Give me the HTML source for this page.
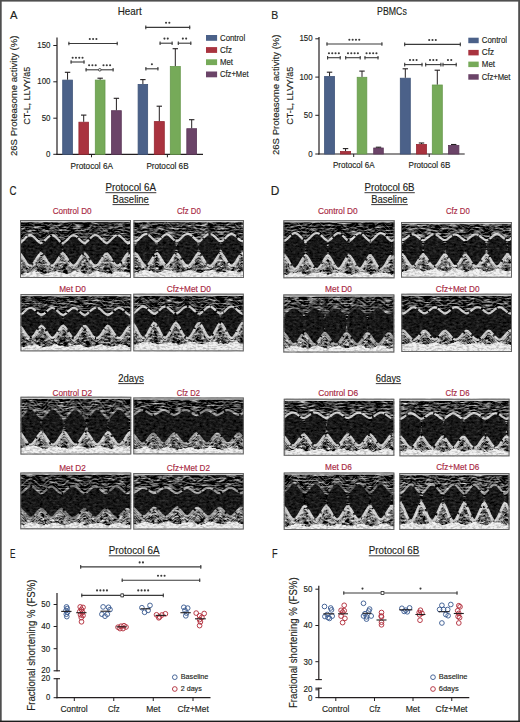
<!DOCTYPE html>
<html><head><meta charset="utf-8"><style>
html,body{margin:0;padding:0;background:#fff;}
body{width:520px;height:722px;overflow:hidden;font-family:"Liberation Sans", sans-serif;}
svg{display:block;}
</style></head><body>
<svg width="520" height="722" viewBox="0 0 520 722" font-family='"Liberation Sans", sans-serif'><rect x="0.00" y="0.00" width="520.00" height="722.00" fill="#ffffff"/><text x="10.00" y="19.00" font-size="11.5" fill="#231f20" stroke="#231f20" stroke-width="0.15" textLength="7.50" lengthAdjust="spacingAndGlyphs" >A</text><text x="117.70" y="14.80" font-size="10.5" fill="#231f20" stroke="#231f20" stroke-width="0.15" textLength="24.10" lengthAdjust="spacingAndGlyphs" >Heart</text><line x1="57.00" y1="37.50" x2="57.00" y2="154.80" stroke="#231f20" stroke-width="1.2"/><line x1="56.40" y1="154.30" x2="203.00" y2="154.30" stroke="#231f20" stroke-width="1.2"/><line x1="53.30" y1="45.50" x2="57.00" y2="45.50" stroke="#231f20" stroke-width="1"/><text x="37.30" y="48.00" font-size="9" fill="#231f20" stroke="#231f20" stroke-width="0.15" textLength="13.20" lengthAdjust="spacingAndGlyphs" >150</text><line x1="53.30" y1="81.80" x2="57.00" y2="81.80" stroke="#231f20" stroke-width="1"/><text x="37.30" y="84.30" font-size="9" fill="#231f20" stroke="#231f20" stroke-width="0.15" textLength="13.20" lengthAdjust="spacingAndGlyphs" >100</text><line x1="53.30" y1="118.20" x2="57.00" y2="118.20" stroke="#231f20" stroke-width="1"/><text x="41.70" y="120.70" font-size="9" fill="#231f20" stroke="#231f20" stroke-width="0.15" textLength="8.80" lengthAdjust="spacingAndGlyphs" >50</text><line x1="53.30" y1="154.30" x2="57.00" y2="154.30" stroke="#231f20" stroke-width="1"/><text x="46.10" y="156.80" font-size="9" fill="#231f20" stroke="#231f20" stroke-width="0.15" textLength="4.40" lengthAdjust="spacingAndGlyphs" >0</text><line x1="91.50" y1="154.30" x2="91.50" y2="157.30" stroke="#231f20" stroke-width="1"/><line x1="167.40" y1="154.30" x2="167.40" y2="157.30" stroke="#231f20" stroke-width="1"/><text x="70.50" y="168.50" font-size="9" fill="#231f20" stroke="#231f20" stroke-width="0.15" textLength="42.50" lengthAdjust="spacingAndGlyphs" >Protocol 6A</text><text x="146.40" y="168.50" font-size="9" fill="#231f20" stroke="#231f20" stroke-width="0.15" textLength="42.20" lengthAdjust="spacingAndGlyphs" >Protocol 6B</text><text transform="translate(17.20,156.00) rotate(-90)" x="0" y="0" font-size="9.5" fill="#231f20" stroke="#231f20" stroke-width="0.15" textLength="120.40" lengthAdjust="spacingAndGlyphs">26S Proteasome activity (%)</text><text transform="translate(30.40,124.80) rotate(-90)" x="0" y="0" font-size="9.5" fill="#231f20" stroke="#231f20" stroke-width="0.15" textLength="58.10" lengthAdjust="spacingAndGlyphs">CT-L, LLVY/&#228;5</text><rect x="62.70" y="80.10" width="9.70" height="74.20" fill="#4b6189" stroke="#3f5479" stroke-width="0.8"/><line x1="67.55" y1="79.70" x2="67.55" y2="72.30" stroke="#231f20" stroke-width="1"/><line x1="64.85" y1="72.30" x2="70.25" y2="72.30" stroke="#231f20" stroke-width="1.1"/><rect x="78.90" y="122.20" width="9.60" height="32.10" fill="#a9333f" stroke="#962833" stroke-width="0.8"/><line x1="83.70" y1="121.80" x2="83.70" y2="115.10" stroke="#231f20" stroke-width="1"/><line x1="81.00" y1="115.10" x2="86.40" y2="115.10" stroke="#231f20" stroke-width="1.1"/><rect x="95.30" y="80.10" width="9.70" height="74.20" fill="#76aa59" stroke="#67994c" stroke-width="0.8"/><line x1="100.15" y1="79.70" x2="100.15" y2="78.20" stroke="#231f20" stroke-width="1"/><line x1="97.45" y1="78.20" x2="102.85" y2="78.20" stroke="#231f20" stroke-width="1.1"/><rect x="111.50" y="110.70" width="9.80" height="43.60" fill="#6b4468" stroke="#5c3859" stroke-width="0.8"/><line x1="116.40" y1="110.30" x2="116.40" y2="98.30" stroke="#231f20" stroke-width="1"/><line x1="113.70" y1="98.30" x2="119.10" y2="98.30" stroke="#231f20" stroke-width="1.1"/><rect x="138.10" y="84.40" width="9.55" height="69.90" fill="#4b6189" stroke="#3f5479" stroke-width="0.8"/><line x1="142.88" y1="84.00" x2="142.88" y2="79.60" stroke="#231f20" stroke-width="1"/><line x1="140.18" y1="79.60" x2="145.57" y2="79.60" stroke="#231f20" stroke-width="1.1"/><rect x="154.30" y="121.60" width="10.00" height="32.70" fill="#a9333f" stroke="#962833" stroke-width="0.8"/><line x1="159.30" y1="121.20" x2="159.30" y2="106.20" stroke="#231f20" stroke-width="1"/><line x1="156.60" y1="106.20" x2="162.00" y2="106.20" stroke="#231f20" stroke-width="1.1"/><rect x="170.30" y="66.50" width="10.00" height="87.80" fill="#76aa59" stroke="#67994c" stroke-width="0.8"/><line x1="175.30" y1="66.10" x2="175.30" y2="48.70" stroke="#231f20" stroke-width="1"/><line x1="172.60" y1="48.70" x2="178.00" y2="48.70" stroke="#231f20" stroke-width="1.1"/><rect x="186.80" y="128.70" width="9.80" height="25.60" fill="#6b4468" stroke="#5c3859" stroke-width="0.8"/><line x1="191.70" y1="128.30" x2="191.70" y2="119.70" stroke="#231f20" stroke-width="1"/><line x1="189.00" y1="119.70" x2="194.40" y2="119.70" stroke="#231f20" stroke-width="1.1"/><line x1="68.40" y1="43.50" x2="117.70" y2="43.50" stroke="#3a3a3a" stroke-width="1.1"/><line x1="68.90" y1="41.70" x2="68.90" y2="45.30" stroke="#3a3a3a" stroke-width="1.1"/><line x1="117.20" y1="41.70" x2="117.20" y2="45.30" stroke="#3a3a3a" stroke-width="1.1"/><circle cx="89.80" cy="39.00" r="1.05" fill="#3a3a3a"/><circle cx="93.10" cy="39.00" r="1.05" fill="#3a3a3a"/><circle cx="96.40" cy="39.00" r="1.05" fill="#3a3a3a"/><line x1="70.60" y1="62.00" x2="84.50" y2="62.00" stroke="#3a3a3a" stroke-width="1.1"/><line x1="71.10" y1="60.20" x2="71.10" y2="63.80" stroke="#3a3a3a" stroke-width="1.1"/><line x1="84.00" y1="60.20" x2="84.00" y2="63.80" stroke="#3a3a3a" stroke-width="1.1"/><circle cx="72.65" cy="57.70" r="1.05" fill="#3a3a3a"/><circle cx="75.95" cy="57.70" r="1.05" fill="#3a3a3a"/><circle cx="79.25" cy="57.70" r="1.05" fill="#3a3a3a"/><circle cx="82.55" cy="57.70" r="1.05" fill="#3a3a3a"/><line x1="85.60" y1="69.80" x2="113.60" y2="69.80" stroke="#3a3a3a" stroke-width="1.1"/><line x1="86.10" y1="68.00" x2="86.10" y2="71.60" stroke="#3a3a3a" stroke-width="1.1"/><line x1="113.10" y1="68.00" x2="113.10" y2="71.60" stroke="#3a3a3a" stroke-width="1.1"/><circle cx="99.80" cy="69.80" r="1.3" fill="white" stroke="#3a3a3a" stroke-width="0.9"/><circle cx="89.10" cy="65.20" r="1.05" fill="#3a3a3a"/><circle cx="92.40" cy="65.20" r="1.05" fill="#3a3a3a"/><circle cx="95.70" cy="65.20" r="1.05" fill="#3a3a3a"/><circle cx="103.50" cy="65.20" r="1.05" fill="#3a3a3a"/><circle cx="106.80" cy="65.20" r="1.05" fill="#3a3a3a"/><circle cx="110.10" cy="65.20" r="1.05" fill="#3a3a3a"/><line x1="145.30" y1="27.40" x2="190.20" y2="27.40" stroke="#3a3a3a" stroke-width="1.1"/><line x1="145.80" y1="25.60" x2="145.80" y2="29.20" stroke="#3a3a3a" stroke-width="1.1"/><line x1="189.70" y1="25.60" x2="189.70" y2="29.20" stroke="#3a3a3a" stroke-width="1.1"/><circle cx="166.05" cy="22.80" r="1.05" fill="#3a3a3a"/><circle cx="169.35" cy="22.80" r="1.05" fill="#3a3a3a"/><line x1="159.60" y1="43.20" x2="172.60" y2="43.20" stroke="#3a3a3a" stroke-width="1.1"/><line x1="160.10" y1="41.40" x2="160.10" y2="45.00" stroke="#3a3a3a" stroke-width="1.1"/><line x1="172.10" y1="41.40" x2="172.10" y2="45.00" stroke="#3a3a3a" stroke-width="1.1"/><circle cx="164.45" cy="38.60" r="1.05" fill="#3a3a3a"/><circle cx="167.75" cy="38.60" r="1.05" fill="#3a3a3a"/><line x1="177.80" y1="43.20" x2="191.30" y2="43.20" stroke="#3a3a3a" stroke-width="1.1"/><line x1="178.30" y1="41.40" x2="178.30" y2="45.00" stroke="#3a3a3a" stroke-width="1.1"/><line x1="190.80" y1="41.40" x2="190.80" y2="45.00" stroke="#3a3a3a" stroke-width="1.1"/><circle cx="182.85" cy="38.60" r="1.05" fill="#3a3a3a"/><circle cx="186.15" cy="38.60" r="1.05" fill="#3a3a3a"/><line x1="145.40" y1="68.80" x2="158.40" y2="68.80" stroke="#3a3a3a" stroke-width="1.1"/><line x1="145.90" y1="67.00" x2="145.90" y2="70.60" stroke="#3a3a3a" stroke-width="1.1"/><line x1="157.90" y1="67.00" x2="157.90" y2="70.60" stroke="#3a3a3a" stroke-width="1.1"/><circle cx="151.90" cy="64.20" r="1.05" fill="#3a3a3a"/><rect x="206.00" y="35.00" width="11.10" height="5.80" fill="#4b6189"/><text x="220.00" y="40.90" font-size="9" fill="#231f20" stroke="#231f20" stroke-width="0.15" textLength="25.20" lengthAdjust="spacingAndGlyphs" >Control</text><rect x="206.00" y="47.10" width="11.10" height="5.80" fill="#a9333f"/><text x="220.00" y="53.00" font-size="9" fill="#231f20" stroke="#231f20" stroke-width="0.15" textLength="12.00" lengthAdjust="spacingAndGlyphs" >Cfz</text><rect x="206.00" y="59.30" width="11.10" height="5.80" fill="#76aa59"/><text x="220.00" y="65.20" font-size="9" fill="#231f20" stroke="#231f20" stroke-width="0.15" textLength="13.00" lengthAdjust="spacingAndGlyphs" >Met</text><rect x="206.00" y="71.50" width="11.10" height="5.80" fill="#6b4468"/><text x="220.00" y="77.40" font-size="9" fill="#231f20" stroke="#231f20" stroke-width="0.15" textLength="28.50" lengthAdjust="spacingAndGlyphs" >Cfz+Met</text><text x="271.20" y="19.00" font-size="11.5" fill="#231f20" stroke="#231f20" stroke-width="0.15" textLength="7.00" lengthAdjust="spacingAndGlyphs" >B</text><text x="377.10" y="14.70" font-size="10.5" fill="#231f20" stroke="#231f20" stroke-width="0.15" textLength="29.70" lengthAdjust="spacingAndGlyphs" >PBMCs</text><line x1="319.00" y1="37.00" x2="319.00" y2="154.60" stroke="#231f20" stroke-width="1.2"/><line x1="318.40" y1="154.00" x2="464.70" y2="154.00" stroke="#231f20" stroke-width="1.2"/><line x1="315.30" y1="38.80" x2="319.00" y2="38.80" stroke="#231f20" stroke-width="1"/><text x="299.40" y="41.30" font-size="9" fill="#231f20" stroke="#231f20" stroke-width="0.15" textLength="13.20" lengthAdjust="spacingAndGlyphs" >150</text><line x1="315.30" y1="77.10" x2="319.00" y2="77.10" stroke="#231f20" stroke-width="1"/><text x="299.40" y="79.60" font-size="9" fill="#231f20" stroke="#231f20" stroke-width="0.15" textLength="13.20" lengthAdjust="spacingAndGlyphs" >100</text><line x1="315.30" y1="115.30" x2="319.00" y2="115.30" stroke="#231f20" stroke-width="1"/><text x="303.80" y="117.80" font-size="9" fill="#231f20" stroke="#231f20" stroke-width="0.15" textLength="8.80" lengthAdjust="spacingAndGlyphs" >50</text><line x1="315.30" y1="154.00" x2="319.00" y2="154.00" stroke="#231f20" stroke-width="1"/><text x="308.20" y="156.50" font-size="9" fill="#231f20" stroke="#231f20" stroke-width="0.15" textLength="4.40" lengthAdjust="spacingAndGlyphs" >0</text><line x1="353.70" y1="154.00" x2="353.70" y2="157.00" stroke="#231f20" stroke-width="1"/><line x1="429.20" y1="154.00" x2="429.20" y2="157.00" stroke="#231f20" stroke-width="1"/><text x="333.00" y="167.80" font-size="9" fill="#231f20" stroke="#231f20" stroke-width="0.15" textLength="41.60" lengthAdjust="spacingAndGlyphs" >Protocol 6A</text><text x="408.50" y="167.80" font-size="9" fill="#231f20" stroke="#231f20" stroke-width="0.15" textLength="41.80" lengthAdjust="spacingAndGlyphs" >Protocol 6B</text><text transform="translate(279.20,155.00) rotate(-90)" x="0" y="0" font-size="9.5" fill="#231f20" stroke="#231f20" stroke-width="0.15" textLength="120.50" lengthAdjust="spacingAndGlyphs">26S Proteasome activity (%)</text><text transform="translate(292.50,124.80) rotate(-90)" x="0" y="0" font-size="9.5" fill="#231f20" stroke="#231f20" stroke-width="0.15" textLength="58.10" lengthAdjust="spacingAndGlyphs">CT-L, LLVY/&#228;5</text><rect x="324.60" y="76.50" width="9.90" height="77.50" fill="#4b6189" stroke="#3f5479" stroke-width="0.8"/><line x1="329.55" y1="76.10" x2="329.55" y2="72.20" stroke="#231f20" stroke-width="1"/><line x1="326.85" y1="72.20" x2="332.25" y2="72.20" stroke="#231f20" stroke-width="1.1"/><rect x="340.50" y="151.50" width="10.10" height="2.50" fill="#a9333f" stroke="#962833" stroke-width="0.8"/><line x1="345.55" y1="151.10" x2="345.55" y2="148.60" stroke="#231f20" stroke-width="1"/><line x1="342.85" y1="148.60" x2="348.25" y2="148.60" stroke="#231f20" stroke-width="1.1"/><rect x="357.20" y="77.30" width="9.60" height="76.70" fill="#76aa59" stroke="#67994c" stroke-width="0.8"/><line x1="362.00" y1="76.90" x2="362.00" y2="71.10" stroke="#231f20" stroke-width="1"/><line x1="359.30" y1="71.10" x2="364.70" y2="71.10" stroke="#231f20" stroke-width="1.1"/><rect x="373.70" y="148.00" width="9.60" height="6.00" fill="#6b4468" stroke="#5c3859" stroke-width="0.8"/><line x1="378.50" y1="147.60" x2="378.50" y2="147.20" stroke="#231f20" stroke-width="1"/><line x1="375.80" y1="147.20" x2="381.20" y2="147.20" stroke="#231f20" stroke-width="1.1"/><rect x="400.30" y="78.20" width="10.00" height="75.80" fill="#4b6189" stroke="#3f5479" stroke-width="0.8"/><line x1="405.30" y1="77.80" x2="405.30" y2="68.80" stroke="#231f20" stroke-width="1"/><line x1="402.60" y1="68.80" x2="408.00" y2="68.80" stroke="#231f20" stroke-width="1.1"/><rect x="416.50" y="144.40" width="10.00" height="9.60" fill="#a9333f" stroke="#962833" stroke-width="0.8"/><line x1="421.50" y1="144.00" x2="421.50" y2="143.00" stroke="#231f20" stroke-width="1"/><line x1="418.80" y1="143.00" x2="424.20" y2="143.00" stroke="#231f20" stroke-width="1.1"/><rect x="432.30" y="85.00" width="10.00" height="69.00" fill="#76aa59" stroke="#67994c" stroke-width="0.8"/><line x1="437.30" y1="84.60" x2="437.30" y2="70.20" stroke="#231f20" stroke-width="1"/><line x1="434.60" y1="70.20" x2="440.00" y2="70.20" stroke="#231f20" stroke-width="1.1"/><rect x="448.50" y="145.40" width="10.40" height="8.60" fill="#6b4468" stroke="#5c3859" stroke-width="0.8"/><line x1="453.70" y1="145.00" x2="453.70" y2="144.50" stroke="#231f20" stroke-width="1"/><line x1="451.00" y1="144.50" x2="456.40" y2="144.50" stroke="#231f20" stroke-width="1.1"/><line x1="326.50" y1="44.00" x2="382.40" y2="44.00" stroke="#3a3a3a" stroke-width="1.1"/><line x1="327.00" y1="42.20" x2="327.00" y2="45.80" stroke="#3a3a3a" stroke-width="1.1"/><line x1="381.90" y1="42.20" x2="381.90" y2="45.80" stroke="#3a3a3a" stroke-width="1.1"/><circle cx="349.35" cy="39.70" r="1.05" fill="#3a3a3a"/><circle cx="352.65" cy="39.70" r="1.05" fill="#3a3a3a"/><circle cx="355.95" cy="39.70" r="1.05" fill="#3a3a3a"/><circle cx="359.25" cy="39.70" r="1.05" fill="#3a3a3a"/><line x1="327.10" y1="57.70" x2="340.70" y2="57.70" stroke="#3a3a3a" stroke-width="1.1"/><line x1="327.60" y1="55.90" x2="327.60" y2="59.50" stroke="#3a3a3a" stroke-width="1.1"/><line x1="340.20" y1="55.90" x2="340.20" y2="59.50" stroke="#3a3a3a" stroke-width="1.1"/><circle cx="328.95" cy="53.20" r="1.05" fill="#3a3a3a"/><circle cx="332.25" cy="53.20" r="1.05" fill="#3a3a3a"/><circle cx="335.55" cy="53.20" r="1.05" fill="#3a3a3a"/><circle cx="338.85" cy="53.20" r="1.05" fill="#3a3a3a"/><line x1="345.20" y1="57.70" x2="360.70" y2="57.70" stroke="#3a3a3a" stroke-width="1.1"/><line x1="345.70" y1="55.90" x2="345.70" y2="59.50" stroke="#3a3a3a" stroke-width="1.1"/><line x1="360.20" y1="55.90" x2="360.20" y2="59.50" stroke="#3a3a3a" stroke-width="1.1"/><circle cx="348.00" cy="53.20" r="1.05" fill="#3a3a3a"/><circle cx="351.30" cy="53.20" r="1.05" fill="#3a3a3a"/><circle cx="354.60" cy="53.20" r="1.05" fill="#3a3a3a"/><circle cx="357.90" cy="53.20" r="1.05" fill="#3a3a3a"/><line x1="364.50" y1="57.70" x2="378.50" y2="57.70" stroke="#3a3a3a" stroke-width="1.1"/><line x1="365.00" y1="55.90" x2="365.00" y2="59.50" stroke="#3a3a3a" stroke-width="1.1"/><line x1="378.00" y1="55.90" x2="378.00" y2="59.50" stroke="#3a3a3a" stroke-width="1.1"/><circle cx="366.55" cy="53.20" r="1.05" fill="#3a3a3a"/><circle cx="369.85" cy="53.20" r="1.05" fill="#3a3a3a"/><circle cx="373.15" cy="53.20" r="1.05" fill="#3a3a3a"/><circle cx="376.45" cy="53.20" r="1.05" fill="#3a3a3a"/><line x1="404.20" y1="44.40" x2="460.80" y2="44.40" stroke="#3a3a3a" stroke-width="1.1"/><line x1="404.70" y1="42.60" x2="404.70" y2="46.20" stroke="#3a3a3a" stroke-width="1.1"/><line x1="460.30" y1="42.60" x2="460.30" y2="46.20" stroke="#3a3a3a" stroke-width="1.1"/><circle cx="429.20" cy="40.00" r="1.05" fill="#3a3a3a"/><circle cx="432.50" cy="40.00" r="1.05" fill="#3a3a3a"/><circle cx="435.80" cy="40.00" r="1.05" fill="#3a3a3a"/><line x1="404.20" y1="64.60" x2="422.50" y2="64.60" stroke="#3a3a3a" stroke-width="1.1"/><line x1="404.70" y1="62.80" x2="404.70" y2="66.40" stroke="#3a3a3a" stroke-width="1.1"/><line x1="422.00" y1="62.80" x2="422.00" y2="66.40" stroke="#3a3a3a" stroke-width="1.1"/><circle cx="410.00" cy="60.00" r="1.05" fill="#3a3a3a"/><circle cx="413.30" cy="60.00" r="1.05" fill="#3a3a3a"/><circle cx="416.60" cy="60.00" r="1.05" fill="#3a3a3a"/><line x1="425.20" y1="64.60" x2="441.40" y2="64.60" stroke="#3a3a3a" stroke-width="1.1"/><line x1="425.70" y1="62.80" x2="425.70" y2="66.40" stroke="#3a3a3a" stroke-width="1.1"/><line x1="440.90" y1="62.80" x2="440.90" y2="66.40" stroke="#3a3a3a" stroke-width="1.1"/><circle cx="430.00" cy="60.00" r="1.05" fill="#3a3a3a"/><circle cx="433.30" cy="60.00" r="1.05" fill="#3a3a3a"/><circle cx="436.60" cy="60.00" r="1.05" fill="#3a3a3a"/><line x1="442.50" y1="64.60" x2="456.70" y2="64.60" stroke="#3a3a3a" stroke-width="1.1"/><line x1="443.00" y1="62.80" x2="443.00" y2="66.40" stroke="#3a3a3a" stroke-width="1.1"/><line x1="456.20" y1="62.80" x2="456.20" y2="66.40" stroke="#3a3a3a" stroke-width="1.1"/><circle cx="447.95" cy="60.00" r="1.05" fill="#3a3a3a"/><circle cx="451.25" cy="60.00" r="1.05" fill="#3a3a3a"/><rect x="468.30" y="37.70" width="10.40" height="5.50" fill="#4b6189"/><text x="481.80" y="43.10" font-size="9" fill="#231f20" stroke="#231f20" stroke-width="0.15" textLength="25.30" lengthAdjust="spacingAndGlyphs" >Control</text><rect x="468.30" y="49.90" width="10.40" height="5.50" fill="#a9333f"/><text x="481.80" y="55.30" font-size="9" fill="#231f20" stroke="#231f20" stroke-width="0.15" textLength="12.20" lengthAdjust="spacingAndGlyphs" >Cfz</text><rect x="468.30" y="61.60" width="10.40" height="5.50" fill="#76aa59"/><text x="481.80" y="67.00" font-size="9" fill="#231f20" stroke="#231f20" stroke-width="0.15" textLength="13.20" lengthAdjust="spacingAndGlyphs" >Met</text><rect x="468.30" y="74.20" width="10.40" height="5.50" fill="#6b4468"/><text x="481.80" y="79.60" font-size="9" fill="#231f20" stroke="#231f20" stroke-width="0.15" textLength="28.70" lengthAdjust="spacingAndGlyphs" >Cfz+Met</text><text x="9.40" y="194.80" font-size="12" fill="#231f20" stroke="#231f20" stroke-width="0.15" textLength="7.00" lengthAdjust="spacingAndGlyphs" >C</text><text x="270.80" y="194.80" font-size="12" fill="#231f20" stroke="#231f20" stroke-width="0.15" textLength="8.60" lengthAdjust="spacingAndGlyphs" >D</text><text x="105.40" y="191.40" font-size="10.5" fill="#231f20" stroke="#231f20" stroke-width="0.15" textLength="50.60" lengthAdjust="spacingAndGlyphs" >Protocol 6A</text><line x1="105.40" y1="192.70" x2="156.30" y2="192.70" stroke="#231f20" stroke-width="0.9"/><text x="112.50" y="203.30" font-size="10.5" fill="#231f20" stroke="#231f20" stroke-width="0.15" textLength="36.40" lengthAdjust="spacingAndGlyphs" >Baseline</text><line x1="112.50" y1="204.60" x2="149.20" y2="204.60" stroke="#231f20" stroke-width="0.9"/><text x="118.25" y="382.30" font-size="10.5" fill="#231f20" stroke="#231f20" stroke-width="0.15" textLength="25.50" lengthAdjust="spacingAndGlyphs" >2days</text><line x1="118.25" y1="383.60" x2="144.05" y2="383.60" stroke="#231f20" stroke-width="0.9"/><text x="364.50" y="191.40" font-size="10.5" fill="#231f20" stroke="#231f20" stroke-width="0.15" textLength="50.00" lengthAdjust="spacingAndGlyphs" >Protocol 6B</text><line x1="364.50" y1="192.70" x2="414.80" y2="192.70" stroke="#231f20" stroke-width="0.9"/><text x="371.20" y="203.30" font-size="10.5" fill="#231f20" stroke="#231f20" stroke-width="0.15" textLength="36.30" lengthAdjust="spacingAndGlyphs" >Baseline</text><line x1="371.20" y1="204.60" x2="407.80" y2="204.60" stroke="#231f20" stroke-width="0.9"/><text x="375.80" y="382.30" font-size="10.5" fill="#231f20" stroke="#231f20" stroke-width="0.15" textLength="25.00" lengthAdjust="spacingAndGlyphs" >6days</text><line x1="375.80" y1="383.60" x2="401.10" y2="383.60" stroke="#231f20" stroke-width="0.9"/><text x="52.70" y="214.20" font-size="8.5" fill="#a8283f" stroke="#a8283f" stroke-width="0.15" textLength="38.90" lengthAdjust="spacingAndGlyphs" >Control D0</text><clipPath id="c0"><rect x="20" y="220" width="111" height="58"/></clipPath><filter id="nu0" x="0" y="0" width="100%" height="100%" color-interpolation-filters="sRGB"><feTurbulence type="fractalNoise" baseFrequency="0.12 0.6" numOctaves="3" seed="3"/><feColorMatrix type="matrix" values="1.833 0 0 0 -0.775  1.833 0 0 0 -0.775  1.833 0 0 0 -0.775  0 0 0 0 1"/><feGaussianBlur stdDeviation="0.3"/></filter><filter id="nc0" x="0" y="0" width="100%" height="100%" color-interpolation-filters="sRGB"><feTurbulence type="fractalNoise" baseFrequency="0.3 0.5" numOctaves="2" seed="23"/><feColorMatrix type="matrix" values="0.333 0 0 0 -0.073  0.333 0 0 0 -0.073  0.333 0 0 0 -0.073  0 0 0 0 1"/></filter><filter id="nb0" x="0" y="0" width="100%" height="100%" color-interpolation-filters="sRGB"><feTurbulence type="fractalNoise" baseFrequency="0.3 0.6" numOctaves="2" seed="43"/><feColorMatrix type="matrix" values="3.000 0 0 0 -0.716  3.000 0 0 0 -0.716  3.000 0 0 0 -0.716  0 0 0 0 1"/><feGaussianBlur stdDeviation="0.3"/></filter><filter id="bl0" x="0" y="0" width="100%" height="100%"><feGaussianBlur stdDeviation="0.35"/></filter><g clip-path="url(#c0)"><g filter="url(#bl0)"><rect x="20" y="220" width="111" height="58" fill="#000" filter="url(#nu0)"/><filter id="nl0" x="0" y="0" width="100%" height="100%" color-interpolation-filters="sRGB"><feTurbulence type="fractalNoise" baseFrequency="0.22 0.5" numOctaves="3" seed="63"/><feColorMatrix type="matrix" values="2.000 0 0 0 -0.769  2.000 0 0 0 -0.769  2.000 0 0 0 -0.769  0 0 0 0 1"/><feGaussianBlur stdDeviation="0.35"/></filter><clipPath id="cl0"><polygon points="20.0,254.6 21.6,256.3 23.2,258.6 24.8,261.2 26.3,263.6 27.9,265.6 29.5,266.7 31.1,266.6 32.7,265.3 34.3,263.2 35.9,260.7 37.4,258.2 39.0,256.0 40.6,254.4 42.2,254.9 43.8,256.8 45.4,259.2 47.0,261.8 48.5,264.1 50.1,265.9 51.7,266.8 53.3,266.2 54.9,264.6 56.5,262.4 58.1,259.8 59.6,257.4 61.2,255.3 62.8,254.1 64.4,255.5 66.0,257.6 67.6,260.1 69.2,262.6 70.7,264.8 72.3,266.3 73.9,266.7 75.5,265.8 77.1,263.9 78.7,261.5 80.3,258.9 81.8,256.6 83.4,254.8 85.0,254.5 86.6,256.2 88.2,258.4 89.8,261.0 91.4,263.5 92.9,265.5 94.5,266.6 96.1,266.7 97.7,265.8 99.3,263.9 100.9,261.5 102.5,258.9 104.0,256.6 105.6,254.8 107.2,254.5 108.8,256.2 110.4,258.4 112.0,261.0 113.6,263.5 115.1,265.5 116.7,266.6 118.3,266.6 119.9,265.4 121.5,263.4 123.1,260.9 124.7,258.3 126.2,256.1 127.8,254.5 129.4,254.8 131.0,256.7 131.0,278.0 20.0,278.0"/></clipPath><rect x="20" y="220" width="111" height="58" fill="#000" filter="url(#nl0)" clip-path="url(#cl0)"/><polyline points="20.0,239.4 21.6,238.3 23.2,236.8 24.8,235.2 26.3,233.6 27.9,232.4 29.5,231.7 31.1,231.7 32.7,232.6 34.3,233.9 35.9,235.5 37.4,237.1 39.0,238.5 40.6,239.5 42.2,239.1 43.8,238.0 45.4,236.4 47.0,234.8 48.5,233.3 50.1,232.2 51.7,231.6 53.3,232.0 54.9,233.0 56.5,234.4 58.1,236.0 59.6,237.6 61.2,238.9 62.8,239.7 64.4,238.8 66.0,237.5 67.6,235.9 69.2,234.2 70.7,232.8 72.3,231.9 73.9,231.6 75.5,232.2 77.1,233.4 78.7,235.0 80.3,236.6 81.8,238.1 83.4,239.2 85.0,239.4 86.6,238.4 88.2,236.9 89.8,235.3 91.4,233.7 92.9,232.4 94.5,231.7 96.1,231.6 97.7,232.2 99.3,233.4 100.9,235.0 102.5,236.6 104.0,238.1 105.6,239.2 107.2,239.4 108.8,238.4 110.4,236.9 112.0,235.3 113.6,233.7 115.1,232.4 116.7,231.7 118.3,231.7 119.9,232.5 121.5,233.8 123.1,235.3 124.7,237.0 126.2,238.4 127.8,239.4 129.4,239.2 131.0,238.1" fill="none" stroke="#cfcfcf" stroke-width="0.9" stroke-opacity="0.40" stroke-dasharray="6.1,3.8,8.2,4.5,8.5,1.3,4.9,1.2,9.8,1.7,6.9,3.9,6.0,4.5,7.0,1.1,4.8,2.7,4.3,1.4,6.7,3.9,9.9,4.8,3.4,2.3,5.3,1.7,5.8,4.6,9.1,4.8,6.6,2.1,4.9,3.8,6.0,2.4,9.3,2.7"/><polyline points="20.0,235.4 21.6,234.3 23.2,232.8 24.8,231.2 26.3,229.6 27.9,228.4 29.5,227.7 31.1,227.7 32.7,228.6 34.3,229.9 35.9,231.5 37.4,233.1 39.0,234.5 40.6,235.5 42.2,235.1 43.8,234.0 45.4,232.4 47.0,230.8 48.5,229.3 50.1,228.2 51.7,227.6 53.3,228.0 54.9,229.0 56.5,230.4 58.1,232.0 59.6,233.6 61.2,234.9 62.8,235.7 64.4,234.8 66.0,233.5 67.6,231.9 69.2,230.2 70.7,228.8 72.3,227.9 73.9,227.6 75.5,228.2 77.1,229.4 78.7,231.0 80.3,232.6 81.8,234.1 83.4,235.2 85.0,235.4 86.6,234.4 88.2,232.9 89.8,231.3 91.4,229.7 92.9,228.4 94.5,227.7 96.1,227.6 97.7,228.2 99.3,229.4 100.9,231.0 102.5,232.6 104.0,234.1 105.6,235.2 107.2,235.4 108.8,234.4 110.4,232.9 112.0,231.3 113.6,229.7 115.1,228.4 116.7,227.7 118.3,227.7 119.9,228.5 121.5,229.8 123.1,231.3 124.7,233.0 126.2,234.4 127.8,235.4 129.4,235.2 131.0,234.1" fill="none" stroke="#b0b0b0" stroke-width="1.1" stroke-opacity="0.38" stroke-dasharray="5.9,3.6,9.4,2.2,5.6,3.3,5.1,3.4,6.8,2.7,7.7,3.1,3.6,5.0,5.5,2.7,5.8,4.7,9.7,3.0,5.8,1.4,9.3,1.7,6.8,2.4,5.3,2.4,4.3,1.1,6.7,4.2,7.5,1.8,7.9,1.2,5.9,4.3,9.4,2.8"/><polyline points="20.0,231.4 21.6,230.3 23.2,228.8 24.8,227.2 26.3,225.6 27.9,224.4 29.5,223.7 31.1,223.7 32.7,224.6 34.3,225.9 35.9,227.5 37.4,229.1 39.0,230.5 40.6,231.5 42.2,231.1 43.8,230.0 45.4,228.4 47.0,226.8 48.5,225.3 50.1,224.2 51.7,223.6 53.3,224.0 54.9,225.0 56.5,226.4 58.1,228.0 59.6,229.6 61.2,230.9 62.8,231.7 64.4,230.8 66.0,229.5 67.6,227.9 69.2,226.2 70.7,224.8 72.3,223.9 73.9,223.6 75.5,224.2 77.1,225.4 78.7,227.0 80.3,228.6 81.8,230.1 83.4,231.2 85.0,231.4 86.6,230.4 88.2,228.9 89.8,227.3 91.4,225.7 92.9,224.4 94.5,223.7 96.1,223.6 97.7,224.2 99.3,225.4 100.9,227.0 102.5,228.6 104.0,230.1 105.6,231.2 107.2,231.4 108.8,230.4 110.4,228.9 112.0,227.3 113.6,225.7 115.1,224.4 116.7,223.7 118.3,223.7 119.9,224.5 121.5,225.8 123.1,227.3 124.7,229.0 126.2,230.4 127.8,231.4 129.4,231.2 131.0,230.1" fill="none" stroke="#cfcfcf" stroke-width="1.1" stroke-opacity="0.38" stroke-dasharray="7.1,5.0,8.2,2.9,8.1,3.6,5.5,4.1,8.7,3.4,9.6,1.1,6.5,3.5,5.4,1.7,7.8,2.7,4.9,1.2,9.8,2.4,3.8,1.9,4.8,4.5,4.3,2.1,3.7,2.9,4.5,2.4,8.1,4.7,8.8,1.2,5.6,4.4,3.2,1.8"/><polyline points="20.0,256.6 21.6,258.3 23.2,260.6 24.8,263.2 26.3,265.6 27.9,267.6 29.5,268.7 31.1,268.6 32.7,267.3 34.3,265.2 35.9,262.7 37.4,260.2 39.0,258.0 40.6,256.4 42.2,256.9 43.8,258.8 45.4,261.2 47.0,263.8 48.5,266.1 50.1,267.9 51.7,268.8 53.3,268.2 54.9,266.6 56.5,264.4 58.1,261.8 59.6,259.4 61.2,257.3 62.8,256.1 64.4,257.5 66.0,259.6 67.6,262.1 69.2,264.6 70.7,266.8 72.3,268.3 73.9,268.7 75.5,267.8 77.1,265.9 78.7,263.5 80.3,260.9 81.8,258.6 83.4,256.8 85.0,256.5 86.6,258.2 88.2,260.4 89.8,263.0 91.4,265.5 92.9,267.5 94.5,268.6 96.1,268.7 97.7,267.8 99.3,265.9 100.9,263.5 102.5,260.9 104.0,258.6 105.6,256.8 107.2,256.5 108.8,258.2 110.4,260.4 112.0,263.0 113.6,265.5 115.1,267.5 116.7,268.6 118.3,268.6 119.9,267.4 121.5,265.4 123.1,262.9 124.7,260.3 126.2,258.1 127.8,256.5 129.4,256.8 131.0,258.7" fill="none" stroke="#c0c0c0" stroke-width="1.3" stroke-opacity="0.36" stroke-dasharray="9.2,2.3,5.3,3.7,4.0,3.8,11.4,2.7,4.6,3.9,5.9,1.1,4.4,1.8,10.6,3.1,5.5,3.3,4.9,3.4,7.1,3.0,7.0,2.3,6.2,1.8,11.7,3.1,9.3,2.8,4.0,3.5,11.6,2.9,8.8,1.8,10.6,1.8,5.3,2.6"/><polyline points="20.0,259.2 21.6,260.9 23.2,263.2 24.8,265.8 26.3,268.2 27.9,270.2 29.5,271.3 31.1,271.2 32.7,269.9 34.3,267.8 35.9,265.3 37.4,262.8 39.0,260.6 40.6,259.0 42.2,259.5 43.8,261.4 45.4,263.8 47.0,266.4 48.5,268.7 50.1,270.5 51.7,271.4 53.3,270.8 54.9,269.2 56.5,267.0 58.1,264.4 59.6,262.0 61.2,259.9 62.8,258.7 64.4,260.1 66.0,262.2 67.6,264.7 69.2,267.2 70.7,269.4 72.3,270.9 73.9,271.3 75.5,270.4 77.1,268.5 78.7,266.1 80.3,263.5 81.8,261.2 83.4,259.4 85.0,259.1 86.6,260.8 88.2,263.0 89.8,265.6 91.4,268.1 92.9,270.1 94.5,271.2 96.1,271.3 97.7,270.4 99.3,268.5 100.9,266.1 102.5,263.5 104.0,261.2 105.6,259.4 107.2,259.1 108.8,260.8 110.4,263.0 112.0,265.6 113.6,268.1 115.1,270.1 116.7,271.2 118.3,271.2 119.9,270.0 121.5,268.0 123.1,265.5 124.7,262.9 126.2,260.7 127.8,259.1 129.4,259.4 131.0,261.3" fill="none" stroke="#c0c0c0" stroke-width="1.4" stroke-opacity="0.48" stroke-dasharray="9.3,3.5,11.8,1.6,6.7,3.6,9.9,2.2,8.9,1.6,4.5,1.2,6.4,1.7,7.7,3.9,4.4,2.7,10.8,2.8,7.7,3.3,3.2,3.8,9.2,3.4,10.4,1.3,3.6,1.5,7.5,3.8,11.2,2.2,8.6,3.2,6.0,3.9,11.5,3.2"/><polyline points="20.0,261.8 21.6,263.5 23.2,265.8 24.8,268.4 26.3,270.8 27.9,272.8 29.5,273.9 31.1,273.8 32.7,272.5 34.3,270.4 35.9,267.9 37.4,265.4 39.0,263.2 40.6,261.6 42.2,262.1 43.8,264.0 45.4,266.4 47.0,269.0 48.5,271.3 50.1,273.1 51.7,274.0 53.3,273.4 54.9,271.8 56.5,269.6 58.1,267.0 59.6,264.6 61.2,262.5 62.8,261.3 64.4,262.7 66.0,264.8 67.6,267.3 69.2,269.8 70.7,272.0 72.3,273.5 73.9,273.9 75.5,273.0 77.1,271.1 78.7,268.7 80.3,266.1 81.8,263.8 83.4,262.0 85.0,261.7 86.6,263.4 88.2,265.6 89.8,268.2 91.4,270.7 92.9,272.7 94.5,273.8 96.1,273.9 97.7,273.0 99.3,271.1 100.9,268.7 102.5,266.1 104.0,263.8 105.6,262.0 107.2,261.7 108.8,263.4 110.4,265.6 112.0,268.2 113.6,270.7 115.1,272.7 116.7,273.8 118.3,273.8 119.9,272.6 121.5,270.6 123.1,268.1 124.7,265.5 126.2,263.3 127.8,261.7 129.4,262.0 131.0,263.9" fill="none" stroke="#d8d8d8" stroke-width="1.4" stroke-opacity="0.51" stroke-dasharray="5.9,1.8,5.1,1.2,11.3,1.9,3.2,1.9,3.9,2.3,6.0,1.5,7.3,2.2,6.2,3.4,5.8,2.6,10.9,3.9,6.4,1.1,11.6,2.5,5.0,1.4,5.2,1.9,4.2,1.1,11.9,3.5,4.0,2.4,10.2,2.5,3.6,2.0,6.4,3.7"/><polyline points="20.0,264.4 21.6,266.1 23.2,268.4 24.8,271.0 26.3,273.4 27.9,275.4 29.5,276.5 31.1,276.4 32.7,275.1 34.3,273.0 35.9,270.5 37.4,268.0 39.0,265.8 40.6,264.2 42.2,264.7 43.8,266.6 45.4,269.0 47.0,271.6 48.5,273.9 50.1,275.7 51.7,276.6 53.3,276.0 54.9,274.4 56.5,272.2 58.1,269.6 59.6,267.2 61.2,265.1 62.8,263.9 64.4,265.3 66.0,267.4 67.6,269.9 69.2,272.4 70.7,274.6 72.3,276.1 73.9,276.5 75.5,275.6 77.1,273.7 78.7,271.3 80.3,268.7 81.8,266.4 83.4,264.6 85.0,264.3 86.6,266.0 88.2,268.2 89.8,270.8 91.4,273.3 92.9,275.3 94.5,276.4 96.1,276.5 97.7,275.6 99.3,273.7 100.9,271.3 102.5,268.7 104.0,266.4 105.6,264.6 107.2,264.3 108.8,266.0 110.4,268.2 112.0,270.8 113.6,273.3 115.1,275.3 116.7,276.4 118.3,276.4 119.9,275.2 121.5,273.2 123.1,270.7 124.7,268.1 126.2,265.9 127.8,264.3 129.4,264.6 131.0,266.5" fill="none" stroke="#eeeeee" stroke-width="1.4" stroke-opacity="0.46" stroke-dasharray="7.8,2.2,7.1,3.6,7.0,1.6,9.2,3.8,4.0,3.5,9.8,1.2,8.1,3.4,5.4,1.4,9.9,1.5,10.1,2.6,8.3,1.6,10.1,3.2,7.0,3.1,10.0,3.0,7.1,3.4,6.8,3.3,4.9,1.7,8.8,1.8,5.6,1.1,11.3,2.8"/><clipPath id="cv0"><polygon points="20.0,245.6 21.6,243.0 23.2,241.5 24.8,239.9 26.3,238.3 27.9,237.1 29.5,236.4 31.1,236.4 32.7,237.3 34.3,238.6 35.9,240.2 37.4,241.8 39.0,243.2 40.6,247.0 42.2,243.8 43.8,242.7 45.4,241.1 47.0,239.5 48.5,238.0 50.1,236.9 51.7,236.3 53.3,236.7 54.9,237.7 56.5,239.1 58.1,240.7 59.6,242.3 61.2,243.6 62.8,249.0 64.4,243.5 66.0,242.2 67.6,240.6 69.2,238.9 70.7,237.5 72.3,236.6 73.9,236.3 75.5,236.9 77.1,238.1 78.7,239.7 80.3,241.3 81.8,242.8 83.4,244.4 85.0,246.2 86.6,243.1 88.2,241.6 89.8,240.0 91.4,238.4 92.9,237.1 94.5,236.4 96.1,236.3 97.7,236.9 99.3,238.1 100.9,239.7 102.5,241.3 104.0,242.8 105.6,244.4 107.2,246.2 108.8,243.1 110.4,241.6 112.0,240.0 113.6,238.4 115.1,237.1 116.7,236.4 118.3,236.4 119.9,237.2 121.5,238.5 123.1,240.0 124.7,241.7 126.2,243.1 127.8,246.5 129.4,244.1 131.0,242.8 131.0,254.5 129.4,252.4 127.8,249.9 126.2,253.9 124.7,256.1 123.1,258.7 121.5,261.2 119.9,263.2 118.3,264.4 116.7,264.4 115.1,263.3 113.6,261.3 112.0,258.8 110.4,256.2 108.8,254.0 107.2,250.2 105.6,252.1 104.0,254.4 102.5,256.7 100.9,259.3 99.3,261.7 97.7,263.6 96.1,264.5 94.5,264.4 92.9,263.3 91.4,261.3 89.8,258.8 88.2,256.2 86.6,254.0 85.0,250.2 83.4,252.1 81.8,254.4 80.3,256.7 78.7,259.3 77.1,261.7 75.5,263.6 73.9,264.5 72.3,264.1 70.7,262.6 69.2,260.4 67.6,257.9 66.0,255.4 64.4,253.3 62.8,247.3 61.2,253.1 59.6,255.2 58.1,257.6 56.5,260.2 54.9,262.4 53.3,264.0 51.7,264.6 50.1,263.7 48.5,261.9 47.0,259.6 45.4,257.0 43.8,254.6 42.2,252.7 40.6,249.3 39.0,253.8 37.4,256.0 35.9,258.5 34.3,261.0 32.7,263.1 31.1,264.4 29.5,264.5 27.9,263.4 26.3,261.4 24.8,259.0 23.2,256.4 21.6,254.1 20.0,250.8"/></clipPath><rect x="20" y="220" width="111" height="58" fill="#000" filter="url(#nc0)" clip-path="url(#cv0)" opacity="0.92"/><polyline points="20.0,242.9 21.6,241.8 23.2,240.3 24.8,238.7 26.3,237.1 27.9,235.9 29.5,235.2 31.1,235.2 32.7,236.1 34.3,237.4 35.9,239.0 37.4,240.6 39.0,242.0 40.6,243.0 42.2,242.6 43.8,241.5 45.4,239.9 47.0,238.3 48.5,236.8 50.1,235.7 51.7,235.1 53.3,235.5 54.9,236.5 56.5,237.9 58.1,239.5 59.6,241.1 61.2,242.4 62.8,243.2 64.4,242.3 66.0,241.0 67.6,239.4 69.2,237.7 70.7,236.3 72.3,235.4 73.9,235.1 75.5,235.7 77.1,236.9 78.7,238.5 80.3,240.1 81.8,241.6 83.4,242.7 85.0,242.9 86.6,241.9 88.2,240.4 89.8,238.8 91.4,237.2 92.9,235.9 94.5,235.2 96.1,235.1 97.7,235.7 99.3,236.9 100.9,238.5 102.5,240.1 104.0,241.6 105.6,242.7 107.2,242.9 108.8,241.9 110.4,240.4 112.0,238.8 113.6,237.2 115.1,235.9 116.7,235.2 118.3,235.2 119.9,236.0 121.5,237.3 123.1,238.8 124.7,240.5 126.2,241.9 127.8,242.9 129.4,242.7 131.0,241.6" fill="none" stroke="#f4f4f4" stroke-width="2.2" stroke-opacity="0.8" stroke-dasharray="9.4,1.6,17.3,2.5,7.7,2.1,10.9,1.4,19.5,1.0,13.7,1.7,15.1,1.0,17.3,1.7,18.9,1.5,7.4,1.7,16.4,0.8,8.3,2.5,10.7,1.6,8.3,1.8,15.9,1.2,7.7,1.1,16.0,2.0,15.4,2.0,13.5,1.4,17.0,1.3"/><polyline points="20.0,253.6 21.6,255.3 23.2,257.6 24.8,260.2 26.3,262.6 27.9,264.6 29.5,265.7 31.1,265.6 32.7,264.3 34.3,262.2 35.9,259.7 37.4,257.2 39.0,255.0 40.6,253.4 42.2,253.9 43.8,255.8 45.4,258.2 47.0,260.8 48.5,263.1 50.1,264.9 51.7,265.8 53.3,265.2 54.9,263.6 56.5,261.4 58.1,258.8 59.6,256.4 61.2,254.3 62.8,253.1 64.4,254.5 66.0,256.6 67.6,259.1 69.2,261.6 70.7,263.8 72.3,265.3 73.9,265.7 75.5,264.8 77.1,262.9 78.7,260.5 80.3,257.9 81.8,255.6 83.4,253.8 85.0,253.5 86.6,255.2 88.2,257.4 89.8,260.0 91.4,262.5 92.9,264.5 94.5,265.6 96.1,265.7 97.7,264.8 99.3,262.9 100.9,260.5 102.5,257.9 104.0,255.6 105.6,253.8 107.2,253.5 108.8,255.2 110.4,257.4 112.0,260.0 113.6,262.5 115.1,264.5 116.7,265.6 118.3,265.6 119.9,264.4 121.5,262.4 123.1,259.9 124.7,257.3 126.2,255.1 127.8,253.5 129.4,253.8 131.0,255.7" fill="none" stroke="#f4f4f4" stroke-width="2.3" stroke-opacity="0.8" stroke-dasharray="17.9,2.1,14.9,1.8,11.1,0.8,13.4,2.4,11.8,2.4,19.3,2.1,7.3,2.3,19.6,1.2,14.0,1.8,9.8,2.0,10.6,1.5,7.4,0.9,10.9,0.9,12.2,2.2,6.2,1.9,11.9,1.4,6.4,1.6,9.0,1.0,13.9,2.3,19.1,2.5"/><polyline points="20.0,256.4 21.6,258.1 23.2,260.4 24.8,263.0 26.3,265.4 27.9,267.4 29.5,268.5 31.1,268.4 32.7,267.1 34.3,265.0 35.9,262.5 37.4,260.0 39.0,257.8 40.6,256.2 42.2,256.7 43.8,258.6 45.4,261.0 47.0,263.6 48.5,265.9 50.1,267.7 51.7,268.6 53.3,268.0 54.9,266.4 56.5,264.2 58.1,261.6 59.6,259.2 61.2,257.1 62.8,255.9 64.4,257.3 66.0,259.4 67.6,261.9 69.2,264.4 70.7,266.6 72.3,268.1 73.9,268.5 75.5,267.6 77.1,265.7 78.7,263.3 80.3,260.7 81.8,258.4 83.4,256.6 85.0,256.3 86.6,258.0 88.2,260.2 89.8,262.8 91.4,265.3 92.9,267.3 94.5,268.4 96.1,268.5 97.7,267.6 99.3,265.7 100.9,263.3 102.5,260.7 104.0,258.4 105.6,256.6 107.2,256.3 108.8,258.0 110.4,260.2 112.0,262.8 113.6,265.3 115.1,267.3 116.7,268.4 118.3,268.4 119.9,267.2 121.5,265.2 123.1,262.7 124.7,260.1 126.2,257.9 127.8,256.3 129.4,256.6 131.0,258.5" fill="none" stroke="#e8e8e8" stroke-width="1.3" stroke-opacity="0.56" stroke-dasharray="6.1,1.9,7.0,1.8,6.8,1.5,5.6,3.0,6.9,1.8,11.5,2.0,7.8,2.2,8.6,1.5,8.1,2.1,14.7,1.3,9.2,1.3,13.1,2.5,12.5,1.7,14.2,2.6,14.2,1.9,11.1,2.0,6.9,1.4,12.3,1.1,5.3,2.0,10.5,1.4"/><polygon points="20.0,273.7 21.6,274.4 23.2,274.4 24.8,272.8 26.3,272.5 27.9,273.0 29.5,272.3 31.1,271.6 32.7,271.6 34.3,270.8 35.9,272.3 37.4,271.6 39.0,272.1 40.6,273.7 42.2,274.3 43.8,274.4 45.4,273.9 47.0,273.0 48.5,273.5 50.1,272.4 51.7,272.0 53.3,271.7 54.9,271.4 56.5,271.0 58.1,272.0 59.6,271.7 61.2,272.6 62.8,272.7 64.4,272.9 66.0,274.0 67.6,274.2 69.2,273.3 70.7,273.1 72.3,271.7 73.9,271.0 75.5,270.7 77.1,272.0 78.7,271.9 80.3,271.1 81.8,272.6 83.4,273.2 85.0,273.8 86.6,273.5 88.2,273.9 89.8,273.8 91.4,273.4 92.9,272.0 94.5,271.6 96.1,271.2 97.7,270.7 99.3,271.7 100.9,271.5 102.5,272.5 104.0,272.6 105.6,272.9 107.2,274.2 108.8,273.3 110.4,273.3 112.0,274.1 113.6,272.2 115.1,271.7 116.7,272.1 118.3,270.7 119.9,272.0 121.5,271.4 123.1,271.5 124.7,271.9 126.2,272.7 127.8,273.2 129.4,273.3 131.0,274.4 131.0,278.0 20.0,278.0" fill="#f6f6f6" fill-opacity="0.95"/><clipPath id="cb0"><polygon points="20.0,273.7 21.6,274.4 23.2,274.4 24.8,272.8 26.3,272.5 27.9,273.0 29.5,272.3 31.1,271.6 32.7,271.6 34.3,270.8 35.9,272.3 37.4,271.6 39.0,272.1 40.6,273.7 42.2,274.3 43.8,274.4 45.4,273.9 47.0,273.0 48.5,273.5 50.1,272.4 51.7,272.0 53.3,271.7 54.9,271.4 56.5,271.0 58.1,272.0 59.6,271.7 61.2,272.6 62.8,272.7 64.4,272.9 66.0,274.0 67.6,274.2 69.2,273.3 70.7,273.1 72.3,271.7 73.9,271.0 75.5,270.7 77.1,272.0 78.7,271.9 80.3,271.1 81.8,272.6 83.4,273.2 85.0,273.8 86.6,273.5 88.2,273.9 89.8,273.8 91.4,273.4 92.9,272.0 94.5,271.6 96.1,271.2 97.7,270.7 99.3,271.7 100.9,271.5 102.5,272.5 104.0,272.6 105.6,272.9 107.2,274.2 108.8,273.3 110.4,273.3 112.0,274.1 113.6,272.2 115.1,271.7 116.7,272.1 118.3,270.7 119.9,272.0 121.5,271.4 123.1,271.5 124.7,271.9 126.2,272.7 127.8,273.2 129.4,273.3 131.0,274.4 131.0,278.0 20.0,278.0"/></clipPath><rect x="20" y="220" width="111" height="58" fill="#000" filter="url(#nb0)" clip-path="url(#cb0)" opacity="0.22"/><rect x="20" y="220" width="111" height="2.2" fill="#e4e4e4" fill-opacity="0.85"/></g></g><rect x="20.5" y="220.5" width="110" height="57" fill="none" stroke="#666666" stroke-width="1"/><text x="177.00" y="214.20" font-size="8.5" fill="#a8283f" stroke="#a8283f" stroke-width="0.15" textLength="23.80" lengthAdjust="spacingAndGlyphs" >Cfz D0</text><clipPath id="c1"><rect x="133.5" y="220" width="110.5" height="58"/></clipPath><filter id="nu1" x="0" y="0" width="100%" height="100%" color-interpolation-filters="sRGB"><feTurbulence type="fractalNoise" baseFrequency="0.12 0.6" numOctaves="3" seed="4"/><feColorMatrix type="matrix" values="1.833 0 0 0 -0.721  1.833 0 0 0 -0.721  1.833 0 0 0 -0.721  0 0 0 0 1"/><feGaussianBlur stdDeviation="0.3"/></filter><filter id="nc1" x="0" y="0" width="100%" height="100%" color-interpolation-filters="sRGB"><feTurbulence type="fractalNoise" baseFrequency="0.3 0.5" numOctaves="2" seed="24"/><feColorMatrix type="matrix" values="0.333 0 0 0 -0.073  0.333 0 0 0 -0.073  0.333 0 0 0 -0.073  0 0 0 0 1"/></filter><filter id="nb1" x="0" y="0" width="100%" height="100%" color-interpolation-filters="sRGB"><feTurbulence type="fractalNoise" baseFrequency="0.3 0.6" numOctaves="2" seed="44"/><feColorMatrix type="matrix" values="3.000 0 0 0 -0.716  3.000 0 0 0 -0.716  3.000 0 0 0 -0.716  0 0 0 0 1"/><feGaussianBlur stdDeviation="0.3"/></filter><filter id="bl1" x="0" y="0" width="100%" height="100%"><feGaussianBlur stdDeviation="0.35"/></filter><g clip-path="url(#c1)"><g filter="url(#bl1)"><rect x="133.5" y="220" width="110.5" height="58" fill="#000" filter="url(#nu1)"/><filter id="nl1" x="0" y="0" width="100%" height="100%" color-interpolation-filters="sRGB"><feTurbulence type="fractalNoise" baseFrequency="0.22 0.5" numOctaves="3" seed="64"/><feColorMatrix type="matrix" values="2.000 0 0 0 -0.749  2.000 0 0 0 -0.749  2.000 0 0 0 -0.749  0 0 0 0 1"/><feGaussianBlur stdDeviation="0.35"/></filter><clipPath id="cl1"><polygon points="133.5,255.8 135.1,254.2 136.7,255.2 138.2,257.2 139.8,259.6 141.4,262.3 143.0,264.6 144.6,266.2 146.1,266.8 147.7,266.0 149.3,264.3 150.9,261.9 152.4,259.3 154.0,256.9 155.6,255.0 157.2,254.4 158.8,256.0 160.3,258.3 161.9,260.9 163.5,263.4 165.1,265.4 166.7,266.6 168.2,265.4 169.8,263.4 171.4,260.9 173.0,258.3 174.5,256.0 176.1,254.4 177.7,255.0 179.3,256.9 180.9,259.3 182.4,261.9 184.0,264.3 185.6,266.0 187.2,266.8 188.8,266.6 190.3,265.4 191.9,263.4 193.5,260.9 195.1,258.3 196.6,256.0 198.2,254.4 199.8,255.0 201.4,256.9 203.0,259.3 204.5,261.9 206.1,264.3 207.7,266.0 209.3,266.8 210.8,266.6 212.4,265.4 214.0,263.4 215.6,260.9 217.2,258.3 218.7,256.0 220.3,254.4 221.9,255.0 223.5,256.9 225.1,259.3 226.6,261.9 228.2,264.3 229.8,266.0 231.4,266.8 232.9,266.2 234.5,264.6 236.1,262.3 237.7,259.6 239.3,257.2 240.8,255.2 242.4,254.2 244.0,255.8 244.0,278.0 133.5,278.0"/></clipPath><rect x="133.5" y="220" width="110.5" height="58" fill="#000" filter="url(#nl1)" clip-path="url(#cl1)"/><polyline points="133.5,237.0 135.1,237.9 136.7,237.3 138.2,236.1 139.8,234.7 141.4,233.1 143.0,231.7 144.6,230.8 146.1,230.4 147.7,230.9 149.3,231.9 150.9,233.3 152.4,234.9 154.0,236.3 155.6,237.4 157.2,237.8 158.8,236.8 160.3,235.5 161.9,233.9 163.5,232.4 165.1,231.2 166.7,230.5 168.2,231.2 169.8,232.4 171.4,233.9 173.0,235.5 174.5,236.8 176.1,237.8 177.7,237.4 179.3,236.3 180.9,234.9 182.4,233.3 184.0,231.9 185.6,230.9 187.2,230.4 188.8,230.5 190.3,231.2 191.9,232.4 193.5,233.9 195.1,235.5 196.6,236.8 198.2,237.8 199.8,237.4 201.4,236.3 203.0,234.9 204.5,233.3 206.1,231.9 207.7,230.9 209.3,230.4 210.8,230.5 212.4,231.2 214.0,232.4 215.6,233.9 217.2,235.5 218.7,236.8 220.3,237.8 221.9,237.4 223.5,236.3 225.1,234.9 226.6,233.3 228.2,231.9 229.8,230.9 231.4,230.4 232.9,230.8 234.5,231.7 236.1,233.1 237.7,234.7 239.3,236.1 240.8,237.3 242.4,237.9 244.0,237.0" fill="none" stroke="#e0e0e0" stroke-width="0.8" stroke-opacity="0.40" stroke-dasharray="7.2,1.3,9.5,2.6,3.1,1.1,8.9,3.6,8.6,1.3,6.5,4.7,6.8,4.3,4.4,4.9,4.5,4.1,7.7,3.7,6.7,3.2,6.0,2.1,8.3,4.3,9.7,2.9,4.0,2.2,5.1,3.8,6.3,4.3,8.9,4.6,8.1,4.6,9.0,2.1"/><polyline points="133.5,233.0 135.1,233.9 136.7,233.3 138.2,232.1 139.8,230.7 141.4,229.1 143.0,227.7 144.6,226.8 146.1,226.4 147.7,226.9 149.3,227.9 150.9,229.3 152.4,230.9 154.0,232.3 155.6,233.4 157.2,233.8 158.8,232.8 160.3,231.5 161.9,229.9 163.5,228.4 165.1,227.2 166.7,226.5 168.2,227.2 169.8,228.4 171.4,229.9 173.0,231.5 174.5,232.8 176.1,233.8 177.7,233.4 179.3,232.3 180.9,230.9 182.4,229.3 184.0,227.9 185.6,226.9 187.2,226.4 188.8,226.5 190.3,227.2 191.9,228.4 193.5,229.9 195.1,231.5 196.6,232.8 198.2,233.8 199.8,233.4 201.4,232.3 203.0,230.9 204.5,229.3 206.1,227.9 207.7,226.9 209.3,226.4 210.8,226.5 212.4,227.2 214.0,228.4 215.6,229.9 217.2,231.5 218.7,232.8 220.3,233.8 221.9,233.4 223.5,232.3 225.1,230.9 226.6,229.3 228.2,227.9 229.8,226.9 231.4,226.4 232.9,226.8 234.5,227.7 236.1,229.1 237.7,230.7 239.3,232.1 240.8,233.3 242.4,233.9 244.0,233.0" fill="none" stroke="#e0e0e0" stroke-width="1.0" stroke-opacity="0.27" stroke-dasharray="5.8,2.7,7.6,2.9,9.5,3.6,5.2,4.5,7.9,4.9,8.1,4.9,4.4,2.1,9.8,1.1,9.5,4.6,4.0,1.6,9.4,4.8,9.1,3.9,8.3,2.2,3.1,3.5,9.2,4.8,6.6,1.0,4.2,2.8,4.6,1.1,4.3,3.0,3.9,1.5"/><polyline points="133.5,229.0 135.1,229.9 136.7,229.3 138.2,228.1 139.8,226.7 141.4,225.1 143.0,223.7 144.6,222.8 146.1,222.4 147.7,222.9 149.3,223.9 150.9,225.3 152.4,226.9 154.0,228.3 155.6,229.4 157.2,229.8 158.8,228.8 160.3,227.5 161.9,225.9 163.5,224.4 165.1,223.2 166.7,222.5 168.2,223.2 169.8,224.4 171.4,225.9 173.0,227.5 174.5,228.8 176.1,229.8 177.7,229.4 179.3,228.3 180.9,226.9 182.4,225.3 184.0,223.9 185.6,222.9 187.2,222.4 188.8,222.5 190.3,223.2 191.9,224.4 193.5,225.9 195.1,227.5 196.6,228.8 198.2,229.8 199.8,229.4 201.4,228.3 203.0,226.9 204.5,225.3 206.1,223.9 207.7,222.9 209.3,222.4 210.8,222.5 212.4,223.2 214.0,224.4 215.6,225.9 217.2,227.5 218.7,228.8 220.3,229.8 221.9,229.4 223.5,228.3 225.1,226.9 226.6,225.3 228.2,223.9 229.8,222.9 231.4,222.4 232.9,222.8 234.5,223.7 236.1,225.1 237.7,226.7 239.3,228.1 240.8,229.3 242.4,229.9 244.0,229.0" fill="none" stroke="#cfcfcf" stroke-width="1.3" stroke-opacity="0.41" stroke-dasharray="5.6,1.9,4.4,4.5,6.7,4.8,4.6,4.3,3.0,1.5,7.9,2.0,4.6,2.7,9.8,4.6,5.9,3.3,4.1,2.6,3.8,1.2,5.9,4.1,3.2,2.3,4.0,1.7,7.3,2.6,6.6,1.3,4.4,2.9,3.3,4.3,7.1,4.3,6.1,4.5"/><polyline points="133.5,257.8 135.1,256.2 136.7,257.2 138.2,259.2 139.8,261.6 141.4,264.3 143.0,266.6 144.6,268.2 146.1,268.8 147.7,268.0 149.3,266.3 150.9,263.9 152.4,261.3 154.0,258.9 155.6,257.0 157.2,256.4 158.8,258.0 160.3,260.3 161.9,262.9 163.5,265.4 165.1,267.4 166.7,268.6 168.2,267.4 169.8,265.4 171.4,262.9 173.0,260.3 174.5,258.0 176.1,256.4 177.7,257.0 179.3,258.9 180.9,261.3 182.4,263.9 184.0,266.3 185.6,268.0 187.2,268.8 188.8,268.6 190.3,267.4 191.9,265.4 193.5,262.9 195.1,260.3 196.6,258.0 198.2,256.4 199.8,257.0 201.4,258.9 203.0,261.3 204.5,263.9 206.1,266.3 207.7,268.0 209.3,268.8 210.8,268.6 212.4,267.4 214.0,265.4 215.6,262.9 217.2,260.3 218.7,258.0 220.3,256.4 221.9,257.0 223.5,258.9 225.1,261.3 226.6,263.9 228.2,266.3 229.8,268.0 231.4,268.8 232.9,268.2 234.5,266.6 236.1,264.3 237.7,261.6 239.3,259.2 240.8,257.2 242.4,256.2 244.0,257.8" fill="none" stroke="#eeeeee" stroke-width="1.3" stroke-opacity="0.39" stroke-dasharray="3.3,2.9,3.5,2.6,11.7,2.4,5.8,1.3,5.7,2.0,4.1,3.1,8.4,3.2,4.0,1.8,11.3,1.0,6.3,3.5,5.1,1.7,8.7,1.8,6.0,2.2,5.7,3.0,9.6,3.3,11.8,1.2,5.3,4.0,10.2,3.3,5.0,1.4,5.5,3.7"/><polyline points="133.5,260.4 135.1,258.8 136.7,259.8 138.2,261.8 139.8,264.2 141.4,266.9 143.0,269.2 144.6,270.8 146.1,271.4 147.7,270.6 149.3,268.9 150.9,266.5 152.4,263.9 154.0,261.5 155.6,259.6 157.2,259.0 158.8,260.6 160.3,262.9 161.9,265.5 163.5,268.0 165.1,270.0 166.7,271.2 168.2,270.0 169.8,268.0 171.4,265.5 173.0,262.9 174.5,260.6 176.1,259.0 177.7,259.6 179.3,261.5 180.9,263.9 182.4,266.5 184.0,268.9 185.6,270.6 187.2,271.4 188.8,271.2 190.3,270.0 191.9,268.0 193.5,265.5 195.1,262.9 196.6,260.6 198.2,259.0 199.8,259.6 201.4,261.5 203.0,263.9 204.5,266.5 206.1,268.9 207.7,270.6 209.3,271.4 210.8,271.2 212.4,270.0 214.0,268.0 215.6,265.5 217.2,262.9 218.7,260.6 220.3,259.0 221.9,259.6 223.5,261.5 225.1,263.9 226.6,266.5 228.2,268.9 229.8,270.6 231.4,271.4 232.9,270.8 234.5,269.2 236.1,266.9 237.7,264.2 239.3,261.8 240.8,259.8 242.4,258.8 244.0,260.4" fill="none" stroke="#c0c0c0" stroke-width="1.4" stroke-opacity="0.43" stroke-dasharray="3.6,2.9,8.7,3.5,6.0,3.2,6.8,1.4,9.2,1.9,10.6,2.9,7.8,1.4,7.7,3.1,7.6,2.3,5.8,1.6,6.9,3.3,11.2,2.2,6.4,2.5,10.5,1.6,11.5,2.4,6.2,2.5,7.8,2.7,5.3,3.2,5.1,1.7,4.9,1.7"/><polyline points="133.5,263.0 135.1,261.4 136.7,262.4 138.2,264.4 139.8,266.8 141.4,269.5 143.0,271.8 144.6,273.4 146.1,274.0 147.7,273.2 149.3,271.5 150.9,269.1 152.4,266.5 154.0,264.1 155.6,262.2 157.2,261.6 158.8,263.2 160.3,265.5 161.9,268.1 163.5,270.6 165.1,272.6 166.7,273.8 168.2,272.6 169.8,270.6 171.4,268.1 173.0,265.5 174.5,263.2 176.1,261.6 177.7,262.2 179.3,264.1 180.9,266.5 182.4,269.1 184.0,271.5 185.6,273.2 187.2,274.0 188.8,273.8 190.3,272.6 191.9,270.6 193.5,268.1 195.1,265.5 196.6,263.2 198.2,261.6 199.8,262.2 201.4,264.1 203.0,266.5 204.5,269.1 206.1,271.5 207.7,273.2 209.3,274.0 210.8,273.8 212.4,272.6 214.0,270.6 215.6,268.1 217.2,265.5 218.7,263.2 220.3,261.6 221.9,262.2 223.5,264.1 225.1,266.5 226.6,269.1 228.2,271.5 229.8,273.2 231.4,274.0 232.9,273.4 234.5,271.8 236.1,269.5 237.7,266.8 239.3,264.4 240.8,262.4 242.4,261.4 244.0,263.0" fill="none" stroke="#d8d8d8" stroke-width="1.2" stroke-opacity="0.43" stroke-dasharray="9.9,3.0,11.0,2.3,4.3,1.8,9.7,3.1,8.8,2.2,8.2,1.2,3.8,3.4,4.0,2.9,5.7,1.5,10.1,3.7,5.9,1.5,7.1,1.3,11.6,1.1,7.6,1.5,3.0,4.0,9.1,3.1,9.9,3.4,8.5,3.0,5.8,1.3,9.5,3.2"/><polyline points="133.5,265.6 135.1,264.0 136.7,265.0 138.2,267.0 139.8,269.4 141.4,272.1 143.0,274.4 144.6,276.0 146.1,276.6 147.7,275.8 149.3,274.1 150.9,271.7 152.4,269.1 154.0,266.7 155.6,264.8 157.2,264.2 158.8,265.8 160.3,268.1 161.9,270.7 163.5,273.2 165.1,275.2 166.7,276.4 168.2,275.2 169.8,273.2 171.4,270.7 173.0,268.1 174.5,265.8 176.1,264.2 177.7,264.8 179.3,266.7 180.9,269.1 182.4,271.7 184.0,274.1 185.6,275.8 187.2,276.6 188.8,276.4 190.3,275.2 191.9,273.2 193.5,270.7 195.1,268.1 196.6,265.8 198.2,264.2 199.8,264.8 201.4,266.7 203.0,269.1 204.5,271.7 206.1,274.1 207.7,275.8 209.3,276.6 210.8,276.4 212.4,275.2 214.0,273.2 215.6,270.7 217.2,268.1 218.7,265.8 220.3,264.2 221.9,264.8 223.5,266.7 225.1,269.1 226.6,271.7 228.2,274.1 229.8,275.8 231.4,276.6 232.9,276.0 234.5,274.4 236.1,272.1 237.7,269.4 239.3,267.0 240.8,265.0 242.4,264.0 244.0,265.6" fill="none" stroke="#eeeeee" stroke-width="0.9" stroke-opacity="0.49" stroke-dasharray="6.0,1.8,9.8,3.1,8.1,2.7,7.9,3.3,10.1,2.4,9.0,3.9,11.7,3.1,5.1,3.3,4.9,2.8,10.3,1.0,11.5,2.1,7.5,1.8,9.7,1.1,10.0,2.5,8.5,1.5,11.2,3.0,6.1,3.9,4.1,2.7,8.4,1.1,11.6,2.5"/><clipPath id="cv1"><polygon points="133.5,241.7 135.1,247.6 136.7,243.4 138.2,240.8 139.8,239.4 141.4,237.8 143.0,236.4 144.6,235.5 146.1,235.1 147.7,235.6 149.3,236.6 150.9,238.0 152.4,239.6 154.0,241.0 155.6,244.3 157.2,246.8 158.8,241.5 160.3,240.2 161.9,238.6 163.5,237.1 165.1,235.9 166.7,235.2 168.2,235.9 169.8,237.1 171.4,238.6 173.0,240.2 174.5,241.5 176.1,246.8 177.7,244.3 179.3,241.0 180.9,239.6 182.4,238.0 184.0,236.6 185.6,235.6 187.2,235.1 188.8,235.2 190.3,235.9 191.9,237.1 193.5,238.6 195.1,240.2 196.6,241.5 198.2,246.8 199.8,244.3 201.4,241.0 203.0,239.6 204.5,238.0 206.1,236.6 207.7,235.6 209.3,235.1 210.8,235.2 212.4,235.9 214.0,237.1 215.6,238.6 217.2,240.2 218.7,241.5 220.3,246.8 221.9,244.3 223.5,241.0 225.1,239.6 226.6,238.0 228.2,236.6 229.8,235.6 231.4,235.1 232.9,235.5 234.5,236.4 236.1,237.8 237.7,239.4 239.3,240.8 240.8,243.4 242.4,247.6 244.0,241.7 244.0,253.6 242.4,247.0 240.8,251.6 239.3,255.0 237.7,257.4 236.1,260.1 234.5,262.4 232.9,264.0 231.4,264.6 229.8,263.8 228.2,262.1 226.6,259.7 225.1,257.1 223.5,254.7 221.9,250.6 220.3,247.9 218.7,253.8 217.2,256.1 215.6,258.7 214.0,261.2 212.4,263.2 210.8,264.4 209.3,264.6 207.7,263.8 206.1,262.1 204.5,259.7 203.0,257.1 201.4,254.7 199.8,250.6 198.2,247.9 196.6,253.8 195.1,256.1 193.5,258.7 191.9,261.2 190.3,263.2 188.8,264.4 187.2,264.6 185.6,263.8 184.0,262.1 182.4,259.7 180.9,257.1 179.3,254.7 177.7,250.6 176.1,247.9 174.5,253.8 173.0,256.1 171.4,258.7 169.8,261.2 168.2,263.2 166.7,264.4 165.1,263.2 163.5,261.2 161.9,258.7 160.3,256.1 158.8,253.8 157.2,247.9 155.6,250.6 154.0,254.7 152.4,257.1 150.9,259.7 149.3,262.1 147.7,263.8 146.1,264.6 144.6,264.0 143.0,262.4 141.4,260.1 139.8,257.4 138.2,255.0 136.7,251.6 135.1,247.0 133.5,253.6"/></clipPath><rect x="133.5" y="220" width="110.5" height="58" fill="#000" filter="url(#nc1)" clip-path="url(#cv1)" opacity="0.92"/><polyline points="133.5,240.5 135.1,241.4 136.7,240.8 138.2,239.6 139.8,238.2 141.4,236.6 143.0,235.2 144.6,234.3 146.1,233.9 147.7,234.4 149.3,235.4 150.9,236.8 152.4,238.4 154.0,239.8 155.6,240.9 157.2,241.3 158.8,240.3 160.3,239.0 161.9,237.4 163.5,235.9 165.1,234.7 166.7,234.0 168.2,234.7 169.8,235.9 171.4,237.4 173.0,239.0 174.5,240.3 176.1,241.3 177.7,240.9 179.3,239.8 180.9,238.4 182.4,236.8 184.0,235.4 185.6,234.4 187.2,233.9 188.8,234.0 190.3,234.7 191.9,235.9 193.5,237.4 195.1,239.0 196.6,240.3 198.2,241.3 199.8,240.9 201.4,239.8 203.0,238.4 204.5,236.8 206.1,235.4 207.7,234.4 209.3,233.9 210.8,234.0 212.4,234.7 214.0,235.9 215.6,237.4 217.2,239.0 218.7,240.3 220.3,241.3 221.9,240.9 223.5,239.8 225.1,238.4 226.6,236.8 228.2,235.4 229.8,234.4 231.4,233.9 232.9,234.3 234.5,235.2 236.1,236.6 237.7,238.2 239.3,239.6 240.8,240.8 242.4,241.4 244.0,240.5" fill="none" stroke="#f4f4f4" stroke-width="2.2" stroke-opacity="0.8" stroke-dasharray="16.2,1.7,16.0,1.0,16.2,1.3,19.6,0.9,12.1,1.9,6.0,2.2,16.4,1.2,13.6,2.4,8.1,0.9,14.9,1.0,18.2,1.2,15.8,1.4,18.2,1.4,8.8,0.9,9.4,2.2,18.5,1.2,8.1,1.1,6.3,1.3,11.1,1.8,15.5,2.4"/><polyline points="133.5,254.8 135.1,253.2 136.7,254.2 138.2,256.2 139.8,258.6 141.4,261.3 143.0,263.6 144.6,265.2 146.1,265.8 147.7,265.0 149.3,263.3 150.9,260.9 152.4,258.3 154.0,255.9 155.6,254.0 157.2,253.4 158.8,255.0 160.3,257.3 161.9,259.9 163.5,262.4 165.1,264.4 166.7,265.6 168.2,264.4 169.8,262.4 171.4,259.9 173.0,257.3 174.5,255.0 176.1,253.4 177.7,254.0 179.3,255.9 180.9,258.3 182.4,260.9 184.0,263.3 185.6,265.0 187.2,265.8 188.8,265.6 190.3,264.4 191.9,262.4 193.5,259.9 195.1,257.3 196.6,255.0 198.2,253.4 199.8,254.0 201.4,255.9 203.0,258.3 204.5,260.9 206.1,263.3 207.7,265.0 209.3,265.8 210.8,265.6 212.4,264.4 214.0,262.4 215.6,259.9 217.2,257.3 218.7,255.0 220.3,253.4 221.9,254.0 223.5,255.9 225.1,258.3 226.6,260.9 228.2,263.3 229.8,265.0 231.4,265.8 232.9,265.2 234.5,263.6 236.1,261.3 237.7,258.6 239.3,256.2 240.8,254.2 242.4,253.2 244.0,254.8" fill="none" stroke="#f4f4f4" stroke-width="2.3" stroke-opacity="0.8" stroke-dasharray="19.5,2.1,9.8,1.9,16.7,0.9,15.4,1.7,6.4,2.0,9.2,1.2,17.2,2.0,8.3,1.9,18.9,0.8,11.8,1.4,18.0,1.9,13.3,2.0,8.2,1.1,11.9,1.5,10.2,1.0,15.0,1.6,15.1,1.3,19.2,1.6,13.6,0.9,7.1,2.1"/><polyline points="133.5,257.6 135.1,256.0 136.7,257.0 138.2,259.0 139.8,261.4 141.4,264.1 143.0,266.4 144.6,268.0 146.1,268.6 147.7,267.8 149.3,266.1 150.9,263.7 152.4,261.1 154.0,258.7 155.6,256.8 157.2,256.2 158.8,257.8 160.3,260.1 161.9,262.7 163.5,265.2 165.1,267.2 166.7,268.4 168.2,267.2 169.8,265.2 171.4,262.7 173.0,260.1 174.5,257.8 176.1,256.2 177.7,256.8 179.3,258.7 180.9,261.1 182.4,263.7 184.0,266.1 185.6,267.8 187.2,268.6 188.8,268.4 190.3,267.2 191.9,265.2 193.5,262.7 195.1,260.1 196.6,257.8 198.2,256.2 199.8,256.8 201.4,258.7 203.0,261.1 204.5,263.7 206.1,266.1 207.7,267.8 209.3,268.6 210.8,268.4 212.4,267.2 214.0,265.2 215.6,262.7 217.2,260.1 218.7,257.8 220.3,256.2 221.9,256.8 223.5,258.7 225.1,261.1 226.6,263.7 228.2,266.1 229.8,267.8 231.4,268.6 232.9,268.0 234.5,266.4 236.1,264.1 237.7,261.4 239.3,259.0 240.8,257.0 242.4,256.0 244.0,257.6" fill="none" stroke="#e8e8e8" stroke-width="1.3" stroke-opacity="0.56" stroke-dasharray="5.6,2.7,10.5,1.9,14.3,2.6,12.4,1.1,5.5,1.7,6.8,2.6,7.4,1.0,8.4,1.6,10.0,2.8,14.2,2.1,7.5,1.7,10.2,2.4,8.1,3.0,6.7,2.3,7.1,2.7,11.7,2.9,11.6,1.1,14.3,1.3,8.6,1.4,7.4,2.8"/><polygon points="133.5,272.6 135.1,272.7 136.7,272.1 138.2,272.9 139.8,270.9 141.4,270.4 143.0,270.6 144.6,269.5 146.1,270.2 147.7,270.0 149.3,271.2 150.9,270.5 152.4,271.3 154.0,272.6 155.6,272.1 157.2,273.3 158.8,272.3 160.3,272.1 161.9,271.9 163.5,270.5 165.1,269.7 166.7,270.0 168.2,270.4 169.8,270.8 171.4,270.3 173.0,271.2 174.5,272.6 176.1,272.8 177.7,273.1 179.3,272.2 180.9,272.6 182.4,272.1 184.0,271.8 185.6,271.1 187.2,270.5 188.8,269.9 190.3,270.6 191.9,270.7 193.5,271.6 195.1,270.8 196.6,271.8 198.2,272.9 199.8,273.1 201.4,272.8 203.0,272.1 204.5,271.0 206.1,270.5 207.7,270.7 209.3,270.6 210.8,270.0 212.4,269.7 214.0,271.5 215.6,272.0 217.2,272.3 218.7,273.0 220.3,271.7 221.9,271.7 223.5,272.3 225.1,272.2 226.6,270.9 228.2,271.2 229.8,270.1 231.4,270.9 232.9,271.0 234.5,270.4 236.1,270.6 237.7,272.4 239.3,272.2 240.8,272.6 242.4,272.3 244.0,271.7 244.0,278.0 133.5,278.0" fill="#f6f6f6" fill-opacity="0.95"/><clipPath id="cb1"><polygon points="133.5,272.6 135.1,272.7 136.7,272.1 138.2,272.9 139.8,270.9 141.4,270.4 143.0,270.6 144.6,269.5 146.1,270.2 147.7,270.0 149.3,271.2 150.9,270.5 152.4,271.3 154.0,272.6 155.6,272.1 157.2,273.3 158.8,272.3 160.3,272.1 161.9,271.9 163.5,270.5 165.1,269.7 166.7,270.0 168.2,270.4 169.8,270.8 171.4,270.3 173.0,271.2 174.5,272.6 176.1,272.8 177.7,273.1 179.3,272.2 180.9,272.6 182.4,272.1 184.0,271.8 185.6,271.1 187.2,270.5 188.8,269.9 190.3,270.6 191.9,270.7 193.5,271.6 195.1,270.8 196.6,271.8 198.2,272.9 199.8,273.1 201.4,272.8 203.0,272.1 204.5,271.0 206.1,270.5 207.7,270.7 209.3,270.6 210.8,270.0 212.4,269.7 214.0,271.5 215.6,272.0 217.2,272.3 218.7,273.0 220.3,271.7 221.9,271.7 223.5,272.3 225.1,272.2 226.6,270.9 228.2,271.2 229.8,270.1 231.4,270.9 232.9,271.0 234.5,270.4 236.1,270.6 237.7,272.4 239.3,272.2 240.8,272.6 242.4,272.3 244.0,271.7 244.0,278.0 133.5,278.0"/></clipPath><rect x="133.5" y="220" width="110.5" height="58" fill="#000" filter="url(#nb1)" clip-path="url(#cb1)" opacity="0.22"/><rect x="133.5" y="220" width="110.5" height="2.2" fill="#e4e4e4" fill-opacity="0.85"/></g></g><rect x="134.0" y="220.5" width="109.5" height="57" fill="none" stroke="#666666" stroke-width="1"/><text x="59.25" y="292.00" font-size="8.5" fill="#a8283f" stroke="#a8283f" stroke-width="0.15" textLength="26.50" lengthAdjust="spacingAndGlyphs" >Met D0</text><clipPath id="c2"><rect x="20.5" y="294" width="110.69999999999999" height="57.30000000000001"/></clipPath><filter id="nu2" x="0" y="0" width="100%" height="100%" color-interpolation-filters="sRGB"><feTurbulence type="fractalNoise" baseFrequency="0.12 0.6" numOctaves="3" seed="5"/><feColorMatrix type="matrix" values="1.833 0 0 0 -0.775  1.833 0 0 0 -0.775  1.833 0 0 0 -0.775  0 0 0 0 1"/><feGaussianBlur stdDeviation="0.3"/></filter><filter id="nc2" x="0" y="0" width="100%" height="100%" color-interpolation-filters="sRGB"><feTurbulence type="fractalNoise" baseFrequency="0.3 0.5" numOctaves="2" seed="25"/><feColorMatrix type="matrix" values="0.333 0 0 0 -0.073  0.333 0 0 0 -0.073  0.333 0 0 0 -0.073  0 0 0 0 1"/></filter><filter id="nb2" x="0" y="0" width="100%" height="100%" color-interpolation-filters="sRGB"><feTurbulence type="fractalNoise" baseFrequency="0.3 0.6" numOctaves="2" seed="45"/><feColorMatrix type="matrix" values="3.000 0 0 0 -0.716  3.000 0 0 0 -0.716  3.000 0 0 0 -0.716  0 0 0 0 1"/><feGaussianBlur stdDeviation="0.3"/></filter><filter id="bl2" x="0" y="0" width="100%" height="100%"><feGaussianBlur stdDeviation="0.35"/></filter><g clip-path="url(#c2)"><g filter="url(#bl2)"><rect x="20.5" y="294" width="110.69999999999999" height="57.30000000000001" fill="#000" filter="url(#nu2)"/><filter id="nl2" x="0" y="0" width="100%" height="100%" color-interpolation-filters="sRGB"><feTurbulence type="fractalNoise" baseFrequency="0.22 0.5" numOctaves="3" seed="65"/><feColorMatrix type="matrix" values="2.000 0 0 0 -0.769  2.000 0 0 0 -0.769  2.000 0 0 0 -0.769  0 0 0 0 1"/><feGaussianBlur stdDeviation="0.35"/></filter><clipPath id="cl2"><polygon points="20.5,327.4 22.1,329.2 23.7,331.5 25.2,334.0 26.8,336.3 28.4,338.1 30.0,339.0 31.6,338.8 33.2,337.5 34.7,335.4 36.3,333.0 37.9,330.5 39.5,328.4 41.1,326.8 42.6,327.4 44.2,329.2 45.8,331.5 47.4,334.0 49.0,336.3 50.5,338.1 52.1,339.0 53.7,338.4 55.3,336.8 56.9,334.6 58.5,332.1 60.0,329.7 61.6,327.7 63.2,326.6 64.8,327.9 66.4,329.9 67.9,332.3 69.5,334.8 71.1,337.0 72.7,338.5 74.3,339.0 75.8,337.9 77.4,336.1 79.0,333.7 80.6,331.2 82.2,328.9 83.8,327.2 85.3,327.0 86.9,328.6 88.5,330.7 90.1,333.2 91.7,335.6 93.2,337.6 94.8,338.9 96.4,339.1 98.0,338.8 99.6,337.5 101.2,335.4 102.7,333.0 104.3,330.5 105.9,328.4 107.5,326.8 109.1,327.4 110.6,329.2 112.2,331.5 113.8,334.0 115.4,336.3 117.0,338.1 118.5,339.0 120.1,338.8 121.7,337.5 123.3,335.4 124.9,333.0 126.5,330.5 128.0,328.4 129.6,326.8 131.2,327.4 131.2,351.3 20.5,351.3"/></clipPath><rect x="20.5" y="294" width="110.69999999999999" height="57.30000000000001" fill="#000" filter="url(#nl2)" clip-path="url(#cl2)"/><polyline points="20.5,311.2 22.1,310.1 23.7,308.8 25.2,307.3 26.8,305.9 28.4,304.9 30.0,304.3 31.6,304.5 33.2,305.2 34.7,306.4 36.3,307.9 37.9,309.3 39.5,310.6 41.1,311.5 42.6,311.2 44.2,310.1 45.8,308.8 47.4,307.3 49.0,305.9 50.5,304.9 52.1,304.3 53.7,304.7 55.3,305.6 56.9,306.9 58.5,308.4 60.0,309.8 61.6,311.0 63.2,311.7 64.8,310.9 66.4,309.7 67.9,308.3 69.5,306.8 71.1,305.5 72.7,304.6 74.3,304.3 75.8,304.9 77.4,306.0 79.0,307.4 80.6,308.9 82.2,310.3 83.8,311.3 85.3,311.4 86.9,310.5 88.5,309.2 90.1,307.7 91.7,306.3 93.2,305.1 94.8,304.4 96.4,304.3 98.0,304.5 99.6,305.2 101.2,306.4 102.7,307.9 104.3,309.3 105.9,310.6 107.5,311.5 109.1,311.2 110.6,310.1 112.2,308.8 113.8,307.3 115.4,305.9 117.0,304.9 118.5,304.3 120.1,304.5 121.7,305.2 123.3,306.4 124.9,307.9 126.5,309.3 128.0,310.6 129.6,311.5 131.2,311.2" fill="none" stroke="#b0b0b0" stroke-width="0.8" stroke-opacity="0.26" stroke-dasharray="8.6,4.6,5.0,1.3,6.5,1.7,4.9,3.6,5.6,2.1,3.5,2.6,6.4,2.6,8.3,2.6,4.7,1.7,6.6,3.8,4.4,2.2,6.4,3.4,8.0,3.2,3.0,5.0,9.3,3.0,8.3,1.9,9.3,4.2,9.1,4.7,8.1,4.0,4.8,1.1"/><polyline points="20.5,307.2 22.1,306.1 23.7,304.8 25.2,303.3 26.8,301.9 28.4,300.9 30.0,300.3 31.6,300.5 33.2,301.2 34.7,302.4 36.3,303.9 37.9,305.3 39.5,306.6 41.1,307.5 42.6,307.2 44.2,306.1 45.8,304.8 47.4,303.3 49.0,301.9 50.5,300.9 52.1,300.3 53.7,300.7 55.3,301.6 56.9,302.9 58.5,304.4 60.0,305.8 61.6,307.0 63.2,307.7 64.8,306.9 66.4,305.7 67.9,304.3 69.5,302.8 71.1,301.5 72.7,300.6 74.3,300.3 75.8,300.9 77.4,302.0 79.0,303.4 80.6,304.9 82.2,306.3 83.8,307.3 85.3,307.4 86.9,306.5 88.5,305.2 90.1,303.7 91.7,302.3 93.2,301.1 94.8,300.4 96.4,300.3 98.0,300.5 99.6,301.2 101.2,302.4 102.7,303.9 104.3,305.3 105.9,306.6 107.5,307.5 109.1,307.2 110.6,306.1 112.2,304.8 113.8,303.3 115.4,301.9 117.0,300.9 118.5,300.3 120.1,300.5 121.7,301.2 123.3,302.4 124.9,303.9 126.5,305.3 128.0,306.6 129.6,307.5 131.2,307.2" fill="none" stroke="#e0e0e0" stroke-width="1.1" stroke-opacity="0.41" stroke-dasharray="5.1,4.9,3.6,1.9,4.4,1.7,3.4,2.0,5.6,4.8,6.8,3.5,5.4,1.7,6.9,3.9,3.6,3.6,4.5,3.8,5.5,1.6,4.0,4.2,6.8,1.3,9.3,2.1,5.0,1.0,5.1,3.2,9.3,2.2,6.5,1.3,7.8,2.2,5.6,2.1"/><polyline points="20.5,303.2 22.1,302.1 23.7,300.8 25.2,299.3 26.8,297.9 28.4,296.9 30.0,296.3 31.6,296.5 33.2,297.2 34.7,298.4 36.3,299.9 37.9,301.3 39.5,302.6 41.1,303.5 42.6,303.2 44.2,302.1 45.8,300.8 47.4,299.3 49.0,297.9 50.5,296.9 52.1,296.3 53.7,296.7 55.3,297.6 56.9,298.9 58.5,300.4 60.0,301.8 61.6,303.0 63.2,303.7 64.8,302.9 66.4,301.7 67.9,300.3 69.5,298.8 71.1,297.5 72.7,296.6 74.3,296.3 75.8,296.9 77.4,298.0 79.0,299.4 80.6,300.9 82.2,302.3 83.8,303.3 85.3,303.4 86.9,302.5 88.5,301.2 90.1,299.7 91.7,298.3 93.2,297.1 94.8,296.4 96.4,296.3 98.0,296.5 99.6,297.2 101.2,298.4 102.7,299.9 104.3,301.3 105.9,302.6 107.5,303.5 109.1,303.2 110.6,302.1 112.2,300.8 113.8,299.3 115.4,297.9 117.0,296.9 118.5,296.3 120.1,296.5 121.7,297.2 123.3,298.4 124.9,299.9 126.5,301.3 128.0,302.6 129.6,303.5 131.2,303.2" fill="none" stroke="#cfcfcf" stroke-width="0.9" stroke-opacity="0.36" stroke-dasharray="3.7,4.0,9.4,1.5,7.8,2.2,6.2,3.3,5.7,3.6,5.3,3.0,5.5,2.7,4.0,2.4,3.8,3.5,5.9,2.7,9.3,1.6,6.7,3.4,7.4,4.0,5.5,4.7,7.7,1.3,7.2,3.1,9.5,3.9,7.7,3.7,8.0,2.8,6.4,3.1"/><polyline points="20.5,329.4 22.1,331.2 23.7,333.5 25.2,336.0 26.8,338.3 28.4,340.1 30.0,341.0 31.6,340.8 33.2,339.5 34.7,337.4 36.3,335.0 37.9,332.5 39.5,330.4 41.1,328.8 42.6,329.4 44.2,331.2 45.8,333.5 47.4,336.0 49.0,338.3 50.5,340.1 52.1,341.0 53.7,340.4 55.3,338.8 56.9,336.6 58.5,334.1 60.0,331.7 61.6,329.7 63.2,328.6 64.8,329.9 66.4,331.9 67.9,334.3 69.5,336.8 71.1,339.0 72.7,340.5 74.3,341.0 75.8,339.9 77.4,338.1 79.0,335.7 80.6,333.2 82.2,330.9 83.8,329.2 85.3,329.0 86.9,330.6 88.5,332.7 90.1,335.2 91.7,337.6 93.2,339.6 94.8,340.9 96.4,341.1 98.0,340.8 99.6,339.5 101.2,337.4 102.7,335.0 104.3,332.5 105.9,330.4 107.5,328.8 109.1,329.4 110.6,331.2 112.2,333.5 113.8,336.0 115.4,338.3 117.0,340.1 118.5,341.0 120.1,340.8 121.7,339.5 123.3,337.4 124.9,335.0 126.5,332.5 128.0,330.4 129.6,328.8 131.2,329.4" fill="none" stroke="#d8d8d8" stroke-width="0.9" stroke-opacity="0.51" stroke-dasharray="3.6,2.2,8.9,1.5,4.0,2.5,9.6,3.5,6.7,1.0,5.1,3.2,4.6,3.2,11.3,1.8,4.3,1.2,11.1,2.5,6.4,3.1,11.7,3.8,6.8,2.8,7.6,3.5,3.0,2.0,4.2,3.2,9.2,3.9,11.2,3.3,7.5,1.3,5.1,3.2"/><polyline points="20.5,332.0 22.1,333.8 23.7,336.1 25.2,338.6 26.8,340.9 28.4,342.7 30.0,343.6 31.6,343.4 33.2,342.1 34.7,340.0 36.3,337.6 37.9,335.1 39.5,333.0 41.1,331.4 42.6,332.0 44.2,333.8 45.8,336.1 47.4,338.6 49.0,340.9 50.5,342.7 52.1,343.6 53.7,343.0 55.3,341.4 56.9,339.2 58.5,336.7 60.0,334.3 61.6,332.3 63.2,331.2 64.8,332.5 66.4,334.5 67.9,336.9 69.5,339.4 71.1,341.6 72.7,343.1 74.3,343.6 75.8,342.5 77.4,340.7 79.0,338.3 80.6,335.8 82.2,333.5 83.8,331.8 85.3,331.6 86.9,333.2 88.5,335.3 90.1,337.8 91.7,340.2 93.2,342.2 94.8,343.5 96.4,343.7 98.0,343.4 99.6,342.1 101.2,340.0 102.7,337.6 104.3,335.1 105.9,333.0 107.5,331.4 109.1,332.0 110.6,333.8 112.2,336.1 113.8,338.6 115.4,340.9 117.0,342.7 118.5,343.6 120.1,343.4 121.7,342.1 123.3,340.0 124.9,337.6 126.5,335.1 128.0,333.0 129.6,331.4 131.2,332.0" fill="none" stroke="#d8d8d8" stroke-width="1.4" stroke-opacity="0.40" stroke-dasharray="9.7,1.9,11.5,2.0,11.5,2.5,3.1,2.2,6.8,1.5,3.8,2.7,9.5,3.2,5.9,1.5,7.1,3.2,4.9,3.7,11.8,2.0,4.3,2.7,4.4,3.7,8.3,2.2,10.7,3.3,9.7,1.3,6.4,2.0,10.7,1.8,4.0,2.3,5.8,3.0"/><polyline points="20.5,334.6 22.1,336.4 23.7,338.7 25.2,341.2 26.8,343.5 28.4,345.3 30.0,346.2 31.6,346.0 33.2,344.7 34.7,342.6 36.3,340.2 37.9,337.7 39.5,335.6 41.1,334.0 42.6,334.6 44.2,336.4 45.8,338.7 47.4,341.2 49.0,343.5 50.5,345.3 52.1,346.2 53.7,345.6 55.3,344.0 56.9,341.8 58.5,339.3 60.0,336.9 61.6,334.9 63.2,333.8 64.8,335.1 66.4,337.1 67.9,339.5 69.5,342.0 71.1,344.2 72.7,345.7 74.3,346.2 75.8,345.1 77.4,343.3 79.0,340.9 80.6,338.4 82.2,336.1 83.8,334.4 85.3,334.2 86.9,335.8 88.5,337.9 90.1,340.4 91.7,342.8 93.2,344.8 94.8,346.1 96.4,346.3 98.0,346.0 99.6,344.7 101.2,342.6 102.7,340.2 104.3,337.7 105.9,335.6 107.5,334.0 109.1,334.6 110.6,336.4 112.2,338.7 113.8,341.2 115.4,343.5 117.0,345.3 118.5,346.2 120.1,346.0 121.7,344.7 123.3,342.6 124.9,340.2 126.5,337.7 128.0,335.6 129.6,334.0 131.2,334.6" fill="none" stroke="#c0c0c0" stroke-width="1.3" stroke-opacity="0.44" stroke-dasharray="3.4,3.5,10.3,2.7,3.7,3.2,8.1,2.5,6.1,2.1,7.5,3.3,9.9,2.1,12.0,1.7,7.0,1.2,7.5,3.2,4.1,1.7,4.1,3.0,7.4,3.2,7.5,4.0,11.6,3.0,3.4,1.7,11.3,1.8,10.1,1.6,10.1,2.1,9.9,1.9"/><polyline points="20.5,337.2 22.1,339.0 23.7,341.3 25.2,343.8 26.8,346.1 28.4,347.9 30.0,348.8 31.6,348.6 33.2,347.3 34.7,345.2 36.3,342.8 37.9,340.3 39.5,338.2 41.1,336.6 42.6,337.2 44.2,339.0 45.8,341.3 47.4,343.8 49.0,346.1 50.5,347.9 52.1,348.8 53.7,348.2 55.3,346.6 56.9,344.4 58.5,341.9 60.0,339.5 61.6,337.5 63.2,336.4 64.8,337.7 66.4,339.7 67.9,342.1 69.5,344.6 71.1,346.8 72.7,348.3 74.3,348.8 75.8,347.7 77.4,345.9 79.0,343.5 80.6,341.0 82.2,338.7 83.8,337.0 85.3,336.8 86.9,338.4 88.5,340.5 90.1,343.0 91.7,345.4 93.2,347.4 94.8,348.7 96.4,348.9 98.0,348.6 99.6,347.3 101.2,345.2 102.7,342.8 104.3,340.3 105.9,338.2 107.5,336.6 109.1,337.2 110.6,339.0 112.2,341.3 113.8,343.8 115.4,346.1 117.0,347.9 118.5,348.8 120.1,348.6 121.7,347.3 123.3,345.2 124.9,342.8 126.5,340.3 128.0,338.2 129.6,336.6 131.2,337.2" fill="none" stroke="#d8d8d8" stroke-width="0.9" stroke-opacity="0.37" stroke-dasharray="6.5,1.8,7.4,3.4,8.6,1.4,5.2,2.8,4.0,1.5,7.3,3.0,8.6,2.0,11.6,2.1,6.2,3.9,3.2,3.3,7.7,1.7,3.3,1.4,3.1,1.1,8.8,1.6,10.6,1.4,8.9,2.5,11.0,3.1,4.7,1.0,7.8,1.2,11.8,2.1"/><clipPath id="cv2"><polygon points="20.5,315.9 22.1,314.8 23.7,313.5 25.2,312.0 26.8,310.6 28.4,309.6 30.0,309.0 31.6,309.2 33.2,309.9 34.7,311.1 36.3,312.6 37.9,314.0 39.5,315.3 41.1,318.9 42.6,315.9 44.2,314.8 45.8,313.5 47.4,312.0 49.0,310.6 50.5,309.6 52.1,309.0 53.7,309.4 55.3,310.3 56.9,311.6 58.5,313.1 60.0,314.5 61.6,315.7 63.2,321.1 64.8,315.6 66.4,314.4 67.9,313.0 69.5,311.5 71.1,310.2 72.7,309.3 74.3,309.0 75.8,309.6 77.4,310.7 79.0,312.1 80.6,313.6 82.2,315.0 83.8,316.0 85.3,317.9 86.9,315.2 88.5,313.9 90.1,312.4 91.7,311.0 93.2,309.8 94.8,309.1 96.4,309.0 98.0,309.2 99.6,309.9 101.2,311.1 102.7,312.6 104.3,314.0 105.9,315.3 107.5,318.9 109.1,315.9 110.6,314.8 112.2,313.5 113.8,312.0 115.4,310.6 117.0,309.6 118.5,309.0 120.1,309.2 121.7,309.9 123.3,311.1 124.9,312.6 126.5,314.0 128.0,315.3 129.6,318.9 131.2,315.9 131.2,325.2 129.6,322.0 128.0,326.2 126.5,328.3 124.9,330.8 123.3,333.2 121.7,335.3 120.1,336.6 118.5,336.8 117.0,335.9 115.4,334.1 113.8,331.8 112.2,329.3 110.6,327.0 109.1,325.2 107.5,322.0 105.9,326.2 104.3,328.3 102.7,330.8 101.2,333.2 99.6,335.3 98.0,336.6 96.4,336.9 94.8,336.7 93.2,335.4 91.7,333.4 90.1,331.0 88.5,328.5 86.9,326.4 85.3,323.0 83.8,325.0 82.2,326.7 80.6,329.0 79.0,331.5 77.4,333.9 75.8,335.7 74.3,336.8 72.7,336.3 71.1,334.8 69.5,332.6 67.9,330.1 66.4,327.7 64.8,325.7 63.2,319.6 61.6,325.5 60.0,327.5 58.5,329.9 56.9,332.4 55.3,334.6 53.7,336.2 52.1,336.8 50.5,335.9 49.0,334.1 47.4,331.8 45.8,329.3 44.2,327.0 42.6,325.2 41.1,322.0 39.5,326.2 37.9,328.3 36.3,330.8 34.7,333.2 33.2,335.3 31.6,336.6 30.0,336.8 28.4,335.9 26.8,334.1 25.2,331.8 23.7,329.3 22.1,327.0 20.5,325.2"/></clipPath><rect x="20.5" y="294" width="110.69999999999999" height="57.30000000000001" fill="#000" filter="url(#nc2)" clip-path="url(#cv2)" opacity="0.92"/><polyline points="20.5,314.7 22.1,313.6 23.7,312.3 25.2,310.8 26.8,309.4 28.4,308.4 30.0,307.8 31.6,308.0 33.2,308.7 34.7,309.9 36.3,311.4 37.9,312.8 39.5,314.1 41.1,315.0 42.6,314.7 44.2,313.6 45.8,312.3 47.4,310.8 49.0,309.4 50.5,308.4 52.1,307.8 53.7,308.2 55.3,309.1 56.9,310.4 58.5,311.9 60.0,313.3 61.6,314.5 63.2,315.2 64.8,314.4 66.4,313.2 67.9,311.8 69.5,310.3 71.1,309.0 72.7,308.1 74.3,307.8 75.8,308.4 77.4,309.5 79.0,310.9 80.6,312.4 82.2,313.8 83.8,314.8 85.3,314.9 86.9,314.0 88.5,312.7 90.1,311.2 91.7,309.8 93.2,308.6 94.8,307.9 96.4,307.8 98.0,308.0 99.6,308.7 101.2,309.9 102.7,311.4 104.3,312.8 105.9,314.1 107.5,315.0 109.1,314.7 110.6,313.6 112.2,312.3 113.8,310.8 115.4,309.4 117.0,308.4 118.5,307.8 120.1,308.0 121.7,308.7 123.3,309.9 124.9,311.4 126.5,312.8 128.0,314.1 129.6,315.0 131.2,314.7" fill="none" stroke="#f4f4f4" stroke-width="2.2" stroke-opacity="0.8" stroke-dasharray="18.4,2.0,9.9,1.9,9.6,1.8,12.7,1.4,12.5,2.2,11.1,1.4,7.2,2.3,18.2,2.0,10.9,1.8,17.1,1.7,14.3,2.3,8.7,2.1,18.7,2.2,9.7,1.5,19.3,1.8,11.1,1.4,12.1,2.2,7.1,1.7,9.1,1.3,17.9,2.4"/><polyline points="20.5,326.4 22.1,328.2 23.7,330.5 25.2,333.0 26.8,335.3 28.4,337.1 30.0,338.0 31.6,337.8 33.2,336.5 34.7,334.4 36.3,332.0 37.9,329.5 39.5,327.4 41.1,325.8 42.6,326.4 44.2,328.2 45.8,330.5 47.4,333.0 49.0,335.3 50.5,337.1 52.1,338.0 53.7,337.4 55.3,335.8 56.9,333.6 58.5,331.1 60.0,328.7 61.6,326.7 63.2,325.6 64.8,326.9 66.4,328.9 67.9,331.3 69.5,333.8 71.1,336.0 72.7,337.5 74.3,338.0 75.8,336.9 77.4,335.1 79.0,332.7 80.6,330.2 82.2,327.9 83.8,326.2 85.3,326.0 86.9,327.6 88.5,329.7 90.1,332.2 91.7,334.6 93.2,336.6 94.8,337.9 96.4,338.1 98.0,337.8 99.6,336.5 101.2,334.4 102.7,332.0 104.3,329.5 105.9,327.4 107.5,325.8 109.1,326.4 110.6,328.2 112.2,330.5 113.8,333.0 115.4,335.3 117.0,337.1 118.5,338.0 120.1,337.8 121.7,336.5 123.3,334.4 124.9,332.0 126.5,329.5 128.0,327.4 129.6,325.8 131.2,326.4" fill="none" stroke="#f4f4f4" stroke-width="2.3" stroke-opacity="0.8" stroke-dasharray="14.9,2.3,9.5,2.3,8.8,2.3,17.4,1.4,12.9,2.5,6.1,2.1,13.9,1.0,17.9,1.0,12.6,1.4,15.9,2.3,17.6,1.6,7.2,2.0,7.2,1.7,16.3,1.7,10.7,1.3,14.0,2.0,8.0,1.5,15.8,1.6,18.2,2.5,17.0,0.8"/><polyline points="20.5,329.2 22.1,331.0 23.7,333.3 25.2,335.8 26.8,338.1 28.4,339.9 30.0,340.8 31.6,340.6 33.2,339.3 34.7,337.2 36.3,334.8 37.9,332.3 39.5,330.2 41.1,328.6 42.6,329.2 44.2,331.0 45.8,333.3 47.4,335.8 49.0,338.1 50.5,339.9 52.1,340.8 53.7,340.2 55.3,338.6 56.9,336.4 58.5,333.9 60.0,331.5 61.6,329.5 63.2,328.4 64.8,329.7 66.4,331.7 67.9,334.1 69.5,336.6 71.1,338.8 72.7,340.3 74.3,340.8 75.8,339.7 77.4,337.9 79.0,335.5 80.6,333.0 82.2,330.7 83.8,329.0 85.3,328.8 86.9,330.4 88.5,332.5 90.1,335.0 91.7,337.4 93.2,339.4 94.8,340.7 96.4,340.9 98.0,340.6 99.6,339.3 101.2,337.2 102.7,334.8 104.3,332.3 105.9,330.2 107.5,328.6 109.1,329.2 110.6,331.0 112.2,333.3 113.8,335.8 115.4,338.1 117.0,339.9 118.5,340.8 120.1,340.6 121.7,339.3 123.3,337.2 124.9,334.8 126.5,332.3 128.0,330.2 129.6,328.6 131.2,329.2" fill="none" stroke="#e8e8e8" stroke-width="1.3" stroke-opacity="0.56" stroke-dasharray="8.9,1.1,7.1,2.7,13.9,2.0,14.1,1.9,9.0,1.1,14.4,1.7,12.3,1.0,7.1,2.6,5.5,2.9,12.9,2.2,5.7,2.4,13.8,2.8,11.4,2.1,11.5,1.6,8.4,2.0,10.5,1.4,7.6,1.3,10.3,2.7,14.1,1.5,5.9,1.6"/><polygon points="20.5,347.3 22.1,346.4 23.7,347.3 25.2,346.5 26.8,346.1 28.4,345.4 30.0,345.5 31.6,345.5 33.2,344.8 34.7,344.0 36.3,344.7 37.9,345.0 39.5,345.9 41.1,345.7 42.6,347.6 44.2,347.0 45.8,346.4 47.4,346.2 49.0,346.5 50.5,346.1 52.1,345.6 53.7,344.1 55.3,344.5 56.9,343.9 58.5,345.8 60.0,345.9 61.6,345.4 63.2,345.8 64.8,346.7 66.4,346.6 67.9,346.7 69.5,345.9 71.1,346.2 72.7,345.5 74.3,345.1 75.8,345.6 77.4,344.8 79.0,344.9 80.6,344.3 82.2,345.3 83.8,346.2 85.3,346.8 86.9,347.3 88.5,347.7 90.1,346.8 91.7,346.6 93.2,345.8 94.8,346.4 96.4,345.5 98.0,344.8 99.6,345.1 101.2,343.9 102.7,344.6 104.3,345.5 105.9,346.4 107.5,346.2 109.1,346.1 110.6,346.9 112.2,346.6 113.8,346.6 115.4,345.6 117.0,346.2 118.5,344.6 120.1,344.1 121.7,345.4 123.3,345.2 124.9,344.7 126.5,345.7 128.0,346.8 129.6,347.2 131.2,346.7 131.2,351.3 20.5,351.3" fill="#f6f6f6" fill-opacity="0.95"/><clipPath id="cb2"><polygon points="20.5,347.3 22.1,346.4 23.7,347.3 25.2,346.5 26.8,346.1 28.4,345.4 30.0,345.5 31.6,345.5 33.2,344.8 34.7,344.0 36.3,344.7 37.9,345.0 39.5,345.9 41.1,345.7 42.6,347.6 44.2,347.0 45.8,346.4 47.4,346.2 49.0,346.5 50.5,346.1 52.1,345.6 53.7,344.1 55.3,344.5 56.9,343.9 58.5,345.8 60.0,345.9 61.6,345.4 63.2,345.8 64.8,346.7 66.4,346.6 67.9,346.7 69.5,345.9 71.1,346.2 72.7,345.5 74.3,345.1 75.8,345.6 77.4,344.8 79.0,344.9 80.6,344.3 82.2,345.3 83.8,346.2 85.3,346.8 86.9,347.3 88.5,347.7 90.1,346.8 91.7,346.6 93.2,345.8 94.8,346.4 96.4,345.5 98.0,344.8 99.6,345.1 101.2,343.9 102.7,344.6 104.3,345.5 105.9,346.4 107.5,346.2 109.1,346.1 110.6,346.9 112.2,346.6 113.8,346.6 115.4,345.6 117.0,346.2 118.5,344.6 120.1,344.1 121.7,345.4 123.3,345.2 124.9,344.7 126.5,345.7 128.0,346.8 129.6,347.2 131.2,346.7 131.2,351.3 20.5,351.3"/></clipPath><rect x="20.5" y="294" width="110.69999999999999" height="57.30000000000001" fill="#000" filter="url(#nb2)" clip-path="url(#cb2)" opacity="0.22"/><rect x="20.5" y="294" width="110.69999999999999" height="2.2" fill="#e4e4e4" fill-opacity="0.85"/></g></g><rect x="21.0" y="294.5" width="109.69999999999999" height="56.30000000000001" fill="none" stroke="#666666" stroke-width="1"/><text x="166.75" y="292.00" font-size="8.5" fill="#a8283f" stroke="#a8283f" stroke-width="0.15" textLength="44.00" lengthAdjust="spacingAndGlyphs" >Cfz+Met D0</text><clipPath id="c3"><rect x="133.3" y="293.8" width="110.5" height="57.5"/></clipPath><filter id="nu3" x="0" y="0" width="100%" height="100%" color-interpolation-filters="sRGB"><feTurbulence type="fractalNoise" baseFrequency="0.12 0.6" numOctaves="3" seed="6"/><feColorMatrix type="matrix" values="1.833 0 0 0 -0.807  1.833 0 0 0 -0.807  1.833 0 0 0 -0.807  0 0 0 0 1"/><feGaussianBlur stdDeviation="0.3"/></filter><filter id="nc3" x="0" y="0" width="100%" height="100%" color-interpolation-filters="sRGB"><feTurbulence type="fractalNoise" baseFrequency="0.3 0.5" numOctaves="2" seed="26"/><feColorMatrix type="matrix" values="0.333 0 0 0 -0.073  0.333 0 0 0 -0.073  0.333 0 0 0 -0.073  0 0 0 0 1"/></filter><filter id="nb3" x="0" y="0" width="100%" height="100%" color-interpolation-filters="sRGB"><feTurbulence type="fractalNoise" baseFrequency="0.3 0.6" numOctaves="2" seed="46"/><feColorMatrix type="matrix" values="3.000 0 0 0 -0.716  3.000 0 0 0 -0.716  3.000 0 0 0 -0.716  0 0 0 0 1"/><feGaussianBlur stdDeviation="0.3"/></filter><filter id="bl3" x="0" y="0" width="100%" height="100%"><feGaussianBlur stdDeviation="0.35"/></filter><g clip-path="url(#c3)"><g filter="url(#bl3)"><rect x="133.3" y="293.8" width="110.5" height="57.5" fill="#000" filter="url(#nu3)"/><filter id="nl3" x="0" y="0" width="100%" height="100%" color-interpolation-filters="sRGB"><feTurbulence type="fractalNoise" baseFrequency="0.22 0.5" numOctaves="3" seed="66"/><feColorMatrix type="matrix" values="2.000 0 0 0 -0.769  2.000 0 0 0 -0.769  2.000 0 0 0 -0.769  0 0 0 0 1"/><feGaussianBlur stdDeviation="0.35"/></filter><clipPath id="cl3"><polygon points="133.3,324.6 134.9,326.8 136.5,329.6 138.0,332.7 139.6,335.6 141.2,337.8 142.8,339.0 144.4,338.7 145.9,337.0 147.5,334.5 149.1,331.5 150.7,328.5 152.2,325.8 153.8,323.9 155.4,324.6 157.0,326.8 158.6,329.6 160.1,332.7 161.7,335.6 163.3,337.8 164.9,339.0 166.5,338.2 168.0,336.2 169.6,333.5 171.2,330.4 172.8,327.5 174.3,325.1 175.9,323.6 177.5,325.3 179.1,327.7 180.7,330.7 182.2,333.8 183.8,336.5 185.4,338.4 187.0,339.1 188.6,339.0 190.1,337.7 191.7,335.5 193.3,332.6 194.9,329.5 196.4,326.7 198.0,324.5 199.6,324.0 201.2,325.9 202.8,328.6 204.3,331.6 205.9,334.6 207.5,337.1 209.1,338.7 210.7,338.7 212.2,337.0 213.8,334.5 215.4,331.5 217.0,328.5 218.5,325.8 220.1,323.9 221.7,324.6 223.3,326.8 224.9,329.6 226.4,332.7 228.0,335.6 229.6,337.8 231.2,339.0 232.8,338.7 234.3,337.0 235.9,334.5 237.5,331.5 239.1,328.5 240.6,325.8 242.2,323.9 243.8,324.6 243.8,351.3 133.3,351.3"/></clipPath><rect x="133.3" y="293.8" width="110.5" height="57.5" fill="#000" filter="url(#nl3)" clip-path="url(#cl3)"/><polyline points="133.3,309.9 134.9,308.9 136.5,307.5 138.0,306.0 139.6,304.6 141.2,303.6 142.8,303.0 144.4,303.2 145.9,303.9 147.5,305.2 149.1,306.6 150.7,308.1 152.2,309.3 153.8,310.2 155.4,309.9 157.0,308.9 158.6,307.5 160.1,306.0 161.7,304.6 163.3,303.6 164.9,303.0 166.5,303.4 168.0,304.3 169.6,305.6 171.2,307.1 172.8,308.5 174.3,309.7 175.9,310.4 177.5,309.6 179.1,308.4 180.7,307.0 182.2,305.5 183.8,304.2 185.4,303.3 187.0,303.0 188.6,303.0 190.1,303.6 191.7,304.7 193.3,306.1 194.9,307.6 196.4,308.9 198.0,310.0 199.6,310.2 201.2,309.3 202.8,308.0 204.3,306.5 205.9,305.1 207.5,303.9 209.1,303.1 210.7,303.2 212.2,303.9 213.8,305.2 215.4,306.6 217.0,308.1 218.5,309.3 220.1,310.2 221.7,309.9 223.3,308.9 224.9,307.5 226.4,306.0 228.0,304.6 229.6,303.6 231.2,303.0 232.8,303.2 234.3,303.9 235.9,305.2 237.5,306.6 239.1,308.1 240.6,309.3 242.2,310.2 243.8,309.9" fill="none" stroke="#cfcfcf" stroke-width="1.0" stroke-opacity="0.44" stroke-dasharray="9.7,2.5,7.9,1.4,7.2,3.4,6.6,3.3,7.4,4.8,9.2,4.8,5.8,1.2,3.8,1.5,4.1,1.6,8.8,1.5,5.7,4.9,4.9,1.7,3.4,3.3,4.3,1.2,4.2,2.1,3.5,3.5,9.9,4.3,7.6,3.6,3.4,4.4,6.2,3.6"/><polyline points="133.3,305.9 134.9,304.9 136.5,303.5 138.0,302.0 139.6,300.6 141.2,299.6 142.8,299.0 144.4,299.2 145.9,299.9 147.5,301.2 149.1,302.6 150.7,304.1 152.2,305.3 153.8,306.2 155.4,305.9 157.0,304.9 158.6,303.5 160.1,302.0 161.7,300.6 163.3,299.6 164.9,299.0 166.5,299.4 168.0,300.3 169.6,301.6 171.2,303.1 172.8,304.5 174.3,305.7 175.9,306.4 177.5,305.6 179.1,304.4 180.7,303.0 182.2,301.5 183.8,300.2 185.4,299.3 187.0,299.0 188.6,299.0 190.1,299.6 191.7,300.7 193.3,302.1 194.9,303.6 196.4,304.9 198.0,306.0 199.6,306.2 201.2,305.3 202.8,304.0 204.3,302.5 205.9,301.1 207.5,299.9 209.1,299.1 210.7,299.2 212.2,299.9 213.8,301.2 215.4,302.6 217.0,304.1 218.5,305.3 220.1,306.2 221.7,305.9 223.3,304.9 224.9,303.5 226.4,302.0 228.0,300.6 229.6,299.6 231.2,299.0 232.8,299.2 234.3,299.9 235.9,301.2 237.5,302.6 239.1,304.1 240.6,305.3 242.2,306.2 243.8,305.9" fill="none" stroke="#e0e0e0" stroke-width="1.0" stroke-opacity="0.38" stroke-dasharray="7.9,1.7,8.9,4.1,3.4,3.4,5.6,1.7,7.2,4.9,6.9,1.5,6.5,4.1,9.7,3.9,3.3,4.9,7.2,1.3,3.9,1.3,7.7,1.6,8.7,1.4,6.7,2.8,3.3,1.0,9.3,4.9,3.9,3.9,9.9,4.6,9.2,2.4,8.0,3.0"/><polyline points="133.3,301.9 134.9,300.9 136.5,299.5 138.0,298.0 139.6,296.6 141.2,295.6 142.8,295.0 144.4,295.2 145.9,295.9 147.5,297.2 149.1,298.6 150.7,300.1 152.2,301.3 153.8,302.2 155.4,301.9 157.0,300.9 158.6,299.5 160.1,298.0 161.7,296.6 163.3,295.6 164.9,295.0 166.5,295.4 168.0,296.3 169.6,297.6 171.2,299.1 172.8,300.5 174.3,301.7 175.9,302.4 177.5,301.6 179.1,300.4 180.7,299.0 182.2,297.5 183.8,296.2 185.4,295.3 187.0,295.0 188.6,295.0 190.1,295.6 191.7,296.7 193.3,298.1 194.9,299.6 196.4,300.9 198.0,302.0 199.6,302.2 201.2,301.3 202.8,300.0 204.3,298.5 205.9,297.1 207.5,295.9 209.1,295.1 210.7,295.2 212.2,295.9 213.8,297.2 215.4,298.6 217.0,300.1 218.5,301.3 220.1,302.2 221.7,301.9 223.3,300.9 224.9,299.5 226.4,298.0 228.0,296.6 229.6,295.6 231.2,295.0 232.8,295.2 234.3,295.9 235.9,297.2 237.5,298.6 239.1,300.1 240.6,301.3 242.2,302.2 243.8,301.9" fill="none" stroke="#e0e0e0" stroke-width="1.1" stroke-opacity="0.34" stroke-dasharray="9.7,1.3,3.2,3.9,8.9,3.7,4.4,4.7,5.8,3.4,5.9,4.2,5.8,1.2,6.8,4.1,4.3,4.0,3.4,1.9,5.1,2.4,8.4,4.9,8.8,2.6,3.4,3.0,3.7,1.1,9.0,4.4,9.2,3.0,6.5,1.4,5.4,1.9,6.1,2.6"/><polyline points="133.3,326.6 134.9,328.8 136.5,331.6 138.0,334.7 139.6,337.6 141.2,339.8 142.8,341.0 144.4,340.7 145.9,339.0 147.5,336.5 149.1,333.5 150.7,330.5 152.2,327.8 153.8,325.9 155.4,326.6 157.0,328.8 158.6,331.6 160.1,334.7 161.7,337.6 163.3,339.8 164.9,341.0 166.5,340.2 168.0,338.2 169.6,335.5 171.2,332.4 172.8,329.5 174.3,327.1 175.9,325.6 177.5,327.3 179.1,329.7 180.7,332.7 182.2,335.8 183.8,338.5 185.4,340.4 187.0,341.1 188.6,341.0 190.1,339.7 191.7,337.5 193.3,334.6 194.9,331.5 196.4,328.7 198.0,326.5 199.6,326.0 201.2,327.9 202.8,330.6 204.3,333.6 205.9,336.6 207.5,339.1 209.1,340.7 210.7,340.7 212.2,339.0 213.8,336.5 215.4,333.5 217.0,330.5 218.5,327.8 220.1,325.9 221.7,326.6 223.3,328.8 224.9,331.6 226.4,334.7 228.0,337.6 229.6,339.8 231.2,341.0 232.8,340.7 234.3,339.0 235.9,336.5 237.5,333.5 239.1,330.5 240.6,327.8 242.2,325.9 243.8,326.6" fill="none" stroke="#d8d8d8" stroke-width="0.9" stroke-opacity="0.52" stroke-dasharray="4.1,2.9,4.8,2.3,3.1,2.1,6.0,1.8,4.2,2.7,9.2,1.6,3.4,1.8,9.3,1.8,8.8,1.2,9.3,1.4,5.0,3.2,7.3,2.9,5.6,3.0,5.7,2.4,7.0,3.7,9.8,2.6,10.6,2.8,9.5,2.6,8.2,1.6,11.4,2.9"/><polyline points="133.3,329.2 134.9,331.4 136.5,334.2 138.0,337.3 139.6,340.2 141.2,342.4 142.8,343.6 144.4,343.3 145.9,341.6 147.5,339.1 149.1,336.1 150.7,333.1 152.2,330.4 153.8,328.5 155.4,329.2 157.0,331.4 158.6,334.2 160.1,337.3 161.7,340.2 163.3,342.4 164.9,343.6 166.5,342.8 168.0,340.8 169.6,338.1 171.2,335.0 172.8,332.1 174.3,329.7 175.9,328.2 177.5,329.9 179.1,332.3 180.7,335.3 182.2,338.4 183.8,341.1 185.4,343.0 187.0,343.7 188.6,343.6 190.1,342.3 191.7,340.1 193.3,337.2 194.9,334.1 196.4,331.3 198.0,329.1 199.6,328.6 201.2,330.5 202.8,333.2 204.3,336.2 205.9,339.2 207.5,341.7 209.1,343.3 210.7,343.3 212.2,341.6 213.8,339.1 215.4,336.1 217.0,333.1 218.5,330.4 220.1,328.5 221.7,329.2 223.3,331.4 224.9,334.2 226.4,337.3 228.0,340.2 229.6,342.4 231.2,343.6 232.8,343.3 234.3,341.6 235.9,339.1 237.5,336.1 239.1,333.1 240.6,330.4 242.2,328.5 243.8,329.2" fill="none" stroke="#d8d8d8" stroke-width="1.3" stroke-opacity="0.36" stroke-dasharray="4.0,3.6,9.3,3.7,11.0,1.7,11.9,2.8,9.6,2.5,5.3,2.5,7.2,1.9,6.1,2.3,5.4,1.4,10.2,2.1,6.3,3.4,9.3,2.3,5.8,3.4,5.1,2.4,6.4,4.0,5.2,2.8,7.7,1.1,4.6,3.7,10.1,1.6,4.6,3.8"/><polyline points="133.3,331.8 134.9,334.0 136.5,336.8 138.0,339.9 139.6,342.8 141.2,345.0 142.8,346.2 144.4,345.9 145.9,344.2 147.5,341.7 149.1,338.7 150.7,335.7 152.2,333.0 153.8,331.1 155.4,331.8 157.0,334.0 158.6,336.8 160.1,339.9 161.7,342.8 163.3,345.0 164.9,346.2 166.5,345.4 168.0,343.4 169.6,340.7 171.2,337.6 172.8,334.7 174.3,332.3 175.9,330.8 177.5,332.5 179.1,334.9 180.7,337.9 182.2,341.0 183.8,343.7 185.4,345.6 187.0,346.3 188.6,346.2 190.1,344.9 191.7,342.7 193.3,339.8 194.9,336.7 196.4,333.9 198.0,331.7 199.6,331.2 201.2,333.1 202.8,335.8 204.3,338.8 205.9,341.8 207.5,344.3 209.1,345.9 210.7,345.9 212.2,344.2 213.8,341.7 215.4,338.7 217.0,335.7 218.5,333.0 220.1,331.1 221.7,331.8 223.3,334.0 224.9,336.8 226.4,339.9 228.0,342.8 229.6,345.0 231.2,346.2 232.8,345.9 234.3,344.2 235.9,341.7 237.5,338.7 239.1,335.7 240.6,333.0 242.2,331.1 243.8,331.8" fill="none" stroke="#eeeeee" stroke-width="1.2" stroke-opacity="0.53" stroke-dasharray="4.7,3.7,6.5,2.6,11.9,3.5,4.0,3.2,6.3,1.3,6.9,2.5,11.9,1.3,8.1,2.6,3.5,2.7,8.7,2.7,7.9,3.9,3.1,3.2,7.3,1.2,4.0,3.2,7.0,1.3,9.1,2.3,4.3,1.6,3.1,1.8,11.3,1.3,8.0,2.0"/><polyline points="133.3,334.4 134.9,336.6 136.5,339.4 138.0,342.5 139.6,345.4 141.2,347.6 142.8,348.8 144.4,348.5 145.9,346.8 147.5,344.3 149.1,341.3 150.7,338.3 152.2,335.6 153.8,333.7 155.4,334.4 157.0,336.6 158.6,339.4 160.1,342.5 161.7,345.4 163.3,347.6 164.9,348.8 166.5,348.0 168.0,346.0 169.6,343.3 171.2,340.2 172.8,337.3 174.3,334.9 175.9,333.4 177.5,335.1 179.1,337.5 180.7,340.5 182.2,343.6 183.8,346.3 185.4,348.2 187.0,348.9 188.6,348.8 190.1,347.5 191.7,345.3 193.3,342.4 194.9,339.3 196.4,336.5 198.0,334.3 199.6,333.8 201.2,335.7 202.8,338.4 204.3,341.4 205.9,344.4 207.5,346.9 209.1,348.5 210.7,348.5 212.2,346.8 213.8,344.3 215.4,341.3 217.0,338.3 218.5,335.6 220.1,333.7 221.7,334.4 223.3,336.6 224.9,339.4 226.4,342.5 228.0,345.4 229.6,347.6 231.2,348.8 232.8,348.5 234.3,346.8 235.9,344.3 237.5,341.3 239.1,338.3 240.6,335.6 242.2,333.7 243.8,334.4" fill="none" stroke="#d8d8d8" stroke-width="1.3" stroke-opacity="0.40" stroke-dasharray="10.7,2.2,3.5,2.9,3.8,3.7,11.4,2.8,5.2,3.3,3.4,1.3,5.7,1.2,10.9,3.0,10.3,3.0,5.0,1.8,8.5,3.4,8.6,2.0,10.2,2.2,8.7,3.5,9.0,2.4,8.3,1.6,6.9,3.5,7.4,1.1,10.3,1.5,3.3,2.7"/><clipPath id="cv3"><polygon points="133.3,315.5 134.9,313.6 136.5,312.2 138.0,310.7 139.6,309.3 141.2,308.3 142.8,307.7 144.4,307.9 145.9,308.6 147.5,309.9 149.1,311.3 150.7,312.8 152.2,314.0 153.8,317.9 155.4,315.5 157.0,313.6 158.6,312.2 160.1,310.7 161.7,309.3 163.3,308.3 164.9,307.7 166.5,308.1 168.0,309.0 169.6,310.3 171.2,311.8 172.8,313.2 174.3,314.4 175.9,319.2 177.5,314.3 179.1,313.1 180.7,311.7 182.2,310.2 183.8,308.9 185.4,308.0 187.0,307.7 188.6,307.7 190.1,308.3 191.7,309.4 193.3,310.8 194.9,312.3 196.4,313.6 198.0,315.8 199.6,317.6 201.2,314.0 202.8,312.7 204.3,311.2 205.9,309.8 207.5,308.6 209.1,307.8 210.7,307.9 212.2,308.6 213.8,309.9 215.4,311.3 217.0,312.8 218.5,314.0 220.1,317.9 221.7,315.5 223.3,313.6 224.9,312.2 226.4,310.7 228.0,309.3 229.6,308.3 231.2,307.7 232.8,307.9 234.3,308.6 235.9,309.9 237.5,311.3 239.1,312.8 240.6,314.0 242.2,317.9 243.8,315.5 243.8,321.5 242.2,318.8 240.6,323.6 239.1,326.3 237.5,329.3 235.9,332.3 234.3,334.8 232.8,336.5 231.2,336.8 229.6,335.6 228.0,333.4 226.4,330.5 224.9,327.4 223.3,324.6 221.7,321.5 220.1,318.8 218.5,323.6 217.0,326.3 215.4,329.3 213.8,332.3 212.2,334.8 210.7,336.5 209.1,336.5 207.5,334.9 205.9,332.4 204.3,329.4 202.8,326.4 201.2,323.7 199.6,319.1 198.0,321.2 196.4,324.5 194.9,327.3 193.3,330.4 191.7,333.3 190.1,335.5 188.6,336.8 187.0,336.9 185.4,336.2 183.8,334.3 182.2,331.6 180.7,328.5 179.1,325.5 177.5,323.1 175.9,317.3 174.3,322.9 172.8,325.3 171.2,328.2 169.6,331.3 168.0,334.0 166.5,336.0 164.9,336.8 163.3,335.6 161.7,333.4 160.1,330.5 158.6,327.4 157.0,324.6 155.4,321.5 153.8,318.8 152.2,323.6 150.7,326.3 149.1,329.3 147.5,332.3 145.9,334.8 144.4,336.5 142.8,336.8 141.2,335.6 139.6,333.4 138.0,330.5 136.5,327.4 134.9,324.6 133.3,321.5"/></clipPath><rect x="133.3" y="293.8" width="110.5" height="57.5" fill="#000" filter="url(#nc3)" clip-path="url(#cv3)" opacity="0.92"/><polyline points="133.3,313.4 134.9,312.4 136.5,311.0 138.0,309.5 139.6,308.1 141.2,307.1 142.8,306.5 144.4,306.7 145.9,307.4 147.5,308.7 149.1,310.1 150.7,311.6 152.2,312.8 153.8,313.7 155.4,313.4 157.0,312.4 158.6,311.0 160.1,309.5 161.7,308.1 163.3,307.1 164.9,306.5 166.5,306.9 168.0,307.8 169.6,309.1 171.2,310.6 172.8,312.0 174.3,313.2 175.9,313.9 177.5,313.1 179.1,311.9 180.7,310.5 182.2,309.0 183.8,307.7 185.4,306.8 187.0,306.5 188.6,306.5 190.1,307.1 191.7,308.2 193.3,309.6 194.9,311.1 196.4,312.4 198.0,313.5 199.6,313.7 201.2,312.8 202.8,311.5 204.3,310.0 205.9,308.6 207.5,307.4 209.1,306.6 210.7,306.7 212.2,307.4 213.8,308.7 215.4,310.1 217.0,311.6 218.5,312.8 220.1,313.7 221.7,313.4 223.3,312.4 224.9,311.0 226.4,309.5 228.0,308.1 229.6,307.1 231.2,306.5 232.8,306.7 234.3,307.4 235.9,308.7 237.5,310.1 239.1,311.6 240.6,312.8 242.2,313.7 243.8,313.4" fill="none" stroke="#f4f4f4" stroke-width="2.2" stroke-opacity="0.8" stroke-dasharray="16.8,1.0,12.2,1.6,7.7,1.9,9.5,2.0,13.0,1.7,9.2,2.1,6.2,1.3,7.4,0.9,6.2,1.7,7.0,1.0,12.1,2.0,8.8,1.9,13.8,2.4,17.3,2.5,11.0,2.3,10.5,1.3,12.0,0.8,16.1,1.0,14.6,0.9,12.0,1.2"/><polyline points="133.3,323.6 134.9,325.8 136.5,328.6 138.0,331.7 139.6,334.6 141.2,336.8 142.8,338.0 144.4,337.7 145.9,336.0 147.5,333.5 149.1,330.5 150.7,327.5 152.2,324.8 153.8,322.9 155.4,323.6 157.0,325.8 158.6,328.6 160.1,331.7 161.7,334.6 163.3,336.8 164.9,338.0 166.5,337.2 168.0,335.2 169.6,332.5 171.2,329.4 172.8,326.5 174.3,324.1 175.9,322.6 177.5,324.3 179.1,326.7 180.7,329.7 182.2,332.8 183.8,335.5 185.4,337.4 187.0,338.1 188.6,338.0 190.1,336.7 191.7,334.5 193.3,331.6 194.9,328.5 196.4,325.7 198.0,323.5 199.6,323.0 201.2,324.9 202.8,327.6 204.3,330.6 205.9,333.6 207.5,336.1 209.1,337.7 210.7,337.7 212.2,336.0 213.8,333.5 215.4,330.5 217.0,327.5 218.5,324.8 220.1,322.9 221.7,323.6 223.3,325.8 224.9,328.6 226.4,331.7 228.0,334.6 229.6,336.8 231.2,338.0 232.8,337.7 234.3,336.0 235.9,333.5 237.5,330.5 239.1,327.5 240.6,324.8 242.2,322.9 243.8,323.6" fill="none" stroke="#f4f4f4" stroke-width="2.3" stroke-opacity="0.8" stroke-dasharray="19.2,1.3,11.0,1.3,7.7,1.9,10.2,1.3,10.4,1.4,17.1,1.2,7.7,1.4,14.0,1.3,7.5,1.4,19.5,2.3,12.2,1.5,8.4,1.9,16.1,1.2,14.8,1.0,10.4,1.3,17.2,1.9,13.2,1.5,13.7,1.6,9.6,2.2,17.2,1.5"/><polyline points="133.3,326.4 134.9,328.6 136.5,331.4 138.0,334.5 139.6,337.4 141.2,339.6 142.8,340.8 144.4,340.5 145.9,338.8 147.5,336.3 149.1,333.3 150.7,330.3 152.2,327.6 153.8,325.7 155.4,326.4 157.0,328.6 158.6,331.4 160.1,334.5 161.7,337.4 163.3,339.6 164.9,340.8 166.5,340.0 168.0,338.0 169.6,335.3 171.2,332.2 172.8,329.3 174.3,326.9 175.9,325.4 177.5,327.1 179.1,329.5 180.7,332.5 182.2,335.6 183.8,338.3 185.4,340.2 187.0,340.9 188.6,340.8 190.1,339.5 191.7,337.3 193.3,334.4 194.9,331.3 196.4,328.5 198.0,326.3 199.6,325.8 201.2,327.7 202.8,330.4 204.3,333.4 205.9,336.4 207.5,338.9 209.1,340.5 210.7,340.5 212.2,338.8 213.8,336.3 215.4,333.3 217.0,330.3 218.5,327.6 220.1,325.7 221.7,326.4 223.3,328.6 224.9,331.4 226.4,334.5 228.0,337.4 229.6,339.6 231.2,340.8 232.8,340.5 234.3,338.8 235.9,336.3 237.5,333.3 239.1,330.3 240.6,327.6 242.2,325.7 243.8,326.4" fill="none" stroke="#e8e8e8" stroke-width="1.3" stroke-opacity="0.56" stroke-dasharray="9.0,2.9,5.2,2.5,6.7,1.4,8.5,2.2,8.2,2.0,10.1,2.8,10.8,1.5,11.3,2.1,8.0,2.4,5.1,3.0,13.7,1.1,12.1,1.3,14.9,1.9,12.5,1.5,11.5,1.1,13.0,1.5,6.7,1.9,10.0,1.1,6.7,1.8,10.4,2.4"/><polygon points="133.3,343.4 134.9,344.7 136.5,343.9 138.0,344.6 139.6,343.2 141.2,342.8 142.8,342.1 144.4,341.3 145.9,342.5 147.5,342.0 149.1,342.5 150.7,342.0 152.2,343.1 153.8,343.2 155.4,343.6 157.0,344.0 158.6,344.3 160.1,343.8 161.7,343.7 163.3,343.6 164.9,342.5 166.5,342.4 168.0,342.5 169.6,342.6 171.2,341.9 172.8,343.1 174.3,343.4 175.9,342.8 177.5,344.5 179.1,344.8 180.7,344.7 182.2,343.6 183.8,343.7 185.4,343.4 187.0,342.2 188.6,342.2 190.1,341.6 191.7,342.5 193.3,342.1 194.9,342.1 196.4,343.0 198.0,343.7 199.6,343.8 201.2,343.9 202.8,344.3 204.3,343.5 205.9,343.4 207.5,342.2 209.1,342.0 210.7,341.3 212.2,341.7 213.8,341.6 215.4,341.9 217.0,341.8 218.5,343.9 220.1,343.1 221.7,343.2 223.3,344.3 224.9,343.4 226.4,343.9 228.0,344.0 229.6,342.1 231.2,342.3 232.8,342.5 234.3,341.4 235.9,341.2 237.5,341.4 239.1,342.9 240.6,343.5 242.2,343.5 243.8,343.7 243.8,351.3 133.3,351.3" fill="#f6f6f6" fill-opacity="0.95"/><clipPath id="cb3"><polygon points="133.3,343.4 134.9,344.7 136.5,343.9 138.0,344.6 139.6,343.2 141.2,342.8 142.8,342.1 144.4,341.3 145.9,342.5 147.5,342.0 149.1,342.5 150.7,342.0 152.2,343.1 153.8,343.2 155.4,343.6 157.0,344.0 158.6,344.3 160.1,343.8 161.7,343.7 163.3,343.6 164.9,342.5 166.5,342.4 168.0,342.5 169.6,342.6 171.2,341.9 172.8,343.1 174.3,343.4 175.9,342.8 177.5,344.5 179.1,344.8 180.7,344.7 182.2,343.6 183.8,343.7 185.4,343.4 187.0,342.2 188.6,342.2 190.1,341.6 191.7,342.5 193.3,342.1 194.9,342.1 196.4,343.0 198.0,343.7 199.6,343.8 201.2,343.9 202.8,344.3 204.3,343.5 205.9,343.4 207.5,342.2 209.1,342.0 210.7,341.3 212.2,341.7 213.8,341.6 215.4,341.9 217.0,341.8 218.5,343.9 220.1,343.1 221.7,343.2 223.3,344.3 224.9,343.4 226.4,343.9 228.0,344.0 229.6,342.1 231.2,342.3 232.8,342.5 234.3,341.4 235.9,341.2 237.5,341.4 239.1,342.9 240.6,343.5 242.2,343.5 243.8,343.7 243.8,351.3 133.3,351.3"/></clipPath><rect x="133.3" y="293.8" width="110.5" height="57.5" fill="#000" filter="url(#nb3)" clip-path="url(#cb3)" opacity="0.22"/><rect x="133.3" y="293.8" width="110.5" height="2.2" fill="#e4e4e4" fill-opacity="0.85"/></g></g><rect x="133.8" y="294.3" width="109.5" height="56.5" fill="none" stroke="#666666" stroke-width="1"/><text x="52.50" y="395.50" font-size="8.5" fill="#a8283f" stroke="#a8283f" stroke-width="0.15" textLength="39.50" lengthAdjust="spacingAndGlyphs" >Control D2</text><clipPath id="c4"><rect x="20.5" y="396.8" width="110.69999999999999" height="57.69999999999999"/></clipPath><filter id="nu4" x="0" y="0" width="100%" height="100%" color-interpolation-filters="sRGB"><feTurbulence type="fractalNoise" baseFrequency="0.12 0.6" numOctaves="3" seed="7"/><feColorMatrix type="matrix" values="1.833 0 0 0 -0.768  1.833 0 0 0 -0.768  1.833 0 0 0 -0.768  0 0 0 0 1"/><feGaussianBlur stdDeviation="0.3"/></filter><filter id="nc4" x="0" y="0" width="100%" height="100%" color-interpolation-filters="sRGB"><feTurbulence type="fractalNoise" baseFrequency="0.3 0.5" numOctaves="2" seed="27"/><feColorMatrix type="matrix" values="0.333 0 0 0 -0.073  0.333 0 0 0 -0.073  0.333 0 0 0 -0.073  0 0 0 0 1"/></filter><filter id="nb4" x="0" y="0" width="100%" height="100%" color-interpolation-filters="sRGB"><feTurbulence type="fractalNoise" baseFrequency="0.3 0.6" numOctaves="2" seed="47"/><feColorMatrix type="matrix" values="3.000 0 0 0 -0.716  3.000 0 0 0 -0.716  3.000 0 0 0 -0.716  0 0 0 0 1"/><feGaussianBlur stdDeviation="0.3"/></filter><filter id="bl4" x="0" y="0" width="100%" height="100%"><feGaussianBlur stdDeviation="0.35"/></filter><g clip-path="url(#c4)"><g filter="url(#bl4)"><rect x="20.5" y="396.8" width="110.69999999999999" height="57.69999999999999" fill="#000" filter="url(#nu4)"/><filter id="nl4" x="0" y="0" width="100%" height="100%" color-interpolation-filters="sRGB"><feTurbulence type="fractalNoise" baseFrequency="0.22 0.5" numOctaves="3" seed="67"/><feColorMatrix type="matrix" values="2.000 0 0 0 -0.788  2.000 0 0 0 -0.788  2.000 0 0 0 -0.788  0 0 0 0 1"/><feGaussianBlur stdDeviation="0.35"/></filter><clipPath id="cl4"><polygon points="20.5,433.8 22.1,435.7 23.7,438.0 25.2,440.5 26.8,442.8 28.4,444.7 30.0,445.6 31.6,445.3 33.2,444.0 34.7,442.0 36.3,439.5 37.9,437.0 39.5,434.9 41.1,433.3 42.6,433.8 44.2,435.7 45.8,438.0 47.4,440.5 49.0,442.8 50.5,444.7 52.1,445.6 53.7,445.6 55.3,444.6 56.9,442.7 58.5,440.4 60.0,437.9 61.6,435.6 63.2,433.8 64.8,433.4 66.4,435.0 67.9,437.1 69.5,439.6 71.1,442.1 72.7,444.1 74.3,445.4 75.8,445.6 77.4,444.6 79.0,442.7 80.6,440.4 82.2,437.9 83.8,435.6 85.3,433.8 86.9,433.4 88.5,435.0 90.1,437.1 91.7,439.6 93.2,442.1 94.8,444.1 96.4,445.4 98.0,445.3 99.6,444.0 101.2,442.0 102.7,439.5 104.3,437.0 105.9,434.9 107.5,433.3 109.1,433.8 110.6,435.7 112.2,438.0 113.8,440.5 115.4,442.8 117.0,444.7 118.5,445.6 120.1,445.3 121.7,444.0 123.3,442.0 124.9,439.5 126.5,437.0 128.0,434.9 129.6,433.3 131.2,433.8 131.2,454.5 20.5,454.5"/></clipPath><rect x="20.5" y="396.8" width="110.69999999999999" height="57.69999999999999" fill="#000" filter="url(#nl4)" clip-path="url(#cl4)"/><polyline points="20.5,414.0 22.1,412.6 23.7,410.8 25.2,408.9 26.8,407.0 28.4,405.6 30.0,404.9 31.6,405.1 33.2,406.1 34.7,407.7 36.3,409.6 37.9,411.6 39.5,413.2 41.1,414.4 42.6,414.0 44.2,412.6 45.8,410.8 47.4,408.9 49.0,407.0 50.5,405.6 52.1,404.9 53.7,404.9 55.3,405.7 56.9,407.1 58.5,409.0 60.0,410.9 61.6,412.7 63.2,414.0 64.8,414.4 66.4,413.1 67.9,411.5 69.5,409.5 71.1,407.6 72.7,406.1 74.3,405.1 75.8,404.9 77.4,405.7 79.0,407.1 80.6,409.0 82.2,410.9 83.8,412.7 85.3,414.0 86.9,414.4 88.5,413.1 90.1,411.5 91.7,409.5 93.2,407.6 94.8,406.1 96.4,405.1 98.0,405.1 99.6,406.1 101.2,407.7 102.7,409.6 104.3,411.6 105.9,413.2 107.5,414.4 109.1,414.0 110.6,412.6 112.2,410.8 113.8,408.9 115.4,407.0 117.0,405.6 118.5,404.9 120.1,405.1 121.7,406.1 123.3,407.7 124.9,409.6 126.5,411.6 128.0,413.2 129.6,414.4 131.2,414.0" fill="none" stroke="#b0b0b0" stroke-width="1.3" stroke-opacity="0.34" stroke-dasharray="9.2,3.8,8.4,2.3,6.8,1.9,6.9,4.7,5.4,1.4,5.4,1.9,3.5,4.5,9.9,4.6,6.0,1.4,9.5,1.3,7.2,2.3,7.8,4.3,3.0,2.3,8.6,2.7,9.9,1.8,6.1,4.6,7.1,1.5,7.4,3.1,3.9,3.7,9.2,4.9"/><polyline points="20.5,410.0 22.1,408.6 23.7,406.8 25.2,404.9 26.8,403.0 28.4,401.6 30.0,400.9 31.6,401.1 33.2,402.1 34.7,403.7 36.3,405.6 37.9,407.6 39.5,409.2 41.1,410.4 42.6,410.0 44.2,408.6 45.8,406.8 47.4,404.9 49.0,403.0 50.5,401.6 52.1,400.9 53.7,400.9 55.3,401.7 56.9,403.1 58.5,405.0 60.0,406.9 61.6,408.7 63.2,410.0 64.8,410.4 66.4,409.1 67.9,407.5 69.5,405.5 71.1,403.6 72.7,402.1 74.3,401.1 75.8,400.9 77.4,401.7 79.0,403.1 80.6,405.0 82.2,406.9 83.8,408.7 85.3,410.0 86.9,410.4 88.5,409.1 90.1,407.5 91.7,405.5 93.2,403.6 94.8,402.1 96.4,401.1 98.0,401.1 99.6,402.1 101.2,403.7 102.7,405.6 104.3,407.6 105.9,409.2 107.5,410.4 109.1,410.0 110.6,408.6 112.2,406.8 113.8,404.9 115.4,403.0 117.0,401.6 118.5,400.9 120.1,401.1 121.7,402.1 123.3,403.7 124.9,405.6 126.5,407.6 128.0,409.2 129.6,410.4 131.2,410.0" fill="none" stroke="#cfcfcf" stroke-width="1.3" stroke-opacity="0.41" stroke-dasharray="9.8,3.0,9.2,4.3,8.7,1.5,7.0,3.1,3.7,2.5,6.6,1.0,3.1,3.3,5.9,4.9,9.0,4.3,8.6,1.9,8.1,1.4,4.0,2.5,4.7,1.1,6.6,4.9,3.6,1.9,9.5,3.1,6.3,2.7,8.7,2.9,5.8,2.5,8.4,1.1"/><polyline points="20.5,406.0 22.1,404.6 23.7,402.8 25.2,400.9 26.8,399.0 28.4,397.6 30.0,396.9 31.6,397.1 33.2,398.1 34.7,399.7 36.3,401.6 37.9,403.6 39.5,405.2 41.1,406.4 42.6,406.0 44.2,404.6 45.8,402.8 47.4,400.9 49.0,399.0 50.5,397.6 52.1,396.9 53.7,396.9 55.3,397.7 56.9,399.1 58.5,401.0 60.0,402.9 61.6,404.7 63.2,406.0 64.8,406.4 66.4,405.1 67.9,403.5 69.5,401.5 71.1,399.6 72.7,398.1 74.3,397.1 75.8,396.9 77.4,397.7 79.0,399.1 80.6,401.0 82.2,402.9 83.8,404.7 85.3,406.0 86.9,406.4 88.5,405.1 90.1,403.5 91.7,401.5 93.2,399.6 94.8,398.1 96.4,397.1 98.0,397.1 99.6,398.1 101.2,399.7 102.7,401.6 104.3,403.6 105.9,405.2 107.5,406.4 109.1,406.0 110.6,404.6 112.2,402.8 113.8,400.9 115.4,399.0 117.0,397.6 118.5,396.9 120.1,397.1 121.7,398.1 123.3,399.7 124.9,401.6 126.5,403.6 128.0,405.2 129.6,406.4 131.2,406.0" fill="none" stroke="#b0b0b0" stroke-width="1.2" stroke-opacity="0.39" stroke-dasharray="5.2,4.4,6.8,3.7,9.2,1.4,4.1,1.8,9.9,3.6,3.1,1.5,9.9,1.1,7.8,4.4,5.5,1.7,3.4,3.3,8.0,2.2,7.1,1.6,5.8,2.4,4.1,4.4,6.7,2.1,7.5,4.6,5.3,1.6,8.8,4.9,5.0,4.2,5.2,2.5"/><polyline points="20.5,435.8 22.1,437.7 23.7,440.0 25.2,442.5 26.8,444.8 28.4,446.7 30.0,447.6 31.6,447.3 33.2,446.0 34.7,444.0 36.3,441.5 37.9,439.0 39.5,436.9 41.1,435.3 42.6,435.8 44.2,437.7 45.8,440.0 47.4,442.5 49.0,444.8 50.5,446.7 52.1,447.6 53.7,447.6 55.3,446.6 56.9,444.7 58.5,442.4 60.0,439.9 61.6,437.6 63.2,435.8 64.8,435.4 66.4,437.0 67.9,439.1 69.5,441.6 71.1,444.1 72.7,446.1 74.3,447.4 75.8,447.6 77.4,446.6 79.0,444.7 80.6,442.4 82.2,439.9 83.8,437.6 85.3,435.8 86.9,435.4 88.5,437.0 90.1,439.1 91.7,441.6 93.2,444.1 94.8,446.1 96.4,447.4 98.0,447.3 99.6,446.0 101.2,444.0 102.7,441.5 104.3,439.0 105.9,436.9 107.5,435.3 109.1,435.8 110.6,437.7 112.2,440.0 113.8,442.5 115.4,444.8 117.0,446.7 118.5,447.6 120.1,447.3 121.7,446.0 123.3,444.0 124.9,441.5 126.5,439.0 128.0,436.9 129.6,435.3 131.2,435.8" fill="none" stroke="#c0c0c0" stroke-width="1.5" stroke-opacity="0.49" stroke-dasharray="3.9,1.2,4.0,2.9,10.8,1.8,10.1,2.8,11.9,1.8,5.0,3.0,4.8,1.9,5.2,3.8,7.5,1.7,9.3,3.2,9.9,3.2,8.0,1.3,4.4,2.3,5.1,2.2,7.9,1.1,5.8,1.4,4.5,3.3,7.6,1.1,4.7,2.5,9.4,2.4"/><polyline points="20.5,438.4 22.1,440.3 23.7,442.6 25.2,445.1 26.8,447.4 28.4,449.3 30.0,450.2 31.6,449.9 33.2,448.6 34.7,446.6 36.3,444.1 37.9,441.6 39.5,439.5 41.1,437.9 42.6,438.4 44.2,440.3 45.8,442.6 47.4,445.1 49.0,447.4 50.5,449.3 52.1,450.2 53.7,450.2 55.3,449.2 56.9,447.3 58.5,445.0 60.0,442.5 61.6,440.2 63.2,438.4 64.8,438.0 66.4,439.6 67.9,441.7 69.5,444.2 71.1,446.7 72.7,448.7 74.3,450.0 75.8,450.2 77.4,449.2 79.0,447.3 80.6,445.0 82.2,442.5 83.8,440.2 85.3,438.4 86.9,438.0 88.5,439.6 90.1,441.7 91.7,444.2 93.2,446.7 94.8,448.7 96.4,450.0 98.0,449.9 99.6,448.6 101.2,446.6 102.7,444.1 104.3,441.6 105.9,439.5 107.5,437.9 109.1,438.4 110.6,440.3 112.2,442.6 113.8,445.1 115.4,447.4 117.0,449.3 118.5,450.2 120.1,449.9 121.7,448.6 123.3,446.6 124.9,444.1 126.5,441.6 128.0,439.5 129.6,437.9 131.2,438.4" fill="none" stroke="#eeeeee" stroke-width="1.5" stroke-opacity="0.55" stroke-dasharray="11.6,1.6,3.3,1.1,4.8,1.3,4.3,3.1,7.0,1.8,7.5,1.6,6.2,2.2,3.5,3.8,11.0,2.1,8.6,1.1,6.4,2.8,6.8,1.4,7.3,1.7,8.6,3.1,7.9,3.6,10.1,1.4,11.8,3.0,7.8,2.4,10.3,1.9,9.0,2.2"/><polyline points="20.5,441.0 22.1,442.9 23.7,445.2 25.2,447.7 26.8,450.0 28.4,451.9 30.0,452.8 31.6,452.5 33.2,451.2 34.7,449.2 36.3,446.7 37.9,444.2 39.5,442.1 41.1,440.5 42.6,441.0 44.2,442.9 45.8,445.2 47.4,447.7 49.0,450.0 50.5,451.9 52.1,452.8 53.7,452.8 55.3,451.8 56.9,449.9 58.5,447.6 60.0,445.1 61.6,442.8 63.2,441.0 64.8,440.6 66.4,442.2 67.9,444.3 69.5,446.8 71.1,449.3 72.7,451.3 74.3,452.6 75.8,452.8 77.4,451.8 79.0,449.9 80.6,447.6 82.2,445.1 83.8,442.8 85.3,441.0 86.9,440.6 88.5,442.2 90.1,444.3 91.7,446.8 93.2,449.3 94.8,451.3 96.4,452.6 98.0,452.5 99.6,451.2 101.2,449.2 102.7,446.7 104.3,444.2 105.9,442.1 107.5,440.5 109.1,441.0 110.6,442.9 112.2,445.2 113.8,447.7 115.4,450.0 117.0,451.9 118.5,452.8 120.1,452.5 121.7,451.2 123.3,449.2 124.9,446.7 126.5,444.2 128.0,442.1 129.6,440.5 131.2,441.0" fill="none" stroke="#eeeeee" stroke-width="1.5" stroke-opacity="0.44" stroke-dasharray="4.4,1.4,7.8,2.2,5.5,3.0,6.0,2.0,11.3,3.5,10.8,1.2,9.7,2.6,7.8,2.6,8.7,2.2,7.9,2.3,4.3,2.7,10.1,3.5,7.1,2.0,6.0,1.5,5.2,2.1,10.0,3.5,5.2,3.7,7.5,3.2,6.9,2.6,9.1,4.0"/><polyline points="20.5,443.6 22.1,445.5 23.7,447.8 25.2,450.3 26.8,452.6 28.4,454.5 30.0,455.4 31.6,455.1 33.2,453.8 34.7,451.8 36.3,449.3 37.9,446.8 39.5,444.7 41.1,443.1 42.6,443.6 44.2,445.5 45.8,447.8 47.4,450.3 49.0,452.6 50.5,454.5 52.1,455.4 53.7,455.4 55.3,454.4 56.9,452.5 58.5,450.2 60.0,447.7 61.6,445.4 63.2,443.6 64.8,443.2 66.4,444.8 67.9,446.9 69.5,449.4 71.1,451.9 72.7,453.9 74.3,455.2 75.8,455.4 77.4,454.4 79.0,452.5 80.6,450.2 82.2,447.7 83.8,445.4 85.3,443.6 86.9,443.2 88.5,444.8 90.1,446.9 91.7,449.4 93.2,451.9 94.8,453.9 96.4,455.2 98.0,455.1 99.6,453.8 101.2,451.8 102.7,449.3 104.3,446.8 105.9,444.7 107.5,443.1 109.1,443.6 110.6,445.5 112.2,447.8 113.8,450.3 115.4,452.6 117.0,454.5 118.5,455.4 120.1,455.1 121.7,453.8 123.3,451.8 124.9,449.3 126.5,446.8 128.0,444.7 129.6,443.1 131.2,443.6" fill="none" stroke="#c0c0c0" stroke-width="1.1" stroke-opacity="0.58" stroke-dasharray="8.8,3.9,4.6,2.3,9.2,3.9,9.9,2.4,11.2,3.3,6.0,2.1,8.2,4.0,8.8,2.2,9.1,1.3,7.9,2.9,9.7,3.8,3.5,2.9,7.3,1.8,7.5,1.8,4.8,3.7,8.5,1.3,6.1,1.2,6.3,2.1,3.5,1.2,6.9,4.0"/><clipPath id="cv4"><polygon points="20.5,422.9 22.1,417.3 23.7,415.5 25.2,413.6 26.8,411.7 28.4,410.3 30.0,409.6 31.6,409.8 33.2,410.8 34.7,412.4 36.3,414.3 37.9,416.3 39.5,419.2 41.1,424.9 42.6,422.9 44.2,417.3 45.8,415.5 47.4,413.6 49.0,411.7 50.5,410.3 52.1,409.6 53.7,409.6 55.3,410.4 56.9,411.8 58.5,413.7 60.0,415.6 61.6,417.4 63.2,423.1 64.8,424.7 66.4,418.9 67.9,416.2 69.5,414.2 71.1,412.3 72.7,410.8 74.3,409.8 75.8,409.6 77.4,410.4 79.0,411.8 80.6,413.7 82.2,415.6 83.8,417.4 85.3,423.1 86.9,424.7 88.5,418.9 90.1,416.2 91.7,414.2 93.2,412.3 94.8,410.8 96.4,409.8 98.0,409.8 99.6,410.8 101.2,412.4 102.7,414.3 104.3,416.3 105.9,419.2 107.5,424.9 109.1,422.9 110.6,417.3 112.2,415.5 113.8,413.6 115.4,411.7 117.0,410.3 118.5,409.6 120.1,409.8 121.7,410.8 123.3,412.4 124.9,414.3 126.5,416.3 128.0,419.2 129.6,424.9 131.2,422.9 131.2,427.5 129.6,425.3 128.0,431.3 126.5,434.8 124.9,437.3 123.3,439.8 121.7,441.8 120.1,443.1 118.5,443.4 117.0,442.5 115.4,440.6 113.8,438.3 112.2,435.8 110.6,433.5 109.1,427.5 107.5,425.3 105.9,431.3 104.3,434.8 102.7,437.3 101.2,439.8 99.6,441.8 98.0,443.1 96.4,443.2 94.8,441.9 93.2,439.9 91.7,437.4 90.1,434.9 88.5,431.7 86.9,425.6 85.3,427.2 83.8,433.4 82.2,435.7 80.6,438.2 79.0,440.5 77.4,442.4 75.8,443.4 74.3,443.2 72.7,441.9 71.1,439.9 69.5,437.4 67.9,434.9 66.4,431.7 64.8,425.6 63.2,427.2 61.6,433.4 60.0,435.7 58.5,438.2 56.9,440.5 55.3,442.4 53.7,443.4 52.1,443.4 50.5,442.5 49.0,440.6 47.4,438.3 45.8,435.8 44.2,433.5 42.6,427.5 41.1,425.3 39.5,431.3 37.9,434.8 36.3,437.3 34.7,439.8 33.2,441.8 31.6,443.1 30.0,443.4 28.4,442.5 26.8,440.6 25.2,438.3 23.7,435.8 22.1,433.5 20.5,427.5"/></clipPath><rect x="20.5" y="396.8" width="110.69999999999999" height="57.69999999999999" fill="#000" filter="url(#nc4)" clip-path="url(#cv4)" opacity="0.92"/><polyline points="20.5,417.5 22.1,416.1 23.7,414.3 25.2,412.4 26.8,410.5 28.4,409.1 30.0,408.4 31.6,408.6 33.2,409.6 34.7,411.2 36.3,413.1 37.9,415.1 39.5,416.7 41.1,417.9 42.6,417.5 44.2,416.1 45.8,414.3 47.4,412.4 49.0,410.5 50.5,409.1 52.1,408.4 53.7,408.4 55.3,409.2 56.9,410.6 58.5,412.5 60.0,414.4 61.6,416.2 63.2,417.5 64.8,417.9 66.4,416.6 67.9,415.0 69.5,413.0 71.1,411.1 72.7,409.6 74.3,408.6 75.8,408.4 77.4,409.2 79.0,410.6 80.6,412.5 82.2,414.4 83.8,416.2 85.3,417.5 86.9,417.9 88.5,416.6 90.1,415.0 91.7,413.0 93.2,411.1 94.8,409.6 96.4,408.6 98.0,408.6 99.6,409.6 101.2,411.2 102.7,413.1 104.3,415.1 105.9,416.7 107.5,417.9 109.1,417.5 110.6,416.1 112.2,414.3 113.8,412.4 115.4,410.5 117.0,409.1 118.5,408.4 120.1,408.6 121.7,409.6 123.3,411.2 124.9,413.1 126.5,415.1 128.0,416.7 129.6,417.9 131.2,417.5" fill="none" stroke="#f4f4f4" stroke-width="2.2" stroke-opacity="0.35" stroke-dasharray="10.1,2.4,7.6,2.2,7.8,2.0,8.3,2.3,18.8,1.2,19.9,2.0,6.7,2.3,12.0,1.5,12.3,1.2,18.9,2.0,16.6,2.2,9.6,2.0,16.5,1.4,15.2,1.8,18.3,1.6,11.4,1.9,16.8,2.0,11.5,1.8,19.2,1.9,16.3,1.1"/><polyline points="20.5,432.8 22.1,434.7 23.7,437.0 25.2,439.5 26.8,441.8 28.4,443.7 30.0,444.6 31.6,444.3 33.2,443.0 34.7,441.0 36.3,438.5 37.9,436.0 39.5,433.9 41.1,432.3 42.6,432.8 44.2,434.7 45.8,437.0 47.4,439.5 49.0,441.8 50.5,443.7 52.1,444.6 53.7,444.6 55.3,443.6 56.9,441.7 58.5,439.4 60.0,436.9 61.6,434.6 63.2,432.8 64.8,432.4 66.4,434.0 67.9,436.1 69.5,438.6 71.1,441.1 72.7,443.1 74.3,444.4 75.8,444.6 77.4,443.6 79.0,441.7 80.6,439.4 82.2,436.9 83.8,434.6 85.3,432.8 86.9,432.4 88.5,434.0 90.1,436.1 91.7,438.6 93.2,441.1 94.8,443.1 96.4,444.4 98.0,444.3 99.6,443.0 101.2,441.0 102.7,438.5 104.3,436.0 105.9,433.9 107.5,432.3 109.1,432.8 110.6,434.7 112.2,437.0 113.8,439.5 115.4,441.8 117.0,443.7 118.5,444.6 120.1,444.3 121.7,443.0 123.3,441.0 124.9,438.5 126.5,436.0 128.0,433.9 129.6,432.3 131.2,432.8" fill="none" stroke="#f4f4f4" stroke-width="2.3" stroke-opacity="0.8" stroke-dasharray="12.7,1.7,9.9,1.7,7.3,1.0,11.2,2.2,18.4,1.3,18.6,2.4,11.6,1.5,9.5,1.0,17.0,1.4,8.3,2.1,16.2,1.2,16.3,2.3,13.5,2.2,10.6,2.2,17.1,2.2,13.6,1.4,18.4,2.2,11.1,2.1,13.6,2.0,16.0,2.0"/><polyline points="20.5,435.6 22.1,437.5 23.7,439.8 25.2,442.3 26.8,444.6 28.4,446.5 30.0,447.4 31.6,447.1 33.2,445.8 34.7,443.8 36.3,441.3 37.9,438.8 39.5,436.7 41.1,435.1 42.6,435.6 44.2,437.5 45.8,439.8 47.4,442.3 49.0,444.6 50.5,446.5 52.1,447.4 53.7,447.4 55.3,446.4 56.9,444.5 58.5,442.2 60.0,439.7 61.6,437.4 63.2,435.6 64.8,435.2 66.4,436.8 67.9,438.9 69.5,441.4 71.1,443.9 72.7,445.9 74.3,447.2 75.8,447.4 77.4,446.4 79.0,444.5 80.6,442.2 82.2,439.7 83.8,437.4 85.3,435.6 86.9,435.2 88.5,436.8 90.1,438.9 91.7,441.4 93.2,443.9 94.8,445.9 96.4,447.2 98.0,447.1 99.6,445.8 101.2,443.8 102.7,441.3 104.3,438.8 105.9,436.7 107.5,435.1 109.1,435.6 110.6,437.5 112.2,439.8 113.8,442.3 115.4,444.6 117.0,446.5 118.5,447.4 120.1,447.1 121.7,445.8 123.3,443.8 124.9,441.3 126.5,438.8 128.0,436.7 129.6,435.1 131.2,435.6" fill="none" stroke="#e8e8e8" stroke-width="1.3" stroke-opacity="0.56" stroke-dasharray="9.3,2.9,11.5,2.0,8.0,1.8,14.9,1.8,8.9,1.2,8.4,1.1,7.8,1.9,10.5,1.2,10.0,3.0,12.0,2.8,11.8,1.3,9.6,1.4,11.1,1.1,11.0,2.6,8.7,2.4,6.4,2.1,12.8,2.9,13.1,2.0,9.4,1.9,8.9,1.7"/><polygon points="20.5,448.2 22.1,447.9 23.7,447.7 25.2,447.7 26.8,447.0 28.4,446.5 30.0,447.0 31.6,445.8 33.2,446.2 34.7,446.1 36.3,445.9 37.9,446.9 39.5,447.2 41.1,447.8 42.6,448.7 44.2,448.3 45.8,448.9 47.4,448.8 49.0,447.2 50.5,446.6 52.1,446.5 53.7,446.5 55.3,446.5 56.9,445.8 58.5,446.9 60.0,446.6 61.6,448.1 63.2,447.5 64.8,448.1 66.4,448.4 67.9,448.4 69.5,447.7 71.1,447.7 72.7,447.1 74.3,446.0 75.8,446.8 77.4,445.7 79.0,446.3 80.6,446.2 82.2,446.5 83.8,447.3 85.3,447.6 86.9,448.5 88.5,448.9 90.1,448.5 91.7,448.1 93.2,447.5 94.8,447.4 96.4,445.9 98.0,445.5 99.6,445.5 101.2,445.6 102.7,446.9 104.3,447.4 105.9,447.5 107.5,447.3 109.1,448.2 110.6,448.7 112.2,449.2 113.8,448.7 115.4,447.6 117.0,446.6 118.5,446.9 120.1,446.2 121.7,446.8 123.3,446.9 124.9,447.0 126.5,447.5 128.0,446.8 129.6,447.9 131.2,447.6 131.2,454.5 20.5,454.5" fill="#f6f6f6" fill-opacity="0.95"/><clipPath id="cb4"><polygon points="20.5,448.2 22.1,447.9 23.7,447.7 25.2,447.7 26.8,447.0 28.4,446.5 30.0,447.0 31.6,445.8 33.2,446.2 34.7,446.1 36.3,445.9 37.9,446.9 39.5,447.2 41.1,447.8 42.6,448.7 44.2,448.3 45.8,448.9 47.4,448.8 49.0,447.2 50.5,446.6 52.1,446.5 53.7,446.5 55.3,446.5 56.9,445.8 58.5,446.9 60.0,446.6 61.6,448.1 63.2,447.5 64.8,448.1 66.4,448.4 67.9,448.4 69.5,447.7 71.1,447.7 72.7,447.1 74.3,446.0 75.8,446.8 77.4,445.7 79.0,446.3 80.6,446.2 82.2,446.5 83.8,447.3 85.3,447.6 86.9,448.5 88.5,448.9 90.1,448.5 91.7,448.1 93.2,447.5 94.8,447.4 96.4,445.9 98.0,445.5 99.6,445.5 101.2,445.6 102.7,446.9 104.3,447.4 105.9,447.5 107.5,447.3 109.1,448.2 110.6,448.7 112.2,449.2 113.8,448.7 115.4,447.6 117.0,446.6 118.5,446.9 120.1,446.2 121.7,446.8 123.3,446.9 124.9,447.0 126.5,447.5 128.0,446.8 129.6,447.9 131.2,447.6 131.2,454.5 20.5,454.5"/></clipPath><rect x="20.5" y="396.8" width="110.69999999999999" height="57.69999999999999" fill="#000" filter="url(#nb4)" clip-path="url(#cb4)" opacity="0.22"/><rect x="20.5" y="396.8" width="110.69999999999999" height="2.2" fill="#e4e4e4" fill-opacity="0.85"/></g></g><rect x="21.0" y="397.3" width="109.69999999999999" height="56.69999999999999" fill="none" stroke="#666666" stroke-width="1"/><text x="176.75" y="395.50" font-size="8.5" fill="#a8283f" stroke="#a8283f" stroke-width="0.15" textLength="23.25" lengthAdjust="spacingAndGlyphs" >Cfz D2</text><clipPath id="c5"><rect x="133.3" y="397.5" width="110.5" height="56.80000000000001"/></clipPath><filter id="nu5" x="0" y="0" width="100%" height="100%" color-interpolation-filters="sRGB"><feTurbulence type="fractalNoise" baseFrequency="0.12 0.6" numOctaves="3" seed="8"/><feColorMatrix type="matrix" values="1.833 0 0 0 -0.815  1.833 0 0 0 -0.815  1.833 0 0 0 -0.815  0 0 0 0 1"/><feGaussianBlur stdDeviation="0.3"/></filter><filter id="nc5" x="0" y="0" width="100%" height="100%" color-interpolation-filters="sRGB"><feTurbulence type="fractalNoise" baseFrequency="0.3 0.5" numOctaves="2" seed="28"/><feColorMatrix type="matrix" values="0.333 0 0 0 -0.073  0.333 0 0 0 -0.073  0.333 0 0 0 -0.073  0 0 0 0 1"/></filter><filter id="nb5" x="0" y="0" width="100%" height="100%" color-interpolation-filters="sRGB"><feTurbulence type="fractalNoise" baseFrequency="0.3 0.6" numOctaves="2" seed="48"/><feColorMatrix type="matrix" values="3.000 0 0 0 -0.716  3.000 0 0 0 -0.716  3.000 0 0 0 -0.716  0 0 0 0 1"/><feGaussianBlur stdDeviation="0.3"/></filter><filter id="bl5" x="0" y="0" width="100%" height="100%"><feGaussianBlur stdDeviation="0.35"/></filter><g clip-path="url(#c5)"><g filter="url(#bl5)"><rect x="133.3" y="397.5" width="110.5" height="56.80000000000001" fill="#000" filter="url(#nu5)"/><filter id="nl5" x="0" y="0" width="100%" height="100%" color-interpolation-filters="sRGB"><feTurbulence type="fractalNoise" baseFrequency="0.22 0.5" numOctaves="3" seed="68"/><feColorMatrix type="matrix" values="2.000 0 0 0 -0.769  2.000 0 0 0 -0.769  2.000 0 0 0 -0.769  0 0 0 0 1"/><feGaussianBlur stdDeviation="0.35"/></filter><clipPath id="cl5"><polygon points="133.3,435.3 134.9,437.0 136.5,439.0 138.0,441.1 139.6,442.9 141.2,444.1 142.8,444.5 144.4,443.8 145.9,442.3 147.5,440.4 149.1,438.3 150.7,436.4 152.2,434.9 153.8,434.7 155.4,436.0 157.0,437.9 158.6,440.0 160.1,442.0 161.7,443.5 163.3,444.4 164.9,444.1 166.5,442.8 168.0,441.0 169.6,438.9 171.2,436.9 172.8,435.3 174.3,434.4 175.9,435.5 177.5,437.3 179.1,439.3 180.7,441.4 182.2,443.1 183.8,444.2 185.4,444.5 187.0,444.1 188.6,442.8 190.1,441.0 191.7,438.9 193.3,436.9 194.9,435.3 196.4,434.4 198.0,435.5 199.6,437.3 201.2,439.3 202.8,441.4 204.3,443.1 205.9,444.2 207.5,444.3 209.1,443.3 210.7,441.6 212.2,439.5 213.8,437.5 215.4,435.7 217.0,434.5 218.5,435.1 220.1,436.7 221.7,438.7 223.3,440.8 224.9,442.7 226.4,444.0 228.0,444.5 229.6,443.9 231.2,442.5 232.8,440.6 234.3,438.6 235.9,436.6 237.5,435.0 239.1,434.5 240.6,435.8 242.2,437.6 243.8,439.7 243.8,454.3 133.3,454.3"/></clipPath><rect x="133.3" y="397.5" width="110.5" height="56.80000000000001" fill="#000" filter="url(#nl5)" clip-path="url(#cl5)"/><polyline points="133.3,411.1 134.9,410.3 136.5,409.3 138.0,408.2 139.6,407.3 141.2,406.7 142.8,406.5 144.4,406.9 145.9,407.6 147.5,408.6 149.1,409.6 150.7,410.6 152.2,411.3 153.8,411.4 155.4,410.7 157.0,409.8 158.6,408.8 160.1,407.8 161.7,407.0 163.3,406.5 164.9,406.7 166.5,407.3 168.0,408.3 169.6,409.3 171.2,410.3 172.8,411.1 174.3,411.6 175.9,411.0 177.5,410.1 179.1,409.1 180.7,408.1 182.2,407.2 183.8,406.6 185.4,406.5 187.0,406.7 188.6,407.3 190.1,408.3 191.7,409.3 193.3,410.3 194.9,411.1 196.4,411.6 198.0,411.0 199.6,410.1 201.2,409.1 202.8,408.1 204.3,407.2 205.9,406.6 207.5,406.6 209.1,407.1 210.7,408.0 212.2,409.0 213.8,410.0 215.4,410.9 217.0,411.5 218.5,411.2 220.1,410.4 221.7,409.4 223.3,408.4 224.9,407.4 226.4,406.8 228.0,406.5 229.6,406.8 231.2,407.5 232.8,408.4 234.3,409.5 235.9,410.5 237.5,411.2 239.1,411.5 240.6,410.9 242.2,410.0 243.8,408.9" fill="none" stroke="#cfcfcf" stroke-width="1.0" stroke-opacity="0.40" stroke-dasharray="4.6,2.3,6.3,4.9,6.1,4.3,5.6,4.5,4.2,4.6,5.6,2.6,3.8,4.5,7.1,2.9,4.8,3.6,4.0,1.6,5.7,5.0,8.7,4.7,6.6,1.7,6.0,3.3,6.6,1.9,9.3,2.1,7.7,2.7,3.1,2.8,3.1,2.6,7.3,2.8"/><polyline points="133.3,407.1 134.9,406.3 136.5,405.3 138.0,404.2 139.6,403.3 141.2,402.7 142.8,402.5 144.4,402.9 145.9,403.6 147.5,404.6 149.1,405.6 150.7,406.6 152.2,407.3 153.8,407.4 155.4,406.7 157.0,405.8 158.6,404.8 160.1,403.8 161.7,403.0 163.3,402.5 164.9,402.7 166.5,403.3 168.0,404.3 169.6,405.3 171.2,406.3 172.8,407.1 174.3,407.6 175.9,407.0 177.5,406.1 179.1,405.1 180.7,404.1 182.2,403.2 183.8,402.6 185.4,402.5 187.0,402.7 188.6,403.3 190.1,404.3 191.7,405.3 193.3,406.3 194.9,407.1 196.4,407.6 198.0,407.0 199.6,406.1 201.2,405.1 202.8,404.1 204.3,403.2 205.9,402.6 207.5,402.6 209.1,403.1 210.7,404.0 212.2,405.0 213.8,406.0 215.4,406.9 217.0,407.5 218.5,407.2 220.1,406.4 221.7,405.4 223.3,404.4 224.9,403.4 226.4,402.8 228.0,402.5 229.6,402.8 231.2,403.5 232.8,404.4 234.3,405.5 235.9,406.5 237.5,407.2 239.1,407.5 240.6,406.9 242.2,406.0 243.8,404.9" fill="none" stroke="#cfcfcf" stroke-width="1.2" stroke-opacity="0.39" stroke-dasharray="3.2,1.0,5.1,2.5,7.5,3.8,3.1,3.7,4.0,3.7,6.1,3.8,3.0,3.8,4.7,3.3,3.3,1.5,8.3,2.1,4.4,1.6,7.0,3.7,8.9,3.3,4.3,1.4,8.3,4.9,6.8,1.7,3.6,1.7,6.9,4.4,7.2,3.0,8.9,1.9"/><polyline points="133.3,403.1 134.9,402.3 136.5,401.3 138.0,400.2 139.6,399.3 141.2,398.7 142.8,398.5 144.4,398.9 145.9,399.6 147.5,400.6 149.1,401.6 150.7,402.6 152.2,403.3 153.8,403.4 155.4,402.7 157.0,401.8 158.6,400.8 160.1,399.8 161.7,399.0 163.3,398.5 164.9,398.7 166.5,399.3 168.0,400.3 169.6,401.3 171.2,402.3 172.8,403.1 174.3,403.6 175.9,403.0 177.5,402.1 179.1,401.1 180.7,400.1 182.2,399.2 183.8,398.6 185.4,398.5 187.0,398.7 188.6,399.3 190.1,400.3 191.7,401.3 193.3,402.3 194.9,403.1 196.4,403.6 198.0,403.0 199.6,402.1 201.2,401.1 202.8,400.1 204.3,399.2 205.9,398.6 207.5,398.6 209.1,399.1 210.7,400.0 212.2,401.0 213.8,402.0 215.4,402.9 217.0,403.5 218.5,403.2 220.1,402.4 221.7,401.4 223.3,400.4 224.9,399.4 226.4,398.8 228.0,398.5 229.6,398.8 231.2,399.5 232.8,400.4 234.3,401.5 235.9,402.5 237.5,403.2 239.1,403.5 240.6,402.9 242.2,402.0 243.8,400.9" fill="none" stroke="#b0b0b0" stroke-width="0.9" stroke-opacity="0.28" stroke-dasharray="9.9,1.9,4.0,4.5,8.3,4.5,9.1,1.5,7.0,3.6,4.9,3.4,5.5,2.3,5.8,3.2,4.3,4.0,5.6,2.6,5.9,3.3,9.7,4.5,6.6,1.5,3.5,4.4,3.1,2.1,6.6,1.0,7.5,4.6,7.6,3.8,8.1,3.5,3.1,1.1"/><polyline points="133.3,437.3 134.9,439.0 136.5,441.0 138.0,443.1 139.6,444.9 141.2,446.1 142.8,446.5 144.4,445.8 145.9,444.3 147.5,442.4 149.1,440.3 150.7,438.4 152.2,436.9 153.8,436.7 155.4,438.0 157.0,439.9 158.6,442.0 160.1,444.0 161.7,445.5 163.3,446.4 164.9,446.1 166.5,444.8 168.0,443.0 169.6,440.9 171.2,438.9 172.8,437.3 174.3,436.4 175.9,437.5 177.5,439.3 179.1,441.3 180.7,443.4 182.2,445.1 183.8,446.2 185.4,446.5 187.0,446.1 188.6,444.8 190.1,443.0 191.7,440.9 193.3,438.9 194.9,437.3 196.4,436.4 198.0,437.5 199.6,439.3 201.2,441.3 202.8,443.4 204.3,445.1 205.9,446.2 207.5,446.3 209.1,445.3 210.7,443.6 212.2,441.5 213.8,439.5 215.4,437.7 217.0,436.5 218.5,437.1 220.1,438.7 221.7,440.7 223.3,442.8 224.9,444.7 226.4,446.0 228.0,446.5 229.6,445.9 231.2,444.5 232.8,442.6 234.3,440.6 235.9,438.6 237.5,437.0 239.1,436.5 240.6,437.8 242.2,439.6 243.8,441.7" fill="none" stroke="#c0c0c0" stroke-width="1.4" stroke-opacity="0.56" stroke-dasharray="9.6,1.7,3.2,2.7,3.4,3.0,5.8,3.1,9.7,3.8,7.7,2.4,4.6,1.8,3.4,3.9,4.3,3.3,3.2,2.4,4.7,3.3,4.1,3.3,10.2,2.6,7.8,2.3,9.3,2.3,10.9,1.5,4.1,2.8,4.7,1.6,8.7,3.9,4.2,1.8"/><polyline points="133.3,439.9 134.9,441.6 136.5,443.6 138.0,445.7 139.6,447.5 141.2,448.7 142.8,449.1 144.4,448.4 145.9,446.9 147.5,445.0 149.1,442.9 150.7,441.0 152.2,439.5 153.8,439.3 155.4,440.6 157.0,442.5 158.6,444.6 160.1,446.6 161.7,448.1 163.3,449.0 164.9,448.7 166.5,447.4 168.0,445.6 169.6,443.5 171.2,441.5 172.8,439.9 174.3,439.0 175.9,440.1 177.5,441.9 179.1,443.9 180.7,446.0 182.2,447.7 183.8,448.8 185.4,449.1 187.0,448.7 188.6,447.4 190.1,445.6 191.7,443.5 193.3,441.5 194.9,439.9 196.4,439.0 198.0,440.1 199.6,441.9 201.2,443.9 202.8,446.0 204.3,447.7 205.9,448.8 207.5,448.9 209.1,447.9 210.7,446.2 212.2,444.1 213.8,442.1 215.4,440.3 217.0,439.1 218.5,439.7 220.1,441.3 221.7,443.3 223.3,445.4 224.9,447.3 226.4,448.6 228.0,449.1 229.6,448.5 231.2,447.1 232.8,445.2 234.3,443.2 235.9,441.2 237.5,439.6 239.1,439.1 240.6,440.4 242.2,442.2 243.8,444.3" fill="none" stroke="#d8d8d8" stroke-width="1.1" stroke-opacity="0.49" stroke-dasharray="10.1,1.9,7.6,4.0,10.5,2.4,5.2,3.4,4.5,3.0,10.0,3.5,9.3,2.7,4.5,2.9,6.7,3.9,11.8,4.0,8.8,3.0,6.4,3.0,5.4,3.0,9.2,1.4,7.0,3.0,6.0,2.8,6.0,1.9,9.5,1.2,6.0,3.5,8.0,2.9"/><polyline points="133.3,442.5 134.9,444.2 136.5,446.2 138.0,448.3 139.6,450.1 141.2,451.3 142.8,451.7 144.4,451.0 145.9,449.5 147.5,447.6 149.1,445.5 150.7,443.6 152.2,442.1 153.8,441.9 155.4,443.2 157.0,445.1 158.6,447.2 160.1,449.2 161.7,450.7 163.3,451.6 164.9,451.3 166.5,450.0 168.0,448.2 169.6,446.1 171.2,444.1 172.8,442.5 174.3,441.6 175.9,442.7 177.5,444.5 179.1,446.5 180.7,448.6 182.2,450.3 183.8,451.4 185.4,451.7 187.0,451.3 188.6,450.0 190.1,448.2 191.7,446.1 193.3,444.1 194.9,442.5 196.4,441.6 198.0,442.7 199.6,444.5 201.2,446.5 202.8,448.6 204.3,450.3 205.9,451.4 207.5,451.5 209.1,450.5 210.7,448.8 212.2,446.7 213.8,444.7 215.4,442.9 217.0,441.7 218.5,442.3 220.1,443.9 221.7,445.9 223.3,448.0 224.9,449.9 226.4,451.2 228.0,451.7 229.6,451.1 231.2,449.7 232.8,447.8 234.3,445.8 235.9,443.8 237.5,442.2 239.1,441.7 240.6,443.0 242.2,444.8 243.8,446.9" fill="none" stroke="#eeeeee" stroke-width="1.3" stroke-opacity="0.53" stroke-dasharray="4.2,1.7,9.6,3.5,8.6,1.7,9.6,3.8,3.4,2.8,4.6,3.4,9.7,2.8,10.5,2.7,11.7,2.6,3.7,2.0,5.0,3.1,4.3,2.1,3.1,3.9,8.7,3.2,9.4,3.0,3.4,1.7,5.4,3.2,4.5,1.7,5.4,2.4,4.5,2.1"/><polyline points="133.3,445.1 134.9,446.8 136.5,448.8 138.0,450.9 139.6,452.7 141.2,453.9 142.8,454.3 144.4,453.6 145.9,452.1 147.5,450.2 149.1,448.1 150.7,446.2 152.2,444.7 153.8,444.5 155.4,445.8 157.0,447.7 158.6,449.8 160.1,451.8 161.7,453.3 163.3,454.2 164.9,453.9 166.5,452.6 168.0,450.8 169.6,448.7 171.2,446.7 172.8,445.1 174.3,444.2 175.9,445.3 177.5,447.1 179.1,449.1 180.7,451.2 182.2,452.9 183.8,454.0 185.4,454.3 187.0,453.9 188.6,452.6 190.1,450.8 191.7,448.7 193.3,446.7 194.9,445.1 196.4,444.2 198.0,445.3 199.6,447.1 201.2,449.1 202.8,451.2 204.3,452.9 205.9,454.0 207.5,454.1 209.1,453.1 210.7,451.4 212.2,449.3 213.8,447.3 215.4,445.5 217.0,444.3 218.5,444.9 220.1,446.5 221.7,448.5 223.3,450.6 224.9,452.5 226.4,453.8 228.0,454.3 229.6,453.7 231.2,452.3 232.8,450.4 234.3,448.4 235.9,446.4 237.5,444.8 239.1,444.3 240.6,445.6 242.2,447.4 243.8,449.5" fill="none" stroke="#c0c0c0" stroke-width="1.3" stroke-opacity="0.37" stroke-dasharray="10.2,3.0,10.0,1.9,10.7,3.8,6.3,2.2,6.5,3.7,5.3,1.0,3.8,1.4,3.1,1.3,7.8,1.5,11.0,2.7,5.9,2.5,5.8,3.1,10.6,2.3,10.9,3.4,9.6,3.7,8.9,1.3,10.8,3.5,4.5,2.3,7.5,3.6,4.6,3.1"/><clipPath id="cv5"><polygon points="133.3,415.8 134.9,415.0 136.5,414.0 138.0,412.9 139.6,412.0 141.2,411.4 142.8,411.2 144.4,411.6 145.9,412.3 147.5,413.3 149.1,414.3 150.7,415.3 152.2,416.0 153.8,416.1 155.4,415.4 157.0,414.5 158.6,413.5 160.1,412.5 161.7,411.7 163.3,411.2 164.9,411.4 166.5,412.0 168.0,413.0 169.6,414.0 171.2,415.0 172.8,415.8 174.3,416.3 175.9,415.7 177.5,414.8 179.1,413.8 180.7,412.8 182.2,411.9 183.8,411.3 185.4,411.2 187.0,411.4 188.6,412.0 190.1,413.0 191.7,414.0 193.3,415.0 194.9,415.8 196.4,416.3 198.0,415.7 199.6,414.8 201.2,413.8 202.8,412.8 204.3,411.9 205.9,411.3 207.5,411.3 209.1,411.8 210.7,412.7 212.2,413.7 213.8,414.7 215.4,415.6 217.0,416.2 218.5,415.9 220.1,415.1 221.7,414.1 223.3,413.1 224.9,412.1 226.4,411.5 228.0,411.2 229.6,411.5 231.2,412.2 232.8,413.1 234.3,414.2 235.9,415.2 237.5,415.9 239.1,416.2 240.6,415.6 242.2,414.7 243.8,413.6 243.8,437.5 242.2,435.4 240.6,433.6 239.1,432.3 237.5,432.8 235.9,434.4 234.3,436.4 232.8,438.4 231.2,440.3 229.6,441.7 228.0,442.3 226.4,441.8 224.9,440.5 223.3,438.6 221.7,436.5 220.1,434.5 218.5,432.9 217.0,432.3 215.4,433.5 213.8,435.3 212.2,437.3 210.7,439.4 209.1,441.1 207.5,442.1 205.9,442.0 204.3,440.9 202.8,439.2 201.2,437.1 199.6,435.1 198.0,433.3 196.4,432.2 194.9,433.1 193.3,434.7 191.7,436.7 190.1,438.8 188.6,440.6 187.0,441.9 185.4,442.3 183.8,442.0 182.2,440.9 180.7,439.2 179.1,437.1 177.5,435.1 175.9,433.3 174.3,432.2 172.8,433.1 171.2,434.7 169.6,436.7 168.0,438.8 166.5,440.6 164.9,441.9 163.3,442.2 161.7,441.3 160.1,439.8 158.6,437.8 157.0,435.7 155.4,433.8 153.8,432.5 152.2,432.7 150.7,434.2 149.1,436.1 147.5,438.2 145.9,440.1 144.4,441.6 142.8,442.3 141.2,441.9 139.6,440.7 138.0,438.9 136.5,436.8 134.9,434.8 133.3,433.1"/></clipPath><rect x="133.3" y="397.5" width="110.5" height="56.80000000000001" fill="#000" filter="url(#nc5)" clip-path="url(#cv5)" opacity="0.92"/><polyline points="133.3,414.6 134.9,413.8 136.5,412.8 138.0,411.7 139.6,410.8 141.2,410.2 142.8,410.0 144.4,410.4 145.9,411.1 147.5,412.1 149.1,413.1 150.7,414.1 152.2,414.8 153.8,414.9 155.4,414.2 157.0,413.3 158.6,412.3 160.1,411.3 161.7,410.5 163.3,410.0 164.9,410.2 166.5,410.8 168.0,411.8 169.6,412.8 171.2,413.8 172.8,414.6 174.3,415.1 175.9,414.5 177.5,413.6 179.1,412.6 180.7,411.6 182.2,410.7 183.8,410.1 185.4,410.0 187.0,410.2 188.6,410.8 190.1,411.8 191.7,412.8 193.3,413.8 194.9,414.6 196.4,415.1 198.0,414.5 199.6,413.6 201.2,412.6 202.8,411.6 204.3,410.7 205.9,410.1 207.5,410.1 209.1,410.6 210.7,411.5 212.2,412.5 213.8,413.5 215.4,414.4 217.0,415.0 218.5,414.7 220.1,413.9 221.7,412.9 223.3,411.9 224.9,410.9 226.4,410.3 228.0,410.0 229.6,410.3 231.2,411.0 232.8,411.9 234.3,413.0 235.9,414.0 237.5,414.7 239.1,415.0 240.6,414.4 242.2,413.5 243.8,412.4" fill="none" stroke="#f4f4f4" stroke-width="2.2" stroke-opacity="0.55" stroke-dasharray="11.1,2.4,8.3,1.3,17.7,1.0,10.8,2.4,8.1,2.5,7.0,1.8,13.1,2.5,11.6,1.6,15.0,1.6,10.8,2.1,8.3,1.4,13.1,1.2,11.0,1.3,18.7,0.8,8.0,1.3,7.6,2.4,19.9,2.4,6.9,2.3,19.3,2.1,18.9,1.5"/><polyline points="133.3,434.3 134.9,436.0 136.5,438.0 138.0,440.1 139.6,441.9 141.2,443.1 142.8,443.5 144.4,442.8 145.9,441.3 147.5,439.4 149.1,437.3 150.7,435.4 152.2,433.9 153.8,433.7 155.4,435.0 157.0,436.9 158.6,439.0 160.1,441.0 161.7,442.5 163.3,443.4 164.9,443.1 166.5,441.8 168.0,440.0 169.6,437.9 171.2,435.9 172.8,434.3 174.3,433.4 175.9,434.5 177.5,436.3 179.1,438.3 180.7,440.4 182.2,442.1 183.8,443.2 185.4,443.5 187.0,443.1 188.6,441.8 190.1,440.0 191.7,437.9 193.3,435.9 194.9,434.3 196.4,433.4 198.0,434.5 199.6,436.3 201.2,438.3 202.8,440.4 204.3,442.1 205.9,443.2 207.5,443.3 209.1,442.3 210.7,440.6 212.2,438.5 213.8,436.5 215.4,434.7 217.0,433.5 218.5,434.1 220.1,435.7 221.7,437.7 223.3,439.8 224.9,441.7 226.4,443.0 228.0,443.5 229.6,442.9 231.2,441.5 232.8,439.6 234.3,437.6 235.9,435.6 237.5,434.0 239.1,433.5 240.6,434.8 242.2,436.6 243.8,438.7" fill="none" stroke="#f4f4f4" stroke-width="2.3" stroke-opacity="0.55" stroke-dasharray="15.9,2.3,14.1,0.9,9.5,1.0,14.4,1.3,15.7,2.1,12.5,0.8,15.7,2.5,13.3,2.2,15.6,2.1,10.3,2.2,12.3,1.6,8.2,2.2,13.1,1.9,15.5,0.8,12.9,0.9,12.1,1.6,14.3,1.2,11.9,2.4,17.2,2.1,14.4,1.5"/><polyline points="133.3,437.1 134.9,438.8 136.5,440.8 138.0,442.9 139.6,444.7 141.2,445.9 142.8,446.3 144.4,445.6 145.9,444.1 147.5,442.2 149.1,440.1 150.7,438.2 152.2,436.7 153.8,436.5 155.4,437.8 157.0,439.7 158.6,441.8 160.1,443.8 161.7,445.3 163.3,446.2 164.9,445.9 166.5,444.6 168.0,442.8 169.6,440.7 171.2,438.7 172.8,437.1 174.3,436.2 175.9,437.3 177.5,439.1 179.1,441.1 180.7,443.2 182.2,444.9 183.8,446.0 185.4,446.3 187.0,445.9 188.6,444.6 190.1,442.8 191.7,440.7 193.3,438.7 194.9,437.1 196.4,436.2 198.0,437.3 199.6,439.1 201.2,441.1 202.8,443.2 204.3,444.9 205.9,446.0 207.5,446.1 209.1,445.1 210.7,443.4 212.2,441.3 213.8,439.3 215.4,437.5 217.0,436.3 218.5,436.9 220.1,438.5 221.7,440.5 223.3,442.6 224.9,444.5 226.4,445.8 228.0,446.3 229.6,445.7 231.2,444.3 232.8,442.4 234.3,440.4 235.9,438.4 237.5,436.8 239.1,436.3 240.6,437.6 242.2,439.4 243.8,441.5" fill="none" stroke="#e8e8e8" stroke-width="1.3" stroke-opacity="0.39" stroke-dasharray="7.3,1.1,9.9,2.7,12.9,1.2,6.9,1.5,11.4,2.7,7.3,1.5,8.9,2.8,13.0,1.5,12.2,1.6,14.2,2.7,15.0,1.1,5.0,2.3,7.8,1.1,7.9,2.5,11.7,2.3,9.6,2.7,10.9,2.9,9.5,1.2,9.7,2.9,14.2,2.7"/><polygon points="133.3,448.8 134.9,448.9 136.5,449.3 138.0,449.2 139.6,448.4 141.2,448.2 142.8,447.3 144.4,446.6 145.9,446.7 147.5,446.9 149.1,448.2 150.7,448.1 152.2,449.2 153.8,449.3 155.4,449.2 157.0,448.9 158.6,449.9 160.1,448.9 161.7,448.7 163.3,447.4 164.9,447.7 166.5,446.7 168.0,446.5 169.6,448.1 171.2,448.3 172.8,447.8 174.3,448.8 175.9,449.9 177.5,449.9 179.1,448.7 180.7,448.9 182.2,449.1 183.8,447.5 185.4,448.4 187.0,447.9 188.6,447.3 190.1,447.3 191.7,447.1 193.3,447.8 194.9,448.9 196.4,448.7 198.0,449.5 199.6,449.0 201.2,448.7 202.8,448.5 204.3,448.4 205.9,447.8 207.5,447.9 209.1,446.8 210.7,447.3 212.2,448.0 213.8,447.9 215.4,447.7 217.0,449.5 218.5,449.0 220.1,449.2 221.7,450.0 223.3,449.5 224.9,448.4 226.4,447.9 228.0,447.4 229.6,448.0 231.2,446.6 232.8,447.7 234.3,448.2 235.9,448.6 237.5,447.8 239.1,449.8 240.6,449.2 242.2,449.9 243.8,449.8 243.8,454.3 133.3,454.3" fill="#f6f6f6" fill-opacity="0.95"/><clipPath id="cb5"><polygon points="133.3,448.8 134.9,448.9 136.5,449.3 138.0,449.2 139.6,448.4 141.2,448.2 142.8,447.3 144.4,446.6 145.9,446.7 147.5,446.9 149.1,448.2 150.7,448.1 152.2,449.2 153.8,449.3 155.4,449.2 157.0,448.9 158.6,449.9 160.1,448.9 161.7,448.7 163.3,447.4 164.9,447.7 166.5,446.7 168.0,446.5 169.6,448.1 171.2,448.3 172.8,447.8 174.3,448.8 175.9,449.9 177.5,449.9 179.1,448.7 180.7,448.9 182.2,449.1 183.8,447.5 185.4,448.4 187.0,447.9 188.6,447.3 190.1,447.3 191.7,447.1 193.3,447.8 194.9,448.9 196.4,448.7 198.0,449.5 199.6,449.0 201.2,448.7 202.8,448.5 204.3,448.4 205.9,447.8 207.5,447.9 209.1,446.8 210.7,447.3 212.2,448.0 213.8,447.9 215.4,447.7 217.0,449.5 218.5,449.0 220.1,449.2 221.7,450.0 223.3,449.5 224.9,448.4 226.4,447.9 228.0,447.4 229.6,448.0 231.2,446.6 232.8,447.7 234.3,448.2 235.9,448.6 237.5,447.8 239.1,449.8 240.6,449.2 242.2,449.9 243.8,449.8 243.8,454.3 133.3,454.3"/></clipPath><rect x="133.3" y="397.5" width="110.5" height="56.80000000000001" fill="#000" filter="url(#nb5)" clip-path="url(#cb5)" opacity="0.22"/><rect x="133.3" y="397.5" width="110.5" height="2.2" fill="#e4e4e4" fill-opacity="0.85"/></g></g><rect x="133.8" y="398.0" width="109.5" height="55.80000000000001" fill="none" stroke="#666666" stroke-width="1"/><text x="59.25" y="470.50" font-size="8.5" fill="#a8283f" stroke="#a8283f" stroke-width="0.15" textLength="26.50" lengthAdjust="spacingAndGlyphs" >Met D2</text><clipPath id="c6"><rect x="20.3" y="472.5" width="110.89999999999999" height="56.700000000000045"/></clipPath><filter id="nu6" x="0" y="0" width="100%" height="100%" color-interpolation-filters="sRGB"><feTurbulence type="fractalNoise" baseFrequency="0.12 0.6" numOctaves="3" seed="9"/><feColorMatrix type="matrix" values="1.833 0 0 0 -0.815  1.833 0 0 0 -0.815  1.833 0 0 0 -0.815  0 0 0 0 1"/><feGaussianBlur stdDeviation="0.3"/></filter><filter id="nc6" x="0" y="0" width="100%" height="100%" color-interpolation-filters="sRGB"><feTurbulence type="fractalNoise" baseFrequency="0.3 0.5" numOctaves="2" seed="29"/><feColorMatrix type="matrix" values="0.333 0 0 0 -0.073  0.333 0 0 0 -0.073  0.333 0 0 0 -0.073  0 0 0 0 1"/></filter><filter id="nb6" x="0" y="0" width="100%" height="100%" color-interpolation-filters="sRGB"><feTurbulence type="fractalNoise" baseFrequency="0.3 0.6" numOctaves="2" seed="49"/><feColorMatrix type="matrix" values="3.000 0 0 0 -0.716  3.000 0 0 0 -0.716  3.000 0 0 0 -0.716  0 0 0 0 1"/><feGaussianBlur stdDeviation="0.3"/></filter><filter id="bl6" x="0" y="0" width="100%" height="100%"><feGaussianBlur stdDeviation="0.35"/></filter><g clip-path="url(#c6)"><g filter="url(#bl6)"><rect x="20.3" y="472.5" width="110.89999999999999" height="56.700000000000045" fill="#000" filter="url(#nu6)"/><filter id="nl6" x="0" y="0" width="100%" height="100%" color-interpolation-filters="sRGB"><feTurbulence type="fractalNoise" baseFrequency="0.22 0.5" numOctaves="3" seed="69"/><feColorMatrix type="matrix" values="2.000 0 0 0 -0.690  2.000 0 0 0 -0.690  2.000 0 0 0 -0.690  0 0 0 0 1"/><feGaussianBlur stdDeviation="0.35"/></filter><clipPath id="cl6"><polygon points="20.3,510.0 21.9,511.1 23.5,512.7 25.1,514.5 26.6,516.3 28.2,517.8 29.8,518.7 31.4,518.7 33.0,517.9 34.6,516.4 36.1,514.6 37.7,512.8 39.3,511.2 40.9,510.0 42.5,510.4 44.1,511.8 45.6,513.5 47.2,515.4 48.8,517.1 50.4,518.3 52.0,518.5 53.6,517.4 55.2,515.7 56.7,513.9 58.3,512.1 59.9,510.7 61.5,509.9 63.1,510.9 64.7,512.4 66.2,514.3 67.8,516.1 69.4,517.6 71.0,518.6 72.6,518.8 74.2,518.8 75.8,518.2 77.3,516.9 78.9,515.2 80.5,513.3 82.1,511.6 83.7,510.3 85.3,510.1 86.8,511.3 88.4,513.0 90.0,514.8 91.6,516.6 93.2,518.0 94.8,518.8 96.3,518.5 97.9,517.4 99.5,515.7 101.1,513.9 102.7,512.1 104.3,510.7 105.9,509.9 107.4,510.9 109.0,512.4 110.6,514.3 112.2,516.1 113.8,517.6 115.4,518.6 116.9,518.8 118.5,518.0 120.1,516.6 121.7,514.9 123.3,513.0 124.9,511.4 126.4,510.1 128.0,510.3 129.6,511.6 131.2,513.3 131.2,529.2 20.3,529.2"/></clipPath><rect x="20.3" y="472.5" width="110.89999999999999" height="56.700000000000045" fill="#000" filter="url(#nl6)" clip-path="url(#cl6)"/><polyline points="20.3,489.8 21.9,488.9 23.5,487.6 25.1,486.1 26.6,484.7 28.2,483.5 29.8,482.7 31.4,482.7 33.0,483.4 34.6,484.6 36.1,486.0 37.7,487.5 39.3,488.8 40.9,489.8 42.5,489.5 44.1,488.4 45.6,487.0 47.2,485.4 48.8,484.1 50.4,483.1 52.0,482.9 53.6,483.8 55.2,485.1 56.7,486.7 58.3,488.1 59.9,489.3 61.5,489.9 63.1,489.1 64.7,487.8 66.2,486.3 67.8,484.9 69.4,483.6 71.0,482.8 72.6,482.6 74.2,482.6 75.8,483.1 77.3,484.2 78.9,485.6 80.5,487.1 82.1,488.5 83.7,489.6 85.3,489.7 86.8,488.7 88.4,487.4 90.0,485.9 91.6,484.4 93.2,483.3 94.8,482.7 96.3,482.9 97.9,483.8 99.5,485.1 101.1,486.7 102.7,488.1 104.3,489.3 105.9,489.9 107.4,489.1 109.0,487.8 110.6,486.3 112.2,484.9 113.8,483.6 115.4,482.8 116.9,482.7 118.5,483.3 120.1,484.4 121.7,485.8 123.3,487.3 124.9,488.7 126.4,489.7 128.0,489.6 129.6,488.5 131.2,487.2" fill="none" stroke="#b0b0b0" stroke-width="0.9" stroke-opacity="0.40" stroke-dasharray="6.8,3.7,4.4,2.1,9.4,3.5,8.4,3.8,8.4,4.9,3.6,2.7,4.4,1.1,5.8,4.6,9.5,1.7,7.1,4.8,4.8,3.2,3.6,1.1,6.2,4.6,5.1,1.5,6.0,3.0,8.2,3.8,6.6,1.2,4.6,1.6,4.5,3.6,4.5,2.0"/><polyline points="20.3,485.8 21.9,484.9 23.5,483.6 25.1,482.1 26.6,480.7 28.2,479.5 29.8,478.7 31.4,478.7 33.0,479.4 34.6,480.6 36.1,482.0 37.7,483.5 39.3,484.8 40.9,485.8 42.5,485.5 44.1,484.4 45.6,483.0 47.2,481.4 48.8,480.1 50.4,479.1 52.0,478.9 53.6,479.8 55.2,481.1 56.7,482.7 58.3,484.1 59.9,485.3 61.5,485.9 63.1,485.1 64.7,483.8 66.2,482.3 67.8,480.9 69.4,479.6 71.0,478.8 72.6,478.6 74.2,478.6 75.8,479.1 77.3,480.2 78.9,481.6 80.5,483.1 82.1,484.5 83.7,485.6 85.3,485.7 86.8,484.7 88.4,483.4 90.0,481.9 91.6,480.4 93.2,479.3 94.8,478.7 96.3,478.9 97.9,479.8 99.5,481.1 101.1,482.7 102.7,484.1 104.3,485.3 105.9,485.9 107.4,485.1 109.0,483.8 110.6,482.3 112.2,480.9 113.8,479.6 115.4,478.8 116.9,478.7 118.5,479.3 120.1,480.4 121.7,481.8 123.3,483.3 124.9,484.7 126.4,485.7 128.0,485.6 129.6,484.5 131.2,483.2" fill="none" stroke="#cfcfcf" stroke-width="1.2" stroke-opacity="0.48" stroke-dasharray="9.1,1.4,4.1,1.9,9.1,3.7,9.4,4.5,4.7,4.8,7.3,2.7,6.1,3.8,4.2,1.6,4.3,1.2,3.4,1.5,6.6,4.3,9.2,4.8,4.8,2.7,8.5,1.2,6.4,3.8,7.9,1.2,7.8,2.3,9.0,1.6,9.2,4.0,8.3,3.0"/><polyline points="20.3,481.8 21.9,480.9 23.5,479.6 25.1,478.1 26.6,476.7 28.2,475.5 29.8,474.7 31.4,474.7 33.0,475.4 34.6,476.6 36.1,478.0 37.7,479.5 39.3,480.8 40.9,481.8 42.5,481.5 44.1,480.4 45.6,479.0 47.2,477.4 48.8,476.1 50.4,475.1 52.0,474.9 53.6,475.8 55.2,477.1 56.7,478.7 58.3,480.1 59.9,481.3 61.5,481.9 63.1,481.1 64.7,479.8 66.2,478.3 67.8,476.9 69.4,475.6 71.0,474.8 72.6,474.6 74.2,474.6 75.8,475.1 77.3,476.2 78.9,477.6 80.5,479.1 82.1,480.5 83.7,481.6 85.3,481.7 86.8,480.7 88.4,479.4 90.0,477.9 91.6,476.4 93.2,475.3 94.8,474.7 96.3,474.9 97.9,475.8 99.5,477.1 101.1,478.7 102.7,480.1 104.3,481.3 105.9,481.9 107.4,481.1 109.0,479.8 110.6,478.3 112.2,476.9 113.8,475.6 115.4,474.8 116.9,474.7 118.5,475.3 120.1,476.4 121.7,477.8 123.3,479.3 124.9,480.7 126.4,481.7 128.0,481.6 129.6,480.5 131.2,479.2" fill="none" stroke="#b0b0b0" stroke-width="1.2" stroke-opacity="0.28" stroke-dasharray="5.7,2.5,4.0,2.7,7.8,4.7,7.6,3.5,4.2,4.9,8.4,3.8,6.3,3.3,3.6,2.2,3.2,5.0,5.5,3.6,8.3,2.9,9.9,4.9,6.4,1.2,8.5,3.1,3.2,3.9,7.2,4.9,7.2,2.6,3.8,1.6,8.2,4.3,5.5,3.3"/><polyline points="20.3,512.0 21.9,513.1 23.5,514.7 25.1,516.5 26.6,518.3 28.2,519.8 29.8,520.7 31.4,520.7 33.0,519.9 34.6,518.4 36.1,516.6 37.7,514.8 39.3,513.2 40.9,512.0 42.5,512.4 44.1,513.8 45.6,515.5 47.2,517.4 48.8,519.1 50.4,520.3 52.0,520.5 53.6,519.4 55.2,517.7 56.7,515.9 58.3,514.1 59.9,512.7 61.5,511.9 63.1,512.9 64.7,514.4 66.2,516.3 67.8,518.1 69.4,519.6 71.0,520.6 72.6,520.8 74.2,520.8 75.8,520.2 77.3,518.9 78.9,517.2 80.5,515.3 82.1,513.6 83.7,512.3 85.3,512.1 86.8,513.3 88.4,515.0 90.0,516.8 91.6,518.6 93.2,520.0 94.8,520.8 96.3,520.5 97.9,519.4 99.5,517.7 101.1,515.9 102.7,514.1 104.3,512.7 105.9,511.9 107.4,512.9 109.0,514.4 110.6,516.3 112.2,518.1 113.8,519.6 115.4,520.6 116.9,520.8 118.5,520.0 120.1,518.6 121.7,516.9 123.3,515.0 124.9,513.4 126.4,512.1 128.0,512.3 129.6,513.6 131.2,515.3" fill="none" stroke="#d8d8d8" stroke-width="1.3" stroke-opacity="0.43" stroke-dasharray="12.0,3.4,6.5,3.9,7.8,1.4,3.1,3.9,6.7,1.4,3.2,1.9,11.0,2.3,9.7,3.3,11.9,3.8,4.2,2.6,6.0,3.7,10.7,2.7,7.4,3.9,10.3,2.0,9.1,3.8,8.9,1.6,11.0,3.1,7.9,2.2,11.3,1.9,3.1,2.9"/><polyline points="20.3,514.6 21.9,515.7 23.5,517.3 25.1,519.1 26.6,520.9 28.2,522.4 29.8,523.3 31.4,523.3 33.0,522.5 34.6,521.0 36.1,519.2 37.7,517.4 39.3,515.8 40.9,514.6 42.5,515.0 44.1,516.4 45.6,518.1 47.2,520.0 48.8,521.7 50.4,522.9 52.0,523.1 53.6,522.0 55.2,520.3 56.7,518.5 58.3,516.7 59.9,515.3 61.5,514.5 63.1,515.5 64.7,517.0 66.2,518.9 67.8,520.7 69.4,522.2 71.0,523.2 72.6,523.4 74.2,523.4 75.8,522.8 77.3,521.5 78.9,519.8 80.5,517.9 82.1,516.2 83.7,514.9 85.3,514.7 86.8,515.9 88.4,517.6 90.0,519.4 91.6,521.2 93.2,522.6 94.8,523.4 96.3,523.1 97.9,522.0 99.5,520.3 101.1,518.5 102.7,516.7 104.3,515.3 105.9,514.5 107.4,515.5 109.0,517.0 110.6,518.9 112.2,520.7 113.8,522.2 115.4,523.2 116.9,523.4 118.5,522.6 120.1,521.2 121.7,519.5 123.3,517.6 124.9,516.0 126.4,514.7 128.0,514.9 129.6,516.2 131.2,517.9" fill="none" stroke="#c0c0c0" stroke-width="1.4" stroke-opacity="0.58" stroke-dasharray="6.2,3.3,6.2,1.8,11.0,3.1,9.8,1.2,6.7,1.1,7.6,2.7,6.5,2.4,7.0,1.1,6.5,3.2,7.7,1.0,4.9,1.6,3.2,2.2,5.1,2.3,9.7,3.9,8.0,1.4,11.1,3.8,10.0,1.7,7.7,1.7,8.9,3.7,9.3,2.5"/><polyline points="20.3,517.2 21.9,518.3 23.5,519.9 25.1,521.7 26.6,523.5 28.2,525.0 29.8,525.9 31.4,525.9 33.0,525.1 34.6,523.6 36.1,521.8 37.7,520.0 39.3,518.4 40.9,517.2 42.5,517.6 44.1,519.0 45.6,520.7 47.2,522.6 48.8,524.3 50.4,525.5 52.0,525.7 53.6,524.6 55.2,522.9 56.7,521.1 58.3,519.3 59.9,517.9 61.5,517.1 63.1,518.1 64.7,519.6 66.2,521.5 67.8,523.3 69.4,524.8 71.0,525.8 72.6,526.0 74.2,526.0 75.8,525.4 77.3,524.1 78.9,522.4 80.5,520.5 82.1,518.8 83.7,517.5 85.3,517.3 86.8,518.5 88.4,520.2 90.0,522.0 91.6,523.8 93.2,525.2 94.8,526.0 96.3,525.7 97.9,524.6 99.5,522.9 101.1,521.1 102.7,519.3 104.3,517.9 105.9,517.1 107.4,518.1 109.0,519.6 110.6,521.5 112.2,523.3 113.8,524.8 115.4,525.8 116.9,526.0 118.5,525.2 120.1,523.8 121.7,522.1 123.3,520.2 124.9,518.6 126.4,517.3 128.0,517.5 129.6,518.8 131.2,520.5" fill="none" stroke="#eeeeee" stroke-width="1.2" stroke-opacity="0.58" stroke-dasharray="11.4,1.9,8.1,2.1,7.3,3.9,11.4,2.4,6.9,3.2,6.8,1.3,9.8,2.7,8.2,2.7,6.9,2.1,8.5,2.6,5.4,3.4,8.9,1.3,3.5,2.4,7.7,3.1,9.3,3.1,4.1,3.3,7.1,3.8,3.1,1.5,3.8,1.7,8.8,1.7"/><polyline points="20.3,519.8 21.9,520.9 23.5,522.5 25.1,524.3 26.6,526.1 28.2,527.6 29.8,528.5 31.4,528.5 33.0,527.7 34.6,526.2 36.1,524.4 37.7,522.6 39.3,521.0 40.9,519.8 42.5,520.2 44.1,521.6 45.6,523.3 47.2,525.2 48.8,526.9 50.4,528.1 52.0,528.3 53.6,527.2 55.2,525.5 56.7,523.7 58.3,521.9 59.9,520.5 61.5,519.7 63.1,520.7 64.7,522.2 66.2,524.1 67.8,525.9 69.4,527.4 71.0,528.4 72.6,528.6 74.2,528.6 75.8,528.0 77.3,526.7 78.9,525.0 80.5,523.1 82.1,521.4 83.7,520.1 85.3,519.9 86.8,521.1 88.4,522.8 90.0,524.6 91.6,526.4 93.2,527.8 94.8,528.6 96.3,528.3 97.9,527.2 99.5,525.5 101.1,523.7 102.7,521.9 104.3,520.5 105.9,519.7 107.4,520.7 109.0,522.2 110.6,524.1 112.2,525.9 113.8,527.4 115.4,528.4 116.9,528.6 118.5,527.8 120.1,526.4 121.7,524.7 123.3,522.8 124.9,521.2 126.4,519.9 128.0,520.1 129.6,521.4 131.2,523.1" fill="none" stroke="#d8d8d8" stroke-width="1.4" stroke-opacity="0.46" stroke-dasharray="8.6,2.1,5.0,3.8,6.8,1.5,3.7,3.5,6.4,1.1,7.8,2.2,7.3,2.0,7.3,2.5,6.6,1.5,3.4,2.6,7.2,1.2,3.2,2.0,4.2,1.7,7.3,2.9,3.5,2.9,8.8,1.8,7.4,3.9,11.8,3.1,6.9,2.2,9.1,4.0"/><clipPath id="cv6"><polygon points="20.3,494.5 21.9,493.6 23.5,492.3 25.1,490.8 26.6,489.4 28.2,488.2 29.8,487.4 31.4,487.4 33.0,488.1 34.6,489.3 36.1,490.7 37.7,492.2 39.3,493.5 40.9,494.5 42.5,494.2 44.1,493.1 45.6,491.7 47.2,490.1 48.8,488.8 50.4,487.8 52.0,487.6 53.6,488.5 55.2,489.8 56.7,491.4 58.3,492.8 59.9,494.0 61.5,494.6 63.1,493.8 64.7,492.5 66.2,491.0 67.8,489.6 69.4,488.3 71.0,487.5 72.6,487.3 74.2,487.3 75.8,487.8 77.3,488.9 78.9,490.3 80.5,491.8 82.1,493.2 83.7,494.3 85.3,494.4 86.8,493.4 88.4,492.1 90.0,490.6 91.6,489.1 93.2,488.0 94.8,487.4 96.3,487.6 97.9,488.5 99.5,489.8 101.1,491.4 102.7,492.8 104.3,494.0 105.9,494.6 107.4,493.8 109.0,492.5 110.6,491.0 112.2,489.6 113.8,488.3 115.4,487.5 116.9,487.4 118.5,488.0 120.1,489.1 121.7,490.5 123.3,492.0 124.9,493.4 126.4,494.4 128.0,494.3 129.6,493.2 131.2,491.9 131.2,511.1 129.6,509.4 128.0,508.1 126.4,507.9 124.9,509.2 123.3,510.8 121.7,512.7 120.1,514.4 118.5,515.8 116.9,516.6 115.4,516.4 113.8,515.4 112.2,513.9 110.6,512.1 109.0,510.2 107.4,508.7 105.9,507.7 104.3,508.5 102.7,509.9 101.1,511.7 99.5,513.5 97.9,515.2 96.3,516.3 94.8,516.6 93.2,515.8 91.6,514.4 90.0,512.6 88.4,510.8 86.8,509.1 85.3,507.9 83.7,508.1 82.1,509.4 80.5,511.1 78.9,513.0 77.3,514.7 75.8,516.0 74.2,516.6 72.6,516.6 71.0,516.4 69.4,515.4 67.8,513.9 66.2,512.1 64.7,510.2 63.1,508.7 61.5,507.7 59.9,508.5 58.3,509.9 56.7,511.7 55.2,513.5 53.6,515.2 52.0,516.3 50.4,516.1 48.8,514.9 47.2,513.2 45.6,511.3 44.1,509.6 42.5,508.2 40.9,507.8 39.3,509.0 37.7,510.6 36.1,512.4 34.6,514.2 33.0,515.7 31.4,516.5 29.8,516.5 28.2,515.6 26.6,514.1 25.1,512.3 23.5,510.5 21.9,508.9 20.3,507.8"/></clipPath><rect x="20.3" y="472.5" width="110.89999999999999" height="56.700000000000045" fill="#000" filter="url(#nc6)" clip-path="url(#cv6)" opacity="0.92"/><polyline points="20.3,493.3 21.9,492.4 23.5,491.1 25.1,489.6 26.6,488.2 28.2,487.0 29.8,486.2 31.4,486.2 33.0,486.9 34.6,488.1 36.1,489.5 37.7,491.0 39.3,492.3 40.9,493.3 42.5,493.0 44.1,491.9 45.6,490.5 47.2,488.9 48.8,487.6 50.4,486.6 52.0,486.4 53.6,487.3 55.2,488.6 56.7,490.2 58.3,491.6 59.9,492.8 61.5,493.4 63.1,492.6 64.7,491.3 66.2,489.8 67.8,488.4 69.4,487.1 71.0,486.3 72.6,486.1 74.2,486.1 75.8,486.6 77.3,487.7 78.9,489.1 80.5,490.6 82.1,492.0 83.7,493.1 85.3,493.2 86.8,492.2 88.4,490.9 90.0,489.4 91.6,487.9 93.2,486.8 94.8,486.2 96.3,486.4 97.9,487.3 99.5,488.6 101.1,490.2 102.7,491.6 104.3,492.8 105.9,493.4 107.4,492.6 109.0,491.3 110.6,489.8 112.2,488.4 113.8,487.1 115.4,486.3 116.9,486.2 118.5,486.8 120.1,487.9 121.7,489.3 123.3,490.8 124.9,492.2 126.4,493.2 128.0,493.1 129.6,492.0 131.2,490.7" fill="none" stroke="#f4f4f4" stroke-width="2.2" stroke-opacity="0.45" stroke-dasharray="12.5,1.9,10.0,1.0,8.0,1.2,16.5,1.2,8.1,1.4,16.9,2.4,13.3,2.4,9.9,2.5,19.4,2.1,19.1,2.2,17.5,0.9,12.2,0.9,16.7,1.7,9.5,1.8,16.5,2.2,16.8,1.6,17.2,1.4,14.7,1.1,14.3,1.5,12.2,1.0"/><polyline points="20.3,509.0 21.9,510.1 23.5,511.7 25.1,513.5 26.6,515.3 28.2,516.8 29.8,517.7 31.4,517.7 33.0,516.9 34.6,515.4 36.1,513.6 37.7,511.8 39.3,510.2 40.9,509.0 42.5,509.4 44.1,510.8 45.6,512.5 47.2,514.4 48.8,516.1 50.4,517.3 52.0,517.5 53.6,516.4 55.2,514.7 56.7,512.9 58.3,511.1 59.9,509.7 61.5,508.9 63.1,509.9 64.7,511.4 66.2,513.3 67.8,515.1 69.4,516.6 71.0,517.6 72.6,517.8 74.2,517.8 75.8,517.2 77.3,515.9 78.9,514.2 80.5,512.3 82.1,510.6 83.7,509.3 85.3,509.1 86.8,510.3 88.4,512.0 90.0,513.8 91.6,515.6 93.2,517.0 94.8,517.8 96.3,517.5 97.9,516.4 99.5,514.7 101.1,512.9 102.7,511.1 104.3,509.7 105.9,508.9 107.4,509.9 109.0,511.4 110.6,513.3 112.2,515.1 113.8,516.6 115.4,517.6 116.9,517.8 118.5,517.0 120.1,515.6 121.7,513.9 123.3,512.0 124.9,510.4 126.4,509.1 128.0,509.3 129.6,510.6 131.2,512.3" fill="none" stroke="#f4f4f4" stroke-width="2.3" stroke-opacity="0.45" stroke-dasharray="17.5,1.0,16.3,1.7,20.0,2.4,18.9,2.2,6.9,2.2,6.2,1.0,16.7,1.1,13.8,2.4,8.3,0.9,9.9,1.0,12.8,2.3,16.3,1.9,13.4,2.1,15.6,1.7,11.7,1.4,10.6,2.0,8.4,0.8,20.0,2.5,15.1,1.1,11.3,2.2"/><polyline points="20.3,511.8 21.9,512.9 23.5,514.5 25.1,516.3 26.6,518.1 28.2,519.6 29.8,520.5 31.4,520.5 33.0,519.7 34.6,518.2 36.1,516.4 37.7,514.6 39.3,513.0 40.9,511.8 42.5,512.2 44.1,513.6 45.6,515.3 47.2,517.2 48.8,518.9 50.4,520.1 52.0,520.3 53.6,519.2 55.2,517.5 56.7,515.7 58.3,513.9 59.9,512.5 61.5,511.7 63.1,512.7 64.7,514.2 66.2,516.1 67.8,517.9 69.4,519.4 71.0,520.4 72.6,520.6 74.2,520.6 75.8,520.0 77.3,518.7 78.9,517.0 80.5,515.1 82.1,513.4 83.7,512.1 85.3,511.9 86.8,513.1 88.4,514.8 90.0,516.6 91.6,518.4 93.2,519.8 94.8,520.6 96.3,520.3 97.9,519.2 99.5,517.5 101.1,515.7 102.7,513.9 104.3,512.5 105.9,511.7 107.4,512.7 109.0,514.2 110.6,516.1 112.2,517.9 113.8,519.4 115.4,520.4 116.9,520.6 118.5,519.8 120.1,518.4 121.7,516.7 123.3,514.8 124.9,513.2 126.4,511.9 128.0,512.1 129.6,513.4 131.2,515.1" fill="none" stroke="#e8e8e8" stroke-width="1.3" stroke-opacity="0.32" stroke-dasharray="9.4,2.5,9.5,2.1,10.1,1.8,11.1,1.3,15.0,1.1,8.4,1.9,8.0,1.3,8.7,2.4,11.9,3.0,13.7,2.7,10.5,1.5,8.5,1.1,14.7,1.2,13.5,1.3,9.7,1.3,8.3,2.3,10.4,1.8,7.8,2.7,10.0,2.9,12.1,1.8"/><polygon points="20.3,525.6 21.9,524.3 23.5,525.5 25.1,524.8 26.6,523.6 28.2,523.1 29.8,523.3 31.4,522.0 33.0,522.6 34.6,522.6 36.1,523.0 37.7,523.7 39.3,524.3 40.9,524.1 42.5,524.3 44.1,525.6 45.6,524.1 47.2,524.7 48.8,524.0 50.4,523.7 52.0,522.8 53.6,523.0 55.2,522.5 56.7,522.7 58.3,522.8 59.9,524.5 61.5,524.4 63.1,524.5 64.7,525.6 66.2,525.1 67.8,524.4 69.4,524.6 71.0,523.1 72.6,523.1 74.2,522.0 75.8,522.3 77.3,522.6 78.9,523.6 80.5,523.0 82.1,523.4 83.7,525.3 85.3,525.4 86.8,525.7 88.4,524.7 90.0,523.9 91.6,523.8 93.2,523.8 94.8,523.7 96.3,523.4 97.9,523.0 99.5,523.1 101.1,522.9 102.7,524.5 104.3,524.2 105.9,525.0 107.4,525.7 109.0,525.7 110.6,524.5 112.2,524.6 113.8,523.7 115.4,522.5 116.9,522.5 118.5,522.9 120.1,522.5 121.7,523.8 123.3,524.2 124.9,524.2 126.4,525.0 128.0,524.2 129.6,525.0 131.2,525.2 131.2,529.2 20.3,529.2" fill="#f6f6f6" fill-opacity="0.95"/><clipPath id="cb6"><polygon points="20.3,525.6 21.9,524.3 23.5,525.5 25.1,524.8 26.6,523.6 28.2,523.1 29.8,523.3 31.4,522.0 33.0,522.6 34.6,522.6 36.1,523.0 37.7,523.7 39.3,524.3 40.9,524.1 42.5,524.3 44.1,525.6 45.6,524.1 47.2,524.7 48.8,524.0 50.4,523.7 52.0,522.8 53.6,523.0 55.2,522.5 56.7,522.7 58.3,522.8 59.9,524.5 61.5,524.4 63.1,524.5 64.7,525.6 66.2,525.1 67.8,524.4 69.4,524.6 71.0,523.1 72.6,523.1 74.2,522.0 75.8,522.3 77.3,522.6 78.9,523.6 80.5,523.0 82.1,523.4 83.7,525.3 85.3,525.4 86.8,525.7 88.4,524.7 90.0,523.9 91.6,523.8 93.2,523.8 94.8,523.7 96.3,523.4 97.9,523.0 99.5,523.1 101.1,522.9 102.7,524.5 104.3,524.2 105.9,525.0 107.4,525.7 109.0,525.7 110.6,524.5 112.2,524.6 113.8,523.7 115.4,522.5 116.9,522.5 118.5,522.9 120.1,522.5 121.7,523.8 123.3,524.2 124.9,524.2 126.4,525.0 128.0,524.2 129.6,525.0 131.2,525.2 131.2,529.2 20.3,529.2"/></clipPath><rect x="20.3" y="472.5" width="110.89999999999999" height="56.700000000000045" fill="#000" filter="url(#nb6)" clip-path="url(#cb6)" opacity="0.22"/><rect x="20.3" y="472.5" width="110.89999999999999" height="2.2" fill="#e4e4e4" fill-opacity="0.85"/></g></g><rect x="20.8" y="473.0" width="109.89999999999999" height="55.700000000000045" fill="none" stroke="#666666" stroke-width="1"/><text x="166.75" y="470.50" font-size="8.5" fill="#a8283f" stroke="#a8283f" stroke-width="0.15" textLength="43.25" lengthAdjust="spacingAndGlyphs" >Cfz+Met D2</text><clipPath id="c7"><rect x="133.3" y="473" width="110.5" height="56.5"/></clipPath><filter id="nu7" x="0" y="0" width="100%" height="100%" color-interpolation-filters="sRGB"><feTurbulence type="fractalNoise" baseFrequency="0.12 0.6" numOctaves="3" seed="10"/><feColorMatrix type="matrix" values="1.833 0 0 0 -0.775  1.833 0 0 0 -0.775  1.833 0 0 0 -0.775  0 0 0 0 1"/><feGaussianBlur stdDeviation="0.3"/></filter><filter id="nc7" x="0" y="0" width="100%" height="100%" color-interpolation-filters="sRGB"><feTurbulence type="fractalNoise" baseFrequency="0.3 0.5" numOctaves="2" seed="30"/><feColorMatrix type="matrix" values="0.333 0 0 0 -0.073  0.333 0 0 0 -0.073  0.333 0 0 0 -0.073  0 0 0 0 1"/></filter><filter id="nb7" x="0" y="0" width="100%" height="100%" color-interpolation-filters="sRGB"><feTurbulence type="fractalNoise" baseFrequency="0.3 0.6" numOctaves="2" seed="50"/><feColorMatrix type="matrix" values="3.000 0 0 0 -0.716  3.000 0 0 0 -0.716  3.000 0 0 0 -0.716  0 0 0 0 1"/><feGaussianBlur stdDeviation="0.3"/></filter><filter id="bl7" x="0" y="0" width="100%" height="100%"><feGaussianBlur stdDeviation="0.35"/></filter><g clip-path="url(#c7)"><g filter="url(#bl7)"><rect x="133.3" y="473" width="110.5" height="56.5" fill="#000" filter="url(#nu7)"/><filter id="nl7" x="0" y="0" width="100%" height="100%" color-interpolation-filters="sRGB"><feTurbulence type="fractalNoise" baseFrequency="0.22 0.5" numOctaves="3" seed="70"/><feColorMatrix type="matrix" values="2.000 0 0 0 -0.769  2.000 0 0 0 -0.769  2.000 0 0 0 -0.769  0 0 0 0 1"/><feGaussianBlur stdDeviation="0.35"/></filter><clipPath id="cl7"><polygon points="133.3,508.8 134.9,510.1 136.5,511.7 138.0,513.5 139.6,515.2 141.2,516.6 142.8,517.4 144.4,517.3 145.9,516.4 147.5,515.0 149.1,513.2 150.7,511.4 152.2,509.8 153.8,508.7 155.4,509.1 157.0,510.4 158.6,512.1 160.1,513.9 161.7,515.6 163.3,516.9 164.9,517.5 166.5,517.5 168.0,516.8 169.6,515.5 171.2,513.8 172.8,512.0 174.3,510.3 175.9,509.0 177.5,508.7 179.1,509.9 180.7,511.5 182.2,513.3 183.8,515.0 185.4,516.5 187.0,517.4 188.6,516.8 190.1,515.4 191.7,513.7 193.3,511.9 194.9,510.3 196.4,509.0 198.0,508.8 199.6,510.0 201.2,511.6 202.8,513.4 204.3,515.1 205.9,516.5 207.5,517.4 209.1,517.5 210.7,516.8 212.2,515.4 213.8,513.7 215.4,511.9 217.0,510.3 218.5,509.0 220.1,508.8 221.7,510.0 223.3,511.6 224.9,513.4 226.4,515.1 228.0,516.5 229.6,517.4 231.2,517.4 232.8,516.5 234.3,515.1 235.9,513.3 237.5,511.5 239.1,509.9 240.6,508.8 242.2,509.0 243.8,510.3 243.8,529.5 133.3,529.5"/></clipPath><rect x="133.3" y="473" width="110.5" height="56.5" fill="#000" filter="url(#nl7)" clip-path="url(#cl7)"/><polyline points="133.3,489.6 134.9,488.8 136.5,487.8 138.0,486.7 139.6,485.6 141.2,484.7 142.8,484.3 144.4,484.3 145.9,484.9 147.5,485.8 149.1,486.9 150.7,488.0 152.2,489.0 153.8,489.7 155.4,489.5 157.0,488.6 158.6,487.6 160.1,486.4 161.7,485.4 163.3,484.6 164.9,484.2 166.5,484.2 168.0,484.6 169.6,485.4 171.2,486.5 172.8,487.6 174.3,488.7 175.9,489.5 177.5,489.7 179.1,489.0 180.7,488.0 182.2,486.8 183.8,485.7 185.4,484.8 187.0,484.3 188.6,484.7 190.1,485.5 191.7,486.5 193.3,487.7 194.9,488.7 196.4,489.5 198.0,489.6 199.6,488.9 201.2,487.9 202.8,486.8 204.3,485.7 205.9,484.8 207.5,484.3 209.1,484.2 210.7,484.7 212.2,485.5 213.8,486.5 215.4,487.7 217.0,488.7 218.5,489.5 220.1,489.6 221.7,488.9 223.3,487.9 224.9,486.8 226.4,485.7 228.0,484.8 229.6,484.3 231.2,484.3 232.8,484.8 234.3,485.7 235.9,486.8 237.5,487.9 239.1,488.9 240.6,489.7 242.2,489.5 243.8,488.7" fill="none" stroke="#b0b0b0" stroke-width="1.1" stroke-opacity="0.45" stroke-dasharray="4.9,1.6,8.3,1.8,3.6,3.0,7.2,3.0,8.7,3.1,9.5,2.8,3.9,3.6,3.3,3.4,5.7,3.3,9.8,2.3,8.8,2.8,3.7,4.7,3.1,3.4,4.1,4.2,9.1,2.4,7.0,2.0,4.5,1.1,3.7,1.4,4.0,2.9,8.4,3.4"/><polyline points="133.3,485.6 134.9,484.8 136.5,483.8 138.0,482.7 139.6,481.6 141.2,480.7 142.8,480.3 144.4,480.3 145.9,480.9 147.5,481.8 149.1,482.9 150.7,484.0 152.2,485.0 153.8,485.7 155.4,485.5 157.0,484.6 158.6,483.6 160.1,482.4 161.7,481.4 163.3,480.6 164.9,480.2 166.5,480.2 168.0,480.6 169.6,481.4 171.2,482.5 172.8,483.6 174.3,484.7 175.9,485.5 177.5,485.7 179.1,485.0 180.7,484.0 182.2,482.8 183.8,481.7 185.4,480.8 187.0,480.3 188.6,480.7 190.1,481.5 191.7,482.5 193.3,483.7 194.9,484.7 196.4,485.5 198.0,485.6 199.6,484.9 201.2,483.9 202.8,482.8 204.3,481.7 205.9,480.8 207.5,480.3 209.1,480.2 210.7,480.7 212.2,481.5 213.8,482.5 215.4,483.7 217.0,484.7 218.5,485.5 220.1,485.6 221.7,484.9 223.3,483.9 224.9,482.8 226.4,481.7 228.0,480.8 229.6,480.3 231.2,480.3 232.8,480.8 234.3,481.7 235.9,482.8 237.5,483.9 239.1,484.9 240.6,485.7 242.2,485.5 243.8,484.7" fill="none" stroke="#b0b0b0" stroke-width="1.0" stroke-opacity="0.27" stroke-dasharray="5.1,1.9,7.0,2.9,5.2,1.4,8.3,3.5,7.4,3.8,9.0,1.1,4.3,2.9,7.9,3.0,6.5,2.2,4.7,4.5,9.9,3.0,6.3,1.5,7.2,1.8,7.4,2.1,6.3,4.5,5.2,3.1,5.2,2.9,9.1,3.0,9.8,2.6,6.2,3.6"/><polyline points="133.3,481.6 134.9,480.8 136.5,479.8 138.0,478.7 139.6,477.6 141.2,476.7 142.8,476.3 144.4,476.3 145.9,476.9 147.5,477.8 149.1,478.9 150.7,480.0 152.2,481.0 153.8,481.7 155.4,481.5 157.0,480.6 158.6,479.6 160.1,478.4 161.7,477.4 163.3,476.6 164.9,476.2 166.5,476.2 168.0,476.6 169.6,477.4 171.2,478.5 172.8,479.6 174.3,480.7 175.9,481.5 177.5,481.7 179.1,481.0 180.7,480.0 182.2,478.8 183.8,477.7 185.4,476.8 187.0,476.3 188.6,476.7 190.1,477.5 191.7,478.5 193.3,479.7 194.9,480.7 196.4,481.5 198.0,481.6 199.6,480.9 201.2,479.9 202.8,478.8 204.3,477.7 205.9,476.8 207.5,476.3 209.1,476.2 210.7,476.7 212.2,477.5 213.8,478.5 215.4,479.7 217.0,480.7 218.5,481.5 220.1,481.6 221.7,480.9 223.3,479.9 224.9,478.8 226.4,477.7 228.0,476.8 229.6,476.3 231.2,476.3 232.8,476.8 234.3,477.7 235.9,478.8 237.5,479.9 239.1,480.9 240.6,481.7 242.2,481.5 243.8,480.7" fill="none" stroke="#e0e0e0" stroke-width="1.4" stroke-opacity="0.49" stroke-dasharray="7.8,1.2,6.0,2.3,5.4,4.4,4.1,2.8,7.0,4.3,7.2,1.2,5.7,3.3,8.1,2.1,9.1,3.2,8.4,3.9,7.5,4.3,5.6,2.6,9.1,2.5,7.0,3.3,7.2,1.3,9.2,3.0,6.4,4.6,7.8,4.2,6.1,1.7,7.6,2.8"/><polyline points="133.3,510.8 134.9,512.1 136.5,513.7 138.0,515.5 139.6,517.2 141.2,518.6 142.8,519.4 144.4,519.3 145.9,518.4 147.5,517.0 149.1,515.2 150.7,513.4 152.2,511.8 153.8,510.7 155.4,511.1 157.0,512.4 158.6,514.1 160.1,515.9 161.7,517.6 163.3,518.9 164.9,519.5 166.5,519.5 168.0,518.8 169.6,517.5 171.2,515.8 172.8,514.0 174.3,512.3 175.9,511.0 177.5,510.7 179.1,511.9 180.7,513.5 182.2,515.3 183.8,517.0 185.4,518.5 187.0,519.4 188.6,518.8 190.1,517.4 191.7,515.7 193.3,513.9 194.9,512.3 196.4,511.0 198.0,510.8 199.6,512.0 201.2,513.6 202.8,515.4 204.3,517.1 205.9,518.5 207.5,519.4 209.1,519.5 210.7,518.8 212.2,517.4 213.8,515.7 215.4,513.9 217.0,512.3 218.5,511.0 220.1,510.8 221.7,512.0 223.3,513.6 224.9,515.4 226.4,517.1 228.0,518.5 229.6,519.4 231.2,519.4 232.8,518.5 234.3,517.1 235.9,515.3 237.5,513.5 239.1,511.9 240.6,510.8 242.2,511.0 243.8,512.3" fill="none" stroke="#eeeeee" stroke-width="1.4" stroke-opacity="0.37" stroke-dasharray="3.7,3.7,7.1,1.4,11.0,1.6,7.1,1.0,4.3,2.4,9.3,1.4,9.9,2.9,9.1,3.9,7.3,1.0,3.5,3.6,4.0,1.8,8.9,3.2,9.8,2.7,5.9,3.7,3.2,1.8,11.9,1.6,10.6,2.8,8.7,2.9,7.0,3.5,3.5,1.9"/><polyline points="133.3,513.4 134.9,514.7 136.5,516.3 138.0,518.1 139.6,519.8 141.2,521.2 142.8,522.0 144.4,521.9 145.9,521.0 147.5,519.6 149.1,517.8 150.7,516.0 152.2,514.4 153.8,513.3 155.4,513.7 157.0,515.0 158.6,516.7 160.1,518.5 161.7,520.2 163.3,521.5 164.9,522.1 166.5,522.1 168.0,521.4 169.6,520.1 171.2,518.4 172.8,516.6 174.3,514.9 175.9,513.6 177.5,513.3 179.1,514.5 180.7,516.1 182.2,517.9 183.8,519.6 185.4,521.1 187.0,522.0 188.6,521.4 190.1,520.0 191.7,518.3 193.3,516.5 194.9,514.9 196.4,513.6 198.0,513.4 199.6,514.6 201.2,516.2 202.8,518.0 204.3,519.7 205.9,521.1 207.5,522.0 209.1,522.1 210.7,521.4 212.2,520.0 213.8,518.3 215.4,516.5 217.0,514.9 218.5,513.6 220.1,513.4 221.7,514.6 223.3,516.2 224.9,518.0 226.4,519.7 228.0,521.1 229.6,522.0 231.2,522.0 232.8,521.1 234.3,519.7 235.9,517.9 237.5,516.1 239.1,514.5 240.6,513.4 242.2,513.6 243.8,514.9" fill="none" stroke="#eeeeee" stroke-width="1.3" stroke-opacity="0.51" stroke-dasharray="9.2,1.9,8.4,2.7,10.3,1.7,5.6,2.0,4.9,3.2,7.4,1.2,11.0,2.6,10.4,3.2,6.6,2.0,7.9,3.8,10.2,3.9,8.1,2.6,5.7,2.6,8.0,3.3,10.5,3.7,5.3,2.9,3.6,1.8,8.4,1.0,10.8,2.6,5.2,2.3"/><polyline points="133.3,516.0 134.9,517.3 136.5,518.9 138.0,520.7 139.6,522.4 141.2,523.8 142.8,524.6 144.4,524.5 145.9,523.6 147.5,522.2 149.1,520.4 150.7,518.6 152.2,517.0 153.8,515.9 155.4,516.3 157.0,517.6 158.6,519.3 160.1,521.1 161.7,522.8 163.3,524.1 164.9,524.7 166.5,524.7 168.0,524.0 169.6,522.7 171.2,521.0 172.8,519.2 174.3,517.5 175.9,516.2 177.5,515.9 179.1,517.1 180.7,518.7 182.2,520.5 183.8,522.2 185.4,523.7 187.0,524.6 188.6,524.0 190.1,522.6 191.7,520.9 193.3,519.1 194.9,517.5 196.4,516.2 198.0,516.0 199.6,517.2 201.2,518.8 202.8,520.6 204.3,522.3 205.9,523.7 207.5,524.6 209.1,524.7 210.7,524.0 212.2,522.6 213.8,520.9 215.4,519.1 217.0,517.5 218.5,516.2 220.1,516.0 221.7,517.2 223.3,518.8 224.9,520.6 226.4,522.3 228.0,523.7 229.6,524.6 231.2,524.6 232.8,523.7 234.3,522.3 235.9,520.5 237.5,518.7 239.1,517.1 240.6,516.0 242.2,516.2 243.8,517.5" fill="none" stroke="#eeeeee" stroke-width="1.0" stroke-opacity="0.58" stroke-dasharray="8.9,2.6,4.7,2.9,5.0,1.2,10.7,2.1,9.9,2.5,8.1,2.2,10.4,3.3,6.5,2.7,5.5,3.7,7.1,2.8,8.2,1.3,6.0,3.3,8.3,1.7,4.5,3.6,10.3,3.7,4.6,2.6,6.9,2.3,6.2,2.9,8.2,1.2,3.4,1.5"/><polyline points="133.3,518.6 134.9,519.9 136.5,521.5 138.0,523.3 139.6,525.0 141.2,526.4 142.8,527.2 144.4,527.1 145.9,526.2 147.5,524.8 149.1,523.0 150.7,521.2 152.2,519.6 153.8,518.5 155.4,518.9 157.0,520.2 158.6,521.9 160.1,523.7 161.7,525.4 163.3,526.7 164.9,527.3 166.5,527.3 168.0,526.6 169.6,525.3 171.2,523.6 172.8,521.8 174.3,520.1 175.9,518.8 177.5,518.5 179.1,519.7 180.7,521.3 182.2,523.1 183.8,524.8 185.4,526.3 187.0,527.2 188.6,526.6 190.1,525.2 191.7,523.5 193.3,521.7 194.9,520.1 196.4,518.8 198.0,518.6 199.6,519.8 201.2,521.4 202.8,523.2 204.3,524.9 205.9,526.3 207.5,527.2 209.1,527.3 210.7,526.6 212.2,525.2 213.8,523.5 215.4,521.7 217.0,520.1 218.5,518.8 220.1,518.6 221.7,519.8 223.3,521.4 224.9,523.2 226.4,524.9 228.0,526.3 229.6,527.2 231.2,527.2 232.8,526.3 234.3,524.9 235.9,523.1 237.5,521.3 239.1,519.7 240.6,518.6 242.2,518.8 243.8,520.1" fill="none" stroke="#c0c0c0" stroke-width="1.4" stroke-opacity="0.52" stroke-dasharray="6.3,2.6,8.8,1.5,11.6,3.8,3.3,1.8,5.5,3.6,11.2,3.8,6.9,2.6,4.8,1.1,8.7,2.6,10.9,3.8,7.8,1.2,8.1,3.8,7.3,2.9,7.6,2.3,6.8,1.7,7.0,3.4,9.7,1.1,5.0,1.2,3.8,1.0,9.5,1.6"/><clipPath id="cv7"><polygon points="133.3,494.3 134.9,493.5 136.5,492.5 138.0,491.4 139.6,490.3 141.2,489.4 142.8,489.0 144.4,489.0 145.9,489.6 147.5,490.5 149.1,491.6 150.7,492.7 152.2,493.7 153.8,494.4 155.4,494.2 157.0,493.3 158.6,492.3 160.1,491.1 161.7,490.1 163.3,489.3 164.9,488.9 166.5,488.9 168.0,489.3 169.6,490.1 171.2,491.2 172.8,492.3 174.3,493.4 175.9,494.2 177.5,494.4 179.1,493.7 180.7,492.7 182.2,491.5 183.8,490.4 185.4,489.5 187.0,489.0 188.6,489.4 190.1,490.2 191.7,491.2 193.3,492.4 194.9,493.4 196.4,494.2 198.0,494.3 199.6,493.6 201.2,492.6 202.8,491.5 204.3,490.4 205.9,489.5 207.5,489.0 209.1,488.9 210.7,489.4 212.2,490.2 213.8,491.2 215.4,492.4 217.0,493.4 218.5,494.2 220.1,494.3 221.7,493.6 223.3,492.6 224.9,491.5 226.4,490.4 228.0,489.5 229.6,489.0 231.2,489.0 232.8,489.5 234.3,490.4 235.9,491.5 237.5,492.6 239.1,493.6 240.6,494.4 242.2,494.2 243.8,493.4 243.8,508.1 242.2,506.8 240.6,506.6 239.1,507.7 237.5,509.3 235.9,511.1 234.3,512.9 232.8,514.3 231.2,515.2 229.6,515.2 228.0,514.3 226.4,512.9 224.9,511.2 223.3,509.4 221.7,507.8 220.1,506.6 218.5,506.8 217.0,508.1 215.4,509.7 213.8,511.5 212.2,513.2 210.7,514.6 209.1,515.3 207.5,515.2 205.9,514.3 204.3,512.9 202.8,511.2 201.2,509.4 199.6,507.8 198.0,506.6 196.4,506.8 194.9,508.1 193.3,509.7 191.7,511.5 190.1,513.2 188.6,514.6 187.0,515.2 185.4,514.3 183.8,512.8 182.2,511.1 180.7,509.3 179.1,507.7 177.5,506.5 175.9,506.8 174.3,508.1 172.8,509.8 171.2,511.6 169.6,513.3 168.0,514.6 166.5,515.3 164.9,515.3 163.3,514.7 161.7,513.4 160.1,511.7 158.6,509.9 157.0,508.2 155.4,506.9 153.8,506.5 152.2,507.6 150.7,509.2 149.1,511.0 147.5,512.8 145.9,514.2 144.4,515.1 142.8,515.2 141.2,514.4 139.6,513.0 138.0,511.3 136.5,509.5 134.9,507.9 133.3,506.6"/></clipPath><rect x="133.3" y="473" width="110.5" height="56.5" fill="#000" filter="url(#nc7)" clip-path="url(#cv7)" opacity="0.92"/><polyline points="133.3,493.1 134.9,492.3 136.5,491.3 138.0,490.2 139.6,489.1 141.2,488.2 142.8,487.8 144.4,487.8 145.9,488.4 147.5,489.3 149.1,490.4 150.7,491.5 152.2,492.5 153.8,493.2 155.4,493.0 157.0,492.1 158.6,491.1 160.1,489.9 161.7,488.9 163.3,488.1 164.9,487.7 166.5,487.7 168.0,488.1 169.6,488.9 171.2,490.0 172.8,491.1 174.3,492.2 175.9,493.0 177.5,493.2 179.1,492.5 180.7,491.5 182.2,490.3 183.8,489.2 185.4,488.3 187.0,487.8 188.6,488.2 190.1,489.0 191.7,490.0 193.3,491.2 194.9,492.2 196.4,493.0 198.0,493.1 199.6,492.4 201.2,491.4 202.8,490.3 204.3,489.2 205.9,488.3 207.5,487.8 209.1,487.7 210.7,488.2 212.2,489.0 213.8,490.0 215.4,491.2 217.0,492.2 218.5,493.0 220.1,493.1 221.7,492.4 223.3,491.4 224.9,490.3 226.4,489.2 228.0,488.3 229.6,487.8 231.2,487.8 232.8,488.3 234.3,489.2 235.9,490.3 237.5,491.4 239.1,492.4 240.6,493.2 242.2,493.0 243.8,492.2" fill="none" stroke="#f4f4f4" stroke-width="2.2" stroke-opacity="0.6" stroke-dasharray="15.3,2.2,8.2,1.2,7.6,1.0,19.7,2.3,19.6,1.1,12.0,1.7,6.9,1.9,18.2,2.4,18.1,1.3,17.2,1.1,12.5,0.9,7.3,0.9,11.0,2.1,13.8,1.1,10.1,1.4,7.6,1.1,19.3,2.1,15.5,1.0,13.1,2.1,17.5,1.2"/><polyline points="133.3,507.8 134.9,509.1 136.5,510.7 138.0,512.5 139.6,514.2 141.2,515.6 142.8,516.4 144.4,516.3 145.9,515.4 147.5,514.0 149.1,512.2 150.7,510.4 152.2,508.8 153.8,507.7 155.4,508.1 157.0,509.4 158.6,511.1 160.1,512.9 161.7,514.6 163.3,515.9 164.9,516.5 166.5,516.5 168.0,515.8 169.6,514.5 171.2,512.8 172.8,511.0 174.3,509.3 175.9,508.0 177.5,507.7 179.1,508.9 180.7,510.5 182.2,512.3 183.8,514.0 185.4,515.5 187.0,516.4 188.6,515.8 190.1,514.4 191.7,512.7 193.3,510.9 194.9,509.3 196.4,508.0 198.0,507.8 199.6,509.0 201.2,510.6 202.8,512.4 204.3,514.1 205.9,515.5 207.5,516.4 209.1,516.5 210.7,515.8 212.2,514.4 213.8,512.7 215.4,510.9 217.0,509.3 218.5,508.0 220.1,507.8 221.7,509.0 223.3,510.6 224.9,512.4 226.4,514.1 228.0,515.5 229.6,516.4 231.2,516.4 232.8,515.5 234.3,514.1 235.9,512.3 237.5,510.5 239.1,508.9 240.6,507.8 242.2,508.0 243.8,509.3" fill="none" stroke="#f4f4f4" stroke-width="2.3" stroke-opacity="0.6" stroke-dasharray="11.3,1.8,8.1,1.8,7.1,2.2,9.1,1.4,15.8,1.8,19.8,1.9,9.7,1.0,16.9,2.0,8.7,2.2,11.3,1.1,8.1,1.6,17.0,1.7,10.2,1.9,6.3,2.0,15.6,1.6,6.9,1.5,18.6,2.4,16.6,2.0,19.8,1.3,18.3,2.4"/><polyline points="133.3,510.6 134.9,511.9 136.5,513.5 138.0,515.3 139.6,517.0 141.2,518.4 142.8,519.2 144.4,519.1 145.9,518.2 147.5,516.8 149.1,515.0 150.7,513.2 152.2,511.6 153.8,510.5 155.4,510.9 157.0,512.2 158.6,513.9 160.1,515.7 161.7,517.4 163.3,518.7 164.9,519.3 166.5,519.3 168.0,518.6 169.6,517.3 171.2,515.6 172.8,513.8 174.3,512.1 175.9,510.8 177.5,510.5 179.1,511.7 180.7,513.3 182.2,515.1 183.8,516.8 185.4,518.3 187.0,519.2 188.6,518.6 190.1,517.2 191.7,515.5 193.3,513.7 194.9,512.1 196.4,510.8 198.0,510.6 199.6,511.8 201.2,513.4 202.8,515.2 204.3,516.9 205.9,518.3 207.5,519.2 209.1,519.3 210.7,518.6 212.2,517.2 213.8,515.5 215.4,513.7 217.0,512.1 218.5,510.8 220.1,510.6 221.7,511.8 223.3,513.4 224.9,515.2 226.4,516.9 228.0,518.3 229.6,519.2 231.2,519.2 232.8,518.3 234.3,516.9 235.9,515.1 237.5,513.3 239.1,511.7 240.6,510.6 242.2,510.8 243.8,512.1" fill="none" stroke="#e8e8e8" stroke-width="1.3" stroke-opacity="0.42" stroke-dasharray="13.4,1.5,11.5,1.1,7.4,2.7,6.4,2.3,7.0,2.9,14.3,2.9,10.9,3.0,6.5,2.2,6.0,2.2,14.9,2.5,12.9,2.8,13.7,2.2,12.7,1.3,7.5,2.4,12.2,1.8,9.7,1.7,13.0,1.9,8.3,1.4,9.6,2.8,7.4,1.1"/><polygon points="133.3,523.8 134.9,524.0 136.5,524.8 138.0,523.9 139.6,523.5 141.2,522.5 142.8,522.2 144.4,522.0 145.9,521.8 147.5,521.8 149.1,523.0 150.7,522.8 152.2,523.0 153.8,524.1 155.4,523.5 157.0,523.6 158.6,523.9 160.1,523.8 161.7,523.5 163.3,522.1 164.9,522.5 166.5,522.6 168.0,521.4 169.6,521.8 171.2,522.3 172.8,523.3 174.3,523.9 175.9,524.1 177.5,524.2 179.1,523.7 180.7,524.1 182.2,523.0 183.8,522.4 185.4,522.0 187.0,522.7 188.6,521.5 190.1,521.3 191.7,522.4 193.3,522.3 194.9,522.3 196.4,523.7 198.0,524.7 199.6,523.4 201.2,524.9 202.8,524.0 204.3,523.9 205.9,523.2 207.5,522.3 209.1,521.8 210.7,522.2 212.2,521.8 213.8,522.5 215.4,522.7 217.0,523.6 218.5,523.5 220.1,523.7 221.7,524.0 223.3,524.2 224.9,524.2 226.4,523.6 228.0,522.2 229.6,523.1 231.2,521.9 232.8,521.2 234.3,522.3 235.9,521.6 237.5,521.9 239.1,523.8 240.6,523.8 242.2,524.2 243.8,524.0 243.8,529.5 133.3,529.5" fill="#f6f6f6" fill-opacity="0.95"/><clipPath id="cb7"><polygon points="133.3,523.8 134.9,524.0 136.5,524.8 138.0,523.9 139.6,523.5 141.2,522.5 142.8,522.2 144.4,522.0 145.9,521.8 147.5,521.8 149.1,523.0 150.7,522.8 152.2,523.0 153.8,524.1 155.4,523.5 157.0,523.6 158.6,523.9 160.1,523.8 161.7,523.5 163.3,522.1 164.9,522.5 166.5,522.6 168.0,521.4 169.6,521.8 171.2,522.3 172.8,523.3 174.3,523.9 175.9,524.1 177.5,524.2 179.1,523.7 180.7,524.1 182.2,523.0 183.8,522.4 185.4,522.0 187.0,522.7 188.6,521.5 190.1,521.3 191.7,522.4 193.3,522.3 194.9,522.3 196.4,523.7 198.0,524.7 199.6,523.4 201.2,524.9 202.8,524.0 204.3,523.9 205.9,523.2 207.5,522.3 209.1,521.8 210.7,522.2 212.2,521.8 213.8,522.5 215.4,522.7 217.0,523.6 218.5,523.5 220.1,523.7 221.7,524.0 223.3,524.2 224.9,524.2 226.4,523.6 228.0,522.2 229.6,523.1 231.2,521.9 232.8,521.2 234.3,522.3 235.9,521.6 237.5,521.9 239.1,523.8 240.6,523.8 242.2,524.2 243.8,524.0 243.8,529.5 133.3,529.5"/></clipPath><rect x="133.3" y="473" width="110.5" height="56.5" fill="#000" filter="url(#nb7)" clip-path="url(#cb7)" opacity="0.22"/><rect x="133.3" y="473" width="110.5" height="2.2" fill="#e4e4e4" fill-opacity="0.85"/></g></g><rect x="133.8" y="473.5" width="109.5" height="55.5" fill="none" stroke="#666666" stroke-width="1"/><text x="317.90" y="214.20" font-size="8.5" fill="#a8283f" stroke="#a8283f" stroke-width="0.15" textLength="39.80" lengthAdjust="spacingAndGlyphs" >Control D0</text><clipPath id="c8"><rect x="283.4" y="220.2" width="111.20000000000005" height="58.0"/></clipPath><filter id="nu8" x="0" y="0" width="100%" height="100%" color-interpolation-filters="sRGB"><feTurbulence type="fractalNoise" baseFrequency="0.12 0.6" numOctaves="3" seed="11"/><feColorMatrix type="matrix" values="1.833 0 0 0 -0.819  1.833 0 0 0 -0.819  1.833 0 0 0 -0.819  0 0 0 0 1"/><feGaussianBlur stdDeviation="0.3"/></filter><filter id="nc8" x="0" y="0" width="100%" height="100%" color-interpolation-filters="sRGB"><feTurbulence type="fractalNoise" baseFrequency="0.3 0.5" numOctaves="2" seed="31"/><feColorMatrix type="matrix" values="0.333 0 0 0 -0.073  0.333 0 0 0 -0.073  0.333 0 0 0 -0.073  0 0 0 0 1"/></filter><filter id="nb8" x="0" y="0" width="100%" height="100%" color-interpolation-filters="sRGB"><feTurbulence type="fractalNoise" baseFrequency="0.3 0.6" numOctaves="2" seed="51"/><feColorMatrix type="matrix" values="3.000 0 0 0 -0.716  3.000 0 0 0 -0.716  3.000 0 0 0 -0.716  0 0 0 0 1"/><feGaussianBlur stdDeviation="0.3"/></filter><filter id="bl8" x="0" y="0" width="100%" height="100%"><feGaussianBlur stdDeviation="0.35"/></filter><g clip-path="url(#c8)"><g filter="url(#bl8)"><rect x="283.4" y="220.2" width="111.20000000000005" height="58.0" fill="#000" filter="url(#nu8)"/><filter id="nl8" x="0" y="0" width="100%" height="100%" color-interpolation-filters="sRGB"><feTurbulence type="fractalNoise" baseFrequency="0.22 0.5" numOctaves="3" seed="71"/><feColorMatrix type="matrix" values="2.000 0 0 0 -0.749  2.000 0 0 0 -0.749  2.000 0 0 0 -0.749  0 0 0 0 1"/><feGaussianBlur stdDeviation="0.35"/></filter><clipPath id="cl8"><polygon points="283.4,256.6 285.0,256.7 286.6,258.7 288.2,261.2 289.8,264.1 291.3,266.8 292.9,268.8 294.5,269.9 296.1,269.5 297.7,267.8 299.3,265.4 300.9,262.6 302.5,259.8 304.1,257.5 305.6,256.0 307.2,257.5 308.8,259.8 310.4,262.6 312.0,265.4 313.6,267.8 315.2,269.5 316.8,269.9 318.3,269.5 319.9,267.8 321.5,265.4 323.1,262.6 324.7,259.8 326.3,257.5 327.9,256.0 329.5,257.5 331.1,259.8 332.6,262.6 334.2,265.4 335.8,267.8 337.4,269.5 339.0,269.7 340.6,268.4 342.2,266.2 343.8,263.4 345.4,260.6 346.9,258.1 348.5,256.4 350.1,257.0 351.7,259.1 353.3,261.7 354.9,264.6 356.5,267.2 358.1,269.1 359.7,269.9 361.2,268.9 362.8,266.9 364.4,264.3 366.0,261.4 367.6,258.8 369.2,256.8 370.8,256.5 372.4,258.4 373.9,260.9 375.5,263.7 377.1,266.4 378.7,268.6 380.3,269.8 381.9,269.6 383.5,268.1 385.1,265.8 386.7,263.0 388.2,260.2 389.8,257.8 391.4,256.2 393.0,257.3 394.6,259.5 394.6,278.2 283.4,278.2"/></clipPath><rect x="283.4" y="220.2" width="111.20000000000005" height="58.0" fill="#000" filter="url(#nl8)" clip-path="url(#cl8)"/><polyline points="283.4,237.2 285.0,237.2 286.6,236.0 288.2,234.5 289.8,232.9 291.3,231.3 292.9,230.1 294.5,229.5 296.1,229.7 297.7,230.7 299.3,232.1 300.9,233.7 302.5,235.4 304.1,236.7 305.6,237.6 307.2,236.7 308.8,235.4 310.4,233.7 312.0,232.1 313.6,230.7 315.2,229.7 316.8,229.5 318.3,229.7 319.9,230.7 321.5,232.1 323.1,233.7 324.7,235.4 326.3,236.7 327.9,237.6 329.5,236.7 331.1,235.4 332.6,233.7 334.2,232.1 335.8,230.7 337.4,229.7 339.0,229.6 340.6,230.3 342.2,231.6 343.8,233.2 345.4,234.9 346.9,236.3 348.5,237.4 350.1,237.0 351.7,235.8 353.3,234.2 354.9,232.6 356.5,231.1 358.1,230.0 359.7,229.5 361.2,230.0 362.8,231.2 364.4,232.7 366.0,234.4 367.6,235.9 369.2,237.1 370.8,237.3 372.4,236.2 373.9,234.7 375.5,233.1 377.1,231.5 378.7,230.2 380.3,229.5 381.9,229.7 383.5,230.5 385.1,231.9 386.7,233.5 388.2,235.2 389.8,236.5 391.4,237.5 393.0,236.8 394.6,235.6" fill="none" stroke="#cfcfcf" stroke-width="0.9" stroke-opacity="0.48" stroke-dasharray="8.1,2.0,6.0,1.1,4.0,3.6,8.4,1.8,7.9,2.5,6.8,4.3,4.6,1.7,6.0,4.9,5.8,4.4,4.2,4.0,9.0,2.5,4.4,1.4,4.0,2.2,7.2,4.5,4.8,4.7,4.2,3.0,8.2,4.6,9.4,4.8,3.6,4.5,3.0,2.8"/><polyline points="283.4,233.2 285.0,233.2 286.6,232.0 288.2,230.5 289.8,228.9 291.3,227.3 292.9,226.1 294.5,225.5 296.1,225.7 297.7,226.7 299.3,228.1 300.9,229.7 302.5,231.4 304.1,232.7 305.6,233.6 307.2,232.7 308.8,231.4 310.4,229.7 312.0,228.1 313.6,226.7 315.2,225.7 316.8,225.5 318.3,225.7 319.9,226.7 321.5,228.1 323.1,229.7 324.7,231.4 326.3,232.7 327.9,233.6 329.5,232.7 331.1,231.4 332.6,229.7 334.2,228.1 335.8,226.7 337.4,225.7 339.0,225.6 340.6,226.3 342.2,227.6 343.8,229.2 345.4,230.9 346.9,232.3 348.5,233.4 350.1,233.0 351.7,231.8 353.3,230.2 354.9,228.6 356.5,227.1 358.1,226.0 359.7,225.5 361.2,226.0 362.8,227.2 364.4,228.7 366.0,230.4 367.6,231.9 369.2,233.1 370.8,233.3 372.4,232.2 373.9,230.7 375.5,229.1 377.1,227.5 378.7,226.2 380.3,225.5 381.9,225.7 383.5,226.5 385.1,227.9 386.7,229.5 388.2,231.2 389.8,232.5 391.4,233.5 393.0,232.8 394.6,231.6" fill="none" stroke="#b0b0b0" stroke-width="0.9" stroke-opacity="0.45" stroke-dasharray="5.9,1.8,9.2,1.5,7.0,2.5,8.6,3.2,3.9,3.2,8.6,3.6,4.4,1.6,3.0,4.6,6.1,2.6,3.9,2.2,6.2,2.9,5.8,2.7,3.5,4.2,8.8,2.9,9.1,1.4,4.5,1.1,5.3,4.4,9.2,4.5,9.6,4.5,4.6,1.4"/><polyline points="283.4,229.2 285.0,229.2 286.6,228.0 288.2,226.5 289.8,224.9 291.3,223.3 292.9,222.1 294.5,221.5 296.1,221.7 297.7,222.7 299.3,224.1 300.9,225.7 302.5,227.4 304.1,228.7 305.6,229.6 307.2,228.7 308.8,227.4 310.4,225.7 312.0,224.1 313.6,222.7 315.2,221.7 316.8,221.5 318.3,221.7 319.9,222.7 321.5,224.1 323.1,225.7 324.7,227.4 326.3,228.7 327.9,229.6 329.5,228.7 331.1,227.4 332.6,225.7 334.2,224.1 335.8,222.7 337.4,221.7 339.0,221.6 340.6,222.3 342.2,223.6 343.8,225.2 345.4,226.9 346.9,228.3 348.5,229.4 350.1,229.0 351.7,227.8 353.3,226.2 354.9,224.6 356.5,223.1 358.1,222.0 359.7,221.5 361.2,222.0 362.8,223.2 364.4,224.7 366.0,226.4 367.6,227.9 369.2,229.1 370.8,229.3 372.4,228.2 373.9,226.7 375.5,225.1 377.1,223.5 378.7,222.2 380.3,221.5 381.9,221.7 383.5,222.5 385.1,223.9 386.7,225.5 388.2,227.2 389.8,228.5 391.4,229.5 393.0,228.8 394.6,227.6" fill="none" stroke="#cfcfcf" stroke-width="0.9" stroke-opacity="0.41" stroke-dasharray="8.2,4.9,3.0,1.1,8.5,1.9,3.1,1.3,8.7,3.2,9.4,4.1,6.4,2.4,5.4,1.7,9.5,2.6,6.3,2.6,6.8,4.4,7.5,3.0,7.7,4.1,7.3,3.1,4.3,1.6,7.7,3.9,8.8,2.1,6.0,1.0,7.1,3.2,4.8,3.7"/><polyline points="283.4,258.6 285.0,258.7 286.6,260.7 288.2,263.2 289.8,266.1 291.3,268.8 292.9,270.8 294.5,271.9 296.1,271.5 297.7,269.8 299.3,267.4 300.9,264.6 302.5,261.8 304.1,259.5 305.6,258.0 307.2,259.5 308.8,261.8 310.4,264.6 312.0,267.4 313.6,269.8 315.2,271.5 316.8,271.9 318.3,271.5 319.9,269.8 321.5,267.4 323.1,264.6 324.7,261.8 326.3,259.5 327.9,258.0 329.5,259.5 331.1,261.8 332.6,264.6 334.2,267.4 335.8,269.8 337.4,271.5 339.0,271.7 340.6,270.4 342.2,268.2 343.8,265.4 345.4,262.6 346.9,260.1 348.5,258.4 350.1,259.0 351.7,261.1 353.3,263.7 354.9,266.6 356.5,269.2 358.1,271.1 359.7,271.9 361.2,270.9 362.8,268.9 364.4,266.3 366.0,263.4 367.6,260.8 369.2,258.8 370.8,258.5 372.4,260.4 373.9,262.9 375.5,265.7 377.1,268.4 378.7,270.6 380.3,271.8 381.9,271.6 383.5,270.1 385.1,267.8 386.7,265.0 388.2,262.2 389.8,259.8 391.4,258.2 393.0,259.3 394.6,261.5" fill="none" stroke="#c0c0c0" stroke-width="1.2" stroke-opacity="0.50" stroke-dasharray="6.7,3.2,5.6,1.8,7.2,3.6,5.8,3.6,7.5,2.0,8.7,2.3,5.6,3.1,8.6,3.0,7.0,3.2,7.7,1.5,11.0,1.8,10.8,2.9,5.7,3.7,3.2,3.6,11.6,1.9,7.0,3.6,3.3,3.9,7.9,2.7,11.1,3.9,5.4,3.2"/><polyline points="283.4,261.2 285.0,261.3 286.6,263.3 288.2,265.8 289.8,268.7 291.3,271.4 292.9,273.4 294.5,274.5 296.1,274.1 297.7,272.4 299.3,270.0 300.9,267.2 302.5,264.4 304.1,262.1 305.6,260.6 307.2,262.1 308.8,264.4 310.4,267.2 312.0,270.0 313.6,272.4 315.2,274.1 316.8,274.5 318.3,274.1 319.9,272.4 321.5,270.0 323.1,267.2 324.7,264.4 326.3,262.1 327.9,260.6 329.5,262.1 331.1,264.4 332.6,267.2 334.2,270.0 335.8,272.4 337.4,274.1 339.0,274.3 340.6,273.0 342.2,270.8 343.8,268.0 345.4,265.2 346.9,262.7 348.5,261.0 350.1,261.6 351.7,263.7 353.3,266.3 354.9,269.2 356.5,271.8 358.1,273.7 359.7,274.5 361.2,273.5 362.8,271.5 364.4,268.9 366.0,266.0 367.6,263.4 369.2,261.4 370.8,261.1 372.4,263.0 373.9,265.5 375.5,268.3 377.1,271.0 378.7,273.2 380.3,274.4 381.9,274.2 383.5,272.7 385.1,270.4 386.7,267.6 388.2,264.8 389.8,262.4 391.4,260.8 393.0,261.9 394.6,264.1" fill="none" stroke="#eeeeee" stroke-width="1.5" stroke-opacity="0.46" stroke-dasharray="7.3,2.6,9.9,2.7,5.2,2.0,4.6,2.1,6.1,3.6,4.9,1.6,6.0,2.6,10.6,2.4,6.6,3.4,3.7,2.3,8.3,1.4,5.5,3.6,9.4,2.0,11.6,2.5,8.0,3.0,11.0,1.9,4.2,2.2,10.3,3.7,8.0,2.4,11.5,2.0"/><polyline points="283.4,263.8 285.0,263.9 286.6,265.9 288.2,268.4 289.8,271.3 291.3,274.0 292.9,276.0 294.5,277.1 296.1,276.7 297.7,275.0 299.3,272.6 300.9,269.8 302.5,267.0 304.1,264.7 305.6,263.2 307.2,264.7 308.8,267.0 310.4,269.8 312.0,272.6 313.6,275.0 315.2,276.7 316.8,277.1 318.3,276.7 319.9,275.0 321.5,272.6 323.1,269.8 324.7,267.0 326.3,264.7 327.9,263.2 329.5,264.7 331.1,267.0 332.6,269.8 334.2,272.6 335.8,275.0 337.4,276.7 339.0,276.9 340.6,275.6 342.2,273.4 343.8,270.6 345.4,267.8 346.9,265.3 348.5,263.6 350.1,264.2 351.7,266.3 353.3,268.9 354.9,271.8 356.5,274.4 358.1,276.3 359.7,277.1 361.2,276.1 362.8,274.1 364.4,271.5 366.0,268.6 367.6,266.0 369.2,264.0 370.8,263.7 372.4,265.6 373.9,268.1 375.5,270.9 377.1,273.6 378.7,275.8 380.3,277.0 381.9,276.8 383.5,275.3 385.1,273.0 386.7,270.2 388.2,267.4 389.8,265.0 391.4,263.4 393.0,264.5 394.6,266.7" fill="none" stroke="#eeeeee" stroke-width="1.3" stroke-opacity="0.57" stroke-dasharray="3.7,1.2,10.6,3.3,5.1,3.3,5.6,2.5,5.9,1.6,9.9,2.6,8.6,2.1,7.9,2.3,9.4,2.0,3.3,3.2,9.5,3.1,11.5,2.8,3.5,3.5,10.0,3.7,8.3,3.2,8.9,2.1,6.8,2.0,4.9,1.8,8.2,2.6,9.8,1.7"/><polyline points="283.4,266.4 285.0,266.5 286.6,268.5 288.2,271.0 289.8,273.9 291.3,276.6 292.9,278.6 294.5,279.7 296.1,279.3 297.7,277.6 299.3,275.2 300.9,272.4 302.5,269.6 304.1,267.3 305.6,265.8 307.2,267.3 308.8,269.6 310.4,272.4 312.0,275.2 313.6,277.6 315.2,279.3 316.8,279.7 318.3,279.3 319.9,277.6 321.5,275.2 323.1,272.4 324.7,269.6 326.3,267.3 327.9,265.8 329.5,267.3 331.1,269.6 332.6,272.4 334.2,275.2 335.8,277.6 337.4,279.3 339.0,279.5 340.6,278.2 342.2,276.0 343.8,273.2 345.4,270.4 346.9,267.9 348.5,266.2 350.1,266.8 351.7,268.9 353.3,271.5 354.9,274.4 356.5,277.0 358.1,278.9 359.7,279.7 361.2,278.7 362.8,276.7 364.4,274.1 366.0,271.2 367.6,268.6 369.2,266.6 370.8,266.3 372.4,268.2 373.9,270.7 375.5,273.5 377.1,276.2 378.7,278.4 380.3,279.6 381.9,279.4 383.5,277.9 385.1,275.6 386.7,272.8 388.2,270.0 389.8,267.6 391.4,266.0 393.0,267.1 394.6,269.3" fill="none" stroke="#c0c0c0" stroke-width="1.4" stroke-opacity="0.47" stroke-dasharray="3.1,2.5,5.2,1.5,11.8,2.7,11.8,1.6,9.7,2.0,8.4,1.1,4.1,1.5,7.9,3.2,3.6,2.0,11.6,2.6,6.8,3.9,9.6,2.3,6.2,3.2,7.8,1.5,6.4,3.5,4.6,3.1,11.1,2.1,4.4,3.6,3.0,3.2,8.9,1.6"/><clipPath id="cv8"><polygon points="283.4,244.6 285.0,243.9 286.6,240.7 288.2,239.2 289.8,237.6 291.3,236.0 292.9,234.8 294.5,234.2 296.1,234.4 297.7,235.4 299.3,236.8 300.9,238.4 302.5,240.1 304.1,241.4 305.6,249.2 307.2,241.4 308.8,240.1 310.4,238.4 312.0,236.8 313.6,235.4 315.2,234.4 316.8,234.2 318.3,234.4 319.9,235.4 321.5,236.8 323.1,238.4 324.7,240.1 326.3,241.4 327.9,249.2 329.5,241.4 331.1,240.1 332.6,238.4 334.2,236.8 335.8,235.4 337.4,234.4 339.0,234.3 340.6,235.0 342.2,236.3 343.8,237.9 345.4,239.6 346.9,241.0 348.5,246.3 350.1,242.0 351.7,240.5 353.3,238.9 354.9,237.3 356.5,235.8 358.1,234.7 359.7,234.2 361.2,234.7 362.8,235.9 364.4,237.4 366.0,239.1 367.6,240.6 369.2,243.2 370.8,245.3 372.4,240.9 373.9,239.4 375.5,237.8 377.1,236.2 378.7,234.9 380.3,234.2 381.9,234.4 383.5,235.2 385.1,236.6 386.7,238.2 388.2,239.9 389.8,241.2 391.4,248.0 393.0,241.5 394.6,240.3 394.6,257.3 393.0,255.1 391.4,248.2 389.8,255.6 388.2,258.0 386.7,260.8 385.1,263.6 383.5,265.9 381.9,267.4 380.3,267.6 378.7,266.4 377.1,264.2 375.5,261.5 373.9,258.7 372.4,256.2 370.8,251.0 369.2,253.2 367.6,256.6 366.0,259.2 364.4,262.1 362.8,264.7 361.2,266.7 359.7,267.7 358.1,266.9 356.5,265.0 354.9,262.4 353.3,259.5 351.7,256.9 350.1,254.4 348.5,249.9 346.9,255.9 345.4,258.4 343.8,261.2 342.2,264.0 340.6,266.2 339.0,267.5 337.4,267.3 335.8,265.6 334.2,263.2 332.6,260.4 331.1,257.6 329.5,255.3 327.9,246.8 326.3,255.3 324.7,257.6 323.1,260.4 321.5,263.2 319.9,265.6 318.3,267.3 316.8,267.7 315.2,267.3 313.6,265.6 312.0,263.2 310.4,260.4 308.8,257.6 307.2,255.3 305.6,246.8 304.1,255.3 302.5,257.6 300.9,260.4 299.3,263.2 297.7,265.6 296.1,267.3 294.5,267.7 292.9,266.6 291.3,264.6 289.8,261.9 288.2,259.0 286.6,256.5 285.0,252.5 283.4,251.7"/></clipPath><rect x="283.4" y="220.2" width="111.20000000000005" height="58.0" fill="#000" filter="url(#nc8)" clip-path="url(#cv8)" opacity="0.92"/><polyline points="283.4,240.7 285.0,240.7 286.6,239.5 288.2,238.0 289.8,236.4 291.3,234.8 292.9,233.6 294.5,233.0 296.1,233.2 297.7,234.2 299.3,235.6 300.9,237.2 302.5,238.9 304.1,240.2 305.6,241.1 307.2,240.2 308.8,238.9 310.4,237.2 312.0,235.6 313.6,234.2 315.2,233.2 316.8,233.0 318.3,233.2 319.9,234.2 321.5,235.6 323.1,237.2 324.7,238.9 326.3,240.2 327.9,241.1 329.5,240.2 331.1,238.9 332.6,237.2 334.2,235.6 335.8,234.2 337.4,233.2 339.0,233.1 340.6,233.8 342.2,235.1 343.8,236.7 345.4,238.4 346.9,239.8 348.5,240.9 350.1,240.5 351.7,239.3 353.3,237.7 354.9,236.1 356.5,234.6 358.1,233.5 359.7,233.0 361.2,233.5 362.8,234.7 364.4,236.2 366.0,237.9 367.6,239.4 369.2,240.6 370.8,240.8 372.4,239.7 373.9,238.2 375.5,236.6 377.1,235.0 378.7,233.7 380.3,233.0 381.9,233.2 383.5,234.0 385.1,235.4 386.7,237.0 388.2,238.7 389.8,240.0 391.4,241.0 393.0,240.3 394.6,239.1" fill="none" stroke="#f4f4f4" stroke-width="2.2" stroke-opacity="0.8" stroke-dasharray="9.6,1.3,13.6,1.6,19.1,1.7,14.9,2.1,8.3,2.1,7.2,2.2,7.1,1.2,6.3,1.1,10.2,0.9,18.1,1.9,10.4,2.3,8.7,1.0,15.0,0.9,18.1,1.6,11.6,1.9,8.5,2.3,6.9,1.6,15.8,0.8,19.8,1.7,17.8,1.5"/><polyline points="283.4,255.6 285.0,255.7 286.6,257.7 288.2,260.2 289.8,263.1 291.3,265.8 292.9,267.8 294.5,268.9 296.1,268.5 297.7,266.8 299.3,264.4 300.9,261.6 302.5,258.8 304.1,256.5 305.6,255.0 307.2,256.5 308.8,258.8 310.4,261.6 312.0,264.4 313.6,266.8 315.2,268.5 316.8,268.9 318.3,268.5 319.9,266.8 321.5,264.4 323.1,261.6 324.7,258.8 326.3,256.5 327.9,255.0 329.5,256.5 331.1,258.8 332.6,261.6 334.2,264.4 335.8,266.8 337.4,268.5 339.0,268.7 340.6,267.4 342.2,265.2 343.8,262.4 345.4,259.6 346.9,257.1 348.5,255.4 350.1,256.0 351.7,258.1 353.3,260.7 354.9,263.6 356.5,266.2 358.1,268.1 359.7,268.9 361.2,267.9 362.8,265.9 364.4,263.3 366.0,260.4 367.6,257.8 369.2,255.8 370.8,255.5 372.4,257.4 373.9,259.9 375.5,262.7 377.1,265.4 378.7,267.6 380.3,268.8 381.9,268.6 383.5,267.1 385.1,264.8 386.7,262.0 388.2,259.2 389.8,256.8 391.4,255.2 393.0,256.3 394.6,258.5" fill="none" stroke="#f4f4f4" stroke-width="2.3" stroke-opacity="0.8" stroke-dasharray="12.0,1.7,19.5,1.6,15.9,1.5,9.8,2.3,19.6,0.8,19.9,2.5,12.7,1.3,15.1,2.3,18.9,2.2,18.1,1.7,7.7,2.4,11.2,1.5,12.1,1.2,18.7,0.8,12.5,0.9,16.0,0.8,17.7,1.8,12.4,2.2,12.3,1.4,16.5,1.1"/><polyline points="283.4,258.4 285.0,258.5 286.6,260.5 288.2,263.0 289.8,265.9 291.3,268.6 292.9,270.6 294.5,271.7 296.1,271.3 297.7,269.6 299.3,267.2 300.9,264.4 302.5,261.6 304.1,259.3 305.6,257.8 307.2,259.3 308.8,261.6 310.4,264.4 312.0,267.2 313.6,269.6 315.2,271.3 316.8,271.7 318.3,271.3 319.9,269.6 321.5,267.2 323.1,264.4 324.7,261.6 326.3,259.3 327.9,257.8 329.5,259.3 331.1,261.6 332.6,264.4 334.2,267.2 335.8,269.6 337.4,271.3 339.0,271.5 340.6,270.2 342.2,268.0 343.8,265.2 345.4,262.4 346.9,259.9 348.5,258.2 350.1,258.8 351.7,260.9 353.3,263.5 354.9,266.4 356.5,269.0 358.1,270.9 359.7,271.7 361.2,270.7 362.8,268.7 364.4,266.1 366.0,263.2 367.6,260.6 369.2,258.6 370.8,258.3 372.4,260.2 373.9,262.7 375.5,265.5 377.1,268.2 378.7,270.4 380.3,271.6 381.9,271.4 383.5,269.9 385.1,267.6 386.7,264.8 388.2,262.0 389.8,259.6 391.4,258.0 393.0,259.1 394.6,261.3" fill="none" stroke="#e8e8e8" stroke-width="1.3" stroke-opacity="0.56" stroke-dasharray="7.6,1.4,6.7,2.2,7.3,2.0,10.5,2.0,10.6,1.5,9.5,2.6,13.8,2.7,5.3,2.5,13.6,1.3,9.7,2.2,9.8,1.6,6.8,1.2,11.2,1.7,8.5,2.4,6.9,1.6,5.9,2.3,7.1,2.5,12.5,2.8,7.8,2.5,12.4,1.3"/><polygon points="283.4,274.8 285.0,274.2 286.6,275.0 288.2,274.1 289.8,272.9 291.3,273.2 292.9,273.3 294.5,272.4 296.1,272.7 297.7,272.0 299.3,272.8 300.9,272.6 302.5,273.9 304.1,274.7 305.6,273.9 307.2,275.2 308.8,274.6 310.4,273.3 312.0,273.2 313.6,272.5 315.2,272.3 316.8,272.7 318.3,272.6 319.9,272.5 321.5,272.7 323.1,273.0 324.7,273.9 326.3,273.6 327.9,275.2 329.5,274.4 331.1,274.4 332.6,273.0 334.2,272.5 335.8,272.8 337.4,272.9 339.0,272.0 340.6,271.7 342.2,273.0 343.8,273.5 345.4,272.9 346.9,274.3 348.5,274.3 350.1,273.9 351.7,275.0 353.3,274.1 354.9,273.6 356.5,273.3 358.1,272.8 359.7,272.2 361.2,271.8 362.8,272.3 364.4,272.8 366.0,272.9 367.6,273.3 369.2,273.5 370.8,274.8 372.4,274.0 373.9,273.6 375.5,273.3 377.1,273.8 378.7,272.0 380.3,272.6 381.9,271.9 383.5,272.9 385.1,272.9 386.7,272.9 388.2,273.7 389.8,273.5 391.4,274.9 393.0,273.9 394.6,274.3 394.6,278.2 283.4,278.2" fill="#f6f6f6" fill-opacity="0.95"/><clipPath id="cb8"><polygon points="283.4,274.8 285.0,274.2 286.6,275.0 288.2,274.1 289.8,272.9 291.3,273.2 292.9,273.3 294.5,272.4 296.1,272.7 297.7,272.0 299.3,272.8 300.9,272.6 302.5,273.9 304.1,274.7 305.6,273.9 307.2,275.2 308.8,274.6 310.4,273.3 312.0,273.2 313.6,272.5 315.2,272.3 316.8,272.7 318.3,272.6 319.9,272.5 321.5,272.7 323.1,273.0 324.7,273.9 326.3,273.6 327.9,275.2 329.5,274.4 331.1,274.4 332.6,273.0 334.2,272.5 335.8,272.8 337.4,272.9 339.0,272.0 340.6,271.7 342.2,273.0 343.8,273.5 345.4,272.9 346.9,274.3 348.5,274.3 350.1,273.9 351.7,275.0 353.3,274.1 354.9,273.6 356.5,273.3 358.1,272.8 359.7,272.2 361.2,271.8 362.8,272.3 364.4,272.8 366.0,272.9 367.6,273.3 369.2,273.5 370.8,274.8 372.4,274.0 373.9,273.6 375.5,273.3 377.1,273.8 378.7,272.0 380.3,272.6 381.9,271.9 383.5,272.9 385.1,272.9 386.7,272.9 388.2,273.7 389.8,273.5 391.4,274.9 393.0,273.9 394.6,274.3 394.6,278.2 283.4,278.2"/></clipPath><rect x="283.4" y="220.2" width="111.20000000000005" height="58.0" fill="#000" filter="url(#nb8)" clip-path="url(#cb8)" opacity="0.22"/><rect x="283.4" y="220.2" width="111.20000000000005" height="2.2" fill="#e4e4e4" fill-opacity="0.85"/></g></g><rect x="283.9" y="220.7" width="110.20000000000005" height="57.0" fill="none" stroke="#666666" stroke-width="1"/><text x="446.00" y="214.20" font-size="8.5" fill="#a8283f" stroke="#a8283f" stroke-width="0.15" textLength="23.70" lengthAdjust="spacingAndGlyphs" >Cfz D0</text><clipPath id="c9"><rect x="401" y="222" width="111" height="55.69999999999999"/></clipPath><filter id="nu9" x="0" y="0" width="100%" height="100%" color-interpolation-filters="sRGB"><feTurbulence type="fractalNoise" baseFrequency="0.12 0.6" numOctaves="3" seed="12"/><feColorMatrix type="matrix" values="1.833 0 0 0 -0.728  1.833 0 0 0 -0.728  1.833 0 0 0 -0.728  0 0 0 0 1"/><feGaussianBlur stdDeviation="0.3"/></filter><filter id="nc9" x="0" y="0" width="100%" height="100%" color-interpolation-filters="sRGB"><feTurbulence type="fractalNoise" baseFrequency="0.3 0.5" numOctaves="2" seed="32"/><feColorMatrix type="matrix" values="0.333 0 0 0 -0.073  0.333 0 0 0 -0.073  0.333 0 0 0 -0.073  0 0 0 0 1"/></filter><filter id="nb9" x="0" y="0" width="100%" height="100%" color-interpolation-filters="sRGB"><feTurbulence type="fractalNoise" baseFrequency="0.3 0.6" numOctaves="2" seed="52"/><feColorMatrix type="matrix" values="3.000 0 0 0 -0.716  3.000 0 0 0 -0.716  3.000 0 0 0 -0.716  0 0 0 0 1"/><feGaussianBlur stdDeviation="0.3"/></filter><filter id="bl9" x="0" y="0" width="100%" height="100%"><feGaussianBlur stdDeviation="0.35"/></filter><g clip-path="url(#c9)"><g filter="url(#bl9)"><rect x="401" y="222" width="111" height="55.69999999999999" fill="#000" filter="url(#nu9)"/><filter id="nl9" x="0" y="0" width="100%" height="100%" color-interpolation-filters="sRGB"><feTurbulence type="fractalNoise" baseFrequency="0.22 0.5" numOctaves="3" seed="72"/><feColorMatrix type="matrix" values="2.000 0 0 0 -0.690  2.000 0 0 0 -0.690  2.000 0 0 0 -0.690  0 0 0 0 1"/><feGaussianBlur stdDeviation="0.35"/></filter><clipPath id="cl9"><polygon points="401.0,256.2 402.6,255.6 404.2,257.2 405.8,259.5 407.3,262.0 408.9,264.4 410.5,266.4 412.1,267.5 413.7,267.2 415.3,265.9 416.9,263.7 418.4,261.2 420.0,258.7 421.6,256.7 423.2,255.3 424.8,256.7 426.4,258.7 428.0,261.2 429.5,263.7 431.1,265.9 432.7,267.2 434.3,267.6 435.9,266.9 437.5,265.2 439.1,262.9 440.6,260.3 442.2,257.9 443.8,256.1 445.4,255.7 447.0,257.3 448.6,259.6 450.2,262.1 451.7,264.6 453.3,266.5 454.9,267.5 456.5,266.8 458.1,265.1 459.7,262.8 461.3,260.2 462.8,257.8 464.4,256.0 466.0,255.8 467.6,257.4 469.2,259.7 470.8,262.3 472.4,264.7 473.9,266.5 475.5,267.5 477.1,267.2 478.7,265.7 480.3,263.5 481.9,261.0 483.5,258.5 485.0,256.5 486.6,255.4 488.2,256.9 489.8,259.0 491.4,261.5 493.0,264.0 494.6,266.1 496.1,267.3 497.7,267.4 499.3,266.2 500.9,264.2 502.5,261.7 504.1,259.2 505.7,257.0 507.2,255.5 508.8,256.3 510.4,258.3 512.0,260.7 512.0,277.7 401.0,277.7"/></clipPath><rect x="401" y="222" width="111" height="55.69999999999999" fill="#000" filter="url(#nl9)" clip-path="url(#cl9)"/><polyline points="401.0,236.4 402.6,236.7 404.2,235.9 405.8,234.8 407.3,233.5 408.9,232.3 410.5,231.3 412.1,230.8 413.7,230.9 415.3,231.6 416.9,232.7 418.4,233.9 420.0,235.2 421.6,236.2 423.2,236.9 424.8,236.2 426.4,235.2 428.0,233.9 429.5,232.7 431.1,231.6 432.7,230.9 434.3,230.8 435.9,231.1 437.5,231.9 439.1,233.1 440.6,234.4 442.2,235.6 443.8,236.5 445.4,236.7 447.0,235.9 448.6,234.7 450.2,233.5 451.7,232.3 453.3,231.3 454.9,230.8 456.5,231.1 458.1,232.0 459.7,233.2 461.3,234.4 462.8,235.6 464.4,236.5 466.0,236.7 467.6,235.8 469.2,234.7 470.8,233.4 472.4,232.2 473.9,231.3 475.5,230.8 477.1,231.0 478.7,231.7 480.3,232.8 481.9,234.1 483.5,235.3 485.0,236.3 486.6,236.8 488.2,236.1 489.8,235.0 491.4,233.8 493.0,232.5 494.6,231.5 496.1,230.9 497.7,230.8 499.3,231.4 500.9,232.4 502.5,233.7 504.1,234.9 505.7,236.0 507.2,236.8 508.8,236.4 510.4,235.4 512.0,234.2" fill="none" stroke="#cfcfcf" stroke-width="1.2" stroke-opacity="0.46" stroke-dasharray="5.2,4.8,4.6,4.1,8.9,2.4,4.6,2.5,8.9,3.1,8.4,3.3,7.0,3.4,3.8,3.7,3.5,2.9,7.8,4.1,6.4,1.9,9.1,1.5,7.8,1.4,9.6,1.0,7.0,3.0,9.5,3.2,3.3,4.4,8.0,4.8,8.4,1.2,3.7,1.6"/><polyline points="401.0,232.4 402.6,232.7 404.2,231.9 405.8,230.8 407.3,229.5 408.9,228.3 410.5,227.3 412.1,226.8 413.7,226.9 415.3,227.6 416.9,228.7 418.4,229.9 420.0,231.2 421.6,232.2 423.2,232.9 424.8,232.2 426.4,231.2 428.0,229.9 429.5,228.7 431.1,227.6 432.7,226.9 434.3,226.8 435.9,227.1 437.5,227.9 439.1,229.1 440.6,230.4 442.2,231.6 443.8,232.5 445.4,232.7 447.0,231.9 448.6,230.7 450.2,229.5 451.7,228.3 453.3,227.3 454.9,226.8 456.5,227.1 458.1,228.0 459.7,229.2 461.3,230.4 462.8,231.6 464.4,232.5 466.0,232.7 467.6,231.8 469.2,230.7 470.8,229.4 472.4,228.2 473.9,227.3 475.5,226.8 477.1,227.0 478.7,227.7 480.3,228.8 481.9,230.1 483.5,231.3 485.0,232.3 486.6,232.8 488.2,232.1 489.8,231.0 491.4,229.8 493.0,228.5 494.6,227.5 496.1,226.9 497.7,226.8 499.3,227.4 500.9,228.4 502.5,229.7 504.1,230.9 505.7,232.0 507.2,232.8 508.8,232.4 510.4,231.4 512.0,230.2" fill="none" stroke="#cfcfcf" stroke-width="1.0" stroke-opacity="0.39" stroke-dasharray="4.2,2.0,5.5,3.9,8.7,4.1,4.0,2.8,4.1,4.0,5.2,4.9,8.8,4.5,5.4,4.8,8.4,1.5,9.8,1.5,9.9,2.2,4.8,3.1,3.3,4.0,8.2,1.3,8.3,3.0,6.5,3.1,8.1,4.9,7.2,1.9,8.1,2.7,6.1,2.4"/><polyline points="401.0,228.4 402.6,228.7 404.2,227.9 405.8,226.8 407.3,225.5 408.9,224.3 410.5,223.3 412.1,222.8 413.7,222.9 415.3,223.6 416.9,224.7 418.4,225.9 420.0,227.2 421.6,228.2 423.2,228.9 424.8,228.2 426.4,227.2 428.0,225.9 429.5,224.7 431.1,223.6 432.7,222.9 434.3,222.8 435.9,223.1 437.5,223.9 439.1,225.1 440.6,226.4 442.2,227.6 443.8,228.5 445.4,228.7 447.0,227.9 448.6,226.7 450.2,225.5 451.7,224.3 453.3,223.3 454.9,222.8 456.5,223.1 458.1,224.0 459.7,225.2 461.3,226.4 462.8,227.6 464.4,228.5 466.0,228.7 467.6,227.8 469.2,226.7 470.8,225.4 472.4,224.2 473.9,223.3 475.5,222.8 477.1,223.0 478.7,223.7 480.3,224.8 481.9,226.1 483.5,227.3 485.0,228.3 486.6,228.8 488.2,228.1 489.8,227.0 491.4,225.8 493.0,224.5 494.6,223.5 496.1,222.9 497.7,222.8 499.3,223.4 500.9,224.4 502.5,225.7 504.1,226.9 505.7,228.0 507.2,228.8 508.8,228.4 510.4,227.4 512.0,226.2" fill="none" stroke="#e0e0e0" stroke-width="1.2" stroke-opacity="0.30" stroke-dasharray="7.9,3.5,6.4,2.0,6.3,4.4,9.3,3.0,6.3,2.0,4.5,1.8,5.3,2.4,9.1,3.4,7.1,1.5,7.2,4.7,3.1,1.5,7.0,4.8,3.4,1.7,4.8,3.2,3.5,1.1,3.0,3.3,3.6,4.5,4.0,1.1,4.5,2.5,4.0,4.8"/><polyline points="401.0,258.2 402.6,257.6 404.2,259.2 405.8,261.5 407.3,264.0 408.9,266.4 410.5,268.4 412.1,269.5 413.7,269.2 415.3,267.9 416.9,265.7 418.4,263.2 420.0,260.7 421.6,258.7 423.2,257.3 424.8,258.7 426.4,260.7 428.0,263.2 429.5,265.7 431.1,267.9 432.7,269.2 434.3,269.6 435.9,268.9 437.5,267.2 439.1,264.9 440.6,262.3 442.2,259.9 443.8,258.1 445.4,257.7 447.0,259.3 448.6,261.6 450.2,264.1 451.7,266.6 453.3,268.5 454.9,269.5 456.5,268.8 458.1,267.1 459.7,264.8 461.3,262.2 462.8,259.8 464.4,258.0 466.0,257.8 467.6,259.4 469.2,261.7 470.8,264.3 472.4,266.7 473.9,268.5 475.5,269.5 477.1,269.2 478.7,267.7 480.3,265.5 481.9,263.0 483.5,260.5 485.0,258.5 486.6,257.4 488.2,258.9 489.8,261.0 491.4,263.5 493.0,266.0 494.6,268.1 496.1,269.3 497.7,269.4 499.3,268.2 500.9,266.2 502.5,263.7 504.1,261.2 505.7,259.0 507.2,257.5 508.8,258.3 510.4,260.3 512.0,262.7" fill="none" stroke="#c0c0c0" stroke-width="1.0" stroke-opacity="0.52" stroke-dasharray="3.7,3.3,5.0,4.0,10.8,3.6,4.5,2.6,3.3,2.4,4.0,3.3,11.3,1.7,10.2,3.3,10.1,3.2,7.2,1.5,3.6,2.4,4.9,1.1,3.7,2.8,7.4,2.1,9.0,2.3,7.5,3.7,7.8,3.1,9.1,2.3,12.0,2.0,6.0,1.8"/><polyline points="401.0,260.8 402.6,260.2 404.2,261.8 405.8,264.1 407.3,266.6 408.9,269.0 410.5,271.0 412.1,272.1 413.7,271.8 415.3,270.5 416.9,268.3 418.4,265.8 420.0,263.3 421.6,261.3 423.2,259.9 424.8,261.3 426.4,263.3 428.0,265.8 429.5,268.3 431.1,270.5 432.7,271.8 434.3,272.2 435.9,271.5 437.5,269.8 439.1,267.5 440.6,264.9 442.2,262.5 443.8,260.7 445.4,260.3 447.0,261.9 448.6,264.2 450.2,266.7 451.7,269.2 453.3,271.1 454.9,272.1 456.5,271.4 458.1,269.7 459.7,267.4 461.3,264.8 462.8,262.4 464.4,260.6 466.0,260.4 467.6,262.0 469.2,264.3 470.8,266.9 472.4,269.3 473.9,271.1 475.5,272.1 477.1,271.8 478.7,270.3 480.3,268.1 481.9,265.6 483.5,263.1 485.0,261.1 486.6,260.0 488.2,261.5 489.8,263.6 491.4,266.1 493.0,268.6 494.6,270.7 496.1,271.9 497.7,272.0 499.3,270.8 500.9,268.8 502.5,266.3 504.1,263.8 505.7,261.6 507.2,260.1 508.8,260.9 510.4,262.9 512.0,265.3" fill="none" stroke="#c0c0c0" stroke-width="1.4" stroke-opacity="0.44" stroke-dasharray="7.4,2.9,9.7,2.3,10.8,1.8,4.4,2.8,10.8,3.4,11.6,1.4,3.1,3.1,7.5,2.5,4.1,1.3,4.7,3.8,5.1,1.4,5.3,3.4,11.2,1.1,7.6,1.9,12.0,2.9,3.2,1.8,9.8,3.0,10.8,3.2,4.0,3.9,5.0,2.6"/><polyline points="401.0,263.4 402.6,262.8 404.2,264.4 405.8,266.7 407.3,269.2 408.9,271.6 410.5,273.6 412.1,274.7 413.7,274.4 415.3,273.1 416.9,270.9 418.4,268.4 420.0,265.9 421.6,263.9 423.2,262.5 424.8,263.9 426.4,265.9 428.0,268.4 429.5,270.9 431.1,273.1 432.7,274.4 434.3,274.8 435.9,274.1 437.5,272.4 439.1,270.1 440.6,267.5 442.2,265.1 443.8,263.3 445.4,262.9 447.0,264.5 448.6,266.8 450.2,269.3 451.7,271.8 453.3,273.7 454.9,274.7 456.5,274.0 458.1,272.3 459.7,270.0 461.3,267.4 462.8,265.0 464.4,263.2 466.0,263.0 467.6,264.6 469.2,266.9 470.8,269.5 472.4,271.9 473.9,273.7 475.5,274.7 477.1,274.4 478.7,272.9 480.3,270.7 481.9,268.2 483.5,265.7 485.0,263.7 486.6,262.6 488.2,264.1 489.8,266.2 491.4,268.7 493.0,271.2 494.6,273.3 496.1,274.5 497.7,274.6 499.3,273.4 500.9,271.4 502.5,268.9 504.1,266.4 505.7,264.2 507.2,262.7 508.8,263.5 510.4,265.5 512.0,267.9" fill="none" stroke="#c0c0c0" stroke-width="1.3" stroke-opacity="0.43" stroke-dasharray="9.5,1.4,3.6,2.7,10.7,1.5,8.3,3.2,10.9,1.1,7.1,2.7,8.6,1.5,10.3,2.0,7.9,3.6,9.8,2.2,10.3,2.2,7.3,2.7,10.2,2.6,4.7,3.1,9.3,1.4,10.8,2.4,3.9,1.4,5.1,2.6,9.1,1.8,9.3,2.6"/><polyline points="401.0,266.0 402.6,265.4 404.2,267.0 405.8,269.3 407.3,271.8 408.9,274.2 410.5,276.2 412.1,277.3 413.7,277.0 415.3,275.7 416.9,273.5 418.4,271.0 420.0,268.5 421.6,266.5 423.2,265.1 424.8,266.5 426.4,268.5 428.0,271.0 429.5,273.5 431.1,275.7 432.7,277.0 434.3,277.4 435.9,276.7 437.5,275.0 439.1,272.7 440.6,270.1 442.2,267.7 443.8,265.9 445.4,265.5 447.0,267.1 448.6,269.4 450.2,271.9 451.7,274.4 453.3,276.3 454.9,277.3 456.5,276.6 458.1,274.9 459.7,272.6 461.3,270.0 462.8,267.6 464.4,265.8 466.0,265.6 467.6,267.2 469.2,269.5 470.8,272.1 472.4,274.5 473.9,276.3 475.5,277.3 477.1,277.0 478.7,275.5 480.3,273.3 481.9,270.8 483.5,268.3 485.0,266.3 486.6,265.2 488.2,266.7 489.8,268.8 491.4,271.3 493.0,273.8 494.6,275.9 496.1,277.1 497.7,277.2 499.3,276.0 500.9,274.0 502.5,271.5 504.1,269.0 505.7,266.8 507.2,265.3 508.8,266.1 510.4,268.1 512.0,270.5" fill="none" stroke="#c0c0c0" stroke-width="1.1" stroke-opacity="0.40" stroke-dasharray="5.1,3.7,4.4,3.7,4.1,3.8,7.2,3.6,3.4,3.6,10.0,3.0,5.8,1.6,10.3,1.7,10.9,2.2,7.8,2.0,4.8,1.8,3.9,1.9,11.6,1.6,7.2,3.9,8.8,2.2,8.1,1.7,9.9,2.6,6.5,2.3,6.6,2.8,8.9,1.6"/><clipPath id="cv9"><polygon points="401.0,243.2 402.6,246.4 404.2,240.6 405.8,239.5 407.3,238.2 408.9,237.0 410.5,236.0 412.1,235.5 413.7,235.6 415.3,236.3 416.9,237.4 418.4,238.6 420.0,239.9 421.6,240.9 423.2,248.5 424.8,240.9 426.4,239.9 428.0,238.6 429.5,237.4 431.1,236.3 432.7,235.6 434.3,235.5 435.9,235.8 437.5,236.6 439.1,237.8 440.6,239.1 442.2,240.3 443.8,243.6 445.4,246.0 447.0,240.6 448.6,239.4 450.2,238.2 451.7,237.0 453.3,236.0 454.9,235.5 456.5,235.8 458.1,236.7 459.7,237.9 461.3,239.1 462.8,240.3 464.4,244.0 466.0,245.6 467.6,240.5 469.2,239.4 470.8,238.1 472.4,236.9 473.9,236.0 475.5,235.5 477.1,235.7 478.7,236.4 480.3,237.5 481.9,238.8 483.5,240.0 485.0,241.5 486.6,247.8 488.2,240.8 489.8,239.7 491.4,238.5 493.0,237.2 494.6,236.2 496.1,235.6 497.7,235.5 499.3,236.1 500.9,237.1 502.5,238.4 504.1,239.6 505.7,240.7 507.2,247.1 508.8,242.3 510.4,240.1 512.0,238.9 512.0,258.5 510.4,256.1 508.8,252.9 507.2,247.7 505.7,254.8 504.1,257.0 502.5,259.5 500.9,262.0 499.3,264.0 497.7,265.2 496.1,265.1 494.6,263.9 493.0,261.8 491.4,259.3 489.8,256.8 488.2,254.7 486.6,246.9 485.0,253.8 483.5,256.3 481.9,258.8 480.3,261.3 478.7,263.5 477.1,265.0 475.5,265.3 473.9,264.3 472.4,262.5 470.8,260.1 469.2,257.5 467.6,255.2 466.0,249.3 464.4,251.0 462.8,255.6 461.3,258.0 459.7,260.6 458.1,262.9 456.5,264.6 454.9,265.3 453.3,264.3 451.7,262.4 450.2,259.9 448.6,257.4 447.0,255.1 445.4,248.9 443.8,251.5 442.2,255.7 440.6,258.1 439.1,260.7 437.5,263.0 435.9,264.7 434.3,265.4 432.7,265.0 431.1,263.7 429.5,261.5 428.0,259.0 426.4,256.5 424.8,254.5 423.2,246.1 421.6,254.5 420.0,256.5 418.4,259.0 416.9,261.5 415.3,263.7 413.7,265.0 412.1,265.3 410.5,264.2 408.9,262.2 407.3,259.8 405.8,257.3 404.2,255.0 402.6,248.5 401.0,251.9"/></clipPath><rect x="401" y="222" width="111" height="55.69999999999999" fill="#000" filter="url(#nc9)" clip-path="url(#cv9)" opacity="0.92"/><polyline points="401.0,239.9 402.6,240.2 404.2,239.4 405.8,238.3 407.3,237.0 408.9,235.8 410.5,234.8 412.1,234.3 413.7,234.4 415.3,235.1 416.9,236.2 418.4,237.4 420.0,238.7 421.6,239.7 423.2,240.4 424.8,239.7 426.4,238.7 428.0,237.4 429.5,236.2 431.1,235.1 432.7,234.4 434.3,234.3 435.9,234.6 437.5,235.4 439.1,236.6 440.6,237.9 442.2,239.1 443.8,240.0 445.4,240.2 447.0,239.4 448.6,238.2 450.2,237.0 451.7,235.8 453.3,234.8 454.9,234.3 456.5,234.6 458.1,235.5 459.7,236.7 461.3,237.9 462.8,239.1 464.4,240.0 466.0,240.2 467.6,239.3 469.2,238.2 470.8,236.9 472.4,235.7 473.9,234.8 475.5,234.3 477.1,234.5 478.7,235.2 480.3,236.3 481.9,237.6 483.5,238.8 485.0,239.8 486.6,240.3 488.2,239.6 489.8,238.5 491.4,237.3 493.0,236.0 494.6,235.0 496.1,234.4 497.7,234.3 499.3,234.9 500.9,235.9 502.5,237.2 504.1,238.4 505.7,239.5 507.2,240.3 508.8,239.9 510.4,238.9 512.0,237.7" fill="none" stroke="#f4f4f4" stroke-width="2.2" stroke-opacity="0.8" stroke-dasharray="10.3,2.2,10.3,1.2,13.9,2.1,19.4,1.3,14.3,1.8,13.3,0.8,10.5,1.9,17.8,1.4,8.1,1.5,19.3,1.7,11.4,1.8,13.2,1.6,6.3,2.2,12.5,1.9,18.9,1.5,12.5,1.1,13.0,2.1,8.1,0.9,19.1,1.5,7.1,1.5"/><polyline points="401.0,255.2 402.6,254.6 404.2,256.2 405.8,258.5 407.3,261.0 408.9,263.4 410.5,265.4 412.1,266.5 413.7,266.2 415.3,264.9 416.9,262.7 418.4,260.2 420.0,257.7 421.6,255.7 423.2,254.3 424.8,255.7 426.4,257.7 428.0,260.2 429.5,262.7 431.1,264.9 432.7,266.2 434.3,266.6 435.9,265.9 437.5,264.2 439.1,261.9 440.6,259.3 442.2,256.9 443.8,255.1 445.4,254.7 447.0,256.3 448.6,258.6 450.2,261.1 451.7,263.6 453.3,265.5 454.9,266.5 456.5,265.8 458.1,264.1 459.7,261.8 461.3,259.2 462.8,256.8 464.4,255.0 466.0,254.8 467.6,256.4 469.2,258.7 470.8,261.3 472.4,263.7 473.9,265.5 475.5,266.5 477.1,266.2 478.7,264.7 480.3,262.5 481.9,260.0 483.5,257.5 485.0,255.5 486.6,254.4 488.2,255.9 489.8,258.0 491.4,260.5 493.0,263.0 494.6,265.1 496.1,266.3 497.7,266.4 499.3,265.2 500.9,263.2 502.5,260.7 504.1,258.2 505.7,256.0 507.2,254.5 508.8,255.3 510.4,257.3 512.0,259.7" fill="none" stroke="#f4f4f4" stroke-width="2.3" stroke-opacity="0.8" stroke-dasharray="19.7,1.0,6.8,1.6,13.0,2.4,6.3,1.4,18.6,1.8,12.7,1.2,8.0,1.8,14.1,1.7,10.8,1.9,10.2,1.2,18.9,1.8,16.6,1.4,6.7,1.3,16.4,1.7,9.0,0.8,11.3,1.3,7.4,2.1,18.3,1.9,11.4,2.0,12.1,1.6"/><polyline points="401.0,258.0 402.6,257.4 404.2,259.0 405.8,261.3 407.3,263.8 408.9,266.2 410.5,268.2 412.1,269.3 413.7,269.0 415.3,267.7 416.9,265.5 418.4,263.0 420.0,260.5 421.6,258.5 423.2,257.1 424.8,258.5 426.4,260.5 428.0,263.0 429.5,265.5 431.1,267.7 432.7,269.0 434.3,269.4 435.9,268.7 437.5,267.0 439.1,264.7 440.6,262.1 442.2,259.7 443.8,257.9 445.4,257.5 447.0,259.1 448.6,261.4 450.2,263.9 451.7,266.4 453.3,268.3 454.9,269.3 456.5,268.6 458.1,266.9 459.7,264.6 461.3,262.0 462.8,259.6 464.4,257.8 466.0,257.6 467.6,259.2 469.2,261.5 470.8,264.1 472.4,266.5 473.9,268.3 475.5,269.3 477.1,269.0 478.7,267.5 480.3,265.3 481.9,262.8 483.5,260.3 485.0,258.3 486.6,257.2 488.2,258.7 489.8,260.8 491.4,263.3 493.0,265.8 494.6,267.9 496.1,269.1 497.7,269.2 499.3,268.0 500.9,266.0 502.5,263.5 504.1,261.0 505.7,258.8 507.2,257.3 508.8,258.1 510.4,260.1 512.0,262.5" fill="none" stroke="#e8e8e8" stroke-width="1.3" stroke-opacity="0.56" stroke-dasharray="14.2,1.7,8.9,2.2,7.1,2.5,13.4,1.2,11.1,2.4,8.5,2.8,8.3,2.4,9.2,1.6,11.6,1.8,6.4,2.4,14.7,1.9,12.7,1.1,8.9,2.0,6.8,1.3,8.8,2.5,7.8,1.6,5.2,2.8,6.0,1.5,11.6,2.9,5.1,1.2"/><polygon points="401.0,271.0 402.6,271.9 404.2,270.6 405.8,271.3 407.3,270.1 408.9,269.3 410.5,269.8 412.1,268.7 413.7,268.4 415.3,269.2 416.9,269.3 418.4,269.3 420.0,270.1 421.6,271.2 423.2,271.5 424.8,270.9 426.4,270.6 428.0,270.2 429.5,270.2 431.1,269.2 432.7,269.9 434.3,268.4 435.9,268.3 437.5,269.5 439.1,270.7 440.6,270.1 442.2,270.7 443.8,271.0 445.4,271.2 447.0,271.8 448.6,271.0 450.2,271.0 451.7,269.1 453.3,269.5 454.9,268.9 456.5,268.6 458.1,269.4 459.7,269.6 461.3,270.1 462.8,270.7 464.4,271.7 466.0,271.7 467.6,271.7 469.2,270.8 470.8,269.6 472.4,270.2 473.9,269.8 475.5,268.7 477.1,268.3 478.7,269.8 480.3,268.8 481.9,269.9 483.5,270.9 485.0,271.2 486.6,272.1 488.2,271.4 489.8,271.8 491.4,270.8 493.0,270.7 494.6,269.2 496.1,268.9 497.7,268.6 499.3,269.2 500.9,269.1 502.5,270.3 504.1,270.9 505.7,271.0 507.2,271.1 508.8,271.3 510.4,270.7 512.0,271.3 512.0,277.7 401.0,277.7" fill="#f6f6f6" fill-opacity="0.95"/><clipPath id="cb9"><polygon points="401.0,271.0 402.6,271.9 404.2,270.6 405.8,271.3 407.3,270.1 408.9,269.3 410.5,269.8 412.1,268.7 413.7,268.4 415.3,269.2 416.9,269.3 418.4,269.3 420.0,270.1 421.6,271.2 423.2,271.5 424.8,270.9 426.4,270.6 428.0,270.2 429.5,270.2 431.1,269.2 432.7,269.9 434.3,268.4 435.9,268.3 437.5,269.5 439.1,270.7 440.6,270.1 442.2,270.7 443.8,271.0 445.4,271.2 447.0,271.8 448.6,271.0 450.2,271.0 451.7,269.1 453.3,269.5 454.9,268.9 456.5,268.6 458.1,269.4 459.7,269.6 461.3,270.1 462.8,270.7 464.4,271.7 466.0,271.7 467.6,271.7 469.2,270.8 470.8,269.6 472.4,270.2 473.9,269.8 475.5,268.7 477.1,268.3 478.7,269.8 480.3,268.8 481.9,269.9 483.5,270.9 485.0,271.2 486.6,272.1 488.2,271.4 489.8,271.8 491.4,270.8 493.0,270.7 494.6,269.2 496.1,268.9 497.7,268.6 499.3,269.2 500.9,269.1 502.5,270.3 504.1,270.9 505.7,271.0 507.2,271.1 508.8,271.3 510.4,270.7 512.0,271.3 512.0,277.7 401.0,277.7"/></clipPath><rect x="401" y="222" width="111" height="55.69999999999999" fill="#000" filter="url(#nb9)" clip-path="url(#cb9)" opacity="0.22"/><rect x="401" y="222" width="111" height="2.2" fill="#e4e4e4" fill-opacity="0.85"/></g></g><rect x="401.5" y="222.5" width="110" height="54.69999999999999" fill="none" stroke="#666666" stroke-width="1"/><text x="325.00" y="292.00" font-size="8.5" fill="#a8283f" stroke="#a8283f" stroke-width="0.15" textLength="27.00" lengthAdjust="spacingAndGlyphs" >Met D0</text><clipPath id="c10"><rect x="283.3" y="294.5" width="111.0" height="58.0"/></clipPath><filter id="nu10" x="0" y="0" width="100%" height="100%" color-interpolation-filters="sRGB"><feTurbulence type="fractalNoise" baseFrequency="0.12 0.6" numOctaves="3" seed="13"/><feColorMatrix type="matrix" values="1.833 0 0 0 -0.783  1.833 0 0 0 -0.783  1.833 0 0 0 -0.783  0 0 0 0 1"/><feGaussianBlur stdDeviation="0.3"/></filter><filter id="nc10" x="0" y="0" width="100%" height="100%" color-interpolation-filters="sRGB"><feTurbulence type="fractalNoise" baseFrequency="0.3 0.5" numOctaves="2" seed="33"/><feColorMatrix type="matrix" values="0.333 0 0 0 -0.073  0.333 0 0 0 -0.073  0.333 0 0 0 -0.073  0 0 0 0 1"/></filter><filter id="nb10" x="0" y="0" width="100%" height="100%" color-interpolation-filters="sRGB"><feTurbulence type="fractalNoise" baseFrequency="0.3 0.6" numOctaves="2" seed="53"/><feColorMatrix type="matrix" values="3.000 0 0 0 -0.716  3.000 0 0 0 -0.716  3.000 0 0 0 -0.716  0 0 0 0 1"/><feGaussianBlur stdDeviation="0.3"/></filter><filter id="bl10" x="0" y="0" width="100%" height="100%"><feGaussianBlur stdDeviation="0.35"/></filter><g clip-path="url(#c10)"><g filter="url(#bl10)"><rect x="283.3" y="294.5" width="111.0" height="58.0" fill="#000" filter="url(#nu10)"/><filter id="nl10" x="0" y="0" width="100%" height="100%" color-interpolation-filters="sRGB"><feTurbulence type="fractalNoise" baseFrequency="0.22 0.5" numOctaves="3" seed="73"/><feColorMatrix type="matrix" values="2.000 0 0 0 -0.749  2.000 0 0 0 -0.749  2.000 0 0 0 -0.749  0 0 0 0 1"/><feGaussianBlur stdDeviation="0.35"/></filter><clipPath id="cl10"><polygon points="283.3,333.8 284.9,335.1 286.5,337.0 288.1,339.4 289.6,341.8 291.2,343.8 292.8,345.1 294.4,345.3 296.0,344.3 297.6,342.4 299.2,340.1 300.7,337.7 302.3,335.6 303.9,334.1 305.5,334.6 307.1,336.4 308.7,338.7 310.3,341.1 311.8,343.2 313.4,344.8 315.0,345.3 316.6,344.2 318.2,342.3 319.8,340.0 321.4,337.6 322.9,335.5 324.5,334.0 326.1,334.7 327.7,336.5 329.3,338.8 330.9,341.2 332.5,343.3 334.0,344.8 335.6,345.4 337.2,345.0 338.8,343.6 340.4,341.5 342.0,339.1 343.6,336.8 345.1,334.9 346.7,333.9 348.3,335.2 349.9,337.3 351.5,339.6 353.1,342.0 354.7,344.0 356.2,345.2 357.8,345.2 359.4,344.1 361.0,342.2 362.6,339.9 364.2,337.5 365.8,335.4 367.3,334.0 368.9,334.8 370.5,336.6 372.1,338.9 373.7,341.3 375.3,343.4 376.9,344.9 378.4,345.4 380.0,344.5 381.6,342.9 383.2,340.6 384.8,338.2 386.4,336.0 388.0,334.3 389.5,334.3 391.1,336.0 392.7,338.2 394.3,340.6 394.3,352.5 283.3,352.5"/></clipPath><rect x="283.3" y="294.5" width="111.0" height="58.0" fill="#000" filter="url(#nl10)" clip-path="url(#cl10)"/><polyline points="283.3,310.1 284.9,309.4 286.5,308.4 288.1,307.1 289.6,305.7 291.2,304.6 292.8,303.9 294.4,303.8 296.0,304.4 297.6,305.4 299.2,306.7 300.7,308.0 302.3,309.1 303.9,310.0 305.5,309.7 307.1,308.7 308.7,307.5 310.3,306.1 311.8,304.9 313.4,304.1 315.0,303.8 316.6,304.4 318.2,305.4 319.8,306.7 321.4,308.0 322.9,309.2 324.5,310.0 326.1,309.6 327.7,308.7 329.3,307.4 330.9,306.1 332.5,304.9 334.0,304.1 335.6,303.8 337.2,304.0 338.8,304.7 340.4,305.9 342.0,307.2 343.6,308.5 345.1,309.5 346.7,310.1 348.3,309.3 349.9,308.2 351.5,306.9 353.1,305.6 354.7,304.5 356.2,303.9 357.8,303.8 359.4,304.5 361.0,305.5 362.6,306.8 364.2,308.1 365.8,309.2 367.3,310.0 368.9,309.6 370.5,308.6 372.1,307.3 373.7,306.0 375.3,304.8 376.9,304.0 378.4,303.8 380.0,304.2 381.6,305.2 383.2,306.4 384.8,307.7 386.4,308.9 388.0,309.8 389.5,309.8 391.1,308.9 392.7,307.7 394.3,306.4" fill="none" stroke="#b0b0b0" stroke-width="1.1" stroke-opacity="0.39" stroke-dasharray="8.5,2.1,8.6,4.5,8.3,1.4,6.7,1.6,8.8,1.3,7.7,2.4,3.3,1.1,9.2,4.2,9.0,1.6,7.3,3.9,6.4,3.7,4.2,1.5,9.1,1.6,6.2,2.7,5.9,2.1,4.1,1.7,7.2,4.9,9.1,1.6,8.5,2.5,9.1,2.2"/><polyline points="283.3,306.1 284.9,305.4 286.5,304.4 288.1,303.1 289.6,301.7 291.2,300.6 292.8,299.9 294.4,299.8 296.0,300.4 297.6,301.4 299.2,302.7 300.7,304.0 302.3,305.1 303.9,306.0 305.5,305.7 307.1,304.7 308.7,303.5 310.3,302.1 311.8,300.9 313.4,300.1 315.0,299.8 316.6,300.4 318.2,301.4 319.8,302.7 321.4,304.0 322.9,305.2 324.5,306.0 326.1,305.6 327.7,304.7 329.3,303.4 330.9,302.1 332.5,300.9 334.0,300.1 335.6,299.8 337.2,300.0 338.8,300.7 340.4,301.9 342.0,303.2 343.6,304.5 345.1,305.5 346.7,306.1 348.3,305.3 349.9,304.2 351.5,302.9 353.1,301.6 354.7,300.5 356.2,299.9 357.8,299.8 359.4,300.5 361.0,301.5 362.6,302.8 364.2,304.1 365.8,305.2 367.3,306.0 368.9,305.6 370.5,304.6 372.1,303.3 373.7,302.0 375.3,300.8 376.9,300.0 378.4,299.8 380.0,300.2 381.6,301.2 383.2,302.4 384.8,303.7 386.4,304.9 388.0,305.8 389.5,305.8 391.1,304.9 392.7,303.7 394.3,302.4" fill="none" stroke="#e0e0e0" stroke-width="1.4" stroke-opacity="0.48" stroke-dasharray="9.1,4.6,7.0,1.2,5.6,3.4,9.5,2.3,3.5,4.8,8.0,4.4,6.4,2.2,5.2,1.6,5.6,3.2,9.7,4.9,6.4,1.9,9.7,1.0,3.5,3.7,7.2,4.9,7.8,4.2,9.2,4.8,9.2,3.0,7.5,4.1,3.2,3.1,5.9,4.2"/><polyline points="283.3,302.1 284.9,301.4 286.5,300.4 288.1,299.1 289.6,297.7 291.2,296.6 292.8,295.9 294.4,295.8 296.0,296.4 297.6,297.4 299.2,298.7 300.7,300.0 302.3,301.1 303.9,302.0 305.5,301.7 307.1,300.7 308.7,299.5 310.3,298.1 311.8,296.9 313.4,296.1 315.0,295.8 316.6,296.4 318.2,297.4 319.8,298.7 321.4,300.0 322.9,301.2 324.5,302.0 326.1,301.6 327.7,300.7 329.3,299.4 330.9,298.1 332.5,296.9 334.0,296.1 335.6,295.8 337.2,296.0 338.8,296.7 340.4,297.9 342.0,299.2 343.6,300.5 345.1,301.5 346.7,302.1 348.3,301.3 349.9,300.2 351.5,298.9 353.1,297.6 354.7,296.5 356.2,295.9 357.8,295.8 359.4,296.5 361.0,297.5 362.6,298.8 364.2,300.1 365.8,301.2 367.3,302.0 368.9,301.6 370.5,300.6 372.1,299.3 373.7,298.0 375.3,296.8 376.9,296.0 378.4,295.8 380.0,296.2 381.6,297.2 383.2,298.4 384.8,299.7 386.4,300.9 388.0,301.8 389.5,301.8 391.1,300.9 392.7,299.7 394.3,298.4" fill="none" stroke="#cfcfcf" stroke-width="1.2" stroke-opacity="0.41" stroke-dasharray="5.5,2.7,9.8,1.7,4.4,3.6,9.6,5.0,7.9,2.6,6.8,3.3,3.5,3.2,5.4,2.3,4.3,3.1,5.8,4.2,7.5,2.6,4.3,3.9,4.4,3.8,3.9,3.6,7.2,4.7,8.7,2.7,8.0,3.8,9.7,2.6,8.7,1.5,6.6,2.2"/><polyline points="283.3,335.8 284.9,337.1 286.5,339.0 288.1,341.4 289.6,343.8 291.2,345.8 292.8,347.1 294.4,347.3 296.0,346.3 297.6,344.4 299.2,342.1 300.7,339.7 302.3,337.6 303.9,336.1 305.5,336.6 307.1,338.4 308.7,340.7 310.3,343.1 311.8,345.2 313.4,346.8 315.0,347.3 316.6,346.2 318.2,344.3 319.8,342.0 321.4,339.6 322.9,337.5 324.5,336.0 326.1,336.7 327.7,338.5 329.3,340.8 330.9,343.2 332.5,345.3 334.0,346.8 335.6,347.4 337.2,347.0 338.8,345.6 340.4,343.5 342.0,341.1 343.6,338.8 345.1,336.9 346.7,335.9 348.3,337.2 349.9,339.3 351.5,341.6 353.1,344.0 354.7,346.0 356.2,347.2 357.8,347.2 359.4,346.1 361.0,344.2 362.6,341.9 364.2,339.5 365.8,337.4 367.3,336.0 368.9,336.8 370.5,338.6 372.1,340.9 373.7,343.3 375.3,345.4 376.9,346.9 378.4,347.4 380.0,346.5 381.6,344.9 383.2,342.6 384.8,340.2 386.4,338.0 388.0,336.3 389.5,336.3 391.1,338.0 392.7,340.2 394.3,342.6" fill="none" stroke="#eeeeee" stroke-width="1.2" stroke-opacity="0.35" stroke-dasharray="10.2,2.1,8.8,1.7,5.3,1.9,5.9,3.6,4.7,1.0,11.7,1.6,11.5,3.0,10.9,2.3,7.2,3.4,7.0,2.4,3.9,2.9,5.4,3.6,5.1,3.6,9.0,3.2,11.0,3.4,4.9,2.5,10.6,2.3,4.0,1.9,10.3,1.1,11.5,1.1"/><polyline points="283.3,338.4 284.9,339.7 286.5,341.6 288.1,344.0 289.6,346.4 291.2,348.4 292.8,349.7 294.4,349.9 296.0,348.9 297.6,347.0 299.2,344.7 300.7,342.3 302.3,340.2 303.9,338.7 305.5,339.2 307.1,341.0 308.7,343.3 310.3,345.7 311.8,347.8 313.4,349.4 315.0,349.9 316.6,348.8 318.2,346.9 319.8,344.6 321.4,342.2 322.9,340.1 324.5,338.6 326.1,339.3 327.7,341.1 329.3,343.4 330.9,345.8 332.5,347.9 334.0,349.4 335.6,350.0 337.2,349.6 338.8,348.2 340.4,346.1 342.0,343.7 343.6,341.4 345.1,339.5 346.7,338.5 348.3,339.8 349.9,341.9 351.5,344.2 353.1,346.6 354.7,348.6 356.2,349.8 357.8,349.8 359.4,348.7 361.0,346.8 362.6,344.5 364.2,342.1 365.8,340.0 367.3,338.6 368.9,339.4 370.5,341.2 372.1,343.5 373.7,345.9 375.3,348.0 376.9,349.5 378.4,350.0 380.0,349.1 381.6,347.5 383.2,345.2 384.8,342.8 386.4,340.6 388.0,338.9 389.5,338.9 391.1,340.6 392.7,342.8 394.3,345.2" fill="none" stroke="#eeeeee" stroke-width="0.9" stroke-opacity="0.41" stroke-dasharray="10.6,2.5,3.8,2.0,10.4,1.6,7.1,2.8,3.2,3.5,5.3,1.1,9.7,3.2,3.3,4.0,6.5,1.0,3.7,1.0,7.6,2.5,4.7,2.3,3.2,3.0,10.6,1.4,8.4,2.2,8.8,2.7,9.3,1.1,6.4,2.4,4.3,3.1,5.0,1.5"/><polyline points="283.3,341.0 284.9,342.3 286.5,344.2 288.1,346.6 289.6,349.0 291.2,351.0 292.8,352.3 294.4,352.5 296.0,351.5 297.6,349.6 299.2,347.3 300.7,344.9 302.3,342.8 303.9,341.3 305.5,341.8 307.1,343.6 308.7,345.9 310.3,348.3 311.8,350.4 313.4,352.0 315.0,352.5 316.6,351.4 318.2,349.5 319.8,347.2 321.4,344.8 322.9,342.7 324.5,341.2 326.1,341.9 327.7,343.7 329.3,346.0 330.9,348.4 332.5,350.5 334.0,352.0 335.6,352.6 337.2,352.2 338.8,350.8 340.4,348.7 342.0,346.3 343.6,344.0 345.1,342.1 346.7,341.1 348.3,342.4 349.9,344.5 351.5,346.8 353.1,349.2 354.7,351.2 356.2,352.4 357.8,352.4 359.4,351.3 361.0,349.4 362.6,347.1 364.2,344.7 365.8,342.6 367.3,341.2 368.9,342.0 370.5,343.8 372.1,346.1 373.7,348.5 375.3,350.6 376.9,352.1 378.4,352.6 380.0,351.7 381.6,350.1 383.2,347.8 384.8,345.4 386.4,343.2 388.0,341.5 389.5,341.5 391.1,343.2 392.7,345.4 394.3,347.8" fill="none" stroke="#eeeeee" stroke-width="1.3" stroke-opacity="0.56" stroke-dasharray="10.5,1.1,8.9,1.8,4.4,3.1,7.6,3.0,8.6,4.0,11.2,2.0,3.3,2.2,5.7,3.6,4.7,2.2,10.8,2.2,4.6,1.6,5.8,2.6,11.7,3.6,11.8,2.1,7.8,3.7,4.3,2.4,10.7,2.8,11.9,1.4,5.3,2.6,11.1,3.7"/><polyline points="283.3,343.6 284.9,344.9 286.5,346.8 288.1,349.2 289.6,351.6 291.2,353.6 292.8,354.9 294.4,355.1 296.0,354.1 297.6,352.2 299.2,349.9 300.7,347.5 302.3,345.4 303.9,343.9 305.5,344.4 307.1,346.2 308.7,348.5 310.3,350.9 311.8,353.0 313.4,354.6 315.0,355.1 316.6,354.0 318.2,352.1 319.8,349.8 321.4,347.4 322.9,345.3 324.5,343.8 326.1,344.5 327.7,346.3 329.3,348.6 330.9,351.0 332.5,353.1 334.0,354.6 335.6,355.2 337.2,354.8 338.8,353.4 340.4,351.3 342.0,348.9 343.6,346.6 345.1,344.7 346.7,343.7 348.3,345.0 349.9,347.1 351.5,349.4 353.1,351.8 354.7,353.8 356.2,355.0 357.8,355.0 359.4,353.9 361.0,352.0 362.6,349.7 364.2,347.3 365.8,345.2 367.3,343.8 368.9,344.6 370.5,346.4 372.1,348.7 373.7,351.1 375.3,353.2 376.9,354.7 378.4,355.2 380.0,354.3 381.6,352.7 383.2,350.4 384.8,348.0 386.4,345.8 388.0,344.1 389.5,344.1 391.1,345.8 392.7,348.0 394.3,350.4" fill="none" stroke="#eeeeee" stroke-width="1.2" stroke-opacity="0.40" stroke-dasharray="4.9,2.7,11.2,2.9,6.4,2.4,10.7,1.7,9.3,2.5,7.4,3.0,8.3,2.1,3.1,3.5,9.7,1.3,8.5,2.9,11.0,1.1,6.7,1.4,8.7,2.5,11.3,2.4,5.8,3.5,9.0,3.7,6.1,1.9,8.3,2.3,11.1,3.4,3.7,1.1"/><clipPath id="cv10"><polygon points="283.3,324.4 284.9,314.1 286.5,313.1 288.1,311.8 289.6,310.4 291.2,309.3 292.8,308.6 294.4,308.5 296.0,309.1 297.6,310.1 299.2,311.4 300.7,312.7 302.3,313.8 303.9,318.3 305.5,314.4 307.1,313.4 308.7,312.2 310.3,310.8 311.8,309.6 313.4,308.8 315.0,308.5 316.6,309.1 318.2,310.1 319.8,311.4 321.4,312.7 322.9,313.9 324.5,319.4 326.1,314.3 327.7,313.4 329.3,312.1 330.9,310.8 332.5,309.6 334.0,308.8 335.6,308.5 337.2,308.7 338.8,309.4 340.4,310.6 342.0,311.9 343.6,313.2 345.1,314.2 346.7,322.4 348.3,314.0 349.9,312.9 351.5,311.6 353.1,310.3 354.7,309.2 356.2,308.6 357.8,308.5 359.4,309.2 361.0,310.2 362.6,311.5 364.2,312.8 365.8,313.9 367.3,320.4 368.9,314.3 370.5,313.3 372.1,312.0 373.7,310.7 375.3,309.5 376.9,308.7 378.4,308.5 380.0,308.9 381.6,309.9 383.2,311.1 384.8,312.4 386.4,313.6 388.0,314.5 389.5,314.5 391.1,313.6 392.7,312.4 394.3,311.1 394.3,338.4 392.7,336.0 391.1,333.8 389.5,332.1 388.0,332.1 386.4,333.8 384.8,336.0 383.2,338.4 381.6,340.7 380.0,342.3 378.4,343.2 376.9,342.7 375.3,341.2 373.7,339.1 372.1,336.7 370.5,334.4 368.9,332.6 367.3,326.1 365.8,333.2 364.2,335.3 362.6,337.7 361.0,340.0 359.4,341.9 357.8,343.0 356.2,343.0 354.7,341.8 353.1,339.8 351.5,337.4 349.9,335.1 348.3,333.0 346.7,324.0 345.1,332.7 343.6,334.6 342.0,336.9 340.4,339.3 338.8,341.4 337.2,342.8 335.6,343.2 334.0,342.6 332.5,341.1 330.9,339.0 329.3,336.6 327.7,334.3 326.1,332.5 324.5,327.2 322.9,333.3 321.4,335.4 319.8,337.8 318.2,340.1 316.6,342.0 315.0,343.1 313.4,342.6 311.8,341.0 310.3,338.9 308.7,336.5 307.1,334.2 305.5,332.4 303.9,328.2 302.3,333.4 300.7,335.5 299.2,337.9 297.6,340.2 296.0,342.1 294.4,343.1 292.8,342.9 291.2,341.6 289.6,339.6 288.1,337.2 286.5,334.8 284.9,332.9 283.3,322.0"/></clipPath><rect x="283.3" y="294.5" width="111.0" height="58.0" fill="#000" filter="url(#nc10)" clip-path="url(#cv10)" opacity="0.92"/><polyline points="283.3,313.6 284.9,312.9 286.5,311.9 288.1,310.6 289.6,309.2 291.2,308.1 292.8,307.4 294.4,307.3 296.0,307.9 297.6,308.9 299.2,310.2 300.7,311.5 302.3,312.6 303.9,313.5 305.5,313.2 307.1,312.2 308.7,311.0 310.3,309.6 311.8,308.4 313.4,307.6 315.0,307.3 316.6,307.9 318.2,308.9 319.8,310.2 321.4,311.5 322.9,312.7 324.5,313.5 326.1,313.1 327.7,312.2 329.3,310.9 330.9,309.6 332.5,308.4 334.0,307.6 335.6,307.3 337.2,307.5 338.8,308.2 340.4,309.4 342.0,310.7 343.6,312.0 345.1,313.0 346.7,313.6 348.3,312.8 349.9,311.7 351.5,310.4 353.1,309.1 354.7,308.0 356.2,307.4 357.8,307.3 359.4,308.0 361.0,309.0 362.6,310.3 364.2,311.6 365.8,312.7 367.3,313.5 368.9,313.1 370.5,312.1 372.1,310.8 373.7,309.5 375.3,308.3 376.9,307.5 378.4,307.3 380.0,307.7 381.6,308.7 383.2,309.9 384.8,311.2 386.4,312.4 388.0,313.3 389.5,313.3 391.1,312.4 392.7,311.2 394.3,309.9" fill="none" stroke="#f4f4f4" stroke-width="2.2" stroke-opacity="0.2" stroke-dasharray="12.8,2.3,9.8,2.2,17.3,0.9,9.3,0.9,11.4,0.8,19.8,0.9,15.6,1.4,9.6,2.0,17.3,2.2,15.6,1.8,15.0,2.4,15.7,2.3,13.0,0.9,18.2,1.5,8.0,2.0,19.5,1.5,12.9,1.2,16.7,2.3,15.8,2.3,16.8,2.2"/><polyline points="283.3,332.8 284.9,334.1 286.5,336.0 288.1,338.4 289.6,340.8 291.2,342.8 292.8,344.1 294.4,344.3 296.0,343.3 297.6,341.4 299.2,339.1 300.7,336.7 302.3,334.6 303.9,333.1 305.5,333.6 307.1,335.4 308.7,337.7 310.3,340.1 311.8,342.2 313.4,343.8 315.0,344.3 316.6,343.2 318.2,341.3 319.8,339.0 321.4,336.6 322.9,334.5 324.5,333.0 326.1,333.7 327.7,335.5 329.3,337.8 330.9,340.2 332.5,342.3 334.0,343.8 335.6,344.4 337.2,344.0 338.8,342.6 340.4,340.5 342.0,338.1 343.6,335.8 345.1,333.9 346.7,332.9 348.3,334.2 349.9,336.3 351.5,338.6 353.1,341.0 354.7,343.0 356.2,344.2 357.8,344.2 359.4,343.1 361.0,341.2 362.6,338.9 364.2,336.5 365.8,334.4 367.3,333.0 368.9,333.8 370.5,335.6 372.1,337.9 373.7,340.3 375.3,342.4 376.9,343.9 378.4,344.4 380.0,343.5 381.6,341.9 383.2,339.6 384.8,337.2 386.4,335.0 388.0,333.3 389.5,333.3 391.1,335.0 392.7,337.2 394.3,339.6" fill="none" stroke="#f4f4f4" stroke-width="2.3" stroke-opacity="0.6" stroke-dasharray="8.7,1.4,8.5,2.2,8.8,2.0,16.7,2.2,6.3,1.5,14.4,2.2,6.2,1.3,7.1,1.3,10.5,2.1,15.7,1.2,9.1,1.5,7.9,1.0,13.1,1.7,12.2,2.4,9.4,0.9,19.1,2.0,17.0,2.3,18.4,2.2,9.7,1.0,16.9,2.3"/><polyline points="283.3,335.6 284.9,336.9 286.5,338.8 288.1,341.2 289.6,343.6 291.2,345.6 292.8,346.9 294.4,347.1 296.0,346.1 297.6,344.2 299.2,341.9 300.7,339.5 302.3,337.4 303.9,335.9 305.5,336.4 307.1,338.2 308.7,340.5 310.3,342.9 311.8,345.0 313.4,346.6 315.0,347.1 316.6,346.0 318.2,344.1 319.8,341.8 321.4,339.4 322.9,337.3 324.5,335.8 326.1,336.5 327.7,338.3 329.3,340.6 330.9,343.0 332.5,345.1 334.0,346.6 335.6,347.2 337.2,346.8 338.8,345.4 340.4,343.3 342.0,340.9 343.6,338.6 345.1,336.7 346.7,335.7 348.3,337.0 349.9,339.1 351.5,341.4 353.1,343.8 354.7,345.8 356.2,347.0 357.8,347.0 359.4,345.9 361.0,344.0 362.6,341.7 364.2,339.3 365.8,337.2 367.3,335.8 368.9,336.6 370.5,338.4 372.1,340.7 373.7,343.1 375.3,345.2 376.9,346.7 378.4,347.2 380.0,346.3 381.6,344.7 383.2,342.4 384.8,340.0 386.4,337.8 388.0,336.1 389.5,336.1 391.1,337.8 392.7,340.0 394.3,342.4" fill="none" stroke="#e8e8e8" stroke-width="1.3" stroke-opacity="0.42" stroke-dasharray="12.6,1.7,14.1,1.7,7.3,1.7,12.1,2.9,6.0,1.9,8.1,2.2,5.8,2.1,14.8,2.1,9.7,2.4,6.3,2.6,9.7,1.4,10.5,2.8,14.3,2.5,6.3,2.7,7.6,2.1,13.5,1.3,9.8,2.0,13.2,1.5,14.6,1.3,11.3,2.6"/><polygon points="283.3,348.5 284.9,348.5 286.5,348.0 288.1,347.4 289.6,347.3 291.2,346.1 292.8,345.8 294.4,345.8 296.0,345.7 297.6,346.3 299.2,347.0 300.7,346.5 302.3,348.2 303.9,347.7 305.5,347.9 307.1,348.5 308.7,348.7 310.3,348.1 311.8,346.4 313.4,346.6 315.0,346.2 316.6,346.6 318.2,345.5 319.8,346.5 321.4,347.0 322.9,347.2 324.5,348.1 326.1,348.6 327.7,348.9 329.3,348.4 330.9,347.7 332.5,346.4 334.0,346.7 335.6,346.6 337.2,346.0 338.8,345.5 340.4,346.3 342.0,346.7 343.6,347.7 345.1,348.0 346.7,347.8 348.3,348.1 349.9,347.5 351.5,347.3 353.1,347.0 354.7,346.6 356.2,346.6 357.8,345.2 359.4,345.5 361.0,346.7 362.6,345.8 364.2,346.2 365.8,347.9 367.3,347.6 368.9,348.2 370.5,348.7 372.1,348.1 373.7,347.5 375.3,347.2 376.9,345.5 378.4,345.8 380.0,345.3 381.6,346.0 383.2,345.9 384.8,346.6 386.4,347.4 388.0,348.2 389.5,348.7 391.1,347.9 392.7,348.2 394.3,347.9 394.3,352.5 283.3,352.5" fill="#f6f6f6" fill-opacity="0.95"/><clipPath id="cb10"><polygon points="283.3,348.5 284.9,348.5 286.5,348.0 288.1,347.4 289.6,347.3 291.2,346.1 292.8,345.8 294.4,345.8 296.0,345.7 297.6,346.3 299.2,347.0 300.7,346.5 302.3,348.2 303.9,347.7 305.5,347.9 307.1,348.5 308.7,348.7 310.3,348.1 311.8,346.4 313.4,346.6 315.0,346.2 316.6,346.6 318.2,345.5 319.8,346.5 321.4,347.0 322.9,347.2 324.5,348.1 326.1,348.6 327.7,348.9 329.3,348.4 330.9,347.7 332.5,346.4 334.0,346.7 335.6,346.6 337.2,346.0 338.8,345.5 340.4,346.3 342.0,346.7 343.6,347.7 345.1,348.0 346.7,347.8 348.3,348.1 349.9,347.5 351.5,347.3 353.1,347.0 354.7,346.6 356.2,346.6 357.8,345.2 359.4,345.5 361.0,346.7 362.6,345.8 364.2,346.2 365.8,347.9 367.3,347.6 368.9,348.2 370.5,348.7 372.1,348.1 373.7,347.5 375.3,347.2 376.9,345.5 378.4,345.8 380.0,345.3 381.6,346.0 383.2,345.9 384.8,346.6 386.4,347.4 388.0,348.2 389.5,348.7 391.1,347.9 392.7,348.2 394.3,347.9 394.3,352.5 283.3,352.5"/></clipPath><rect x="283.3" y="294.5" width="111.0" height="58.0" fill="#000" filter="url(#nb10)" clip-path="url(#cb10)" opacity="0.22"/><rect x="283.3" y="294.5" width="111.0" height="2.2" fill="#e4e4e4" fill-opacity="0.85"/></g></g><rect x="283.8" y="295.0" width="110.0" height="57.0" fill="none" stroke="#666666" stroke-width="1"/><text x="435.75" y="292.00" font-size="8.5" fill="#a8283f" stroke="#a8283f" stroke-width="0.15" textLength="43.75" lengthAdjust="spacingAndGlyphs" >Cfz+Met D0</text><clipPath id="c11"><rect x="401.3" y="293.8" width="110.69999999999999" height="58.19999999999999"/></clipPath><filter id="nu11" x="0" y="0" width="100%" height="100%" color-interpolation-filters="sRGB"><feTurbulence type="fractalNoise" baseFrequency="0.12 0.6" numOctaves="3" seed="14"/><feColorMatrix type="matrix" values="1.833 0 0 0 -0.815  1.833 0 0 0 -0.815  1.833 0 0 0 -0.815  0 0 0 0 1"/><feGaussianBlur stdDeviation="0.3"/></filter><filter id="nc11" x="0" y="0" width="100%" height="100%" color-interpolation-filters="sRGB"><feTurbulence type="fractalNoise" baseFrequency="0.3 0.5" numOctaves="2" seed="34"/><feColorMatrix type="matrix" values="0.333 0 0 0 -0.073  0.333 0 0 0 -0.073  0.333 0 0 0 -0.073  0 0 0 0 1"/></filter><filter id="nb11" x="0" y="0" width="100%" height="100%" color-interpolation-filters="sRGB"><feTurbulence type="fractalNoise" baseFrequency="0.3 0.6" numOctaves="2" seed="54"/><feColorMatrix type="matrix" values="3.000 0 0 0 -0.716  3.000 0 0 0 -0.716  3.000 0 0 0 -0.716  0 0 0 0 1"/><feGaussianBlur stdDeviation="0.3"/></filter><filter id="bl11" x="0" y="0" width="100%" height="100%"><feGaussianBlur stdDeviation="0.35"/></filter><g clip-path="url(#c11)"><g filter="url(#bl11)"><rect x="401.3" y="293.8" width="110.69999999999999" height="58.19999999999999" fill="#000" filter="url(#nu11)"/><filter id="nl11" x="0" y="0" width="100%" height="100%" color-interpolation-filters="sRGB"><feTurbulence type="fractalNoise" baseFrequency="0.22 0.5" numOctaves="3" seed="74"/><feColorMatrix type="matrix" values="2.000 0 0 0 -0.808  2.000 0 0 0 -0.808  2.000 0 0 0 -0.808  0 0 0 0 1"/><feGaussianBlur stdDeviation="0.35"/></filter><clipPath id="cl11"><polygon points="401.3,332.7 402.9,331.6 404.5,332.3 406.0,333.7 407.6,335.5 409.2,337.4 410.8,339.1 412.4,340.3 414.0,340.8 415.5,340.2 417.1,338.9 418.7,337.2 420.3,335.3 421.9,333.5 423.4,332.1 425.0,331.7 426.6,332.9 428.2,334.5 429.8,336.4 431.3,338.3 432.9,339.8 434.5,340.6 436.1,340.2 437.7,338.9 439.3,337.1 440.8,335.2 442.4,333.4 444.0,332.1 445.6,331.8 447.2,333.0 448.7,334.6 450.3,336.5 451.9,338.4 453.5,339.8 455.1,340.7 456.6,340.6 458.2,339.8 459.8,338.3 461.4,336.4 463.0,334.5 464.6,332.9 466.1,331.7 467.7,332.1 469.3,333.5 470.9,335.3 472.5,337.2 474.0,338.9 475.6,340.2 477.2,340.8 478.8,340.6 480.4,339.8 482.0,338.3 483.5,336.4 485.1,334.5 486.7,332.9 488.3,331.7 489.9,332.1 491.4,333.5 493.0,335.3 494.6,337.2 496.2,338.9 497.8,340.2 499.3,340.8 500.9,340.3 502.5,339.1 504.1,337.4 505.7,335.5 507.3,333.7 508.8,332.3 510.4,331.6 512.0,332.7 512.0,352.0 401.3,352.0"/></clipPath><rect x="401.3" y="293.8" width="110.69999999999999" height="58.19999999999999" fill="#000" filter="url(#nl11)" clip-path="url(#cl11)"/><polyline points="401.3,309.2 402.9,310.0 404.5,309.5 406.0,308.5 407.6,307.3 409.2,306.0 410.8,304.8 412.4,304.0 414.0,303.7 415.5,304.1 417.1,305.0 418.7,306.1 420.3,307.5 421.9,308.7 423.4,309.6 425.0,309.9 426.6,309.1 428.2,308.0 429.8,306.7 431.3,305.4 432.9,304.4 434.5,303.8 436.1,304.1 437.7,305.0 439.3,306.2 440.8,307.5 442.4,308.7 444.0,309.7 445.6,309.9 447.2,309.1 448.7,307.9 450.3,306.6 451.9,305.3 453.5,304.3 455.1,303.8 456.6,303.8 458.2,304.4 459.8,305.4 461.4,306.7 463.0,308.0 464.6,309.1 466.1,309.9 467.7,309.6 469.3,308.7 470.9,307.5 472.5,306.1 474.0,305.0 475.6,304.1 477.2,303.7 478.8,303.8 480.4,304.4 482.0,305.4 483.5,306.7 485.1,308.0 486.7,309.1 488.3,309.9 489.9,309.6 491.4,308.7 493.0,307.5 494.6,306.1 496.2,305.0 497.8,304.1 499.3,303.7 500.9,304.0 502.5,304.8 504.1,306.0 505.7,307.3 507.3,308.5 508.8,309.5 510.4,310.0 512.0,309.2" fill="none" stroke="#b0b0b0" stroke-width="1.0" stroke-opacity="0.40" stroke-dasharray="4.6,1.5,3.6,3.9,6.7,3.8,3.6,3.5,4.4,3.9,7.1,4.2,8.5,4.3,9.0,1.9,6.2,1.7,7.0,1.3,8.0,3.7,3.6,2.3,3.3,3.2,6.0,2.5,9.5,1.3,6.6,1.8,6.2,1.2,3.9,4.8,8.0,4.0,6.1,4.7"/><polyline points="401.3,305.2 402.9,306.0 404.5,305.5 406.0,304.5 407.6,303.3 409.2,302.0 410.8,300.8 412.4,300.0 414.0,299.7 415.5,300.1 417.1,301.0 418.7,302.1 420.3,303.5 421.9,304.7 423.4,305.6 425.0,305.9 426.6,305.1 428.2,304.0 429.8,302.7 431.3,301.4 432.9,300.4 434.5,299.8 436.1,300.1 437.7,301.0 439.3,302.2 440.8,303.5 442.4,304.7 444.0,305.7 445.6,305.9 447.2,305.1 448.7,303.9 450.3,302.6 451.9,301.3 453.5,300.3 455.1,299.8 456.6,299.8 458.2,300.4 459.8,301.4 461.4,302.7 463.0,304.0 464.6,305.1 466.1,305.9 467.7,305.6 469.3,304.7 470.9,303.5 472.5,302.1 474.0,301.0 475.6,300.1 477.2,299.7 478.8,299.8 480.4,300.4 482.0,301.4 483.5,302.7 485.1,304.0 486.7,305.1 488.3,305.9 489.9,305.6 491.4,304.7 493.0,303.5 494.6,302.1 496.2,301.0 497.8,300.1 499.3,299.7 500.9,300.0 502.5,300.8 504.1,302.0 505.7,303.3 507.3,304.5 508.8,305.5 510.4,306.0 512.0,305.2" fill="none" stroke="#cfcfcf" stroke-width="1.4" stroke-opacity="0.42" stroke-dasharray="3.3,1.1,6.3,4.3,3.6,2.7,3.6,2.2,3.0,2.3,6.7,1.8,8.5,1.2,4.5,2.0,5.8,4.1,5.5,3.8,9.5,1.5,9.0,3.4,8.2,3.4,5.9,1.4,4.0,1.7,4.2,1.6,4.5,3.2,8.4,4.2,8.9,1.5,8.8,1.7"/><polyline points="401.3,301.2 402.9,302.0 404.5,301.5 406.0,300.5 407.6,299.3 409.2,298.0 410.8,296.8 412.4,296.0 414.0,295.7 415.5,296.1 417.1,297.0 418.7,298.1 420.3,299.5 421.9,300.7 423.4,301.6 425.0,301.9 426.6,301.1 428.2,300.0 429.8,298.7 431.3,297.4 432.9,296.4 434.5,295.8 436.1,296.1 437.7,297.0 439.3,298.2 440.8,299.5 442.4,300.7 444.0,301.7 445.6,301.9 447.2,301.1 448.7,299.9 450.3,298.6 451.9,297.3 453.5,296.3 455.1,295.8 456.6,295.8 458.2,296.4 459.8,297.4 461.4,298.7 463.0,300.0 464.6,301.1 466.1,301.9 467.7,301.6 469.3,300.7 470.9,299.5 472.5,298.1 474.0,297.0 475.6,296.1 477.2,295.7 478.8,295.8 480.4,296.4 482.0,297.4 483.5,298.7 485.1,300.0 486.7,301.1 488.3,301.9 489.9,301.6 491.4,300.7 493.0,299.5 494.6,298.1 496.2,297.0 497.8,296.1 499.3,295.7 500.9,296.0 502.5,296.8 504.1,298.0 505.7,299.3 507.3,300.5 508.8,301.5 510.4,302.0 512.0,301.2" fill="none" stroke="#cfcfcf" stroke-width="1.1" stroke-opacity="0.25" stroke-dasharray="8.8,2.3,5.6,2.3,8.7,2.5,8.7,3.1,4.3,1.2,5.6,4.4,8.4,1.9,9.0,1.9,8.0,1.4,7.8,2.3,8.3,3.8,8.0,2.5,6.1,4.8,9.2,2.7,9.4,1.3,5.1,3.7,5.2,2.9,3.9,4.6,6.0,2.2,9.8,4.3"/><polyline points="401.3,334.7 402.9,333.6 404.5,334.3 406.0,335.7 407.6,337.5 409.2,339.4 410.8,341.1 412.4,342.3 414.0,342.8 415.5,342.2 417.1,340.9 418.7,339.2 420.3,337.3 421.9,335.5 423.4,334.1 425.0,333.7 426.6,334.9 428.2,336.5 429.8,338.4 431.3,340.3 432.9,341.8 434.5,342.6 436.1,342.2 437.7,340.9 439.3,339.1 440.8,337.2 442.4,335.4 444.0,334.1 445.6,333.8 447.2,335.0 448.7,336.6 450.3,338.5 451.9,340.4 453.5,341.8 455.1,342.7 456.6,342.6 458.2,341.8 459.8,340.3 461.4,338.4 463.0,336.5 464.6,334.9 466.1,333.7 467.7,334.1 469.3,335.5 470.9,337.3 472.5,339.2 474.0,340.9 475.6,342.2 477.2,342.8 478.8,342.6 480.4,341.8 482.0,340.3 483.5,338.4 485.1,336.5 486.7,334.9 488.3,333.7 489.9,334.1 491.4,335.5 493.0,337.3 494.6,339.2 496.2,340.9 497.8,342.2 499.3,342.8 500.9,342.3 502.5,341.1 504.1,339.4 505.7,337.5 507.3,335.7 508.8,334.3 510.4,333.6 512.0,334.7" fill="none" stroke="#d8d8d8" stroke-width="1.1" stroke-opacity="0.52" stroke-dasharray="8.4,4.0,9.0,2.3,6.4,3.7,6.1,3.0,9.2,3.9,4.7,3.0,4.5,2.9,8.9,3.2,10.8,1.7,10.7,2.0,6.6,1.3,7.8,1.0,5.8,3.0,9.7,1.5,10.1,2.3,4.8,3.2,9.7,2.4,7.8,2.9,8.7,3.3,9.9,1.6"/><polyline points="401.3,337.3 402.9,336.2 404.5,336.9 406.0,338.3 407.6,340.1 409.2,342.0 410.8,343.7 412.4,344.9 414.0,345.4 415.5,344.8 417.1,343.5 418.7,341.8 420.3,339.9 421.9,338.1 423.4,336.7 425.0,336.3 426.6,337.5 428.2,339.1 429.8,341.0 431.3,342.9 432.9,344.4 434.5,345.2 436.1,344.8 437.7,343.5 439.3,341.7 440.8,339.8 442.4,338.0 444.0,336.7 445.6,336.4 447.2,337.6 448.7,339.2 450.3,341.1 451.9,343.0 453.5,344.4 455.1,345.3 456.6,345.2 458.2,344.4 459.8,342.9 461.4,341.0 463.0,339.1 464.6,337.5 466.1,336.3 467.7,336.7 469.3,338.1 470.9,339.9 472.5,341.8 474.0,343.5 475.6,344.8 477.2,345.4 478.8,345.2 480.4,344.4 482.0,342.9 483.5,341.0 485.1,339.1 486.7,337.5 488.3,336.3 489.9,336.7 491.4,338.1 493.0,339.9 494.6,341.8 496.2,343.5 497.8,344.8 499.3,345.4 500.9,344.9 502.5,343.7 504.1,342.0 505.7,340.1 507.3,338.3 508.8,336.9 510.4,336.2 512.0,337.3" fill="none" stroke="#d8d8d8" stroke-width="1.5" stroke-opacity="0.55" stroke-dasharray="3.7,1.1,3.5,1.9,11.7,2.9,9.4,2.7,4.7,1.3,10.8,2.2,10.1,1.8,6.0,3.6,11.1,3.6,9.3,2.2,8.1,3.1,6.2,1.6,7.2,3.5,9.3,1.6,11.2,4.0,8.2,2.9,11.2,3.0,11.8,2.6,12.0,2.6,4.0,3.4"/><polyline points="401.3,339.9 402.9,338.8 404.5,339.5 406.0,340.9 407.6,342.7 409.2,344.6 410.8,346.3 412.4,347.5 414.0,348.0 415.5,347.4 417.1,346.1 418.7,344.4 420.3,342.5 421.9,340.7 423.4,339.3 425.0,338.9 426.6,340.1 428.2,341.7 429.8,343.6 431.3,345.5 432.9,347.0 434.5,347.8 436.1,347.4 437.7,346.1 439.3,344.3 440.8,342.4 442.4,340.6 444.0,339.3 445.6,339.0 447.2,340.2 448.7,341.8 450.3,343.7 451.9,345.6 453.5,347.0 455.1,347.9 456.6,347.8 458.2,347.0 459.8,345.5 461.4,343.6 463.0,341.7 464.6,340.1 466.1,338.9 467.7,339.3 469.3,340.7 470.9,342.5 472.5,344.4 474.0,346.1 475.6,347.4 477.2,348.0 478.8,347.8 480.4,347.0 482.0,345.5 483.5,343.6 485.1,341.7 486.7,340.1 488.3,338.9 489.9,339.3 491.4,340.7 493.0,342.5 494.6,344.4 496.2,346.1 497.8,347.4 499.3,348.0 500.9,347.5 502.5,346.3 504.1,344.6 505.7,342.7 507.3,340.9 508.8,339.5 510.4,338.8 512.0,339.9" fill="none" stroke="#d8d8d8" stroke-width="1.1" stroke-opacity="0.53" stroke-dasharray="8.1,2.6,8.7,2.7,6.7,1.5,8.3,1.1,3.3,2.0,5.1,3.3,4.4,2.3,9.3,2.3,10.2,1.4,4.5,1.8,6.3,2.7,4.8,2.7,9.3,3.0,10.3,1.2,9.1,3.2,10.4,1.5,3.8,3.3,8.8,1.5,10.8,3.2,8.5,3.3"/><polyline points="401.3,342.5 402.9,341.4 404.5,342.1 406.0,343.5 407.6,345.3 409.2,347.2 410.8,348.9 412.4,350.1 414.0,350.6 415.5,350.0 417.1,348.7 418.7,347.0 420.3,345.1 421.9,343.3 423.4,341.9 425.0,341.5 426.6,342.7 428.2,344.3 429.8,346.2 431.3,348.1 432.9,349.6 434.5,350.4 436.1,350.0 437.7,348.7 439.3,346.9 440.8,345.0 442.4,343.2 444.0,341.9 445.6,341.6 447.2,342.8 448.7,344.4 450.3,346.3 451.9,348.2 453.5,349.6 455.1,350.5 456.6,350.4 458.2,349.6 459.8,348.1 461.4,346.2 463.0,344.3 464.6,342.7 466.1,341.5 467.7,341.9 469.3,343.3 470.9,345.1 472.5,347.0 474.0,348.7 475.6,350.0 477.2,350.6 478.8,350.4 480.4,349.6 482.0,348.1 483.5,346.2 485.1,344.3 486.7,342.7 488.3,341.5 489.9,341.9 491.4,343.3 493.0,345.1 494.6,347.0 496.2,348.7 497.8,350.0 499.3,350.6 500.9,350.1 502.5,348.9 504.1,347.2 505.7,345.3 507.3,343.5 508.8,342.1 510.4,341.4 512.0,342.5" fill="none" stroke="#eeeeee" stroke-width="1.0" stroke-opacity="0.54" stroke-dasharray="11.0,3.4,6.9,1.9,9.6,1.4,8.8,2.6,11.4,1.7,11.3,3.4,10.0,4.0,8.1,3.2,8.4,3.7,10.9,1.5,11.0,1.5,7.0,1.8,8.3,2.8,3.2,3.8,4.2,1.0,5.6,2.7,5.6,2.5,10.2,1.1,4.5,3.1,10.6,3.0"/><clipPath id="cv11"><polygon points="401.3,313.9 402.9,314.7 404.5,314.2 406.0,313.2 407.6,312.0 409.2,310.7 410.8,309.5 412.4,308.7 414.0,308.4 415.5,308.8 417.1,309.7 418.7,310.8 420.3,312.2 421.9,313.4 423.4,314.3 425.0,314.6 426.6,313.8 428.2,312.7 429.8,311.4 431.3,310.1 432.9,309.1 434.5,308.5 436.1,308.8 437.7,309.7 439.3,310.9 440.8,312.2 442.4,313.4 444.0,314.4 445.6,314.6 447.2,313.8 448.7,312.6 450.3,311.3 451.9,310.0 453.5,309.0 455.1,308.5 456.6,308.5 458.2,309.1 459.8,310.1 461.4,311.4 463.0,312.7 464.6,313.8 466.1,314.6 467.7,314.3 469.3,313.4 470.9,312.2 472.5,310.8 474.0,309.7 475.6,308.8 477.2,308.4 478.8,308.5 480.4,309.1 482.0,310.1 483.5,311.4 485.1,312.7 486.7,313.8 488.3,314.6 489.9,314.3 491.4,313.4 493.0,312.2 494.6,310.8 496.2,309.7 497.8,308.8 499.3,308.4 500.9,308.7 502.5,309.5 504.1,310.7 505.7,312.0 507.3,313.2 508.8,314.2 510.4,314.7 512.0,313.9 512.0,330.5 510.4,329.4 508.8,330.1 507.3,331.5 505.7,333.3 504.1,335.2 502.5,336.9 500.9,338.1 499.3,338.6 497.8,338.0 496.2,336.7 494.6,335.0 493.0,333.1 491.4,331.3 489.9,329.9 488.3,329.5 486.7,330.7 485.1,332.3 483.5,334.2 482.0,336.1 480.4,337.6 478.8,338.4 477.2,338.6 475.6,338.0 474.0,336.7 472.5,335.0 470.9,333.1 469.3,331.3 467.7,329.9 466.1,329.5 464.6,330.7 463.0,332.3 461.4,334.2 459.8,336.1 458.2,337.6 456.6,338.4 455.1,338.5 453.5,337.6 451.9,336.2 450.3,334.3 448.7,332.4 447.2,330.8 445.6,329.6 444.0,329.9 442.4,331.2 440.8,333.0 439.3,334.9 437.7,336.7 436.1,338.0 434.5,338.4 432.9,337.6 431.3,336.1 429.8,334.2 428.2,332.3 426.6,330.7 425.0,329.5 423.4,329.9 421.9,331.3 420.3,333.1 418.7,335.0 417.1,336.7 415.5,338.0 414.0,338.6 412.4,338.1 410.8,336.9 409.2,335.2 407.6,333.3 406.0,331.5 404.5,330.1 402.9,329.4 401.3,330.5"/></clipPath><rect x="401.3" y="293.8" width="110.69999999999999" height="58.19999999999999" fill="#000" filter="url(#nc11)" clip-path="url(#cv11)" opacity="0.92"/><polyline points="401.3,312.7 402.9,313.5 404.5,313.0 406.0,312.0 407.6,310.8 409.2,309.5 410.8,308.3 412.4,307.5 414.0,307.2 415.5,307.6 417.1,308.5 418.7,309.6 420.3,311.0 421.9,312.2 423.4,313.1 425.0,313.4 426.6,312.6 428.2,311.5 429.8,310.2 431.3,308.9 432.9,307.9 434.5,307.3 436.1,307.6 437.7,308.5 439.3,309.7 440.8,311.0 442.4,312.2 444.0,313.2 445.6,313.4 447.2,312.6 448.7,311.4 450.3,310.1 451.9,308.8 453.5,307.8 455.1,307.3 456.6,307.3 458.2,307.9 459.8,308.9 461.4,310.2 463.0,311.5 464.6,312.6 466.1,313.4 467.7,313.1 469.3,312.2 470.9,311.0 472.5,309.6 474.0,308.5 475.6,307.6 477.2,307.2 478.8,307.3 480.4,307.9 482.0,308.9 483.5,310.2 485.1,311.5 486.7,312.6 488.3,313.4 489.9,313.1 491.4,312.2 493.0,311.0 494.6,309.6 496.2,308.5 497.8,307.6 499.3,307.2 500.9,307.5 502.5,308.3 504.1,309.5 505.7,310.8 507.3,312.0 508.8,313.0 510.4,313.5 512.0,312.7" fill="none" stroke="#f4f4f4" stroke-width="2.2" stroke-opacity="0.8" stroke-dasharray="17.3,2.4,11.3,1.3,9.2,1.1,15.4,2.1,19.1,2.1,11.9,2.0,16.8,1.1,11.7,0.9,9.4,1.2,17.8,1.0,6.1,2.4,17.7,1.0,19.3,1.9,6.9,2.3,8.6,2.1,8.1,2.4,6.5,1.5,19.9,1.6,8.3,1.2,12.1,1.6"/><polyline points="401.3,331.7 402.9,330.6 404.5,331.3 406.0,332.7 407.6,334.5 409.2,336.4 410.8,338.1 412.4,339.3 414.0,339.8 415.5,339.2 417.1,337.9 418.7,336.2 420.3,334.3 421.9,332.5 423.4,331.1 425.0,330.7 426.6,331.9 428.2,333.5 429.8,335.4 431.3,337.3 432.9,338.8 434.5,339.6 436.1,339.2 437.7,337.9 439.3,336.1 440.8,334.2 442.4,332.4 444.0,331.1 445.6,330.8 447.2,332.0 448.7,333.6 450.3,335.5 451.9,337.4 453.5,338.8 455.1,339.7 456.6,339.6 458.2,338.8 459.8,337.3 461.4,335.4 463.0,333.5 464.6,331.9 466.1,330.7 467.7,331.1 469.3,332.5 470.9,334.3 472.5,336.2 474.0,337.9 475.6,339.2 477.2,339.8 478.8,339.6 480.4,338.8 482.0,337.3 483.5,335.4 485.1,333.5 486.7,331.9 488.3,330.7 489.9,331.1 491.4,332.5 493.0,334.3 494.6,336.2 496.2,337.9 497.8,339.2 499.3,339.8 500.9,339.3 502.5,338.1 504.1,336.4 505.7,334.5 507.3,332.7 508.8,331.3 510.4,330.6 512.0,331.7" fill="none" stroke="#f4f4f4" stroke-width="2.3" stroke-opacity="0.8" stroke-dasharray="14.6,1.4,8.2,2.0,12.8,2.0,7.4,1.8,18.7,1.1,12.7,2.3,8.4,2.0,8.3,1.7,17.2,2.4,17.9,0.9,9.4,1.2,15.9,1.5,13.9,1.2,10.5,1.8,12.9,1.0,14.8,2.4,12.1,1.3,19.0,1.9,8.6,2.3,15.4,0.8"/><polyline points="401.3,334.5 402.9,333.4 404.5,334.1 406.0,335.5 407.6,337.3 409.2,339.2 410.8,340.9 412.4,342.1 414.0,342.6 415.5,342.0 417.1,340.7 418.7,339.0 420.3,337.1 421.9,335.3 423.4,333.9 425.0,333.5 426.6,334.7 428.2,336.3 429.8,338.2 431.3,340.1 432.9,341.6 434.5,342.4 436.1,342.0 437.7,340.7 439.3,338.9 440.8,337.0 442.4,335.2 444.0,333.9 445.6,333.6 447.2,334.8 448.7,336.4 450.3,338.3 451.9,340.2 453.5,341.6 455.1,342.5 456.6,342.4 458.2,341.6 459.8,340.1 461.4,338.2 463.0,336.3 464.6,334.7 466.1,333.5 467.7,333.9 469.3,335.3 470.9,337.1 472.5,339.0 474.0,340.7 475.6,342.0 477.2,342.6 478.8,342.4 480.4,341.6 482.0,340.1 483.5,338.2 485.1,336.3 486.7,334.7 488.3,333.5 489.9,333.9 491.4,335.3 493.0,337.1 494.6,339.0 496.2,340.7 497.8,342.0 499.3,342.6 500.9,342.1 502.5,340.9 504.1,339.2 505.7,337.3 507.3,335.5 508.8,334.1 510.4,333.4 512.0,334.5" fill="none" stroke="#e8e8e8" stroke-width="1.3" stroke-opacity="0.56" stroke-dasharray="10.3,1.4,8.6,1.3,8.9,2.4,10.3,1.4,5.6,2.9,8.5,1.3,5.8,2.7,5.2,2.9,13.9,1.5,6.5,1.1,5.3,1.4,8.4,1.5,14.4,2.3,9.3,2.3,5.8,2.7,12.3,2.0,10.6,1.8,10.6,2.3,8.3,1.7,6.2,2.1"/><polygon points="401.3,343.9 402.9,344.0 404.5,344.3 406.0,344.6 407.6,343.5 409.2,343.0 410.8,343.0 412.4,342.0 414.0,342.6 415.5,342.5 417.1,343.0 418.7,343.0 420.3,344.3 421.9,343.8 423.4,343.9 425.0,344.7 426.6,345.3 428.2,344.7 429.8,343.5 431.3,343.6 432.9,343.1 434.5,342.4 436.1,342.0 437.7,342.9 439.3,343.7 440.8,344.2 442.4,344.8 444.0,344.4 445.6,344.3 447.2,344.8 448.7,344.1 450.3,344.3 451.9,343.1 453.5,343.0 455.1,342.8 456.6,341.6 458.2,341.8 459.8,342.2 461.4,343.2 463.0,343.7 464.6,344.6 466.1,344.8 467.7,344.0 469.3,344.0 470.9,343.9 472.5,343.2 474.0,343.4 475.6,342.0 477.2,343.2 478.8,342.9 480.4,343.2 482.0,342.5 483.5,343.0 485.1,344.5 486.7,344.2 488.3,344.2 489.9,344.6 491.4,344.1 493.0,343.5 494.6,343.3 496.2,343.1 497.8,341.8 499.3,343.1 500.9,342.1 502.5,343.3 504.1,343.6 505.7,344.2 507.3,344.7 508.8,343.9 510.4,344.9 512.0,343.9 512.0,352.0 401.3,352.0" fill="#f6f6f6" fill-opacity="0.95"/><clipPath id="cb11"><polygon points="401.3,343.9 402.9,344.0 404.5,344.3 406.0,344.6 407.6,343.5 409.2,343.0 410.8,343.0 412.4,342.0 414.0,342.6 415.5,342.5 417.1,343.0 418.7,343.0 420.3,344.3 421.9,343.8 423.4,343.9 425.0,344.7 426.6,345.3 428.2,344.7 429.8,343.5 431.3,343.6 432.9,343.1 434.5,342.4 436.1,342.0 437.7,342.9 439.3,343.7 440.8,344.2 442.4,344.8 444.0,344.4 445.6,344.3 447.2,344.8 448.7,344.1 450.3,344.3 451.9,343.1 453.5,343.0 455.1,342.8 456.6,341.6 458.2,341.8 459.8,342.2 461.4,343.2 463.0,343.7 464.6,344.6 466.1,344.8 467.7,344.0 469.3,344.0 470.9,343.9 472.5,343.2 474.0,343.4 475.6,342.0 477.2,343.2 478.8,342.9 480.4,343.2 482.0,342.5 483.5,343.0 485.1,344.5 486.7,344.2 488.3,344.2 489.9,344.6 491.4,344.1 493.0,343.5 494.6,343.3 496.2,343.1 497.8,341.8 499.3,343.1 500.9,342.1 502.5,343.3 504.1,343.6 505.7,344.2 507.3,344.7 508.8,343.9 510.4,344.9 512.0,343.9 512.0,352.0 401.3,352.0"/></clipPath><rect x="401.3" y="293.8" width="110.69999999999999" height="58.19999999999999" fill="#000" filter="url(#nb11)" clip-path="url(#cb11)" opacity="0.22"/><rect x="401.3" y="293.8" width="110.69999999999999" height="2.2" fill="#e4e4e4" fill-opacity="0.85"/></g></g><rect x="401.8" y="294.3" width="109.69999999999999" height="57.19999999999999" fill="none" stroke="#666666" stroke-width="1"/><text x="318.25" y="395.50" font-size="8.5" fill="#a8283f" stroke="#a8283f" stroke-width="0.15" textLength="40.00" lengthAdjust="spacingAndGlyphs" >Control D6</text><clipPath id="c12"><rect x="283.8" y="398.8" width="110.5" height="57.0"/></clipPath><filter id="nu12" x="0" y="0" width="100%" height="100%" color-interpolation-filters="sRGB"><feTurbulence type="fractalNoise" baseFrequency="0.12 0.6" numOctaves="3" seed="15"/><feColorMatrix type="matrix" values="1.833 0 0 0 -0.768  1.833 0 0 0 -0.768  1.833 0 0 0 -0.768  0 0 0 0 1"/><feGaussianBlur stdDeviation="0.3"/></filter><filter id="nc12" x="0" y="0" width="100%" height="100%" color-interpolation-filters="sRGB"><feTurbulence type="fractalNoise" baseFrequency="0.3 0.5" numOctaves="2" seed="35"/><feColorMatrix type="matrix" values="0.333 0 0 0 -0.073  0.333 0 0 0 -0.073  0.333 0 0 0 -0.073  0 0 0 0 1"/></filter><filter id="nb12" x="0" y="0" width="100%" height="100%" color-interpolation-filters="sRGB"><feTurbulence type="fractalNoise" baseFrequency="0.3 0.6" numOctaves="2" seed="55"/><feColorMatrix type="matrix" values="3.000 0 0 0 -0.716  3.000 0 0 0 -0.716  3.000 0 0 0 -0.716  0 0 0 0 1"/><feGaussianBlur stdDeviation="0.3"/></filter><filter id="bl12" x="0" y="0" width="100%" height="100%"><feGaussianBlur stdDeviation="0.35"/></filter><g clip-path="url(#c12)"><g filter="url(#bl12)"><rect x="283.8" y="398.8" width="110.5" height="57.0" fill="#000" filter="url(#nu12)"/><filter id="nl12" x="0" y="0" width="100%" height="100%" color-interpolation-filters="sRGB"><feTurbulence type="fractalNoise" baseFrequency="0.22 0.5" numOctaves="3" seed="75"/><feColorMatrix type="matrix" values="2.000 0 0 0 -0.769  2.000 0 0 0 -0.769  2.000 0 0 0 -0.769  0 0 0 0 1"/><feGaussianBlur stdDeviation="0.35"/></filter><clipPath id="cl12"><polygon points="283.8,437.0 285.4,439.0 287.0,441.2 288.5,443.4 290.1,445.2 291.7,446.3 293.3,446.4 294.9,445.5 296.4,443.8 298.0,441.7 299.6,439.4 301.2,437.3 302.7,435.8 304.3,435.5 305.9,437.0 307.5,439.0 309.1,441.2 310.6,443.4 312.2,445.2 313.8,446.3 315.4,446.5 316.9,445.9 318.5,444.4 320.1,442.4 321.7,440.2 323.3,438.0 324.8,436.3 326.4,435.2 328.0,436.4 329.6,438.2 331.2,440.4 332.7,442.6 334.3,444.6 335.9,446.0 337.5,446.4 339.1,445.5 340.6,443.8 342.2,441.7 343.8,439.4 345.4,437.3 346.9,435.8 348.5,435.5 350.1,437.0 351.7,439.0 353.3,441.2 354.8,443.4 356.4,445.2 358.0,446.3 359.6,446.4 361.1,445.5 362.7,443.8 364.3,441.7 365.9,439.4 367.5,437.3 369.0,435.8 370.6,435.5 372.2,437.0 373.8,439.0 375.4,441.2 376.9,443.4 378.5,445.2 380.1,446.3 381.7,446.4 383.2,445.5 384.8,443.8 386.4,441.7 388.0,439.4 389.6,437.3 391.1,435.8 392.7,435.5 394.3,437.0 394.3,455.8 283.8,455.8"/></clipPath><rect x="283.8" y="398.8" width="110.5" height="57.0" fill="#000" filter="url(#nl12)" clip-path="url(#cl12)"/><polyline points="283.8,413.8 285.4,412.8 287.0,411.7 288.5,410.6 290.1,409.7 291.7,409.1 293.3,409.0 294.9,409.5 296.4,410.4 298.0,411.4 299.6,412.6 301.2,413.6 302.7,414.4 304.3,414.5 305.9,413.8 307.5,412.8 309.1,411.7 310.6,410.6 312.2,409.7 313.8,409.1 315.4,409.0 316.9,409.3 318.5,410.0 320.1,411.0 321.7,412.2 323.3,413.2 324.8,414.1 326.4,414.7 328.0,414.0 329.6,413.1 331.2,412.0 332.7,410.9 334.3,409.9 335.9,409.2 337.5,409.0 339.1,409.5 340.6,410.4 342.2,411.4 343.8,412.6 345.4,413.6 346.9,414.4 348.5,414.5 350.1,413.8 351.7,412.8 353.3,411.7 354.8,410.6 356.4,409.7 358.0,409.1 359.6,409.0 361.1,409.5 362.7,410.4 364.3,411.4 365.9,412.6 367.5,413.6 369.0,414.4 370.6,414.5 372.2,413.8 373.8,412.8 375.4,411.7 376.9,410.6 378.5,409.7 380.1,409.1 381.7,409.0 383.2,409.5 384.8,410.4 386.4,411.4 388.0,412.6 389.6,413.6 391.1,414.4 392.7,414.5 394.3,413.8" fill="none" stroke="#e0e0e0" stroke-width="1.4" stroke-opacity="0.37" stroke-dasharray="6.9,3.1,6.3,4.8,4.8,1.3,8.7,3.0,6.1,4.0,5.0,1.9,6.3,3.9,7.5,1.7,5.6,2.4,5.0,2.3,9.1,1.6,3.6,1.4,5.2,3.9,8.5,2.5,7.8,2.2,4.8,2.8,4.7,4.6,6.4,1.6,4.3,3.3,6.9,4.9"/><polyline points="283.8,409.8 285.4,408.8 287.0,407.7 288.5,406.6 290.1,405.7 291.7,405.1 293.3,405.0 294.9,405.5 296.4,406.4 298.0,407.4 299.6,408.6 301.2,409.6 302.7,410.4 304.3,410.5 305.9,409.8 307.5,408.8 309.1,407.7 310.6,406.6 312.2,405.7 313.8,405.1 315.4,405.0 316.9,405.3 318.5,406.0 320.1,407.0 321.7,408.2 323.3,409.2 324.8,410.1 326.4,410.7 328.0,410.0 329.6,409.1 331.2,408.0 332.7,406.9 334.3,405.9 335.9,405.2 337.5,405.0 339.1,405.5 340.6,406.4 342.2,407.4 343.8,408.6 345.4,409.6 346.9,410.4 348.5,410.5 350.1,409.8 351.7,408.8 353.3,407.7 354.8,406.6 356.4,405.7 358.0,405.1 359.6,405.0 361.1,405.5 362.7,406.4 364.3,407.4 365.9,408.6 367.5,409.6 369.0,410.4 370.6,410.5 372.2,409.8 373.8,408.8 375.4,407.7 376.9,406.6 378.5,405.7 380.1,405.1 381.7,405.0 383.2,405.5 384.8,406.4 386.4,407.4 388.0,408.6 389.6,409.6 391.1,410.4 392.7,410.5 394.3,409.8" fill="none" stroke="#b0b0b0" stroke-width="1.0" stroke-opacity="0.28" stroke-dasharray="8.8,4.8,8.4,4.8,6.8,2.8,5.7,3.6,4.7,3.1,5.7,3.7,9.1,3.6,4.0,3.4,8.1,3.2,3.5,1.4,6.8,3.9,6.5,3.9,6.8,4.3,4.5,4.3,8.2,1.5,4.6,2.2,8.5,3.6,3.5,3.9,5.2,4.5,4.9,1.4"/><polyline points="283.8,405.8 285.4,404.8 287.0,403.7 288.5,402.6 290.1,401.7 291.7,401.1 293.3,401.0 294.9,401.5 296.4,402.4 298.0,403.4 299.6,404.6 301.2,405.6 302.7,406.4 304.3,406.5 305.9,405.8 307.5,404.8 309.1,403.7 310.6,402.6 312.2,401.7 313.8,401.1 315.4,401.0 316.9,401.3 318.5,402.0 320.1,403.0 321.7,404.2 323.3,405.2 324.8,406.1 326.4,406.7 328.0,406.0 329.6,405.1 331.2,404.0 332.7,402.9 334.3,401.9 335.9,401.2 337.5,401.0 339.1,401.5 340.6,402.4 342.2,403.4 343.8,404.6 345.4,405.6 346.9,406.4 348.5,406.5 350.1,405.8 351.7,404.8 353.3,403.7 354.8,402.6 356.4,401.7 358.0,401.1 359.6,401.0 361.1,401.5 362.7,402.4 364.3,403.4 365.9,404.6 367.5,405.6 369.0,406.4 370.6,406.5 372.2,405.8 373.8,404.8 375.4,403.7 376.9,402.6 378.5,401.7 380.1,401.1 381.7,401.0 383.2,401.5 384.8,402.4 386.4,403.4 388.0,404.6 389.6,405.6 391.1,406.4 392.7,406.5 394.3,405.8" fill="none" stroke="#b0b0b0" stroke-width="1.3" stroke-opacity="0.25" stroke-dasharray="6.6,1.8,5.1,4.4,5.0,1.0,4.5,3.7,3.2,2.3,6.7,3.6,8.6,2.3,9.1,4.6,3.9,4.9,3.2,2.1,9.7,4.7,3.8,4.3,9.5,2.5,6.7,4.1,5.4,4.9,8.5,2.8,7.2,2.3,5.5,4.6,3.1,2.7,5.8,4.6"/><polyline points="283.8,439.0 285.4,441.0 287.0,443.2 288.5,445.4 290.1,447.2 291.7,448.3 293.3,448.4 294.9,447.5 296.4,445.8 298.0,443.7 299.6,441.4 301.2,439.3 302.7,437.8 304.3,437.5 305.9,439.0 307.5,441.0 309.1,443.2 310.6,445.4 312.2,447.2 313.8,448.3 315.4,448.5 316.9,447.9 318.5,446.4 320.1,444.4 321.7,442.2 323.3,440.0 324.8,438.3 326.4,437.2 328.0,438.4 329.6,440.2 331.2,442.4 332.7,444.6 334.3,446.6 335.9,448.0 337.5,448.4 339.1,447.5 340.6,445.8 342.2,443.7 343.8,441.4 345.4,439.3 346.9,437.8 348.5,437.5 350.1,439.0 351.7,441.0 353.3,443.2 354.8,445.4 356.4,447.2 358.0,448.3 359.6,448.4 361.1,447.5 362.7,445.8 364.3,443.7 365.9,441.4 367.5,439.3 369.0,437.8 370.6,437.5 372.2,439.0 373.8,441.0 375.4,443.2 376.9,445.4 378.5,447.2 380.1,448.3 381.7,448.4 383.2,447.5 384.8,445.8 386.4,443.7 388.0,441.4 389.6,439.3 391.1,437.8 392.7,437.5 394.3,439.0" fill="none" stroke="#eeeeee" stroke-width="1.1" stroke-opacity="0.57" stroke-dasharray="7.3,2.2,10.6,1.3,10.8,1.8,10.0,3.9,10.5,2.0,11.7,2.6,5.7,2.1,3.8,2.9,7.0,2.7,11.0,2.3,3.2,2.8,3.8,2.8,7.9,2.3,8.9,1.3,6.2,1.6,4.9,1.4,5.0,3.6,11.8,2.8,10.0,1.0,6.1,3.2"/><polyline points="283.8,441.6 285.4,443.6 287.0,445.8 288.5,448.0 290.1,449.8 291.7,450.9 293.3,451.0 294.9,450.1 296.4,448.4 298.0,446.3 299.6,444.0 301.2,441.9 302.7,440.4 304.3,440.1 305.9,441.6 307.5,443.6 309.1,445.8 310.6,448.0 312.2,449.8 313.8,450.9 315.4,451.1 316.9,450.5 318.5,449.0 320.1,447.0 321.7,444.8 323.3,442.6 324.8,440.9 326.4,439.8 328.0,441.0 329.6,442.8 331.2,445.0 332.7,447.2 334.3,449.2 335.9,450.6 337.5,451.0 339.1,450.1 340.6,448.4 342.2,446.3 343.8,444.0 345.4,441.9 346.9,440.4 348.5,440.1 350.1,441.6 351.7,443.6 353.3,445.8 354.8,448.0 356.4,449.8 358.0,450.9 359.6,451.0 361.1,450.1 362.7,448.4 364.3,446.3 365.9,444.0 367.5,441.9 369.0,440.4 370.6,440.1 372.2,441.6 373.8,443.6 375.4,445.8 376.9,448.0 378.5,449.8 380.1,450.9 381.7,451.0 383.2,450.1 384.8,448.4 386.4,446.3 388.0,444.0 389.6,441.9 391.1,440.4 392.7,440.1 394.3,441.6" fill="none" stroke="#d8d8d8" stroke-width="0.9" stroke-opacity="0.60" stroke-dasharray="11.7,1.3,6.6,3.7,6.1,1.5,8.2,2.9,9.9,1.7,7.5,1.6,11.4,3.7,11.6,1.4,4.6,3.4,7.2,3.5,8.8,1.1,4.0,3.2,5.5,2.2,8.6,1.2,3.9,2.5,3.2,2.0,6.5,1.3,3.8,3.3,9.2,2.5,7.1,3.7"/><polyline points="283.8,444.2 285.4,446.2 287.0,448.4 288.5,450.6 290.1,452.4 291.7,453.5 293.3,453.6 294.9,452.7 296.4,451.0 298.0,448.9 299.6,446.6 301.2,444.5 302.7,443.0 304.3,442.7 305.9,444.2 307.5,446.2 309.1,448.4 310.6,450.6 312.2,452.4 313.8,453.5 315.4,453.7 316.9,453.1 318.5,451.6 320.1,449.6 321.7,447.4 323.3,445.2 324.8,443.5 326.4,442.4 328.0,443.6 329.6,445.4 331.2,447.6 332.7,449.8 334.3,451.8 335.9,453.2 337.5,453.6 339.1,452.7 340.6,451.0 342.2,448.9 343.8,446.6 345.4,444.5 346.9,443.0 348.5,442.7 350.1,444.2 351.7,446.2 353.3,448.4 354.8,450.6 356.4,452.4 358.0,453.5 359.6,453.6 361.1,452.7 362.7,451.0 364.3,448.9 365.9,446.6 367.5,444.5 369.0,443.0 370.6,442.7 372.2,444.2 373.8,446.2 375.4,448.4 376.9,450.6 378.5,452.4 380.1,453.5 381.7,453.6 383.2,452.7 384.8,451.0 386.4,448.9 388.0,446.6 389.6,444.5 391.1,443.0 392.7,442.7 394.3,444.2" fill="none" stroke="#c0c0c0" stroke-width="1.0" stroke-opacity="0.46" stroke-dasharray="9.8,2.1,10.4,3.3,7.4,3.5,4.1,1.3,8.9,1.7,7.8,1.5,10.3,3.6,11.1,1.4,11.5,3.6,9.1,1.3,8.4,2.2,9.2,1.6,11.1,2.6,5.2,1.0,7.1,1.4,7.0,3.4,5.2,3.8,7.4,3.4,5.8,3.7,8.6,1.1"/><polyline points="283.8,446.8 285.4,448.8 287.0,451.0 288.5,453.2 290.1,455.0 291.7,456.1 293.3,456.2 294.9,455.3 296.4,453.6 298.0,451.5 299.6,449.2 301.2,447.1 302.7,445.6 304.3,445.3 305.9,446.8 307.5,448.8 309.1,451.0 310.6,453.2 312.2,455.0 313.8,456.1 315.4,456.3 316.9,455.7 318.5,454.2 320.1,452.2 321.7,450.0 323.3,447.8 324.8,446.1 326.4,445.0 328.0,446.2 329.6,448.0 331.2,450.2 332.7,452.4 334.3,454.4 335.9,455.8 337.5,456.2 339.1,455.3 340.6,453.6 342.2,451.5 343.8,449.2 345.4,447.1 346.9,445.6 348.5,445.3 350.1,446.8 351.7,448.8 353.3,451.0 354.8,453.2 356.4,455.0 358.0,456.1 359.6,456.2 361.1,455.3 362.7,453.6 364.3,451.5 365.9,449.2 367.5,447.1 369.0,445.6 370.6,445.3 372.2,446.8 373.8,448.8 375.4,451.0 376.9,453.2 378.5,455.0 380.1,456.1 381.7,456.2 383.2,455.3 384.8,453.6 386.4,451.5 388.0,449.2 389.6,447.1 391.1,445.6 392.7,445.3 394.3,446.8" fill="none" stroke="#eeeeee" stroke-width="1.0" stroke-opacity="0.52" stroke-dasharray="8.5,3.5,6.0,1.2,5.0,1.7,6.0,2.9,5.4,4.0,4.5,3.6,5.2,3.8,5.0,2.7,5.2,3.2,8.5,3.2,6.6,1.5,5.9,3.6,7.5,1.5,3.7,2.6,10.5,3.0,10.0,1.2,7.0,1.9,5.1,3.8,10.7,2.1,11.9,1.6"/><clipPath id="cv12"><polygon points="283.8,418.5 285.4,417.5 287.0,416.4 288.5,415.3 290.1,414.4 291.7,413.8 293.3,413.7 294.9,414.2 296.4,415.1 298.0,416.1 299.6,417.3 301.2,418.3 302.7,420.8 304.3,423.1 305.9,418.5 307.5,417.5 309.1,416.4 310.6,415.3 312.2,414.4 313.8,413.8 315.4,413.7 316.9,414.0 318.5,414.7 320.1,415.7 321.7,416.9 323.3,417.9 324.8,418.8 326.4,426.8 328.0,418.7 329.6,417.8 331.2,416.7 332.7,415.6 334.3,414.6 335.9,413.9 337.5,413.7 339.1,414.2 340.6,415.1 342.2,416.1 343.8,417.3 345.4,418.3 346.9,420.8 348.5,423.1 350.1,418.5 351.7,417.5 353.3,416.4 354.8,415.3 356.4,414.4 358.0,413.8 359.6,413.7 361.1,414.2 362.7,415.1 364.3,416.1 365.9,417.3 367.5,418.3 369.0,420.8 370.6,423.1 372.2,418.5 373.8,417.5 375.4,416.4 376.9,415.3 378.5,414.4 380.1,413.8 381.7,413.7 383.2,414.2 384.8,415.1 386.4,416.1 388.0,417.3 389.6,418.3 391.1,420.8 392.7,423.1 394.3,418.5 394.3,434.8 392.7,429.4 391.1,431.8 389.6,435.1 388.0,437.2 386.4,439.5 384.8,441.6 383.2,443.3 381.7,444.2 380.1,444.1 378.5,443.0 376.9,441.2 375.4,439.0 373.8,436.8 372.2,434.8 370.6,429.4 369.0,431.8 367.5,435.1 365.9,437.2 364.3,439.5 362.7,441.6 361.1,443.3 359.6,444.2 358.0,444.1 356.4,443.0 354.8,441.2 353.3,439.0 351.7,436.8 350.1,434.8 348.5,429.4 346.9,431.8 345.4,435.1 343.8,437.2 342.2,439.5 340.6,441.6 339.1,443.3 337.5,444.2 335.9,443.8 334.3,442.4 332.7,440.4 331.2,438.2 329.6,436.0 328.0,434.2 326.4,425.5 324.8,434.1 323.3,435.8 321.7,438.0 320.1,440.2 318.5,442.2 316.9,443.7 315.4,444.3 313.8,444.1 312.2,443.0 310.6,441.2 309.1,439.0 307.5,436.8 305.9,434.8 304.3,429.4 302.7,431.8 301.2,435.1 299.6,437.2 298.0,439.5 296.4,441.6 294.9,443.3 293.3,444.2 291.7,444.1 290.1,443.0 288.5,441.2 287.0,439.0 285.4,436.8 283.8,434.8"/></clipPath><rect x="283.8" y="398.8" width="110.5" height="57.0" fill="#000" filter="url(#nc12)" clip-path="url(#cv12)" opacity="0.92"/><polyline points="283.8,417.3 285.4,416.3 287.0,415.2 288.5,414.1 290.1,413.2 291.7,412.6 293.3,412.5 294.9,413.0 296.4,413.9 298.0,414.9 299.6,416.1 301.2,417.1 302.7,417.9 304.3,418.0 305.9,417.3 307.5,416.3 309.1,415.2 310.6,414.1 312.2,413.2 313.8,412.6 315.4,412.5 316.9,412.8 318.5,413.5 320.1,414.5 321.7,415.7 323.3,416.7 324.8,417.6 326.4,418.2 328.0,417.5 329.6,416.6 331.2,415.5 332.7,414.4 334.3,413.4 335.9,412.7 337.5,412.5 339.1,413.0 340.6,413.9 342.2,414.9 343.8,416.1 345.4,417.1 346.9,417.9 348.5,418.0 350.1,417.3 351.7,416.3 353.3,415.2 354.8,414.1 356.4,413.2 358.0,412.6 359.6,412.5 361.1,413.0 362.7,413.9 364.3,414.9 365.9,416.1 367.5,417.1 369.0,417.9 370.6,418.0 372.2,417.3 373.8,416.3 375.4,415.2 376.9,414.1 378.5,413.2 380.1,412.6 381.7,412.5 383.2,413.0 384.8,413.9 386.4,414.9 388.0,416.1 389.6,417.1 391.1,417.9 392.7,418.0 394.3,417.3" fill="none" stroke="#f4f4f4" stroke-width="2.2" stroke-opacity="0.8" stroke-dasharray="17.6,1.6,12.0,2.5,17.1,2.0,15.2,1.9,17.5,2.0,10.9,1.8,11.9,1.1,7.2,2.4,11.9,1.7,8.2,1.7,18.5,2.0,15.2,1.8,6.2,0.8,7.4,1.8,17.7,2.4,16.2,2.0,8.6,0.9,16.8,1.2,15.1,2.3,6.9,2.1"/><polyline points="283.8,436.0 285.4,438.0 287.0,440.2 288.5,442.4 290.1,444.2 291.7,445.3 293.3,445.4 294.9,444.5 296.4,442.8 298.0,440.7 299.6,438.4 301.2,436.3 302.7,434.8 304.3,434.5 305.9,436.0 307.5,438.0 309.1,440.2 310.6,442.4 312.2,444.2 313.8,445.3 315.4,445.5 316.9,444.9 318.5,443.4 320.1,441.4 321.7,439.2 323.3,437.0 324.8,435.3 326.4,434.2 328.0,435.4 329.6,437.2 331.2,439.4 332.7,441.6 334.3,443.6 335.9,445.0 337.5,445.4 339.1,444.5 340.6,442.8 342.2,440.7 343.8,438.4 345.4,436.3 346.9,434.8 348.5,434.5 350.1,436.0 351.7,438.0 353.3,440.2 354.8,442.4 356.4,444.2 358.0,445.3 359.6,445.4 361.1,444.5 362.7,442.8 364.3,440.7 365.9,438.4 367.5,436.3 369.0,434.8 370.6,434.5 372.2,436.0 373.8,438.0 375.4,440.2 376.9,442.4 378.5,444.2 380.1,445.3 381.7,445.4 383.2,444.5 384.8,442.8 386.4,440.7 388.0,438.4 389.6,436.3 391.1,434.8 392.7,434.5 394.3,436.0" fill="none" stroke="#f4f4f4" stroke-width="2.3" stroke-opacity="0.8" stroke-dasharray="10.6,1.7,11.8,2.2,15.6,2.3,15.9,2.2,17.1,1.6,13.4,1.7,7.5,0.9,10.3,1.5,6.9,2.0,10.2,1.6,18.8,2.2,12.2,1.6,6.5,0.9,13.7,0.9,15.7,1.0,9.1,2.1,8.1,2.1,6.2,1.6,12.1,1.2,10.6,2.2"/><polyline points="283.8,438.8 285.4,440.8 287.0,443.0 288.5,445.2 290.1,447.0 291.7,448.1 293.3,448.2 294.9,447.3 296.4,445.6 298.0,443.5 299.6,441.2 301.2,439.1 302.7,437.6 304.3,437.3 305.9,438.8 307.5,440.8 309.1,443.0 310.6,445.2 312.2,447.0 313.8,448.1 315.4,448.3 316.9,447.7 318.5,446.2 320.1,444.2 321.7,442.0 323.3,439.8 324.8,438.1 326.4,437.0 328.0,438.2 329.6,440.0 331.2,442.2 332.7,444.4 334.3,446.4 335.9,447.8 337.5,448.2 339.1,447.3 340.6,445.6 342.2,443.5 343.8,441.2 345.4,439.1 346.9,437.6 348.5,437.3 350.1,438.8 351.7,440.8 353.3,443.0 354.8,445.2 356.4,447.0 358.0,448.1 359.6,448.2 361.1,447.3 362.7,445.6 364.3,443.5 365.9,441.2 367.5,439.1 369.0,437.6 370.6,437.3 372.2,438.8 373.8,440.8 375.4,443.0 376.9,445.2 378.5,447.0 380.1,448.1 381.7,448.2 383.2,447.3 384.8,445.6 386.4,443.5 388.0,441.2 389.6,439.1 391.1,437.6 392.7,437.3 394.3,438.8" fill="none" stroke="#e8e8e8" stroke-width="1.3" stroke-opacity="0.56" stroke-dasharray="7.2,1.4,9.4,1.8,9.3,2.1,10.8,1.5,10.2,2.1,13.2,1.5,6.3,1.7,13.0,1.9,8.6,2.1,5.8,1.6,14.3,2.0,11.6,1.2,5.9,3.0,5.8,2.5,6.2,2.2,9.7,1.4,9.2,3.0,10.9,2.4,5.0,2.9,9.8,2.2"/><polygon points="283.8,450.7 285.4,450.5 287.0,450.5 288.5,451.1 290.1,451.0 291.7,450.1 293.3,450.0 294.9,448.9 296.4,448.3 298.0,448.8 299.6,448.3 301.2,448.7 302.7,449.2 304.3,450.5 305.9,451.5 307.5,451.0 309.1,451.0 310.6,450.8 312.2,449.5 313.8,450.0 315.4,449.7 316.9,448.0 318.5,449.3 320.1,448.8 321.7,449.0 323.3,448.7 324.8,450.1 326.4,450.7 328.0,451.4 329.6,450.5 331.2,450.6 332.7,451.4 334.3,451.0 335.9,449.6 337.5,449.5 339.1,448.3 340.6,449.1 342.2,449.4 343.8,448.5 345.4,449.2 346.9,450.6 348.5,450.0 350.1,451.3 351.7,451.1 353.3,451.4 354.8,450.6 356.4,451.0 358.0,450.2 359.6,449.4 361.1,448.4 362.7,449.3 364.3,449.5 365.9,449.0 367.5,448.7 369.0,449.7 370.6,450.6 372.2,451.4 373.8,451.7 375.4,451.0 376.9,450.5 378.5,450.5 380.1,450.3 381.7,449.4 383.2,449.0 384.8,448.4 386.4,449.2 388.0,448.6 389.6,449.1 391.1,449.3 392.7,450.7 394.3,450.1 394.3,455.8 283.8,455.8" fill="#f6f6f6" fill-opacity="0.95"/><clipPath id="cb12"><polygon points="283.8,450.7 285.4,450.5 287.0,450.5 288.5,451.1 290.1,451.0 291.7,450.1 293.3,450.0 294.9,448.9 296.4,448.3 298.0,448.8 299.6,448.3 301.2,448.7 302.7,449.2 304.3,450.5 305.9,451.5 307.5,451.0 309.1,451.0 310.6,450.8 312.2,449.5 313.8,450.0 315.4,449.7 316.9,448.0 318.5,449.3 320.1,448.8 321.7,449.0 323.3,448.7 324.8,450.1 326.4,450.7 328.0,451.4 329.6,450.5 331.2,450.6 332.7,451.4 334.3,451.0 335.9,449.6 337.5,449.5 339.1,448.3 340.6,449.1 342.2,449.4 343.8,448.5 345.4,449.2 346.9,450.6 348.5,450.0 350.1,451.3 351.7,451.1 353.3,451.4 354.8,450.6 356.4,451.0 358.0,450.2 359.6,449.4 361.1,448.4 362.7,449.3 364.3,449.5 365.9,449.0 367.5,448.7 369.0,449.7 370.6,450.6 372.2,451.4 373.8,451.7 375.4,451.0 376.9,450.5 378.5,450.5 380.1,450.3 381.7,449.4 383.2,449.0 384.8,448.4 386.4,449.2 388.0,448.6 389.6,449.1 391.1,449.3 392.7,450.7 394.3,450.1 394.3,455.8 283.8,455.8"/></clipPath><rect x="283.8" y="398.8" width="110.5" height="57.0" fill="#000" filter="url(#nb12)" clip-path="url(#cb12)" opacity="0.22"/><rect x="283.8" y="398.8" width="110.5" height="2.2" fill="#e4e4e4" fill-opacity="0.85"/></g></g><rect x="284.3" y="399.3" width="109.5" height="56.0" fill="none" stroke="#666666" stroke-width="1"/><text x="445.50" y="395.50" font-size="8.5" fill="#a8283f" stroke="#a8283f" stroke-width="0.15" textLength="24.00" lengthAdjust="spacingAndGlyphs" >Cfz D6</text><clipPath id="c13"><rect x="399.5" y="398.8" width="110.0" height="57.5"/></clipPath><filter id="nu13" x="0" y="0" width="100%" height="100%" color-interpolation-filters="sRGB"><feTurbulence type="fractalNoise" baseFrequency="0.12 0.6" numOctaves="3" seed="16"/><feColorMatrix type="matrix" values="1.833 0 0 0 -0.748  1.833 0 0 0 -0.748  1.833 0 0 0 -0.748  0 0 0 0 1"/><feGaussianBlur stdDeviation="0.3"/></filter><filter id="nc13" x="0" y="0" width="100%" height="100%" color-interpolation-filters="sRGB"><feTurbulence type="fractalNoise" baseFrequency="0.3 0.5" numOctaves="2" seed="36"/><feColorMatrix type="matrix" values="0.333 0 0 0 -0.073  0.333 0 0 0 -0.073  0.333 0 0 0 -0.073  0 0 0 0 1"/></filter><filter id="nb13" x="0" y="0" width="100%" height="100%" color-interpolation-filters="sRGB"><feTurbulence type="fractalNoise" baseFrequency="0.3 0.6" numOctaves="2" seed="56"/><feColorMatrix type="matrix" values="3.000 0 0 0 -0.716  3.000 0 0 0 -0.716  3.000 0 0 0 -0.716  0 0 0 0 1"/><feGaussianBlur stdDeviation="0.3"/></filter><filter id="bl13" x="0" y="0" width="100%" height="100%"><feGaussianBlur stdDeviation="0.35"/></filter><g clip-path="url(#c13)"><g filter="url(#bl13)"><rect x="399.5" y="398.8" width="110.0" height="57.5" fill="#000" filter="url(#nu13)"/><filter id="nl13" x="0" y="0" width="100%" height="100%" color-interpolation-filters="sRGB"><feTurbulence type="fractalNoise" baseFrequency="0.22 0.5" numOctaves="3" seed="76"/><feColorMatrix type="matrix" values="2.000 0 0 0 -0.769  2.000 0 0 0 -0.769  2.000 0 0 0 -0.769  0 0 0 0 1"/><feGaussianBlur stdDeviation="0.35"/></filter><clipPath id="cl13"><polygon points="399.5,437.7 401.1,437.8 402.6,439.4 404.2,441.5 405.8,443.9 407.4,446.1 408.9,447.8 410.5,448.6 412.1,448.3 413.6,446.9 415.2,444.9 416.8,442.6 418.4,440.3 419.9,438.4 421.5,437.2 423.1,438.4 424.6,440.3 426.2,442.6 427.8,444.9 429.4,446.9 430.9,448.3 432.5,448.7 434.1,447.9 435.6,446.3 437.2,444.1 438.8,441.8 440.4,439.6 441.9,437.9 443.5,437.5 445.1,439.0 446.6,441.1 448.2,443.4 449.8,445.7 451.4,447.5 452.9,448.5 454.5,447.9 456.1,446.2 457.6,444.0 459.2,441.7 460.8,439.5 462.4,437.8 463.9,437.6 465.5,439.1 467.1,441.2 468.6,443.6 470.2,445.8 471.8,447.6 473.4,448.6 474.9,448.6 476.5,447.9 478.1,446.2 479.6,444.0 481.2,441.7 482.8,439.5 484.4,437.8 485.9,437.6 487.5,439.1 489.1,441.2 490.6,443.6 492.2,445.8 493.8,447.6 495.4,448.6 496.9,448.4 498.5,447.2 500.1,445.2 501.6,442.9 503.2,440.6 504.8,438.6 506.4,437.3 507.9,438.2 509.5,440.0 509.5,456.3 399.5,456.3"/></clipPath><rect x="399.5" y="398.8" width="110.0" height="57.5" fill="#000" filter="url(#nl13)" clip-path="url(#cl13)"/><polyline points="399.5,415.2 401.1,415.1 402.6,414.3 404.2,413.3 405.8,412.1 407.4,411.0 408.9,410.1 410.5,409.7 412.1,409.9 413.6,410.5 415.2,411.5 416.8,412.7 418.4,413.9 419.9,414.8 421.5,415.4 423.1,414.8 424.6,413.9 426.2,412.7 427.8,411.5 429.4,410.5 430.9,409.9 432.5,409.7 434.1,410.1 435.6,410.9 437.2,411.9 438.8,413.1 440.4,414.2 441.9,415.1 443.5,415.2 445.1,414.5 446.6,413.5 448.2,412.3 449.8,411.2 451.4,410.3 452.9,409.7 454.5,410.1 456.1,410.9 457.6,412.0 459.2,413.2 460.8,414.3 462.4,415.1 463.9,415.2 465.5,414.5 467.1,413.4 468.6,412.2 470.2,411.1 471.8,410.2 473.4,409.7 474.9,409.7 476.5,410.1 478.1,410.9 479.6,412.0 481.2,413.2 482.8,414.3 484.4,415.1 485.9,415.2 487.5,414.5 489.1,413.4 490.6,412.2 492.2,411.1 493.8,410.2 495.4,409.7 496.9,409.8 498.5,410.4 500.1,411.4 501.6,412.6 503.2,413.7 504.8,414.7 506.4,415.4 507.9,414.9 509.5,414.0" fill="none" stroke="#cfcfcf" stroke-width="1.2" stroke-opacity="0.45" stroke-dasharray="4.9,2.9,5.4,2.7,3.2,1.3,3.9,2.2,9.7,2.2,5.4,1.8,5.7,2.2,9.0,3.1,4.2,3.5,4.5,2.1,6.5,2.9,4.9,3.7,7.8,1.8,3.1,2.8,3.2,3.3,8.2,3.1,7.3,1.5,3.2,4.4,8.3,4.2,6.6,3.1"/><polyline points="399.5,411.2 401.1,411.1 402.6,410.3 404.2,409.3 405.8,408.1 407.4,407.0 408.9,406.1 410.5,405.7 412.1,405.9 413.6,406.5 415.2,407.5 416.8,408.7 418.4,409.9 419.9,410.8 421.5,411.4 423.1,410.8 424.6,409.9 426.2,408.7 427.8,407.5 429.4,406.5 430.9,405.9 432.5,405.7 434.1,406.1 435.6,406.9 437.2,407.9 438.8,409.1 440.4,410.2 441.9,411.1 443.5,411.2 445.1,410.5 446.6,409.5 448.2,408.3 449.8,407.2 451.4,406.3 452.9,405.7 454.5,406.1 456.1,406.9 457.6,408.0 459.2,409.2 460.8,410.3 462.4,411.1 463.9,411.2 465.5,410.5 467.1,409.4 468.6,408.2 470.2,407.1 471.8,406.2 473.4,405.7 474.9,405.7 476.5,406.1 478.1,406.9 479.6,408.0 481.2,409.2 482.8,410.3 484.4,411.1 485.9,411.2 487.5,410.5 489.1,409.4 490.6,408.2 492.2,407.1 493.8,406.2 495.4,405.7 496.9,405.8 498.5,406.4 500.1,407.4 501.6,408.6 503.2,409.7 504.8,410.7 506.4,411.4 507.9,410.9 509.5,410.0" fill="none" stroke="#e0e0e0" stroke-width="1.3" stroke-opacity="0.28" stroke-dasharray="5.3,3.4,7.2,1.6,7.9,1.4,9.5,3.7,7.6,4.7,4.6,1.8,7.4,4.6,9.5,4.2,7.2,2.4,8.5,3.5,9.1,4.0,6.4,3.6,4.4,2.1,8.4,3.8,3.2,1.8,5.9,3.3,5.5,2.5,9.6,2.5,6.1,4.8,5.3,3.1"/><polyline points="399.5,407.2 401.1,407.1 402.6,406.3 404.2,405.3 405.8,404.1 407.4,403.0 408.9,402.1 410.5,401.7 412.1,401.9 413.6,402.5 415.2,403.5 416.8,404.7 418.4,405.9 419.9,406.8 421.5,407.4 423.1,406.8 424.6,405.9 426.2,404.7 427.8,403.5 429.4,402.5 430.9,401.9 432.5,401.7 434.1,402.1 435.6,402.9 437.2,403.9 438.8,405.1 440.4,406.2 441.9,407.1 443.5,407.2 445.1,406.5 446.6,405.5 448.2,404.3 449.8,403.2 451.4,402.3 452.9,401.7 454.5,402.1 456.1,402.9 457.6,404.0 459.2,405.2 460.8,406.3 462.4,407.1 463.9,407.2 465.5,406.5 467.1,405.4 468.6,404.2 470.2,403.1 471.8,402.2 473.4,401.7 474.9,401.7 476.5,402.1 478.1,402.9 479.6,404.0 481.2,405.2 482.8,406.3 484.4,407.1 485.9,407.2 487.5,406.5 489.1,405.4 490.6,404.2 492.2,403.1 493.8,402.2 495.4,401.7 496.9,401.8 498.5,402.4 500.1,403.4 501.6,404.6 503.2,405.7 504.8,406.7 506.4,407.4 507.9,406.9 509.5,406.0" fill="none" stroke="#cfcfcf" stroke-width="1.0" stroke-opacity="0.37" stroke-dasharray="8.4,1.6,4.4,2.9,4.4,1.7,6.4,3.6,6.8,3.6,4.9,4.8,5.7,1.2,9.5,3.4,8.6,3.5,9.2,4.3,8.2,4.8,9.3,2.1,3.4,4.5,3.7,5.0,9.4,1.6,4.5,3.1,4.0,3.6,6.6,3.9,9.1,2.4,8.8,4.6"/><polyline points="399.5,439.7 401.1,439.8 402.6,441.4 404.2,443.5 405.8,445.9 407.4,448.1 408.9,449.8 410.5,450.6 412.1,450.3 413.6,448.9 415.2,446.9 416.8,444.6 418.4,442.3 419.9,440.4 421.5,439.2 423.1,440.4 424.6,442.3 426.2,444.6 427.8,446.9 429.4,448.9 430.9,450.3 432.5,450.7 434.1,449.9 435.6,448.3 437.2,446.1 438.8,443.8 440.4,441.6 441.9,439.9 443.5,439.5 445.1,441.0 446.6,443.1 448.2,445.4 449.8,447.7 451.4,449.5 452.9,450.5 454.5,449.9 456.1,448.2 457.6,446.0 459.2,443.7 460.8,441.5 462.4,439.8 463.9,439.6 465.5,441.1 467.1,443.2 468.6,445.6 470.2,447.8 471.8,449.6 473.4,450.6 474.9,450.6 476.5,449.9 478.1,448.2 479.6,446.0 481.2,443.7 482.8,441.5 484.4,439.8 485.9,439.6 487.5,441.1 489.1,443.2 490.6,445.6 492.2,447.8 493.8,449.6 495.4,450.6 496.9,450.4 498.5,449.2 500.1,447.2 501.6,444.9 503.2,442.6 504.8,440.6 506.4,439.3 507.9,440.2 509.5,442.0" fill="none" stroke="#c0c0c0" stroke-width="1.0" stroke-opacity="0.52" stroke-dasharray="8.4,2.0,5.2,1.0,3.9,3.4,6.7,3.6,11.7,3.2,6.2,1.3,11.2,1.5,4.3,2.3,5.4,1.8,4.6,1.2,3.2,3.8,3.9,2.3,8.8,2.7,10.9,3.9,8.4,2.3,8.7,2.1,4.6,2.4,7.6,1.7,7.1,2.1,3.7,3.9"/><polyline points="399.5,442.3 401.1,442.4 402.6,444.0 404.2,446.1 405.8,448.5 407.4,450.7 408.9,452.4 410.5,453.2 412.1,452.9 413.6,451.5 415.2,449.5 416.8,447.2 418.4,444.9 419.9,443.0 421.5,441.8 423.1,443.0 424.6,444.9 426.2,447.2 427.8,449.5 429.4,451.5 430.9,452.9 432.5,453.3 434.1,452.5 435.6,450.9 437.2,448.7 438.8,446.4 440.4,444.2 441.9,442.5 443.5,442.1 445.1,443.6 446.6,445.7 448.2,448.0 449.8,450.3 451.4,452.1 452.9,453.1 454.5,452.5 456.1,450.8 457.6,448.6 459.2,446.3 460.8,444.1 462.4,442.4 463.9,442.2 465.5,443.7 467.1,445.8 468.6,448.2 470.2,450.4 471.8,452.2 473.4,453.2 474.9,453.2 476.5,452.5 478.1,450.8 479.6,448.6 481.2,446.3 482.8,444.1 484.4,442.4 485.9,442.2 487.5,443.7 489.1,445.8 490.6,448.2 492.2,450.4 493.8,452.2 495.4,453.2 496.9,453.0 498.5,451.8 500.1,449.8 501.6,447.5 503.2,445.2 504.8,443.2 506.4,441.9 507.9,442.8 509.5,444.6" fill="none" stroke="#eeeeee" stroke-width="0.9" stroke-opacity="0.46" stroke-dasharray="4.3,1.4,3.2,3.4,9.0,3.8,5.7,3.0,4.8,3.0,10.0,1.6,6.9,2.6,5.5,3.5,9.2,1.1,5.3,2.2,3.6,3.1,5.1,2.8,9.9,1.8,11.1,3.3,9.9,3.7,8.2,1.0,11.6,1.7,11.9,2.3,8.6,3.3,4.0,2.1"/><polyline points="399.5,444.9 401.1,445.0 402.6,446.6 404.2,448.7 405.8,451.1 407.4,453.3 408.9,455.0 410.5,455.8 412.1,455.5 413.6,454.1 415.2,452.1 416.8,449.8 418.4,447.5 419.9,445.6 421.5,444.4 423.1,445.6 424.6,447.5 426.2,449.8 427.8,452.1 429.4,454.1 430.9,455.5 432.5,455.9 434.1,455.1 435.6,453.5 437.2,451.3 438.8,449.0 440.4,446.8 441.9,445.1 443.5,444.7 445.1,446.2 446.6,448.3 448.2,450.6 449.8,452.9 451.4,454.7 452.9,455.7 454.5,455.1 456.1,453.4 457.6,451.2 459.2,448.9 460.8,446.7 462.4,445.0 463.9,444.8 465.5,446.3 467.1,448.4 468.6,450.8 470.2,453.0 471.8,454.8 473.4,455.8 474.9,455.8 476.5,455.1 478.1,453.4 479.6,451.2 481.2,448.9 482.8,446.7 484.4,445.0 485.9,444.8 487.5,446.3 489.1,448.4 490.6,450.8 492.2,453.0 493.8,454.8 495.4,455.8 496.9,455.6 498.5,454.4 500.1,452.4 501.6,450.1 503.2,447.8 504.8,445.8 506.4,444.5 507.9,445.4 509.5,447.2" fill="none" stroke="#d8d8d8" stroke-width="1.3" stroke-opacity="0.48" stroke-dasharray="7.5,3.0,8.3,2.7,8.1,2.2,7.9,1.0,8.5,1.7,9.0,1.2,7.9,1.9,7.2,3.5,9.5,3.5,8.1,3.6,11.9,3.6,5.0,1.4,6.0,2.7,5.0,4.0,7.7,3.9,4.2,1.0,7.6,3.4,5.6,3.9,4.1,3.8,12.0,3.2"/><polyline points="399.5,447.5 401.1,447.6 402.6,449.2 404.2,451.3 405.8,453.7 407.4,455.9 408.9,457.6 410.5,458.4 412.1,458.1 413.6,456.7 415.2,454.7 416.8,452.4 418.4,450.1 419.9,448.2 421.5,447.0 423.1,448.2 424.6,450.1 426.2,452.4 427.8,454.7 429.4,456.7 430.9,458.1 432.5,458.5 434.1,457.7 435.6,456.1 437.2,453.9 438.8,451.6 440.4,449.4 441.9,447.7 443.5,447.3 445.1,448.8 446.6,450.9 448.2,453.2 449.8,455.5 451.4,457.3 452.9,458.3 454.5,457.7 456.1,456.0 457.6,453.8 459.2,451.5 460.8,449.3 462.4,447.6 463.9,447.4 465.5,448.9 467.1,451.0 468.6,453.4 470.2,455.6 471.8,457.4 473.4,458.4 474.9,458.4 476.5,457.7 478.1,456.0 479.6,453.8 481.2,451.5 482.8,449.3 484.4,447.6 485.9,447.4 487.5,448.9 489.1,451.0 490.6,453.4 492.2,455.6 493.8,457.4 495.4,458.4 496.9,458.2 498.5,457.0 500.1,455.0 501.6,452.7 503.2,450.4 504.8,448.4 506.4,447.1 507.9,448.0 509.5,449.8" fill="none" stroke="#eeeeee" stroke-width="1.4" stroke-opacity="0.38" stroke-dasharray="4.5,2.5,3.6,1.2,9.6,3.6,3.3,1.2,7.3,1.6,3.9,2.2,5.2,3.5,9.6,1.3,10.7,2.3,6.6,3.6,11.8,1.3,5.0,1.8,12.0,3.3,3.2,3.5,5.6,2.3,9.0,1.5,11.6,1.9,10.3,3.3,9.5,1.3,6.4,2.7"/><clipPath id="cv13"><polygon points="399.5,421.5 401.1,420.4 402.6,419.0 404.2,418.0 405.8,416.8 407.4,415.7 408.9,414.8 410.5,414.4 412.1,414.6 413.6,415.2 415.2,416.2 416.8,417.4 418.4,418.6 419.9,419.5 421.5,428.8 423.1,419.5 424.6,418.6 426.2,417.4 427.8,416.2 429.4,415.2 430.9,414.6 432.5,414.4 434.1,414.8 435.6,415.6 437.2,416.6 438.8,417.8 440.4,418.9 441.9,419.8 443.5,423.4 445.1,419.2 446.6,418.2 448.2,417.0 449.8,415.9 451.4,415.0 452.9,414.4 454.5,414.8 456.1,415.6 457.6,416.7 459.2,417.9 460.8,419.0 462.4,419.8 463.9,422.6 465.5,419.2 467.1,418.1 468.6,416.9 470.2,415.8 471.8,414.9 473.4,414.4 474.9,414.4 476.5,414.8 478.1,415.6 479.6,416.7 481.2,417.9 482.8,419.0 484.4,419.8 485.9,422.6 487.5,419.2 489.1,418.1 490.6,416.9 492.2,415.8 493.8,414.9 495.4,414.4 496.9,414.5 498.5,415.1 500.1,416.1 501.6,417.3 503.2,418.4 504.8,419.4 506.4,426.7 507.9,419.6 509.5,418.7 509.5,437.8 507.9,436.0 506.4,428.4 504.8,436.4 503.2,438.4 501.6,440.7 500.1,443.0 498.5,445.0 496.9,446.2 495.4,446.4 493.8,445.4 492.2,443.6 490.6,441.4 489.1,439.0 487.5,436.9 485.9,432.7 484.4,435.6 482.8,437.3 481.2,439.5 479.6,441.8 478.1,444.0 476.5,445.7 474.9,446.4 473.4,446.4 471.8,445.4 470.2,443.6 468.6,441.4 467.1,439.0 465.5,436.9 463.9,432.7 462.4,435.6 460.8,437.3 459.2,439.5 457.6,441.8 456.1,444.0 454.5,445.7 452.9,446.3 451.4,445.3 449.8,443.5 448.2,441.2 446.6,438.9 445.1,436.8 443.5,431.9 441.9,435.7 440.4,437.4 438.8,439.6 437.2,441.9 435.6,444.1 434.1,445.7 432.5,446.5 430.9,446.1 429.4,444.7 427.8,442.7 426.2,440.4 424.6,438.1 423.1,436.2 421.5,426.4 419.9,436.2 418.4,438.1 416.8,440.4 415.2,442.7 413.6,444.7 412.1,446.1 410.5,446.4 408.9,445.6 407.4,443.9 405.8,441.7 404.2,439.3 402.6,437.2 401.1,435.0 399.5,433.9"/></clipPath><rect x="399.5" y="398.8" width="110.0" height="57.5" fill="#000" filter="url(#nc13)" clip-path="url(#cv13)" opacity="0.92"/><polyline points="399.5,418.7 401.1,418.6 402.6,417.8 404.2,416.8 405.8,415.6 407.4,414.5 408.9,413.6 410.5,413.2 412.1,413.4 413.6,414.0 415.2,415.0 416.8,416.2 418.4,417.4 419.9,418.3 421.5,418.9 423.1,418.3 424.6,417.4 426.2,416.2 427.8,415.0 429.4,414.0 430.9,413.4 432.5,413.2 434.1,413.6 435.6,414.4 437.2,415.4 438.8,416.6 440.4,417.7 441.9,418.6 443.5,418.7 445.1,418.0 446.6,417.0 448.2,415.8 449.8,414.7 451.4,413.8 452.9,413.2 454.5,413.6 456.1,414.4 457.6,415.5 459.2,416.7 460.8,417.8 462.4,418.6 463.9,418.7 465.5,418.0 467.1,416.9 468.6,415.7 470.2,414.6 471.8,413.7 473.4,413.2 474.9,413.2 476.5,413.6 478.1,414.4 479.6,415.5 481.2,416.7 482.8,417.8 484.4,418.6 485.9,418.7 487.5,418.0 489.1,416.9 490.6,415.7 492.2,414.6 493.8,413.7 495.4,413.2 496.9,413.3 498.5,413.9 500.1,414.9 501.6,416.1 503.2,417.2 504.8,418.2 506.4,418.9 507.9,418.4 509.5,417.5" fill="none" stroke="#f4f4f4" stroke-width="2.2" stroke-opacity="0.8" stroke-dasharray="7.6,2.3,18.0,1.7,8.8,1.4,9.7,2.1,19.7,2.1,19.3,2.3,16.8,2.0,11.8,1.8,14.9,1.5,12.8,1.3,19.4,1.0,9.7,1.4,14.7,1.8,9.4,1.0,15.8,2.4,9.0,0.9,19.4,1.2,11.2,1.6,6.1,2.3,16.0,2.0"/><polyline points="399.5,436.7 401.1,436.8 402.6,438.4 404.2,440.5 405.8,442.9 407.4,445.1 408.9,446.8 410.5,447.6 412.1,447.3 413.6,445.9 415.2,443.9 416.8,441.6 418.4,439.3 419.9,437.4 421.5,436.2 423.1,437.4 424.6,439.3 426.2,441.6 427.8,443.9 429.4,445.9 430.9,447.3 432.5,447.7 434.1,446.9 435.6,445.3 437.2,443.1 438.8,440.8 440.4,438.6 441.9,436.9 443.5,436.5 445.1,438.0 446.6,440.1 448.2,442.4 449.8,444.7 451.4,446.5 452.9,447.5 454.5,446.9 456.1,445.2 457.6,443.0 459.2,440.7 460.8,438.5 462.4,436.8 463.9,436.6 465.5,438.1 467.1,440.2 468.6,442.6 470.2,444.8 471.8,446.6 473.4,447.6 474.9,447.6 476.5,446.9 478.1,445.2 479.6,443.0 481.2,440.7 482.8,438.5 484.4,436.8 485.9,436.6 487.5,438.1 489.1,440.2 490.6,442.6 492.2,444.8 493.8,446.6 495.4,447.6 496.9,447.4 498.5,446.2 500.1,444.2 501.6,441.9 503.2,439.6 504.8,437.6 506.4,436.3 507.9,437.2 509.5,439.0" fill="none" stroke="#f4f4f4" stroke-width="2.3" stroke-opacity="0.8" stroke-dasharray="17.4,2.2,12.3,0.9,16.9,2.1,13.0,2.2,12.4,1.0,8.2,1.8,19.0,1.5,15.6,1.8,12.6,1.0,9.6,1.9,10.3,1.2,19.6,1.6,10.4,1.3,14.7,1.4,17.0,2.0,18.6,1.2,15.0,1.6,10.9,1.5,10.1,2.0,18.5,2.3"/><polyline points="399.5,439.5 401.1,439.6 402.6,441.2 404.2,443.3 405.8,445.7 407.4,447.9 408.9,449.6 410.5,450.4 412.1,450.1 413.6,448.7 415.2,446.7 416.8,444.4 418.4,442.1 419.9,440.2 421.5,439.0 423.1,440.2 424.6,442.1 426.2,444.4 427.8,446.7 429.4,448.7 430.9,450.1 432.5,450.5 434.1,449.7 435.6,448.1 437.2,445.9 438.8,443.6 440.4,441.4 441.9,439.7 443.5,439.3 445.1,440.8 446.6,442.9 448.2,445.2 449.8,447.5 451.4,449.3 452.9,450.3 454.5,449.7 456.1,448.0 457.6,445.8 459.2,443.5 460.8,441.3 462.4,439.6 463.9,439.4 465.5,440.9 467.1,443.0 468.6,445.4 470.2,447.6 471.8,449.4 473.4,450.4 474.9,450.4 476.5,449.7 478.1,448.0 479.6,445.8 481.2,443.5 482.8,441.3 484.4,439.6 485.9,439.4 487.5,440.9 489.1,443.0 490.6,445.4 492.2,447.6 493.8,449.4 495.4,450.4 496.9,450.2 498.5,449.0 500.1,447.0 501.6,444.7 503.2,442.4 504.8,440.4 506.4,439.1 507.9,440.0 509.5,441.8" fill="none" stroke="#e8e8e8" stroke-width="1.3" stroke-opacity="0.56" stroke-dasharray="9.7,1.8,13.8,1.9,6.9,1.1,12.5,2.6,8.1,1.3,8.6,2.8,9.9,1.4,7.2,1.1,13.3,1.9,7.6,2.7,13.6,1.8,12.9,1.3,11.2,1.3,9.3,2.5,7.3,1.9,12.7,2.9,9.7,2.7,6.7,2.3,13.6,1.8,14.8,1.5"/><polygon points="399.5,451.4 401.1,450.8 402.6,451.5 404.2,450.8 405.8,451.1 407.4,449.3 408.9,449.4 410.5,449.2 412.1,449.7 413.6,448.9 415.2,450.0 416.8,450.0 418.4,449.8 419.9,450.3 421.5,452.1 423.1,451.1 424.6,451.4 426.2,451.2 427.8,450.0 429.4,450.0 430.9,449.9 432.5,449.1 434.1,449.5 435.6,449.3 437.2,450.4 438.8,450.8 440.4,451.6 441.9,451.3 443.5,451.9 445.1,451.6 446.6,451.3 448.2,450.4 449.8,450.7 451.4,449.3 452.9,449.1 454.5,448.9 456.1,448.4 457.6,450.3 459.2,449.4 460.8,451.0 462.4,450.7 463.9,451.9 465.5,450.9 467.1,450.5 468.6,450.3 470.2,449.9 471.8,450.4 473.4,449.6 474.9,449.2 476.5,449.6 478.1,449.5 479.6,450.4 481.2,450.2 482.8,450.4 484.4,452.0 485.9,451.1 487.5,452.1 489.1,450.5 490.6,450.3 492.2,450.2 493.8,448.9 495.4,449.3 496.9,448.9 498.5,449.9 500.1,448.8 501.6,450.0 503.2,450.3 504.8,451.3 506.4,451.4 507.9,451.5 509.5,452.1 509.5,456.3 399.5,456.3" fill="#f6f6f6" fill-opacity="0.95"/><clipPath id="cb13"><polygon points="399.5,451.4 401.1,450.8 402.6,451.5 404.2,450.8 405.8,451.1 407.4,449.3 408.9,449.4 410.5,449.2 412.1,449.7 413.6,448.9 415.2,450.0 416.8,450.0 418.4,449.8 419.9,450.3 421.5,452.1 423.1,451.1 424.6,451.4 426.2,451.2 427.8,450.0 429.4,450.0 430.9,449.9 432.5,449.1 434.1,449.5 435.6,449.3 437.2,450.4 438.8,450.8 440.4,451.6 441.9,451.3 443.5,451.9 445.1,451.6 446.6,451.3 448.2,450.4 449.8,450.7 451.4,449.3 452.9,449.1 454.5,448.9 456.1,448.4 457.6,450.3 459.2,449.4 460.8,451.0 462.4,450.7 463.9,451.9 465.5,450.9 467.1,450.5 468.6,450.3 470.2,449.9 471.8,450.4 473.4,449.6 474.9,449.2 476.5,449.6 478.1,449.5 479.6,450.4 481.2,450.2 482.8,450.4 484.4,452.0 485.9,451.1 487.5,452.1 489.1,450.5 490.6,450.3 492.2,450.2 493.8,448.9 495.4,449.3 496.9,448.9 498.5,449.9 500.1,448.8 501.6,450.0 503.2,450.3 504.8,451.3 506.4,451.4 507.9,451.5 509.5,452.1 509.5,456.3 399.5,456.3"/></clipPath><rect x="399.5" y="398.8" width="110.0" height="57.5" fill="#000" filter="url(#nb13)" clip-path="url(#cb13)" opacity="0.22"/><rect x="399.5" y="398.8" width="110.0" height="2.2" fill="#e4e4e4" fill-opacity="0.85"/></g></g><rect x="400.0" y="399.3" width="109.0" height="56.5" fill="none" stroke="#666666" stroke-width="1"/><text x="325.00" y="470.00" font-size="8.5" fill="#a8283f" stroke="#a8283f" stroke-width="0.15" textLength="26.75" lengthAdjust="spacingAndGlyphs" >Met D6</text><clipPath id="c14"><rect x="283.8" y="472.5" width="110.5" height="57.5"/></clipPath><filter id="nu14" x="0" y="0" width="100%" height="100%" color-interpolation-filters="sRGB"><feTurbulence type="fractalNoise" baseFrequency="0.12 0.6" numOctaves="3" seed="17"/><feColorMatrix type="matrix" values="1.833 0 0 0 -0.768  1.833 0 0 0 -0.768  1.833 0 0 0 -0.768  0 0 0 0 1"/><feGaussianBlur stdDeviation="0.3"/></filter><filter id="nc14" x="0" y="0" width="100%" height="100%" color-interpolation-filters="sRGB"><feTurbulence type="fractalNoise" baseFrequency="0.3 0.5" numOctaves="2" seed="37"/><feColorMatrix type="matrix" values="0.333 0 0 0 -0.073  0.333 0 0 0 -0.073  0.333 0 0 0 -0.073  0 0 0 0 1"/></filter><filter id="nb14" x="0" y="0" width="100%" height="100%" color-interpolation-filters="sRGB"><feTurbulence type="fractalNoise" baseFrequency="0.3 0.6" numOctaves="2" seed="57"/><feColorMatrix type="matrix" values="3.000 0 0 0 -0.716  3.000 0 0 0 -0.716  3.000 0 0 0 -0.716  0 0 0 0 1"/><feGaussianBlur stdDeviation="0.3"/></filter><filter id="bl14" x="0" y="0" width="100%" height="100%"><feGaussianBlur stdDeviation="0.35"/></filter><g clip-path="url(#c14)"><g filter="url(#bl14)"><rect x="283.8" y="472.5" width="110.5" height="57.5" fill="#000" filter="url(#nu14)"/><filter id="nl14" x="0" y="0" width="100%" height="100%" color-interpolation-filters="sRGB"><feTurbulence type="fractalNoise" baseFrequency="0.22 0.5" numOctaves="3" seed="77"/><feColorMatrix type="matrix" values="2.000 0 0 0 -0.710  2.000 0 0 0 -0.710  2.000 0 0 0 -0.710  0 0 0 0 1"/><feGaussianBlur stdDeviation="0.35"/></filter><clipPath id="cl14"><polygon points="283.8,507.4 285.4,509.3 287.0,511.8 288.5,514.5 290.1,517.2 291.7,519.3 293.3,520.5 294.9,520.4 296.4,519.0 298.0,516.8 299.6,514.1 301.2,511.3 302.7,508.9 304.3,507.2 305.9,507.8 307.5,509.8 309.1,512.4 310.6,515.2 312.2,517.7 313.8,519.7 315.4,520.6 316.9,520.0 318.5,518.3 320.1,515.9 321.7,513.1 323.3,510.4 324.8,508.2 326.4,506.9 328.0,508.4 329.6,510.7 331.2,513.4 332.7,516.1 334.3,518.5 335.9,520.1 337.5,520.6 339.1,519.5 340.6,517.5 342.2,514.9 343.8,512.1 345.4,509.6 346.9,507.6 348.5,507.3 350.1,509.1 351.7,511.6 353.3,514.3 354.8,517.0 356.4,519.2 358.0,520.5 359.6,520.6 361.1,519.5 362.7,517.5 364.3,514.9 365.9,512.1 367.5,509.6 369.0,507.6 370.6,507.3 372.2,509.1 373.8,511.6 375.4,514.3 376.9,517.0 378.5,519.2 380.1,520.5 381.7,520.4 383.2,519.1 384.8,516.9 386.4,514.2 388.0,511.5 389.6,509.1 391.1,507.3 392.7,507.7 394.3,509.7 394.3,530.0 283.8,530.0"/></clipPath><rect x="283.8" y="472.5" width="110.5" height="57.5" fill="#000" filter="url(#nl14)" clip-path="url(#cl14)"/><polyline points="283.8,488.7 285.4,487.4 287.0,485.7 288.5,483.7 290.1,481.8 291.7,480.3 293.3,479.5 294.9,479.5 296.4,480.5 298.0,482.1 299.6,484.0 301.2,486.0 302.7,487.7 304.3,488.9 305.9,488.5 307.5,487.0 309.1,485.2 310.6,483.2 312.2,481.4 313.8,480.0 315.4,479.4 316.9,479.8 318.5,481.0 320.1,482.7 321.7,484.7 323.3,486.6 324.8,488.1 326.4,489.1 328.0,488.0 329.6,486.4 331.2,484.5 332.7,482.6 334.3,480.9 335.9,479.7 337.5,479.4 339.1,480.2 340.6,481.6 342.2,483.4 343.8,485.4 345.4,487.2 346.9,488.6 348.5,488.8 350.1,487.5 351.7,485.8 353.3,483.8 354.8,481.9 356.4,480.4 358.0,479.5 359.6,479.4 361.1,480.2 362.7,481.6 364.3,483.4 365.9,485.4 367.5,487.2 369.0,488.6 370.6,488.8 372.2,487.5 373.8,485.8 375.4,483.8 376.9,481.9 378.5,480.4 380.1,479.5 381.7,479.5 383.2,480.4 384.8,482.0 386.4,483.9 388.0,485.8 389.6,487.6 391.1,488.8 392.7,488.5 394.3,487.1" fill="none" stroke="#e0e0e0" stroke-width="0.9" stroke-opacity="0.49" stroke-dasharray="9.3,3.9,7.7,2.8,5.2,1.9,9.0,3.9,5.6,1.6,3.8,3.7,5.1,2.1,5.0,1.8,9.4,4.0,6.0,4.8,4.4,1.1,3.0,4.8,9.1,2.6,9.3,3.4,9.3,4.4,9.7,4.2,5.7,1.0,5.7,3.9,8.1,3.9,4.5,2.5"/><polyline points="283.8,484.7 285.4,483.4 287.0,481.7 288.5,479.7 290.1,477.8 291.7,476.3 293.3,475.5 294.9,475.5 296.4,476.5 298.0,478.1 299.6,480.0 301.2,482.0 302.7,483.7 304.3,484.9 305.9,484.5 307.5,483.0 309.1,481.2 310.6,479.2 312.2,477.4 313.8,476.0 315.4,475.4 316.9,475.8 318.5,477.0 320.1,478.7 321.7,480.7 323.3,482.6 324.8,484.1 326.4,485.1 328.0,484.0 329.6,482.4 331.2,480.5 332.7,478.6 334.3,476.9 335.9,475.7 337.5,475.4 339.1,476.2 340.6,477.6 342.2,479.4 343.8,481.4 345.4,483.2 346.9,484.6 348.5,484.8 350.1,483.5 351.7,481.8 353.3,479.8 354.8,477.9 356.4,476.4 358.0,475.5 359.6,475.4 361.1,476.2 362.7,477.6 364.3,479.4 365.9,481.4 367.5,483.2 369.0,484.6 370.6,484.8 372.2,483.5 373.8,481.8 375.4,479.8 376.9,477.9 378.5,476.4 380.1,475.5 381.7,475.5 383.2,476.4 384.8,478.0 386.4,479.9 388.0,481.8 389.6,483.6 391.1,484.8 392.7,484.5 394.3,483.1" fill="none" stroke="#e0e0e0" stroke-width="1.0" stroke-opacity="0.44" stroke-dasharray="5.4,2.7,5.0,3.7,4.9,4.5,6.6,1.2,5.3,1.9,9.2,2.3,9.9,4.1,5.1,3.2,7.2,4.2,3.0,2.3,7.2,4.2,8.9,1.5,7.5,1.2,4.0,2.9,3.6,1.1,7.2,1.8,6.8,2.3,6.4,4.1,8.4,3.1,6.9,3.4"/><polyline points="283.8,480.7 285.4,479.4 287.0,477.7 288.5,475.7 290.1,473.8 291.7,472.3 293.3,471.5 294.9,471.5 296.4,472.5 298.0,474.1 299.6,476.0 301.2,478.0 302.7,479.7 304.3,480.9 305.9,480.5 307.5,479.0 309.1,477.2 310.6,475.2 312.2,473.4 313.8,472.0 315.4,471.4 316.9,471.8 318.5,473.0 320.1,474.7 321.7,476.7 323.3,478.6 324.8,480.1 326.4,481.1 328.0,480.0 329.6,478.4 331.2,476.5 332.7,474.6 334.3,472.9 335.9,471.7 337.5,471.4 339.1,472.2 340.6,473.6 342.2,475.4 343.8,477.4 345.4,479.2 346.9,480.6 348.5,480.8 350.1,479.5 351.7,477.8 353.3,475.8 354.8,473.9 356.4,472.4 358.0,471.5 359.6,471.4 361.1,472.2 362.7,473.6 364.3,475.4 365.9,477.4 367.5,479.2 369.0,480.6 370.6,480.8 372.2,479.5 373.8,477.8 375.4,475.8 376.9,473.9 378.5,472.4 380.1,471.5 381.7,471.5 383.2,472.4 384.8,474.0 386.4,475.9 388.0,477.8 389.6,479.6 391.1,480.8 392.7,480.5 394.3,479.1" fill="none" stroke="#cfcfcf" stroke-width="1.0" stroke-opacity="0.30" stroke-dasharray="8.2,3.5,5.9,1.7,4.1,2.8,7.7,2.2,3.1,2.8,4.6,4.0,7.9,3.0,3.6,3.7,6.3,4.1,8.6,1.6,5.0,3.2,3.7,1.7,8.0,1.2,4.7,1.5,9.3,3.8,8.3,4.3,4.6,4.3,5.5,2.6,3.6,2.1,5.7,4.3"/><polyline points="283.8,509.4 285.4,511.3 287.0,513.8 288.5,516.5 290.1,519.2 291.7,521.3 293.3,522.5 294.9,522.4 296.4,521.0 298.0,518.8 299.6,516.1 301.2,513.3 302.7,510.9 304.3,509.2 305.9,509.8 307.5,511.8 309.1,514.4 310.6,517.2 312.2,519.7 313.8,521.7 315.4,522.6 316.9,522.0 318.5,520.3 320.1,517.9 321.7,515.1 323.3,512.4 324.8,510.2 326.4,508.9 328.0,510.4 329.6,512.7 331.2,515.4 332.7,518.1 334.3,520.5 335.9,522.1 337.5,522.6 339.1,521.5 340.6,519.5 342.2,516.9 343.8,514.1 345.4,511.6 346.9,509.6 348.5,509.3 350.1,511.1 351.7,513.6 353.3,516.3 354.8,519.0 356.4,521.2 358.0,522.5 359.6,522.6 361.1,521.5 362.7,519.5 364.3,516.9 365.9,514.1 367.5,511.6 369.0,509.6 370.6,509.3 372.2,511.1 373.8,513.6 375.4,516.3 376.9,519.0 378.5,521.2 380.1,522.5 381.7,522.4 383.2,521.1 384.8,518.9 386.4,516.2 388.0,513.5 389.6,511.1 391.1,509.3 392.7,509.7 394.3,511.7" fill="none" stroke="#c0c0c0" stroke-width="1.2" stroke-opacity="0.42" stroke-dasharray="6.6,2.3,8.2,1.7,4.0,2.0,6.0,3.5,4.6,3.8,5.5,3.7,3.8,3.7,10.0,3.5,8.0,2.8,7.9,3.4,10.0,1.6,9.2,1.0,9.4,1.7,11.1,1.8,11.5,2.3,5.2,2.5,6.6,1.8,11.0,3.0,7.0,1.3,11.9,1.1"/><polyline points="283.8,512.0 285.4,513.9 287.0,516.4 288.5,519.1 290.1,521.8 291.7,523.9 293.3,525.1 294.9,525.0 296.4,523.6 298.0,521.4 299.6,518.7 301.2,515.9 302.7,513.5 304.3,511.8 305.9,512.4 307.5,514.4 309.1,517.0 310.6,519.8 312.2,522.3 313.8,524.3 315.4,525.2 316.9,524.6 318.5,522.9 320.1,520.5 321.7,517.7 323.3,515.0 324.8,512.8 326.4,511.5 328.0,513.0 329.6,515.3 331.2,518.0 332.7,520.7 334.3,523.1 335.9,524.7 337.5,525.2 339.1,524.1 340.6,522.1 342.2,519.5 343.8,516.7 345.4,514.2 346.9,512.2 348.5,511.9 350.1,513.7 351.7,516.2 353.3,518.9 354.8,521.6 356.4,523.8 358.0,525.1 359.6,525.2 361.1,524.1 362.7,522.1 364.3,519.5 365.9,516.7 367.5,514.2 369.0,512.2 370.6,511.9 372.2,513.7 373.8,516.2 375.4,518.9 376.9,521.6 378.5,523.8 380.1,525.1 381.7,525.0 383.2,523.7 384.8,521.5 386.4,518.8 388.0,516.1 389.6,513.7 391.1,511.9 392.7,512.3 394.3,514.3" fill="none" stroke="#eeeeee" stroke-width="1.3" stroke-opacity="0.50" stroke-dasharray="3.5,1.8,9.5,1.1,6.8,3.0,5.0,2.6,3.4,1.4,3.7,2.5,6.6,3.3,9.4,3.2,3.1,2.4,11.9,2.6,8.6,3.4,4.5,4.0,6.3,2.5,11.9,1.2,9.7,1.4,10.0,1.9,9.8,2.5,9.2,3.7,9.7,3.3,5.0,3.3"/><polyline points="283.8,514.6 285.4,516.5 287.0,519.0 288.5,521.7 290.1,524.4 291.7,526.5 293.3,527.7 294.9,527.6 296.4,526.2 298.0,524.0 299.6,521.3 301.2,518.5 302.7,516.1 304.3,514.4 305.9,515.0 307.5,517.0 309.1,519.6 310.6,522.4 312.2,524.9 313.8,526.9 315.4,527.8 316.9,527.2 318.5,525.5 320.1,523.1 321.7,520.3 323.3,517.6 324.8,515.4 326.4,514.1 328.0,515.6 329.6,517.9 331.2,520.6 332.7,523.3 334.3,525.7 335.9,527.3 337.5,527.8 339.1,526.7 340.6,524.7 342.2,522.1 343.8,519.3 345.4,516.8 346.9,514.8 348.5,514.5 350.1,516.3 351.7,518.8 353.3,521.5 354.8,524.2 356.4,526.4 358.0,527.7 359.6,527.8 361.1,526.7 362.7,524.7 364.3,522.1 365.9,519.3 367.5,516.8 369.0,514.8 370.6,514.5 372.2,516.3 373.8,518.8 375.4,521.5 376.9,524.2 378.5,526.4 380.1,527.7 381.7,527.6 383.2,526.3 384.8,524.1 386.4,521.4 388.0,518.7 389.6,516.3 391.1,514.5 392.7,514.9 394.3,516.9" fill="none" stroke="#eeeeee" stroke-width="1.4" stroke-opacity="0.51" stroke-dasharray="4.8,2.7,11.6,1.6,7.2,1.1,7.7,1.6,4.5,3.4,4.2,1.4,10.4,1.4,9.6,2.9,4.2,3.4,4.6,2.5,9.5,2.3,7.7,2.1,9.3,2.1,11.4,3.2,6.1,1.7,12.0,1.5,5.3,2.2,10.5,1.5,7.8,3.8,7.4,2.0"/><polyline points="283.8,517.2 285.4,519.1 287.0,521.6 288.5,524.3 290.1,527.0 291.7,529.1 293.3,530.3 294.9,530.2 296.4,528.8 298.0,526.6 299.6,523.9 301.2,521.1 302.7,518.7 304.3,517.0 305.9,517.6 307.5,519.6 309.1,522.2 310.6,525.0 312.2,527.5 313.8,529.5 315.4,530.4 316.9,529.8 318.5,528.1 320.1,525.7 321.7,522.9 323.3,520.2 324.8,518.0 326.4,516.7 328.0,518.2 329.6,520.5 331.2,523.2 332.7,525.9 334.3,528.3 335.9,529.9 337.5,530.4 339.1,529.3 340.6,527.3 342.2,524.7 343.8,521.9 345.4,519.4 346.9,517.4 348.5,517.1 350.1,518.9 351.7,521.4 353.3,524.1 354.8,526.8 356.4,529.0 358.0,530.3 359.6,530.4 361.1,529.3 362.7,527.3 364.3,524.7 365.9,521.9 367.5,519.4 369.0,517.4 370.6,517.1 372.2,518.9 373.8,521.4 375.4,524.1 376.9,526.8 378.5,529.0 380.1,530.3 381.7,530.2 383.2,528.9 384.8,526.7 386.4,524.0 388.0,521.3 389.6,518.9 391.1,517.1 392.7,517.5 394.3,519.5" fill="none" stroke="#d8d8d8" stroke-width="1.4" stroke-opacity="0.53" stroke-dasharray="7.1,2.4,5.8,1.3,5.2,2.6,6.0,3.8,10.9,2.0,9.8,2.9,5.7,2.8,3.2,1.9,8.0,2.9,9.4,3.7,11.4,3.5,8.4,2.4,6.4,2.1,4.2,1.9,7.9,2.0,4.8,3.0,6.1,2.8,4.0,2.8,6.8,3.9,3.9,1.8"/><clipPath id="cv14"><polygon points="283.8,498.5 285.4,493.1 287.0,490.4 288.5,488.4 290.1,486.5 291.7,485.0 293.3,484.2 294.9,484.2 296.4,485.2 298.0,486.8 299.6,488.7 301.2,490.7 302.7,494.1 304.3,499.2 305.9,497.4 307.5,491.7 309.1,489.9 310.6,487.9 312.2,486.1 313.8,484.7 315.4,484.1 316.9,484.5 318.5,485.7 320.1,487.4 321.7,489.4 323.3,491.3 324.8,496.2 326.4,500.2 328.0,495.6 329.6,491.1 331.2,489.2 332.7,487.3 334.3,485.6 335.9,484.4 337.5,484.1 339.1,484.9 340.6,486.3 342.2,488.1 343.8,490.1 345.4,492.2 346.9,497.9 348.5,498.8 350.1,493.5 351.7,490.5 353.3,488.5 354.8,486.6 356.4,485.1 358.0,484.2 359.6,484.1 361.1,484.9 362.7,486.3 364.3,488.1 365.9,490.1 367.5,492.2 369.0,497.9 370.6,498.8 372.2,493.5 373.8,490.5 375.4,488.5 376.9,486.6 378.5,485.1 380.1,484.2 381.7,484.2 383.2,485.1 384.8,486.7 386.4,488.6 388.0,490.5 389.6,493.7 391.1,499.0 392.7,497.8 394.3,491.9 394.3,507.4 392.7,501.0 391.1,499.7 389.6,505.4 388.0,509.3 386.4,512.0 384.8,514.7 383.2,516.9 381.7,518.2 380.1,518.3 378.5,517.0 376.9,514.8 375.4,512.1 373.8,509.4 372.2,505.6 370.6,499.8 369.0,500.8 367.5,507.1 365.9,509.9 364.3,512.7 362.7,515.3 361.1,517.3 359.6,518.4 358.0,518.3 356.4,517.0 354.8,514.8 353.3,512.1 351.7,509.4 350.1,505.6 348.5,499.8 346.9,500.8 345.4,507.1 343.8,509.9 342.2,512.7 340.6,515.3 339.1,517.3 337.5,518.4 335.9,517.9 334.3,516.3 332.7,513.9 331.2,511.2 329.6,508.5 328.0,503.3 326.4,498.2 324.8,502.7 323.3,508.2 321.7,510.9 320.1,513.7 318.5,516.1 316.9,517.8 315.4,518.4 313.8,517.5 312.2,515.5 310.6,513.0 309.1,510.2 307.5,507.6 305.9,501.3 304.3,499.3 302.7,504.9 301.2,509.1 299.6,511.9 298.0,514.6 296.4,516.8 294.9,518.2 293.3,518.3 291.7,517.1 290.1,515.0 288.5,512.3 287.0,509.6 285.4,506.1 283.8,500.1"/></clipPath><rect x="283.8" y="472.5" width="110.5" height="57.5" fill="#000" filter="url(#nc14)" clip-path="url(#cv14)" opacity="0.92"/><polyline points="283.8,492.2 285.4,490.9 287.0,489.2 288.5,487.2 290.1,485.3 291.7,483.8 293.3,483.0 294.9,483.0 296.4,484.0 298.0,485.6 299.6,487.5 301.2,489.5 302.7,491.2 304.3,492.4 305.9,492.0 307.5,490.5 309.1,488.7 310.6,486.7 312.2,484.9 313.8,483.5 315.4,482.9 316.9,483.3 318.5,484.5 320.1,486.2 321.7,488.2 323.3,490.1 324.8,491.6 326.4,492.6 328.0,491.5 329.6,489.9 331.2,488.0 332.7,486.1 334.3,484.4 335.9,483.2 337.5,482.9 339.1,483.7 340.6,485.1 342.2,486.9 343.8,488.9 345.4,490.7 346.9,492.1 348.5,492.3 350.1,491.0 351.7,489.3 353.3,487.3 354.8,485.4 356.4,483.9 358.0,483.0 359.6,482.9 361.1,483.7 362.7,485.1 364.3,486.9 365.9,488.9 367.5,490.7 369.0,492.1 370.6,492.3 372.2,491.0 373.8,489.3 375.4,487.3 376.9,485.4 378.5,483.9 380.1,483.0 381.7,483.0 383.2,483.9 384.8,485.5 386.4,487.4 388.0,489.3 389.6,491.1 391.1,492.3 392.7,492.0 394.3,490.6" fill="none" stroke="#f4f4f4" stroke-width="2.2" stroke-opacity="0.3" stroke-dasharray="16.5,1.6,14.7,2.5,13.8,1.0,8.5,2.1,6.8,2.1,9.1,1.1,18.6,1.7,8.8,2.2,16.4,2.4,18.9,1.6,18.1,0.8,14.4,1.3,11.7,2.4,13.8,1.5,13.6,2.5,7.1,1.3,7.4,1.8,17.1,0.9,13.7,1.7,19.5,1.2"/><polyline points="283.8,506.4 285.4,508.3 287.0,510.8 288.5,513.5 290.1,516.2 291.7,518.3 293.3,519.5 294.9,519.4 296.4,518.0 298.0,515.8 299.6,513.1 301.2,510.3 302.7,507.9 304.3,506.2 305.9,506.8 307.5,508.8 309.1,511.4 310.6,514.2 312.2,516.7 313.8,518.7 315.4,519.6 316.9,519.0 318.5,517.3 320.1,514.9 321.7,512.1 323.3,509.4 324.8,507.2 326.4,505.9 328.0,507.4 329.6,509.7 331.2,512.4 332.7,515.1 334.3,517.5 335.9,519.1 337.5,519.6 339.1,518.5 340.6,516.5 342.2,513.9 343.8,511.1 345.4,508.6 346.9,506.6 348.5,506.3 350.1,508.1 351.7,510.6 353.3,513.3 354.8,516.0 356.4,518.2 358.0,519.5 359.6,519.6 361.1,518.5 362.7,516.5 364.3,513.9 365.9,511.1 367.5,508.6 369.0,506.6 370.6,506.3 372.2,508.1 373.8,510.6 375.4,513.3 376.9,516.0 378.5,518.2 380.1,519.5 381.7,519.4 383.2,518.1 384.8,515.9 386.4,513.2 388.0,510.5 389.6,508.1 391.1,506.3 392.7,506.7 394.3,508.7" fill="none" stroke="#f4f4f4" stroke-width="2.3" stroke-opacity="0.8" stroke-dasharray="17.7,1.5,17.7,2.4,11.3,1.6,8.3,2.1,18.8,1.3,15.6,1.7,14.4,2.3,9.0,1.7,16.5,1.5,18.6,2.4,19.9,1.2,19.2,2.2,7.5,0.9,6.4,2.0,15.4,0.8,15.6,0.9,18.9,1.2,14.4,1.7,16.1,2.0,6.3,2.1"/><polyline points="283.8,509.2 285.4,511.1 287.0,513.6 288.5,516.3 290.1,519.0 291.7,521.1 293.3,522.3 294.9,522.2 296.4,520.8 298.0,518.6 299.6,515.9 301.2,513.1 302.7,510.7 304.3,509.0 305.9,509.6 307.5,511.6 309.1,514.2 310.6,517.0 312.2,519.5 313.8,521.5 315.4,522.4 316.9,521.8 318.5,520.1 320.1,517.7 321.7,514.9 323.3,512.2 324.8,510.0 326.4,508.7 328.0,510.2 329.6,512.5 331.2,515.2 332.7,517.9 334.3,520.3 335.9,521.9 337.5,522.4 339.1,521.3 340.6,519.3 342.2,516.7 343.8,513.9 345.4,511.4 346.9,509.4 348.5,509.1 350.1,510.9 351.7,513.4 353.3,516.1 354.8,518.8 356.4,521.0 358.0,522.3 359.6,522.4 361.1,521.3 362.7,519.3 364.3,516.7 365.9,513.9 367.5,511.4 369.0,509.4 370.6,509.1 372.2,510.9 373.8,513.4 375.4,516.1 376.9,518.8 378.5,521.0 380.1,522.3 381.7,522.2 383.2,520.9 384.8,518.7 386.4,516.0 388.0,513.3 389.6,510.9 391.1,509.1 392.7,509.5 394.3,511.5" fill="none" stroke="#e8e8e8" stroke-width="1.3" stroke-opacity="0.56" stroke-dasharray="8.1,1.9,8.9,1.0,5.8,1.6,6.2,1.6,12.5,1.2,9.5,1.7,5.5,2.5,8.1,2.9,8.1,2.5,11.0,2.6,12.1,1.1,13.2,2.6,14.6,2.8,12.0,2.9,6.0,2.1,9.2,1.0,5.9,2.1,8.1,1.1,5.3,2.1,8.9,2.4"/><polygon points="283.8,526.8 285.4,526.4 287.0,526.8 288.5,525.4 290.1,526.2 291.7,524.7 293.3,524.9 294.9,523.5 296.4,523.3 298.0,523.7 299.6,524.8 301.2,525.2 302.7,526.0 304.3,525.3 305.9,526.4 307.5,526.3 309.1,526.7 310.6,525.7 312.2,525.0 313.8,524.1 315.4,523.9 316.9,524.2 318.5,524.5 320.1,524.1 321.7,524.6 323.3,525.2 324.8,524.8 326.4,525.5 328.0,526.6 329.6,526.7 331.2,525.7 332.7,525.6 334.3,525.5 335.9,524.1 337.5,523.6 339.1,524.2 340.6,523.7 342.2,524.9 343.8,525.1 345.4,524.9 346.9,525.8 348.5,525.3 350.1,525.5 351.7,526.9 353.3,525.9 354.8,524.8 356.4,525.9 358.0,524.0 359.6,523.4 361.1,523.9 362.7,524.0 364.3,523.5 365.9,525.2 367.5,524.9 369.0,525.5 370.6,526.2 372.2,526.8 373.8,525.5 375.4,525.7 376.9,526.2 378.5,525.4 380.1,524.1 381.7,523.5 383.2,523.8 384.8,523.3 386.4,523.6 388.0,524.4 389.6,525.3 391.1,526.1 392.7,525.8 394.3,526.9 394.3,530.0 283.8,530.0" fill="#f6f6f6" fill-opacity="0.95"/><clipPath id="cb14"><polygon points="283.8,526.8 285.4,526.4 287.0,526.8 288.5,525.4 290.1,526.2 291.7,524.7 293.3,524.9 294.9,523.5 296.4,523.3 298.0,523.7 299.6,524.8 301.2,525.2 302.7,526.0 304.3,525.3 305.9,526.4 307.5,526.3 309.1,526.7 310.6,525.7 312.2,525.0 313.8,524.1 315.4,523.9 316.9,524.2 318.5,524.5 320.1,524.1 321.7,524.6 323.3,525.2 324.8,524.8 326.4,525.5 328.0,526.6 329.6,526.7 331.2,525.7 332.7,525.6 334.3,525.5 335.9,524.1 337.5,523.6 339.1,524.2 340.6,523.7 342.2,524.9 343.8,525.1 345.4,524.9 346.9,525.8 348.5,525.3 350.1,525.5 351.7,526.9 353.3,525.9 354.8,524.8 356.4,525.9 358.0,524.0 359.6,523.4 361.1,523.9 362.7,524.0 364.3,523.5 365.9,525.2 367.5,524.9 369.0,525.5 370.6,526.2 372.2,526.8 373.8,525.5 375.4,525.7 376.9,526.2 378.5,525.4 380.1,524.1 381.7,523.5 383.2,523.8 384.8,523.3 386.4,523.6 388.0,524.4 389.6,525.3 391.1,526.1 392.7,525.8 394.3,526.9 394.3,530.0 283.8,530.0"/></clipPath><rect x="283.8" y="472.5" width="110.5" height="57.5" fill="#000" filter="url(#nb14)" clip-path="url(#cb14)" opacity="0.22"/><rect x="283.8" y="472.5" width="110.5" height="2.2" fill="#e4e4e4" fill-opacity="0.85"/></g></g><rect x="284.3" y="473.0" width="109.5" height="56.5" fill="none" stroke="#666666" stroke-width="1"/><text x="436.25" y="470.00" font-size="8.5" fill="#a8283f" stroke="#a8283f" stroke-width="0.15" textLength="43.00" lengthAdjust="spacingAndGlyphs" >Cfz+Met D6</text><clipPath id="c15"><rect x="399.3" y="473" width="110.19999999999999" height="57"/></clipPath><filter id="nu15" x="0" y="0" width="100%" height="100%" color-interpolation-filters="sRGB"><feTurbulence type="fractalNoise" baseFrequency="0.12 0.6" numOctaves="3" seed="18"/><feColorMatrix type="matrix" values="1.833 0 0 0 -0.768  1.833 0 0 0 -0.768  1.833 0 0 0 -0.768  0 0 0 0 1"/><feGaussianBlur stdDeviation="0.3"/></filter><filter id="nc15" x="0" y="0" width="100%" height="100%" color-interpolation-filters="sRGB"><feTurbulence type="fractalNoise" baseFrequency="0.3 0.5" numOctaves="2" seed="38"/><feColorMatrix type="matrix" values="0.333 0 0 0 -0.073  0.333 0 0 0 -0.073  0.333 0 0 0 -0.073  0 0 0 0 1"/></filter><filter id="nb15" x="0" y="0" width="100%" height="100%" color-interpolation-filters="sRGB"><feTurbulence type="fractalNoise" baseFrequency="0.3 0.6" numOctaves="2" seed="58"/><feColorMatrix type="matrix" values="3.000 0 0 0 -0.716  3.000 0 0 0 -0.716  3.000 0 0 0 -0.716  0 0 0 0 1"/><feGaussianBlur stdDeviation="0.3"/></filter><filter id="bl15" x="0" y="0" width="100%" height="100%"><feGaussianBlur stdDeviation="0.35"/></filter><g clip-path="url(#c15)"><g filter="url(#bl15)"><rect x="399.3" y="473" width="110.19999999999999" height="57" fill="#000" filter="url(#nu15)"/><filter id="nl15" x="0" y="0" width="100%" height="100%" color-interpolation-filters="sRGB"><feTurbulence type="fractalNoise" baseFrequency="0.22 0.5" numOctaves="3" seed="78"/><feColorMatrix type="matrix" values="2.000 0 0 0 -0.710  2.000 0 0 0 -0.710  2.000 0 0 0 -0.710  0 0 0 0 1"/><feGaussianBlur stdDeviation="0.35"/></filter><clipPath id="cl15"><polygon points="399.3,504.9 400.9,504.1 402.4,506.5 404.0,509.8 405.6,513.6 407.2,517.2 408.7,520.1 410.3,521.7 411.9,521.4 413.5,519.4 415.0,516.2 416.6,512.4 418.2,508.7 419.8,505.7 421.3,503.6 422.9,505.7 424.5,508.7 426.1,512.4 427.6,516.2 429.2,519.4 430.8,521.4 432.4,521.9 433.9,520.9 435.5,518.4 437.1,514.9 438.7,511.1 440.2,507.6 441.8,504.8 443.4,504.2 445.0,506.6 446.5,510.0 448.1,513.8 449.7,517.4 451.3,520.2 452.8,521.8 454.4,521.7 456.0,520.1 457.5,517.2 459.1,513.6 460.7,509.8 462.3,506.5 463.8,504.1 465.4,504.9 467.0,507.7 468.6,511.3 470.1,515.1 471.7,518.5 473.3,520.9 474.9,521.3 476.4,519.1 478.0,515.8 479.6,512.1 481.2,508.4 482.7,505.4 484.3,503.8 485.9,505.9 487.5,509.1 489.0,512.8 490.6,516.6 492.2,519.6 493.8,521.5 495.3,521.6 496.9,519.9 498.5,516.9 500.1,513.2 501.6,509.5 503.2,506.2 504.8,504.0 506.4,505.2 507.9,508.1 509.5,511.7 509.5,530.0 399.3,530.0"/></clipPath><rect x="399.3" y="473" width="110.19999999999999" height="57" fill="#000" filter="url(#nl15)" clip-path="url(#cl15)"/><polyline points="399.3,489.4 400.9,489.8 402.4,488.6 404.0,486.9 405.6,485.0 407.2,483.2 408.7,481.8 410.3,481.0 411.9,481.1 413.5,482.2 415.0,483.7 416.6,485.6 418.2,487.5 419.8,489.0 421.3,490.0 422.9,489.0 424.5,487.5 426.1,485.6 427.6,483.7 429.2,482.2 430.8,481.1 432.4,480.9 433.9,481.4 435.5,482.7 437.1,484.4 438.7,486.3 440.2,488.1 441.8,489.4 443.4,489.7 445.0,488.5 446.5,486.8 448.1,484.9 449.7,483.1 451.3,481.7 452.8,481.0 454.4,481.0 456.0,481.8 457.5,483.2 459.1,485.0 460.7,486.9 462.3,488.6 463.8,489.8 465.4,489.4 467.0,488.0 468.6,486.2 470.1,484.3 471.7,482.6 473.3,481.4 474.9,481.2 476.4,482.3 478.0,483.9 479.6,485.8 481.2,487.6 482.7,489.1 484.3,489.9 485.9,488.9 487.5,487.3 489.0,485.4 490.6,483.6 492.2,482.0 493.8,481.1 495.3,481.0 496.9,481.9 498.5,483.4 500.1,485.2 501.6,487.1 503.2,488.7 504.8,489.9 506.4,489.3 507.9,487.8 509.5,486.0" fill="none" stroke="#cfcfcf" stroke-width="1.3" stroke-opacity="0.40" stroke-dasharray="8.8,1.1,4.9,1.8,4.6,3.7,9.1,4.7,5.7,1.2,5.1,3.1,8.8,4.8,5.6,4.2,8.1,2.5,5.4,2.9,4.2,3.4,9.9,4.4,7.8,1.5,3.9,3.5,4.8,3.1,4.8,3.9,6.0,4.0,4.4,3.6,3.2,4.4,4.1,4.6"/><polyline points="399.3,485.4 400.9,485.8 402.4,484.6 404.0,482.9 405.6,481.0 407.2,479.2 408.7,477.8 410.3,477.0 411.9,477.1 413.5,478.2 415.0,479.7 416.6,481.6 418.2,483.5 419.8,485.0 421.3,486.0 422.9,485.0 424.5,483.5 426.1,481.6 427.6,479.7 429.2,478.2 430.8,477.1 432.4,476.9 433.9,477.4 435.5,478.7 437.1,480.4 438.7,482.3 440.2,484.1 441.8,485.4 443.4,485.7 445.0,484.5 446.5,482.8 448.1,480.9 449.7,479.1 451.3,477.7 452.8,477.0 454.4,477.0 456.0,477.8 457.5,479.2 459.1,481.0 460.7,482.9 462.3,484.6 463.8,485.8 465.4,485.4 467.0,484.0 468.6,482.2 470.1,480.3 471.7,478.6 473.3,477.4 474.9,477.2 476.4,478.3 478.0,479.9 479.6,481.8 481.2,483.6 482.7,485.1 484.3,485.9 485.9,484.9 487.5,483.3 489.0,481.4 490.6,479.6 492.2,478.0 493.8,477.1 495.3,477.0 496.9,477.9 498.5,479.4 500.1,481.2 501.6,483.1 503.2,484.7 504.8,485.9 506.4,485.3 507.9,483.8 509.5,482.0" fill="none" stroke="#e0e0e0" stroke-width="1.3" stroke-opacity="0.42" stroke-dasharray="7.2,4.6,9.3,2.8,5.8,4.3,8.7,3.8,8.4,2.8,6.8,1.4,7.9,4.2,4.5,3.3,3.8,4.1,9.8,3.9,9.9,2.9,7.4,1.4,6.0,1.8,3.5,2.5,8.5,4.1,7.5,4.7,7.3,4.5,8.6,2.2,9.3,3.3,5.0,4.9"/><polyline points="399.3,481.4 400.9,481.8 402.4,480.6 404.0,478.9 405.6,477.0 407.2,475.2 408.7,473.8 410.3,473.0 411.9,473.1 413.5,474.2 415.0,475.7 416.6,477.6 418.2,479.5 419.8,481.0 421.3,482.0 422.9,481.0 424.5,479.5 426.1,477.6 427.6,475.7 429.2,474.2 430.8,473.1 432.4,472.9 433.9,473.4 435.5,474.7 437.1,476.4 438.7,478.3 440.2,480.1 441.8,481.4 443.4,481.7 445.0,480.5 446.5,478.8 448.1,476.9 449.7,475.1 451.3,473.7 452.8,473.0 454.4,473.0 456.0,473.8 457.5,475.2 459.1,477.0 460.7,478.9 462.3,480.6 463.8,481.8 465.4,481.4 467.0,480.0 468.6,478.2 470.1,476.3 471.7,474.6 473.3,473.4 474.9,473.2 476.4,474.3 478.0,475.9 479.6,477.8 481.2,479.6 482.7,481.1 484.3,481.9 485.9,480.9 487.5,479.3 489.0,477.4 490.6,475.6 492.2,474.0 493.8,473.1 495.3,473.0 496.9,473.9 498.5,475.4 500.1,477.2 501.6,479.1 503.2,480.7 504.8,481.9 506.4,481.3 507.9,479.8 509.5,478.0" fill="none" stroke="#b0b0b0" stroke-width="1.1" stroke-opacity="0.36" stroke-dasharray="4.1,1.2,4.7,2.0,3.3,1.0,5.3,4.5,6.7,3.7,5.3,4.8,7.9,1.1,6.9,1.9,3.5,4.7,9.3,3.3,9.3,1.1,9.0,2.5,4.6,2.0,6.2,4.2,6.3,4.8,5.0,1.0,8.9,2.8,8.1,3.6,5.2,1.8,8.1,2.1"/><polyline points="399.3,506.9 400.9,506.1 402.4,508.5 404.0,511.8 405.6,515.6 407.2,519.2 408.7,522.1 410.3,523.7 411.9,523.4 413.5,521.4 415.0,518.2 416.6,514.4 418.2,510.7 419.8,507.7 421.3,505.6 422.9,507.7 424.5,510.7 426.1,514.4 427.6,518.2 429.2,521.4 430.8,523.4 432.4,523.9 433.9,522.9 435.5,520.4 437.1,516.9 438.7,513.1 440.2,509.6 441.8,506.8 443.4,506.2 445.0,508.6 446.5,512.0 448.1,515.8 449.7,519.4 451.3,522.2 452.8,523.8 454.4,523.7 456.0,522.1 457.5,519.2 459.1,515.6 460.7,511.8 462.3,508.5 463.8,506.1 465.4,506.9 467.0,509.7 468.6,513.3 470.1,517.1 471.7,520.5 473.3,522.9 474.9,523.3 476.4,521.1 478.0,517.8 479.6,514.1 481.2,510.4 482.7,507.4 484.3,505.8 485.9,507.9 487.5,511.1 489.0,514.8 490.6,518.6 492.2,521.6 493.8,523.5 495.3,523.6 496.9,521.9 498.5,518.9 500.1,515.2 501.6,511.5 503.2,508.2 504.8,506.0 506.4,507.2 507.9,510.1 509.5,513.7" fill="none" stroke="#d8d8d8" stroke-width="1.1" stroke-opacity="0.45" stroke-dasharray="11.4,2.3,10.2,3.2,8.8,2.8,9.4,3.2,11.5,2.6,6.8,3.7,10.4,1.8,11.4,3.0,6.0,1.3,8.6,2.3,10.8,3.6,7.7,3.7,7.6,1.1,5.6,1.9,5.4,3.1,7.9,1.6,11.9,2.0,3.7,1.0,7.1,2.6,7.3,2.3"/><polyline points="399.3,509.5 400.9,508.7 402.4,511.1 404.0,514.4 405.6,518.2 407.2,521.8 408.7,524.7 410.3,526.3 411.9,526.0 413.5,524.0 415.0,520.8 416.6,517.0 418.2,513.3 419.8,510.3 421.3,508.2 422.9,510.3 424.5,513.3 426.1,517.0 427.6,520.8 429.2,524.0 430.8,526.0 432.4,526.5 433.9,525.5 435.5,523.0 437.1,519.5 438.7,515.7 440.2,512.2 441.8,509.4 443.4,508.8 445.0,511.2 446.5,514.6 448.1,518.4 449.7,522.0 451.3,524.8 452.8,526.4 454.4,526.3 456.0,524.7 457.5,521.8 459.1,518.2 460.7,514.4 462.3,511.1 463.8,508.7 465.4,509.5 467.0,512.3 468.6,515.9 470.1,519.7 471.7,523.1 473.3,525.5 474.9,525.9 476.4,523.7 478.0,520.4 479.6,516.7 481.2,513.0 482.7,510.0 484.3,508.4 485.9,510.5 487.5,513.7 489.0,517.4 490.6,521.2 492.2,524.2 493.8,526.1 495.3,526.2 496.9,524.5 498.5,521.5 500.1,517.8 501.6,514.1 503.2,510.8 504.8,508.6 506.4,509.8 507.9,512.7 509.5,516.3" fill="none" stroke="#eeeeee" stroke-width="1.1" stroke-opacity="0.39" stroke-dasharray="9.5,1.2,11.5,2.6,7.5,1.6,4.4,2.6,7.3,2.0,9.2,3.5,9.7,1.3,9.1,1.2,6.3,3.1,8.6,2.1,8.4,2.7,5.5,3.0,8.1,3.5,8.4,2.3,10.2,3.7,4.7,1.2,9.0,4.0,3.7,1.3,6.2,1.1,8.1,1.1"/><polyline points="399.3,512.1 400.9,511.3 402.4,513.7 404.0,517.0 405.6,520.8 407.2,524.4 408.7,527.3 410.3,528.9 411.9,528.6 413.5,526.6 415.0,523.4 416.6,519.6 418.2,515.9 419.8,512.9 421.3,510.8 422.9,512.9 424.5,515.9 426.1,519.6 427.6,523.4 429.2,526.6 430.8,528.6 432.4,529.1 433.9,528.1 435.5,525.6 437.1,522.1 438.7,518.3 440.2,514.8 441.8,512.0 443.4,511.4 445.0,513.8 446.5,517.2 448.1,521.0 449.7,524.6 451.3,527.4 452.8,529.0 454.4,528.9 456.0,527.3 457.5,524.4 459.1,520.8 460.7,517.0 462.3,513.7 463.8,511.3 465.4,512.1 467.0,514.9 468.6,518.5 470.1,522.3 471.7,525.7 473.3,528.1 474.9,528.5 476.4,526.3 478.0,523.0 479.6,519.3 481.2,515.6 482.7,512.6 484.3,511.0 485.9,513.1 487.5,516.3 489.0,520.0 490.6,523.8 492.2,526.8 493.8,528.7 495.3,528.8 496.9,527.1 498.5,524.1 500.1,520.4 501.6,516.7 503.2,513.4 504.8,511.2 506.4,512.4 507.9,515.3 509.5,518.9" fill="none" stroke="#c0c0c0" stroke-width="1.1" stroke-opacity="0.39" stroke-dasharray="6.0,1.2,10.8,1.5,7.6,3.1,8.5,2.4,8.5,1.6,4.9,2.0,5.2,2.1,3.7,1.9,5.5,1.7,8.5,2.0,8.8,3.2,8.1,1.4,8.1,3.0,8.2,3.6,3.9,3.2,9.1,3.5,5.3,3.7,10.3,2.2,6.7,3.4,3.1,2.6"/><polyline points="399.3,514.7 400.9,513.9 402.4,516.3 404.0,519.6 405.6,523.4 407.2,527.0 408.7,529.9 410.3,531.5 411.9,531.2 413.5,529.2 415.0,526.0 416.6,522.2 418.2,518.5 419.8,515.5 421.3,513.4 422.9,515.5 424.5,518.5 426.1,522.2 427.6,526.0 429.2,529.2 430.8,531.2 432.4,531.7 433.9,530.7 435.5,528.2 437.1,524.7 438.7,520.9 440.2,517.4 441.8,514.6 443.4,514.0 445.0,516.4 446.5,519.8 448.1,523.6 449.7,527.2 451.3,530.0 452.8,531.6 454.4,531.5 456.0,529.9 457.5,527.0 459.1,523.4 460.7,519.6 462.3,516.3 463.8,513.9 465.4,514.7 467.0,517.5 468.6,521.1 470.1,524.9 471.7,528.3 473.3,530.7 474.9,531.1 476.4,528.9 478.0,525.6 479.6,521.9 481.2,518.2 482.7,515.2 484.3,513.6 485.9,515.7 487.5,518.9 489.0,522.6 490.6,526.4 492.2,529.4 493.8,531.3 495.3,531.4 496.9,529.7 498.5,526.7 500.1,523.0 501.6,519.3 503.2,516.0 504.8,513.8 506.4,515.0 507.9,517.9 509.5,521.5" fill="none" stroke="#d8d8d8" stroke-width="1.0" stroke-opacity="0.53" stroke-dasharray="6.8,3.1,6.5,1.7,5.7,2.9,6.8,1.7,7.9,1.0,3.6,3.6,6.0,2.9,11.7,3.8,11.8,1.5,7.7,1.7,3.4,1.3,9.7,1.6,4.2,3.3,4.3,1.8,8.1,2.7,5.7,2.4,10.8,2.1,7.9,1.3,9.0,2.2,6.7,1.2"/><clipPath id="cv15"><polygon points="399.3,497.2 400.9,498.5 402.4,494.5 404.0,491.6 405.6,489.7 407.2,487.9 408.7,486.5 410.3,485.7 411.9,485.8 413.5,486.9 415.0,488.4 416.6,490.3 418.2,492.2 419.8,496.0 421.3,499.3 422.9,496.0 424.5,492.2 426.1,490.3 427.6,488.4 429.2,486.9 430.8,485.8 432.4,485.6 433.9,486.1 435.5,487.4 437.1,489.1 438.7,491.0 440.2,492.8 441.8,497.4 443.4,498.3 445.0,494.3 446.5,491.5 448.1,489.6 449.7,487.8 451.3,486.4 452.8,485.7 454.4,485.7 456.0,486.5 457.5,487.9 459.1,489.7 460.7,491.6 462.3,494.5 463.8,498.5 465.4,497.2 467.0,492.7 468.6,490.9 470.1,489.0 471.7,487.3 473.3,486.1 474.9,485.9 476.4,487.0 478.0,488.6 479.6,490.5 481.2,492.3 482.7,496.4 484.3,499.0 485.9,495.5 487.5,492.0 489.0,490.1 490.6,488.3 492.2,486.7 493.8,485.8 495.3,485.7 496.9,486.6 498.5,488.1 500.1,489.9 501.6,491.8 503.2,495.0 504.8,498.8 506.4,496.8 507.9,492.5 509.5,490.7 509.5,509.5 507.9,505.9 506.4,500.1 504.8,497.6 503.2,502.4 501.6,507.3 500.1,511.0 498.5,514.7 496.9,517.7 495.3,519.4 493.8,519.3 492.2,517.4 490.6,514.4 489.0,510.6 487.5,506.9 485.9,501.8 484.3,497.2 482.7,500.6 481.2,506.2 479.6,509.9 478.0,513.6 476.4,516.9 474.9,519.1 473.3,518.7 471.7,516.3 470.1,512.9 468.6,509.1 467.0,505.5 465.4,499.6 463.8,497.9 462.3,503.1 460.7,507.6 459.1,511.4 457.5,515.0 456.0,517.9 454.4,519.5 452.8,519.6 451.3,518.0 449.7,515.2 448.1,511.6 446.5,507.8 445.0,503.4 443.4,498.1 441.8,499.4 440.2,505.4 438.7,508.9 437.1,512.7 435.5,516.2 433.9,518.7 432.4,519.7 430.8,519.2 429.2,517.2 427.6,514.0 426.1,510.2 424.5,506.5 422.9,501.2 421.3,496.9 419.8,501.2 418.2,506.5 416.6,510.2 415.0,514.0 413.5,517.2 411.9,519.2 410.3,519.5 408.7,517.9 407.2,515.0 405.6,511.4 404.0,507.6 402.4,503.1 400.9,497.9 399.3,499.6"/></clipPath><rect x="399.3" y="473" width="110.19999999999999" height="57" fill="#000" filter="url(#nc15)" clip-path="url(#cv15)" opacity="0.92"/><polyline points="399.3,492.9 400.9,493.3 402.4,492.1 404.0,490.4 405.6,488.5 407.2,486.7 408.7,485.3 410.3,484.5 411.9,484.6 413.5,485.7 415.0,487.2 416.6,489.1 418.2,491.0 419.8,492.5 421.3,493.5 422.9,492.5 424.5,491.0 426.1,489.1 427.6,487.2 429.2,485.7 430.8,484.6 432.4,484.4 433.9,484.9 435.5,486.2 437.1,487.9 438.7,489.8 440.2,491.6 441.8,492.9 443.4,493.2 445.0,492.0 446.5,490.3 448.1,488.4 449.7,486.6 451.3,485.2 452.8,484.5 454.4,484.5 456.0,485.3 457.5,486.7 459.1,488.5 460.7,490.4 462.3,492.1 463.8,493.3 465.4,492.9 467.0,491.5 468.6,489.7 470.1,487.8 471.7,486.1 473.3,484.9 474.9,484.7 476.4,485.8 478.0,487.4 479.6,489.3 481.2,491.1 482.7,492.6 484.3,493.4 485.9,492.4 487.5,490.8 489.0,488.9 490.6,487.1 492.2,485.5 493.8,484.6 495.3,484.5 496.9,485.4 498.5,486.9 500.1,488.7 501.6,490.6 503.2,492.2 504.8,493.4 506.4,492.8 507.9,491.3 509.5,489.5" fill="none" stroke="#f4f4f4" stroke-width="2.2" stroke-opacity="0.6" stroke-dasharray="18.3,2.2,7.0,2.4,17.1,2.4,15.9,0.8,7.0,0.8,12.8,0.9,10.0,0.8,8.1,2.4,10.6,2.3,8.2,1.4,6.0,1.9,16.9,2.4,13.8,1.2,11.0,1.1,6.8,1.5,17.8,1.1,14.5,2.5,19.1,2.4,15.8,1.7,15.1,2.2"/><polyline points="399.3,503.9 400.9,503.1 402.4,505.5 404.0,508.8 405.6,512.6 407.2,516.2 408.7,519.1 410.3,520.7 411.9,520.4 413.5,518.4 415.0,515.2 416.6,511.4 418.2,507.7 419.8,504.7 421.3,502.6 422.9,504.7 424.5,507.7 426.1,511.4 427.6,515.2 429.2,518.4 430.8,520.4 432.4,520.9 433.9,519.9 435.5,517.4 437.1,513.9 438.7,510.1 440.2,506.6 441.8,503.8 443.4,503.2 445.0,505.6 446.5,509.0 448.1,512.8 449.7,516.4 451.3,519.2 452.8,520.8 454.4,520.7 456.0,519.1 457.5,516.2 459.1,512.6 460.7,508.8 462.3,505.5 463.8,503.1 465.4,503.9 467.0,506.7 468.6,510.3 470.1,514.1 471.7,517.5 473.3,519.9 474.9,520.3 476.4,518.1 478.0,514.8 479.6,511.1 481.2,507.4 482.7,504.4 484.3,502.8 485.9,504.9 487.5,508.1 489.0,511.8 490.6,515.6 492.2,518.6 493.8,520.5 495.3,520.6 496.9,518.9 498.5,515.9 500.1,512.2 501.6,508.5 503.2,505.2 504.8,503.0 506.4,504.2 507.9,507.1 509.5,510.7" fill="none" stroke="#f4f4f4" stroke-width="2.3" stroke-opacity="0.8" stroke-dasharray="19.3,1.4,19.8,1.2,9.8,2.5,18.5,2.2,10.9,2.0,15.0,0.9,13.1,1.7,13.7,2.2,9.3,1.9,18.7,1.3,10.1,1.7,12.9,1.4,9.5,1.4,17.7,1.2,14.3,2.3,12.6,1.2,12.2,0.8,17.1,1.2,6.8,1.4,13.1,1.3"/><polyline points="399.3,506.7 400.9,505.9 402.4,508.3 404.0,511.6 405.6,515.4 407.2,519.0 408.7,521.9 410.3,523.5 411.9,523.2 413.5,521.2 415.0,518.0 416.6,514.2 418.2,510.5 419.8,507.5 421.3,505.4 422.9,507.5 424.5,510.5 426.1,514.2 427.6,518.0 429.2,521.2 430.8,523.2 432.4,523.7 433.9,522.7 435.5,520.2 437.1,516.7 438.7,512.9 440.2,509.4 441.8,506.6 443.4,506.0 445.0,508.4 446.5,511.8 448.1,515.6 449.7,519.2 451.3,522.0 452.8,523.6 454.4,523.5 456.0,521.9 457.5,519.0 459.1,515.4 460.7,511.6 462.3,508.3 463.8,505.9 465.4,506.7 467.0,509.5 468.6,513.1 470.1,516.9 471.7,520.3 473.3,522.7 474.9,523.1 476.4,520.9 478.0,517.6 479.6,513.9 481.2,510.2 482.7,507.2 484.3,505.6 485.9,507.7 487.5,510.9 489.0,514.6 490.6,518.4 492.2,521.4 493.8,523.3 495.3,523.4 496.9,521.7 498.5,518.7 500.1,515.0 501.6,511.3 503.2,508.0 504.8,505.8 506.4,507.0 507.9,509.9 509.5,513.5" fill="none" stroke="#e8e8e8" stroke-width="1.3" stroke-opacity="0.56" stroke-dasharray="6.5,2.9,10.9,2.8,7.5,1.2,6.7,1.8,13.2,2.9,9.4,1.1,11.8,2.3,9.1,2.7,7.6,1.5,10.2,1.8,14.3,1.8,8.2,2.3,11.0,2.9,14.1,1.2,12.9,1.9,8.1,1.2,11.6,1.3,13.4,1.1,7.6,1.9,10.3,2.9"/><polygon points="399.3,524.3 400.9,524.5 402.4,523.9 404.0,523.9 405.6,523.9 407.2,523.1 408.7,523.4 410.3,523.0 411.9,521.8 413.5,522.5 415.0,523.6 416.6,523.2 418.2,524.7 419.8,524.4 421.3,524.7 422.9,524.2 424.5,524.1 426.1,524.2 427.6,523.9 429.2,522.6 430.8,522.6 432.4,522.1 433.9,521.7 435.5,522.5 437.1,523.5 438.7,523.0 440.2,523.8 441.8,525.3 443.4,524.8 445.0,524.4 446.5,523.9 448.1,523.7 449.7,523.2 451.3,521.8 452.8,522.8 454.4,522.7 456.0,522.4 457.5,522.6 459.1,523.0 460.7,524.0 462.3,524.0 463.8,524.5 465.4,524.9 467.0,524.4 468.6,523.5 470.1,522.6 471.7,523.1 473.3,521.9 474.9,522.1 476.4,522.5 478.0,523.2 479.6,523.6 481.2,524.2 482.7,524.3 484.3,524.8 485.9,525.3 487.5,525.0 489.0,523.2 490.6,523.5 492.2,522.1 493.8,521.9 495.3,522.7 496.9,522.2 498.5,522.6 500.1,522.6 501.6,523.8 503.2,523.7 504.8,523.9 506.4,525.1 507.9,523.9 509.5,524.7 509.5,530.0 399.3,530.0" fill="#f6f6f6" fill-opacity="0.95"/><clipPath id="cb15"><polygon points="399.3,524.3 400.9,524.5 402.4,523.9 404.0,523.9 405.6,523.9 407.2,523.1 408.7,523.4 410.3,523.0 411.9,521.8 413.5,522.5 415.0,523.6 416.6,523.2 418.2,524.7 419.8,524.4 421.3,524.7 422.9,524.2 424.5,524.1 426.1,524.2 427.6,523.9 429.2,522.6 430.8,522.6 432.4,522.1 433.9,521.7 435.5,522.5 437.1,523.5 438.7,523.0 440.2,523.8 441.8,525.3 443.4,524.8 445.0,524.4 446.5,523.9 448.1,523.7 449.7,523.2 451.3,521.8 452.8,522.8 454.4,522.7 456.0,522.4 457.5,522.6 459.1,523.0 460.7,524.0 462.3,524.0 463.8,524.5 465.4,524.9 467.0,524.4 468.6,523.5 470.1,522.6 471.7,523.1 473.3,521.9 474.9,522.1 476.4,522.5 478.0,523.2 479.6,523.6 481.2,524.2 482.7,524.3 484.3,524.8 485.9,525.3 487.5,525.0 489.0,523.2 490.6,523.5 492.2,522.1 493.8,521.9 495.3,522.7 496.9,522.2 498.5,522.6 500.1,522.6 501.6,523.8 503.2,523.7 504.8,523.9 506.4,525.1 507.9,523.9 509.5,524.7 509.5,530.0 399.3,530.0"/></clipPath><rect x="399.3" y="473" width="110.19999999999999" height="57" fill="#000" filter="url(#nb15)" clip-path="url(#cb15)" opacity="0.22"/><rect x="399.3" y="473" width="110.19999999999999" height="2.2" fill="#e4e4e4" fill-opacity="0.85"/></g></g><rect x="399.8" y="473.5" width="109.19999999999999" height="56" fill="none" stroke="#666666" stroke-width="1"/><text x="10.00" y="557.50" font-size="12" fill="#231f20" stroke="#231f20" stroke-width="0.15" textLength="5.50" lengthAdjust="spacingAndGlyphs" >E</text><text x="108.75" y="554.40" font-size="10.5" fill="#231f20" stroke="#231f20" stroke-width="0.15" textLength="50.75" lengthAdjust="spacingAndGlyphs" >Protocol 6A</text><line x1="108.75" y1="555.80" x2="159.80" y2="555.80" stroke="#231f20" stroke-width="0.9"/><line x1="57.00" y1="593.00" x2="57.00" y2="671.20" stroke="#231f20" stroke-width="1.2"/><line x1="53.60" y1="670.80" x2="60.00" y2="670.80" stroke="#231f20" stroke-width="1.1"/><line x1="57.00" y1="678.30" x2="57.00" y2="698.20" stroke="#231f20" stroke-width="1.2"/><line x1="53.60" y1="678.70" x2="60.00" y2="678.70" stroke="#231f20" stroke-width="1.1"/><line x1="56.40" y1="697.70" x2="210.50" y2="697.70" stroke="#231f20" stroke-width="1.2"/><line x1="53.60" y1="604.50" x2="57.00" y2="604.50" stroke="#231f20" stroke-width="1"/><line x1="53.60" y1="626.50" x2="57.00" y2="626.50" stroke="#231f20" stroke-width="1"/><line x1="53.60" y1="648.70" x2="57.00" y2="648.70" stroke="#231f20" stroke-width="1"/><line x1="53.60" y1="697.70" x2="57.00" y2="697.70" stroke="#231f20" stroke-width="1"/><text x="41.30" y="607.40" font-size="8.5" fill="#231f20" stroke="#231f20" stroke-width="0.15" textLength="8.90" lengthAdjust="spacingAndGlyphs" >50</text><text x="41.30" y="629.40" font-size="8.5" fill="#231f20" stroke="#231f20" stroke-width="0.15" textLength="8.90" lengthAdjust="spacingAndGlyphs" >40</text><text x="41.30" y="651.60" font-size="8.5" fill="#231f20" stroke="#231f20" stroke-width="0.15" textLength="8.90" lengthAdjust="spacingAndGlyphs" >30</text><text x="41.30" y="673.20" font-size="8.5" fill="#231f20" stroke="#231f20" stroke-width="0.15" textLength="8.90" lengthAdjust="spacingAndGlyphs" >20</text><text x="41.30" y="681.20" font-size="8.5" fill="#231f20" stroke="#231f20" stroke-width="0.15" textLength="8.90" lengthAdjust="spacingAndGlyphs" >20</text><text x="45.90" y="700.40" font-size="8.5" fill="#231f20" stroke="#231f20" stroke-width="0.15" textLength="4.30" lengthAdjust="spacingAndGlyphs" >0</text><line x1="74.30" y1="697.70" x2="74.30" y2="701.00" stroke="#231f20" stroke-width="1"/><line x1="113.75" y1="697.70" x2="113.75" y2="701.00" stroke="#231f20" stroke-width="1"/><line x1="153.25" y1="697.70" x2="153.25" y2="701.00" stroke="#231f20" stroke-width="1"/><line x1="193.00" y1="697.70" x2="193.00" y2="701.00" stroke="#231f20" stroke-width="1"/><text x="60.40" y="712.20" font-size="9" fill="#231f20" stroke="#231f20" stroke-width="0.15" textLength="27.30" lengthAdjust="spacingAndGlyphs" >Control</text><text x="107.90" y="712.20" font-size="9" fill="#231f20" stroke="#231f20" stroke-width="0.15" textLength="11.70" lengthAdjust="spacingAndGlyphs" >Cfz</text><text x="146.25" y="712.20" font-size="9" fill="#231f20" stroke="#231f20" stroke-width="0.15" textLength="14.25" lengthAdjust="spacingAndGlyphs" >Met</text><text x="177.50" y="712.20" font-size="9" fill="#231f20" stroke="#231f20" stroke-width="0.15" textLength="31.25" lengthAdjust="spacingAndGlyphs" >Cfz+Met</text><text transform="translate(34.60,710.70) rotate(-90)" x="0" y="0" font-size="10.5" fill="#231f20" stroke="#231f20" stroke-width="0.15" textLength="131.20" lengthAdjust="spacingAndGlyphs">Fractional shortening % (FS%)</text><circle cx="174.80" cy="677.20" r="2.35" fill="none" stroke="#3f5f93" stroke-width="0.95"/><text x="180.70" y="679.40" font-size="8" fill="#231f20" stroke="#231f20" stroke-width="0.15" textLength="27.70" lengthAdjust="spacingAndGlyphs" >Baseline</text><circle cx="174.80" cy="689.00" r="2.35" fill="none" stroke="#b3313f" stroke-width="0.95"/><text x="180.70" y="690.90" font-size="8" fill="#231f20" stroke="#231f20" stroke-width="0.15" textLength="21.10" lengthAdjust="spacingAndGlyphs" >2 days</text><line x1="80.20" y1="566.90" x2="201.30" y2="566.90" stroke="#3a3a3a" stroke-width="1.1"/><line x1="80.70" y1="565.10" x2="80.70" y2="568.70" stroke="#3a3a3a" stroke-width="1.1"/><line x1="200.80" y1="565.10" x2="200.80" y2="568.70" stroke="#3a3a3a" stroke-width="1.1"/><circle cx="139.65" cy="562.40" r="1.05" fill="#3a3a3a"/><circle cx="142.95" cy="562.40" r="1.05" fill="#3a3a3a"/><line x1="121.70" y1="580.20" x2="200.20" y2="580.20" stroke="#3a3a3a" stroke-width="1.1"/><line x1="122.20" y1="578.40" x2="122.20" y2="582.00" stroke="#3a3a3a" stroke-width="1.1"/><line x1="199.70" y1="578.40" x2="199.70" y2="582.00" stroke="#3a3a3a" stroke-width="1.1"/><circle cx="158.00" cy="575.80" r="1.05" fill="#3a3a3a"/><circle cx="161.30" cy="575.80" r="1.05" fill="#3a3a3a"/><circle cx="164.60" cy="575.80" r="1.05" fill="#3a3a3a"/><line x1="81.30" y1="595.40" x2="122.30" y2="595.40" stroke="#3a3a3a" stroke-width="1.1"/><line x1="81.80" y1="593.60" x2="81.80" y2="597.20" stroke="#3a3a3a" stroke-width="1.1"/><line x1="121.80" y1="593.60" x2="121.80" y2="597.20" stroke="#3a3a3a" stroke-width="1.1"/><circle cx="97.05" cy="590.40" r="1.05" fill="#3a3a3a"/><circle cx="100.35" cy="590.40" r="1.05" fill="#3a3a3a"/><circle cx="103.65" cy="590.40" r="1.05" fill="#3a3a3a"/><circle cx="106.95" cy="590.40" r="1.05" fill="#3a3a3a"/><line x1="122.30" y1="595.40" x2="163.80" y2="595.40" stroke="#3a3a3a" stroke-width="1.1"/><line x1="122.80" y1="593.60" x2="122.80" y2="597.20" stroke="#3a3a3a" stroke-width="1.1"/><line x1="163.30" y1="593.60" x2="163.30" y2="597.20" stroke="#3a3a3a" stroke-width="1.1"/><circle cx="138.25" cy="590.40" r="1.05" fill="#3a3a3a"/><circle cx="141.55" cy="590.40" r="1.05" fill="#3a3a3a"/><circle cx="144.85" cy="590.40" r="1.05" fill="#3a3a3a"/><circle cx="148.15" cy="590.40" r="1.05" fill="#3a3a3a"/><rect x="120.8" y="594" width="2.8" height="2.8" fill="white" stroke="#3a3a3a" stroke-width="0.8"/><circle cx="66.50" cy="606.90" r="2.35" fill="none" stroke="#3f5f93" stroke-width="0.95"/><circle cx="67.20" cy="608.50" r="2.35" fill="none" stroke="#3f5f93" stroke-width="0.95"/><circle cx="66.00" cy="610.50" r="2.35" fill="none" stroke="#3f5f93" stroke-width="0.95"/><circle cx="67.50" cy="612.20" r="2.35" fill="none" stroke="#3f5f93" stroke-width="0.95"/><circle cx="66.30" cy="614.20" r="2.35" fill="none" stroke="#3f5f93" stroke-width="0.95"/><circle cx="66.80" cy="616.60" r="2.35" fill="none" stroke="#3f5f93" stroke-width="0.95"/><circle cx="103.10" cy="606.90" r="2.35" fill="none" stroke="#3f5f93" stroke-width="0.95"/><circle cx="108.50" cy="607.30" r="2.35" fill="none" stroke="#3f5f93" stroke-width="0.95"/><circle cx="110.00" cy="609.60" r="2.35" fill="none" stroke="#3f5f93" stroke-width="0.95"/><circle cx="101.90" cy="614.20" r="2.35" fill="none" stroke="#3f5f93" stroke-width="0.95"/><circle cx="107.30" cy="614.20" r="2.35" fill="none" stroke="#3f5f93" stroke-width="0.95"/><circle cx="105.00" cy="616.20" r="2.35" fill="none" stroke="#3f5f93" stroke-width="0.95"/><circle cx="141.90" cy="607.70" r="2.35" fill="none" stroke="#3f5f93" stroke-width="0.95"/><circle cx="150.00" cy="605.40" r="2.35" fill="none" stroke="#3f5f93" stroke-width="0.95"/><circle cx="144.60" cy="612.30" r="2.35" fill="none" stroke="#3f5f93" stroke-width="0.95"/><circle cx="148.10" cy="610.40" r="2.35" fill="none" stroke="#3f5f93" stroke-width="0.95"/><circle cx="183.80" cy="607.30" r="2.35" fill="none" stroke="#3f5f93" stroke-width="0.95"/><circle cx="187.70" cy="608.10" r="2.35" fill="none" stroke="#3f5f93" stroke-width="0.95"/><circle cx="185.00" cy="610.40" r="2.35" fill="none" stroke="#3f5f93" stroke-width="0.95"/><circle cx="186.50" cy="613.10" r="2.35" fill="none" stroke="#3f5f93" stroke-width="0.95"/><circle cx="185.80" cy="615.80" r="2.35" fill="none" stroke="#3f5f93" stroke-width="0.95"/><circle cx="80.20" cy="606.90" r="2.35" fill="none" stroke="#b3313f" stroke-width="0.95"/><circle cx="83.00" cy="607.40" r="2.35" fill="none" stroke="#b3313f" stroke-width="0.95"/><circle cx="81.50" cy="609.50" r="2.35" fill="none" stroke="#b3313f" stroke-width="0.95"/><circle cx="79.80" cy="611.60" r="2.35" fill="none" stroke="#b3313f" stroke-width="0.95"/><circle cx="82.60" cy="612.30" r="2.35" fill="none" stroke="#b3313f" stroke-width="0.95"/><circle cx="80.50" cy="614.80" r="2.35" fill="none" stroke="#b3313f" stroke-width="0.95"/><circle cx="83.00" cy="615.50" r="2.35" fill="none" stroke="#b3313f" stroke-width="0.95"/><circle cx="81.30" cy="617.60" r="2.35" fill="none" stroke="#b3313f" stroke-width="0.95"/><circle cx="81.50" cy="621.80" r="2.35" fill="none" stroke="#b3313f" stroke-width="0.95"/><circle cx="118.00" cy="627.20" r="2.35" fill="none" stroke="#b3313f" stroke-width="0.95"/><circle cx="121.00" cy="626.20" r="2.35" fill="none" stroke="#b3313f" stroke-width="0.95"/><circle cx="124.00" cy="625.70" r="2.35" fill="none" stroke="#b3313f" stroke-width="0.95"/><circle cx="126.00" cy="627.00" r="2.35" fill="none" stroke="#b3313f" stroke-width="0.95"/><circle cx="120.00" cy="628.60" r="2.35" fill="none" stroke="#b3313f" stroke-width="0.95"/><circle cx="123.00" cy="628.60" r="2.35" fill="none" stroke="#b3313f" stroke-width="0.95"/><circle cx="156.50" cy="614.80" r="2.35" fill="none" stroke="#b3313f" stroke-width="0.95"/><circle cx="159.60" cy="616.90" r="2.35" fill="none" stroke="#b3313f" stroke-width="0.95"/><circle cx="161.90" cy="615.00" r="2.35" fill="none" stroke="#b3313f" stroke-width="0.95"/><circle cx="165.40" cy="613.80" r="2.35" fill="none" stroke="#b3313f" stroke-width="0.95"/><circle cx="158.80" cy="617.80" r="2.35" fill="none" stroke="#b3313f" stroke-width="0.95"/><circle cx="196.20" cy="613.10" r="2.35" fill="none" stroke="#b3313f" stroke-width="0.95"/><circle cx="204.20" cy="613.50" r="2.35" fill="none" stroke="#b3313f" stroke-width="0.95"/><circle cx="199.60" cy="615.80" r="2.35" fill="none" stroke="#b3313f" stroke-width="0.95"/><circle cx="201.90" cy="617.30" r="2.35" fill="none" stroke="#b3313f" stroke-width="0.95"/><circle cx="199.60" cy="619.60" r="2.35" fill="none" stroke="#b3313f" stroke-width="0.95"/><circle cx="200.40" cy="621.90" r="2.35" fill="none" stroke="#b3313f" stroke-width="0.95"/><circle cx="199.60" cy="625.60" r="2.35" fill="none" stroke="#b3313f" stroke-width="0.95"/><line x1="61.20" y1="611.40" x2="71.50" y2="611.40" stroke="#231f20" stroke-width="1.1"/><line x1="76.20" y1="612.70" x2="86.50" y2="612.70" stroke="#231f20" stroke-width="1.1"/><line x1="100.50" y1="611.20" x2="110.50" y2="611.20" stroke="#231f20" stroke-width="1.1"/><line x1="116.50" y1="626.80" x2="126.50" y2="626.80" stroke="#231f20" stroke-width="1.1"/><line x1="140.50" y1="608.80" x2="150.50" y2="608.80" stroke="#231f20" stroke-width="1.1"/><line x1="155.50" y1="615.40" x2="166.00" y2="615.40" stroke="#231f20" stroke-width="1.1"/><line x1="180.40" y1="612.70" x2="190.80" y2="612.70" stroke="#231f20" stroke-width="1.1"/><line x1="195.00" y1="618.80" x2="205.80" y2="618.80" stroke="#231f20" stroke-width="1.1"/><text x="272.00" y="557.50" font-size="12" fill="#231f20" stroke="#231f20" stroke-width="0.15" textLength="5.60" lengthAdjust="spacingAndGlyphs" >F</text><text x="368.75" y="554.40" font-size="10.5" fill="#231f20" stroke="#231f20" stroke-width="0.15" textLength="50.50" lengthAdjust="spacingAndGlyphs" >Protocol 6B</text><line x1="368.75" y1="555.80" x2="419.50" y2="555.80" stroke="#231f20" stroke-width="0.9"/><line x1="318.80" y1="585.80" x2="318.80" y2="680.00" stroke="#231f20" stroke-width="1.2"/><line x1="315.40" y1="679.60" x2="321.90" y2="679.60" stroke="#231f20" stroke-width="1.1"/><line x1="318.80" y1="687.80" x2="318.80" y2="698.10" stroke="#231f20" stroke-width="1.2"/><line x1="315.40" y1="688.20" x2="321.90" y2="688.20" stroke="#231f20" stroke-width="1.1"/><line x1="318.20" y1="697.60" x2="469.30" y2="697.60" stroke="#231f20" stroke-width="1.2"/><line x1="315.40" y1="589.20" x2="318.80" y2="589.20" stroke="#231f20" stroke-width="1"/><line x1="315.40" y1="625.50" x2="318.80" y2="625.50" stroke="#231f20" stroke-width="1"/><line x1="315.40" y1="661.70" x2="318.80" y2="661.70" stroke="#231f20" stroke-width="1"/><line x1="315.40" y1="689.80" x2="318.80" y2="689.80" stroke="#231f20" stroke-width="1"/><line x1="315.40" y1="697.60" x2="318.80" y2="697.60" stroke="#231f20" stroke-width="1"/><text x="303.50" y="592.10" font-size="8.5" fill="#231f20" stroke="#231f20" stroke-width="0.15" textLength="8.90" lengthAdjust="spacingAndGlyphs" >50</text><text x="303.50" y="628.40" font-size="8.5" fill="#231f20" stroke="#231f20" stroke-width="0.15" textLength="8.90" lengthAdjust="spacingAndGlyphs" >40</text><text x="303.50" y="664.60" font-size="8.5" fill="#231f20" stroke="#231f20" stroke-width="0.15" textLength="8.90" lengthAdjust="spacingAndGlyphs" >30</text><text x="303.50" y="692.30" font-size="8.5" fill="#231f20" stroke="#231f20" stroke-width="0.15" textLength="8.90" lengthAdjust="spacingAndGlyphs" >20</text><text x="308.00" y="700.50" font-size="8.5" fill="#231f20" stroke="#231f20" stroke-width="0.15" textLength="4.40" lengthAdjust="spacingAndGlyphs" >0</text><line x1="335.80" y1="697.60" x2="335.80" y2="701.00" stroke="#231f20" stroke-width="1"/><line x1="374.50" y1="697.60" x2="374.50" y2="701.00" stroke="#231f20" stroke-width="1"/><line x1="413.00" y1="697.60" x2="413.00" y2="701.00" stroke="#231f20" stroke-width="1"/><line x1="451.75" y1="697.60" x2="451.75" y2="701.00" stroke="#231f20" stroke-width="1"/><text x="322.00" y="712.20" font-size="9" fill="#231f20" stroke="#231f20" stroke-width="0.15" textLength="27.30" lengthAdjust="spacingAndGlyphs" >Control</text><text x="369.30" y="712.20" font-size="9" fill="#231f20" stroke="#231f20" stroke-width="0.15" textLength="11.20" lengthAdjust="spacingAndGlyphs" >Cfz</text><text x="405.75" y="712.20" font-size="9" fill="#231f20" stroke="#231f20" stroke-width="0.15" textLength="14.25" lengthAdjust="spacingAndGlyphs" >Met</text><text x="435.50" y="712.20" font-size="9" fill="#231f20" stroke="#231f20" stroke-width="0.15" textLength="32.00" lengthAdjust="spacingAndGlyphs" >Cfz+Met</text><text transform="translate(297.00,708.00) rotate(-90)" x="0" y="0" font-size="10.5" fill="#231f20" stroke="#231f20" stroke-width="0.15" textLength="130.60" lengthAdjust="spacingAndGlyphs">Fractional shortening % (FS%)</text><circle cx="433.00" cy="677.20" r="2.35" fill="none" stroke="#3f5f93" stroke-width="0.95"/><text x="438.75" y="679.40" font-size="8" fill="#231f20" stroke="#231f20" stroke-width="0.15" textLength="28.75" lengthAdjust="spacingAndGlyphs" >Baseline</text><circle cx="433.00" cy="689.00" r="2.35" fill="none" stroke="#b3313f" stroke-width="0.95"/><text x="438.75" y="690.90" font-size="8" fill="#231f20" stroke="#231f20" stroke-width="0.15" textLength="20.00" lengthAdjust="spacingAndGlyphs" >6days</text><line x1="343.30" y1="593.00" x2="382.50" y2="593.00" stroke="#3a3a3a" stroke-width="1.1"/><line x1="343.80" y1="591.20" x2="343.80" y2="594.80" stroke="#3a3a3a" stroke-width="1.1"/><line x1="382.00" y1="591.20" x2="382.00" y2="594.80" stroke="#3a3a3a" stroke-width="1.1"/><circle cx="362.50" cy="588.60" r="1.05" fill="#3a3a3a"/><line x1="382.50" y1="593.00" x2="457.50" y2="593.00" stroke="#3a3a3a" stroke-width="1.1"/><line x1="383.00" y1="591.20" x2="383.00" y2="594.80" stroke="#3a3a3a" stroke-width="1.1"/><line x1="457.00" y1="591.20" x2="457.00" y2="594.80" stroke="#3a3a3a" stroke-width="1.1"/><circle cx="420.50" cy="588.60" r="1.05" fill="#3a3a3a"/><rect x="381.1" y="591.6" width="2.8" height="2.8" fill="white" stroke="#3a3a3a" stroke-width="0.8"/><circle cx="324.50" cy="606.50" r="2.35" fill="none" stroke="#3f5f93" stroke-width="0.95"/><circle cx="330.70" cy="608.00" r="2.35" fill="none" stroke="#3f5f93" stroke-width="0.95"/><circle cx="331.50" cy="609.90" r="2.35" fill="none" stroke="#3f5f93" stroke-width="0.95"/><circle cx="324.90" cy="616.50" r="2.35" fill="none" stroke="#3f5f93" stroke-width="0.95"/><circle cx="328.00" cy="617.60" r="2.35" fill="none" stroke="#3f5f93" stroke-width="0.95"/><circle cx="332.20" cy="616.10" r="2.35" fill="none" stroke="#3f5f93" stroke-width="0.95"/><circle cx="329.50" cy="618.40" r="2.35" fill="none" stroke="#3f5f93" stroke-width="0.95"/><circle cx="327.20" cy="614.50" r="2.35" fill="none" stroke="#3f5f93" stroke-width="0.95"/><circle cx="363.50" cy="603.30" r="2.35" fill="none" stroke="#3f5f93" stroke-width="0.95"/><circle cx="369.60" cy="609.10" r="2.35" fill="none" stroke="#3f5f93" stroke-width="0.95"/><circle cx="368.80" cy="611.00" r="2.35" fill="none" stroke="#3f5f93" stroke-width="0.95"/><circle cx="363.50" cy="616.00" r="2.35" fill="none" stroke="#3f5f93" stroke-width="0.95"/><circle cx="366.50" cy="616.80" r="2.35" fill="none" stroke="#3f5f93" stroke-width="0.95"/><circle cx="371.20" cy="616.00" r="2.35" fill="none" stroke="#3f5f93" stroke-width="0.95"/><circle cx="366.50" cy="619.10" r="2.35" fill="none" stroke="#3f5f93" stroke-width="0.95"/><circle cx="365.00" cy="613.70" r="2.35" fill="none" stroke="#3f5f93" stroke-width="0.95"/><circle cx="401.90" cy="608.30" r="2.35" fill="none" stroke="#3f5f93" stroke-width="0.95"/><circle cx="409.60" cy="607.90" r="2.35" fill="none" stroke="#3f5f93" stroke-width="0.95"/><circle cx="404.20" cy="611.40" r="2.35" fill="none" stroke="#3f5f93" stroke-width="0.95"/><circle cx="407.30" cy="611.80" r="2.35" fill="none" stroke="#3f5f93" stroke-width="0.95"/><circle cx="405.80" cy="610.20" r="2.35" fill="none" stroke="#3f5f93" stroke-width="0.95"/><circle cx="441.90" cy="605.30" r="2.35" fill="none" stroke="#3f5f93" stroke-width="0.95"/><circle cx="450.80" cy="604.50" r="2.35" fill="none" stroke="#3f5f93" stroke-width="0.95"/><circle cx="439.60" cy="609.50" r="2.35" fill="none" stroke="#3f5f93" stroke-width="0.95"/><circle cx="443.50" cy="609.50" r="2.35" fill="none" stroke="#3f5f93" stroke-width="0.95"/><circle cx="447.70" cy="609.50" r="2.35" fill="none" stroke="#3f5f93" stroke-width="0.95"/><circle cx="445.80" cy="614.50" r="2.35" fill="none" stroke="#3f5f93" stroke-width="0.95"/><circle cx="448.10" cy="615.70" r="2.35" fill="none" stroke="#3f5f93" stroke-width="0.95"/><circle cx="441.90" cy="623.00" r="2.35" fill="none" stroke="#3f5f93" stroke-width="0.95"/><circle cx="344.20" cy="605.30" r="2.35" fill="none" stroke="#b3313f" stroke-width="0.95"/><circle cx="341.10" cy="610.30" r="2.35" fill="none" stroke="#b3313f" stroke-width="0.95"/><circle cx="344.20" cy="610.70" r="2.35" fill="none" stroke="#b3313f" stroke-width="0.95"/><circle cx="342.60" cy="612.20" r="2.35" fill="none" stroke="#b3313f" stroke-width="0.95"/><circle cx="341.10" cy="616.10" r="2.35" fill="none" stroke="#b3313f" stroke-width="0.95"/><circle cx="344.90" cy="618.40" r="2.35" fill="none" stroke="#b3313f" stroke-width="0.95"/><circle cx="342.60" cy="622.60" r="2.35" fill="none" stroke="#b3313f" stroke-width="0.95"/><circle cx="381.50" cy="612.50" r="2.35" fill="none" stroke="#b3313f" stroke-width="0.95"/><circle cx="381.20" cy="616.00" r="2.35" fill="none" stroke="#b3313f" stroke-width="0.95"/><circle cx="381.50" cy="616.80" r="2.35" fill="none" stroke="#b3313f" stroke-width="0.95"/><circle cx="381.50" cy="622.20" r="2.35" fill="none" stroke="#b3313f" stroke-width="0.95"/><circle cx="381.50" cy="624.80" r="2.35" fill="none" stroke="#b3313f" stroke-width="0.95"/><circle cx="420.40" cy="610.20" r="2.35" fill="none" stroke="#b3313f" stroke-width="0.95"/><circle cx="419.20" cy="612.50" r="2.35" fill="none" stroke="#b3313f" stroke-width="0.95"/><circle cx="421.90" cy="613.30" r="2.35" fill="none" stroke="#b3313f" stroke-width="0.95"/><circle cx="419.60" cy="614.80" r="2.35" fill="none" stroke="#b3313f" stroke-width="0.95"/><circle cx="420.00" cy="620.20" r="2.35" fill="none" stroke="#b3313f" stroke-width="0.95"/><circle cx="458.80" cy="605.70" r="2.35" fill="none" stroke="#b3313f" stroke-width="0.95"/><circle cx="460.00" cy="606.80" r="2.35" fill="none" stroke="#b3313f" stroke-width="0.95"/><circle cx="457.70" cy="610.70" r="2.35" fill="none" stroke="#b3313f" stroke-width="0.95"/><circle cx="458.80" cy="613.40" r="2.35" fill="none" stroke="#b3313f" stroke-width="0.95"/><circle cx="458.10" cy="616.50" r="2.35" fill="none" stroke="#b3313f" stroke-width="0.95"/><circle cx="459.60" cy="617.60" r="2.35" fill="none" stroke="#b3313f" stroke-width="0.95"/><circle cx="458.80" cy="623.00" r="2.35" fill="none" stroke="#b3313f" stroke-width="0.95"/><line x1="323.40" y1="613.80" x2="334.20" y2="613.80" stroke="#231f20" stroke-width="1.1"/><line x1="338.00" y1="613.80" x2="348.00" y2="613.80" stroke="#231f20" stroke-width="1.1"/><line x1="362.70" y1="613.30" x2="371.50" y2="613.30" stroke="#231f20" stroke-width="1.1"/><line x1="376.50" y1="620.00" x2="386.50" y2="620.00" stroke="#231f20" stroke-width="1.1"/><line x1="399.20" y1="609.80" x2="412.30" y2="609.80" stroke="#231f20" stroke-width="1.1"/><line x1="415.40" y1="614.50" x2="425.40" y2="614.50" stroke="#231f20" stroke-width="1.1"/><line x1="438.50" y1="611.70" x2="449.60" y2="611.70" stroke="#231f20" stroke-width="1.1"/><line x1="453.80" y1="613.50" x2="463.80" y2="613.50" stroke="#231f20" stroke-width="1.1"/><rect x="0.00" y="0.00" width="1.70" height="722.00" fill="#4f4f4f"/><rect x="0.00" y="0.00" width="520.00" height="1.60" fill="#4f4f4f"/><rect x="518.20" y="0.00" width="1.80" height="722.00" fill="#4f4f4f"/><rect x="0.00" y="720.60" width="520.00" height="1.40" fill="#1c1c1c"/></svg>
</body></html>
